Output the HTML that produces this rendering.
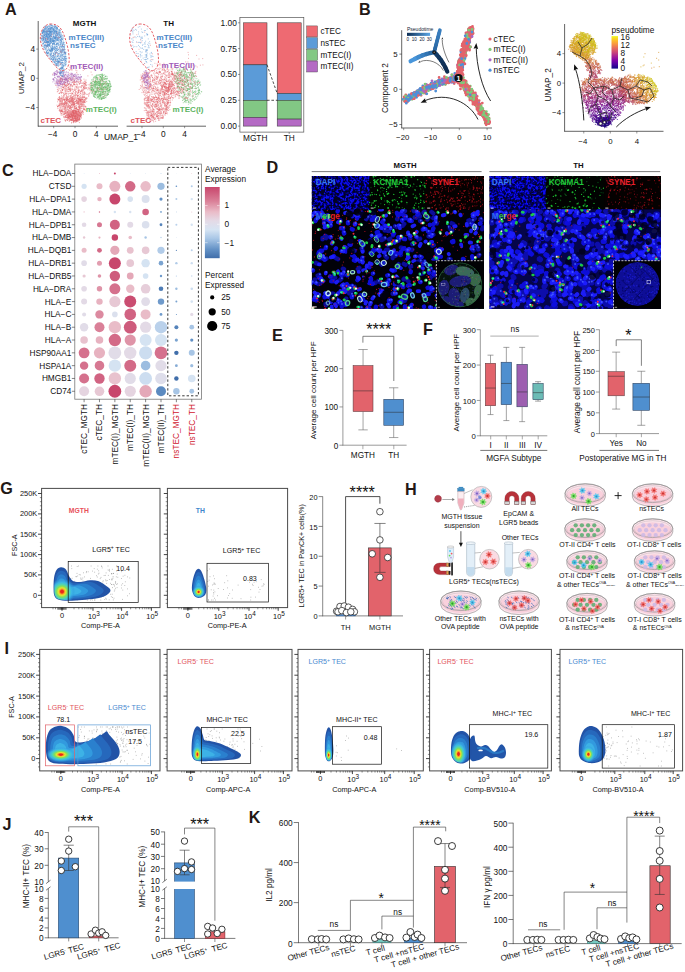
<!DOCTYPE html>
<html><head><meta charset="utf-8"><title>Figure</title>
<style>html,body{margin:0;padding:0;background:#fff}svg{display:block}text{font-family:'Liberation Sans', Arial, sans-serif}</style></head>
<body><svg width="685" height="972" viewBox="0 0 685 972">
<rect width="685" height="972" fill="#fff"/>
<text x="5.00" y="14.60" font-size="16.2" fill="#231815" text-anchor="start" font-weight="bold" >A</text>
<line x1="38.20" y1="21.00" x2="38.20" y2="126.50" stroke="#222" stroke-width="0.7" />
<line x1="37.90" y1="126.20" x2="118.00" y2="126.20" stroke="#222" stroke-width="0.7" />
<line x1="126.60" y1="126.20" x2="206.00" y2="126.20" stroke="#222" stroke-width="0.7" />
<line x1="53.68" y1="126.20" x2="53.68" y2="128.20" stroke="#333" stroke-width="0.5" />
<text x="52.68" y="137.10" font-size="8.3" fill="#111" text-anchor="middle" font-weight="normal" >−4</text>
<line x1="75.00" y1="126.20" x2="75.00" y2="128.20" stroke="#333" stroke-width="0.5" />
<text x="75.00" y="137.10" font-size="8.3" fill="#111" text-anchor="middle" font-weight="normal" >0</text>
<line x1="96.32" y1="126.20" x2="96.32" y2="128.20" stroke="#333" stroke-width="0.5" />
<text x="96.32" y="137.10" font-size="8.3" fill="#111" text-anchor="middle" font-weight="normal" >4</text>
<line x1="141.98" y1="126.20" x2="141.98" y2="128.20" stroke="#333" stroke-width="0.5" />
<text x="140.98" y="137.10" font-size="8.3" fill="#111" text-anchor="middle" font-weight="normal" >−4</text>
<line x1="163.30" y1="126.20" x2="163.30" y2="128.20" stroke="#333" stroke-width="0.5" />
<text x="163.30" y="137.10" font-size="8.3" fill="#111" text-anchor="middle" font-weight="normal" >0</text>
<line x1="184.62" y1="126.20" x2="184.62" y2="128.20" stroke="#333" stroke-width="0.5" />
<text x="184.62" y="137.10" font-size="8.3" fill="#111" text-anchor="middle" font-weight="normal" >4</text>
<line x1="36.20" y1="107.50" x2="38.20" y2="107.50" stroke="#333" stroke-width="0.5" />
<text x="35.00" y="110.20" font-size="8.3" fill="#111" text-anchor="end" font-weight="normal" >−4</text>
<line x1="36.20" y1="78.30" x2="38.20" y2="78.30" stroke="#333" stroke-width="0.5" />
<text x="35.00" y="81.00" font-size="8.3" fill="#111" text-anchor="end" font-weight="normal" >0</text>
<line x1="36.20" y1="49.10" x2="38.20" y2="49.10" stroke="#333" stroke-width="0.5" />
<text x="35.00" y="51.80" font-size="8.3" fill="#111" text-anchor="end" font-weight="normal" >4</text>
<text x="23.60" y="78.00" font-size="8" fill="#111" text-anchor="middle" font-weight="normal" transform="rotate(-90 23.60 78.00)" >UMAP_2</text>
<text x="121.00" y="140.30" font-size="8.5" fill="#111" text-anchor="middle" font-weight="normal" >UMAP_1</text>
<text x="84.60" y="25.80" font-size="8.0" fill="#111" text-anchor="middle" font-weight="bold" >MGTH</text>
<text x="168.70" y="25.80" font-size="8.0" fill="#111" text-anchor="middle" font-weight="bold" >TH</text>
<path transform="translate(52 66) scale(.1)" d="M138 238h0M319 217h0M303 252h0M160 309h0M159 233h0M96 230h0M130 194h0M324 191h0M219 187h0M226 142h0M256 311h0M267 368h0M53 258h0M205 123h0M275 340h0M246 181h0M316 242h0M220 300h0M102 334h0M276 321h0M122 337h0M108 136h0M359 237h0M262 297h0M331 176h0M143 277h0M105 242h0M361 220h0M266 375h0M274 177h0M313 180h0M338 166h0M186 197h0M288 151h0M120 221h0M75 307h0M195 318h0M267 247h0M328 269h0M318 193h0M236 165h0M156 140h0M150 320h0M286 138h0M163 215h0M272 241h0M233 323h0M299 198h0M206 205h0M80 152h0M146 188h0M150 259h0M321 316h0M236 356h0M288 255h0M84 244h0M111 138h0M231 315h0M161 330h0M218 155h0M377 239h0M159 334h0M96 299h0M112 218h0M130 340h0M254 279h0M224 184h0M301 229h0M280 211h0M165 233h0M59 254h0M377 188h0M307 240h0M37 194h0M343 283h0M328 269h0M168 300h0M61 233h0M182 229h0M82 185h0M243 232h0M324 259h0M351 320h0M250 168h0M323 176h0M236 292h0M235 248h0M53 169h0M261 245h0M98 264h0M115 298h0M154 152h0M68 161h0M108 263h0M289 365h0M99 183h0M70 275h0M139 163h0M147 133h0M301 284h0M205 310h0M110 203h0M115 215h0M207 345h0M154 107h0M316 210h0M104 214h0M170 337h0M182 127h0M371 277h0M78 141h0M213 136h0M258 277h0M313 354h0M277 305h0M124 132h0M276 362h0M166 311h0M84 127h0M147 239h0M239 258h0M185 243h0M392 249h0M186 274h0M253 189h0M288 274h0M125 160h0M186 118h0M87 139h0M144 279h0M333 190h0M141 341h0M293 143h0M307 317h0M115 278h0M118 182h0M221 242h0M214 255h0M117 319h0M221 186h0M106 243h0M199 270h0M225 105h0M347 326h0M366 302h0M114 214h0M205 278h0M186 294h0M127 208h0M233 237h0M270 331h0M108 237h0M177 274h0M130 132h0M196 282h0M191 185h0M320 230h0M160 189h0M274 182h0M287 160h0M175 239h0M189 205h0M79 151h0M269 239h0M185 310h0M162 254h0M146 204h0M227 159h0M131 240h0M205 325h0M258 266h0M338 161h0M74 228h0M80 265h0M247 150h0M283 271h0M204 359h0M344 168h0M110 306h0M162 212h0M224 334h0M294 215h0M152 303h0M286 292h0M323 177h0M252 326h0M189 234h0M343 226h0M129 100h0M153 315h0M167 257h0M165 351h0M133 260h0M304 354h0M311 281h0M94 317h0M90 191h0M145 321h0M189 132h0M172 202h0M295 199h0M299 251h0M191 231h0M209 339h0M89 222h0M227 231h0M261 230h0M201 273h0M164 281h0M291 143h0M285 301h0M263 256h0M299 247h0M140 147h0M117 335h0M144 294h0M177 159h0M97 123h0M86 141h0M97 327h0M222 159h0M231 264h0M206 162h0M198 342h0M176 230h0M383 174h0M282 251h0M318 214h0M233 202h0M291 338h0M362 188h0M226 171h0M332 211h0M296 172h0M169 210h0M119 104h0M325 367h0M122 170h0M178 133h0M281 208h0M245 373h0M379 267h0M92 264h0M340 223h0M328 150h0M105 189h0M281 343h0M135 251h0M226 243h0M244 344h0M130 249h0M101 245h0M316 382h0M215 174h0M261 214h0M89 259h0M319 364h0M385 218h0M128 139h0M203 320h0M125 340h0M304 173h0M275 336h0M340 336h0M136 195h0M383 189h0M149 310h0M104 238h0M183 252h0M255 301h0M185 350h0M201 307h0M192 193h0M262 353h0M329 176h0M132 319h0M284 341h0M100 348h0M192 183h0M144 302h0M145 196h0M316 218h0M315 209h0M161 218h0M96 107h0M218 300h0M324 222h0M302 307h0M85 130h0M303 301h0M121 338h0M325 206h0M159 155h0M198 148h0M235 276h0M254 134h0M275 324h0M93 276h0M330 155h0M281 348h0M137 276h0M328 176h0M324 272h0M317 232h0M196 357h0M97 156h0M177 322h0M158 190h0M323 226h0M168 184h0M193 313h0M320 132h0M54 234h0M260 354h0M217 148h0M221 129h0M327 314h0M183 191h0M77 310h0M163 123h0M99 327h0M255 153h0M268 158h0M285 272h0M316 308h0M295 353h0M308 365h0M177 119h0M109 189h0M61 133h0M219 187h0M139 314h0M180 301h0M122 290h0M135 165h0M218 112h0M130 161h0M182 130h0M210 305h0M334 191h0M124 186h0M151 241h0M259 296h0M129 283h0M223 294h0M83 125h0M369 223h0M309 272h0M256 297h0M158 337h0M193 146h0M128 198h0M391 247h0M76 174h0M172 347h0M163 227h0M222 183h0M142 327h0M269 261h0M167 138h0M262 268h0M278 174h0M247 209h0M340 140h0M199 339h0M209 278h0M79 168h0M189 245h0M326 303h0M335 183h0M120 292h0M242 257h0M129 185h0M300 204h0M209 365h0M124 181h0M241 124h0M244 154h0M260 223h0M72 200h0M344 191h0M160 277h0M139 270h0M304 195h0M212 261h0M164 185h0M91 258h0M290 257h0M202 222h0M283 172h0M290 252h0M266 355h0M131 227h0M150 131h0M240 285h0M189 360h0M48 197h0M316 170h0M175 326h0M168 182h0M346 214h0M119 232h0M300 241h0M232 186h0M376 226h0M354 284h0M370 213h0M182 218h0M333 212h0M320 310h0M231 157h0M121 303h0M100 267h0M322 286h0M251 188h0M43 164h0M245 218h0M134 196h0M199 337h0M213 166h0M233 303h0M291 332h0M138 164h0M311 387h0M120 270h0M207 198h0M312 162h0M177 232h0M130 283h0M76 161h0M283 330h0M267 265h0M312 366h0M188 332h0M160 178h0M181 254h0M123 176h0M106 235h0M207 332h0M269 243h0M332 277h0M113 329h0M220 357h0M285 152h0M319 261h0M230 219h0M215 382h0M103 150h0M180 238h0M179 226h0M279 347h0M67 218h0M207 236h0M86 130h0M281 381h0M63 245h0M240 262h0M367 291h0M112 211h0M243 290h0M194 297h0M78 350h0M179 159h0M75 275h0M242 313h0M220 287h0M136 130h0M329 163h0M154 171h0M150 253h0M239 355h0M231 273h0M239 293h0M307 264h0M278 356h0M263 297h0M101 130h0M344 193h0M210 330h0M286 371h0M211 326h0M203 139h0M244 206h0M334 227h0M132 222h0M60 151h0M143 203h0M201 197h0M144 227h0M187 309h0M104 134h0M155 195h0M308 300h0M370 279h0M249 211h0M142 133h0M174 351h0M295 242h0M208 238h0M104 143h0M173 177h0M69 314h0M264 258h0M169 237h0M152 171h0M203 274h0M255 299h0M118 183h0M261 208h0M266 166h0M286 349h0M223 164h0M100 111h0M272 287h0M319 286h0M203 166h0M271 153h0M140 213h0M167 148h0M138 132h0M161 417h0M150 394h0M110 457h0M234 455h0M210 511h0M318 343h0M164 437h0M87 401h0M183 334h0M177 353h0M175 394h0M71 338h0M202 321h0M151 336h0M247 486h0M89 425h0M261 347h0M290 469h0M59 426h0M249 436h0M141 369h0M236 373h0M271 400h0M217 555h0M219 528h0M79 445h0M223 359h0M244 475h0M182 510h0M98 332h0M234 469h0M260 529h0M184 444h0M227 408h0M282 508h0M111 488h0M126 390h0M223 444h0M215 381h0M283 349h0M69 394h0M211 528h0M145 344h0M131 370h0M105 354h0M246 344h0M240 425h0M238 419h0M89 325h0M99 388h0M193 534h0M169 446h0M263 448h0M109 453h0M306 454h0M73 380h0M260 411h0M95 452h0M291 487h0M132 382h0M75 393h0M211 541h0M142 514h0M333 405h0M133 468h0M292 349h0M225 544h0M246 541h0M198 478h0M283 420h0M175 496h0M80 442h0M104 448h0M196 397h0M258 455h0M194 534h0M77 350h0M347 356h0M197 417h0M134 445h0M311 426h0M230 563h0M185 410h0M182 509h0M224 553h0M154 329h0M248 551h0M303 392h0M268 412h0M243 449h0M111 435h0M175 363h0M282 382h0M176 424h0M298 403h0M157 413h0M204 340h0M80 397h0M281 352h0M272 493h0M321 436h0M247 368h0M262 328h0M281 472h0M136 357h0M190 492h0M215 392h0M210 352h0M224 419h0M285 336h0M101 376h0M181 397h0M224 431h0M148 483h0M214 364h0M163 477h0M224 428h0M200 463h0M302 318h0M73 321h0M336 324h0M167 483h0M323 400h0M112 376h0M110 386h0M183 374h0M151 453h0M122 373h0M312 465h0M238 560h0M280 498h0M162 397h0M195 430h0M100 490h0M233 441h0M187 415h0M281 501h0M91 477h0M156 540h0M297 464h0M298 360h0M171 512h0M200 535h0M161 477h0M252 551h0M233 470h0M153 381h0M256 436h0M79 328h0M272 400h0M121 477h0M131 402h0M153 515h0M252 537h0M212 408h0M318 360h0M338 328h0M94 449h0M146 497h0M227 384h0M179 325h0M305 330h0M213 452h0M254 493h0M152 350h0M224 445h0M242 557h0M218 366h0M156 545h0M138 397h0M251 550h0M298 316h0M216 480h0M86 377h0M281 506h0M330 334h0M263 369h0M249 480h0M257 524h0M256 439h0M167 356h0M143 475h0M243 455h0M295 463h0M166 338h0M88 436h0M134 358h0M296 422h0M255 516h0M219 377h0M207 371h0M143 470h0M107 427h0M139 516h0M118 513h0M178 427h0M205 517h0M211 532h0M248 373h0M139 360h0M261 349h0M309 458h0M171 454h0M211 470h0M197 384h0M235 550h0M89 378h0M215 391h0M68 397h0M263 491h0M58 404h0M315 482h0M250 550h0M146 342h0M231 485h0M214 560h0M262 326h0M237 354h0M214 433h0M166 388h0M91 473h0M327 336h0M273 414h0M142 502h0M312 354h0M262 366h0M213 472h0M165 382h0M141 388h0M50 392h0M124 485h0M240 483h0M138 470h0M263 457h0M264 437h0M129 509h0M196 542h0M213 466h0M71 392h0M244 413h0M132 378h0M134 367h0M204 317h0M241 422h0M137 375h0M173 447h0M316 424h0M216 472h0M316 347h0M293 380h0M162 492h0M146 385h0M215 372h0M122 344h0M274 566h0M67 397h0M308 458h0M94 379h0M125 334h0M84 349h0M204 511h0M198 489h0M67 332h0M313 371h0M299 373h0M292 427h0M89 322h0M280 399h0M66 336h0M147 348h0M163 473h0M332 401h0M215 495h0M276 430h0M276 427h0M275 470h0M193 541h0M155 408h0M197 328h0M215 340h0M312 396h0M300 372h0M262 474h0M230 541h0M143 372h0M250 429h0M106 457h0M310 315h0M178 352h0M254 512h0M136 498h0M89 445h0M246 444h0M255 514h0M167 488h0M249 544h0M226 381h0M160 486h0M212 359h0M290 464h0M218 383h0M190 381h0M139 415h0M224 408h0M161 409h0M140 329h0M323 388h0M268 511h0M244 332h0M215 567h0M190 394h0M237 462h0M142 516h0M296 327h0M81 453h0M56 358h0M283 355h0M280 466h0M321 317h0M201 390h0M262 384h0M230 423h0M79 339h0M194 382h0M218 326h0M242 511h0M65 335h0M244 426h0M151 500h0M273 390h0M154 359h0M302 474h0M238 339h0M304 342h0M205 534h0M151 439h0M338 408h0M184 402h0M175 422h0M229 477h0M120 425h0M157 497h0M173 411h0M286 482h0M82 453h0M106 383h0M236 526h0M149 465h0M100 434h0M133 452h0M149 430h0M174 472h0M251 458h0M263 535h0M188 322h0M266 436h0M275 518h0M85 416h0M246 424h0M193 438h0M289 333h0M224 527h0M263 348h0M119 406h0M148 369h0M206 384h0M83 451h0M329 356h0M96 443h0M329 433h0M107 470h0M144 340h0M235 426h0M317 406h0M100 415h0M170 370h0M170 489h0M281 451h0M195 351h0M254 372h0M292 386h0M183 425h0M270 429h0M154 463h0M223 525h0M175 481h0M221 361h0M256 538h0M179 544h0M224 379h0M262 379h0M208 416h0M244 545h0M217 312h0M158 454h0M277 466h0M96 474h0M300 456h0M304 445h0M81 386h0M238 529h0M265 337h0M183 533h0M175 526h0M258 311h0M296 404h0M103 456h0M175 338h0M327 437h0M203 472h0M262 373h0M180 432h0M288 336h0M224 339h0M224 382h0M327 351h0M131 373h0M120 474h0M195 339h0M151 321h0M274 428h0M287 315h0M127 469h0M116 486h0M201 524h0M334 343h0M267 330h0M211 390h0M192 496h0M187 484h0M117 382h0M339 322h0M302 382h0M200 380h0M250 542h0M238 500h0M75 329h0M66 337h0M84 334h0M155 462h0M326 362h0M316 433h0M241 394h0M57 404h0M233 465h0M131 425h0M140 335h0M227 450h0M177 504h0M232 546h0M134 401h0M178 365h0M205 403h0M268 531h0M271 494h0M121 384h0M317 332h0M86 464h0M124 451h0M197 416h0M289 389h0M274 401h0M307 361h0M117 411h0M112 399h0M169 506h0M248 508h0M202 391h0M227 371h0M133 474h0M192 343h0M137 456h0M290 370h0M125 430h0M142 534h0M208 382h0M163 450h0M129 462h0M275 372h0M144 348h0M141 515h0M161 340h0M107 448h0M136 430h0M177 418h0M299 334h0M302 335h0M90 366h0M95 456h0M250 363h0M259 439h0M118 376h0M229 328h0M294 521h0M198 323h0M244 415h0M70 406h0M184 347h0M326 431h0M279 453h0M168 448h0M182 412h0M193 438h0M183 410h0M253 342h0M170 487h0M213 521h0M136 551h0M136 438h0M118 505h0M267 366h0M264 324h0M187 513h0M130 475h0M187 320h0M82 354h0M128 332h0M67 335h0M254 368h0M270 405h0M225 472h0M258 356h0M221 332h0M176 504h0M269 409h0M134 498h0M233 427h0M146 489h0M252 329h0M195 570h0M290 446h0M95 443h0M341 316h0M168 407h0M279 344h0M264 387h0M190 344h0M211 348h0M196 353h0M261 328h0M134 547h0M74 379h0M164 408h0M286 346h0M167 520h0M182 540h0M203 443h0M231 406h0M273 494h0M267 457h0M189 404h0M209 449h0M221 320h0M245 347h0M198 564h0M203 361h0M105 319h0M136 543h0M173 550h0M333 366h0M162 502h0M130 487h0M231 508h0M131 474h0M91 383h0M256 533h0M114 392h0M77 318h0M144 443h0M61 342h0M258 519h0M143 403h0M338 411h0M114 462h0M203 359h0M288 480h0M149 411h0M271 316h0M262 454h0M270 503h0M152 468h0M191 497h0M319 412h0M220 474h0M215 346h0M128 333h0M146 366h0M278 498h0M140 459h0M114 317h0M185 482h0M220 461h0M181 500h0M322 354h0M268 442h0M107 402h0M189 473h0M152 455h0M272 492h0M125 386h0M235 531h0M324 340h0M286 408h0M125 453h0M303 385h0M108 406h0M151 536h0M236 495h0M189 460h0M274 336h0M289 498h0M150 329h0M261 479h0M247 399h0M79 365h0M161 399h0M171 398h0M334 443h0M302 338h0M271 515h0M247 427h0M189 540h0M167 354h0M228 398h0M285 409h0M235 503h0M127 539h0M157 476h0M74 420h0M278 383h0M201 464h0M235 444h0M182 404h0M205 356h0M72 444h0M130 412h0M148 376h0M157 525h0M301 454h0M230 455h0M251 514h0M181 509h0M280 337h0M120 399h0M162 518h0M99 374h0M196 529h0M176 508h0M138 426h0M184 354h0M147 393h0M220 361h0M275 523h0M251 380h0M298 398h0M159 360h0M192 363h0M154 430h0M125 381h0M92 355h0M91 455h0M325 430h0M173 551h0M209 464h0M150 541h0M242 493h0M149 491h0M228 502h0M179 476h0M56 330h0M104 345h0M183 500h0M283 437h0M251 525h0M155 343h0M112 338h0M124 518h0M234 506h0M271 464h0M133 414h0M151 374h0M247 358h0M254 469h0M303 407h0M203 501h0M152 330h0M222 399h0M269 333h0M93 392h0M194 495h0M314 438h0M299 482h0M98 368h0M295 490h0M286 321h0M225 412h0M226 385h0M120 369h0M93 402h0M264 462h0M162 432h0M273 414h0M127 410h0M203 546h0M276 530h0M184 427h0M178 358h0M295 349h0M148 372h0M217 476h0M128 355h0M132 415h0M158 517h0M75 436h0M185 531h0M136 505h0M280 451h0M179 358h0M224 388h0M303 335h0M325 353h0M308 335h0M99 340h0M131 509h0M91 351h0M252 437h0M79 381h0M262 455h0M255 510h0M56 406h0M292 389h0M192 485h0M174 532h0M201 334h0M270 500h0M220 501h0M271 442h0M55 408h0M156 486h0M91 490h0M204 376h0M101 361h0M286 421h0M217 492h0M106 368h0M274 416h0M126 365h0M227 372h0M103 380h0M231 401h0M96 444h0M128 348h0M198 414h0M223 506h0M198 511h0M88 347h0M236 530h0M125 434h0M255 368h0M161 464h0M215 468h0M233 519h0M242 532h0M230 472h0M203 504h0M221 516h0M204 510h0M215 450h0M207 452h0M190 452h0M228 497h0M204 459h0M260 475h0M211 473h0M282 511h0M177 505h0M230 477h0M248 461h0M242 546h0M291 515h0M217 467h0M208 458h0M278 525h0M270 463h0M200 517h0M202 490h0M235 510h0M200 464h0M204 451h0M198 507h0M216 499h0M201 486h0M209 471h0M178 512h0M231 508h0M208 451h0M211 482h0M156 509h0M232 509h0M269 537h0M162 489h0M227 504h0M253 505h0M203 545h0M163 528h0M242 458h0M164 520h0M229 547h0M230 540h0M223 549h0M237 454h0M253 489h0M193 483h0M160 499h0M230 526h0M238 479h0M182 481h0M275 532h0M192 482h0M202 512h0M157 513h0M205 524h0M235 519h0M211 459h0M259 497h0M247 504h0M183 468h0M166 515h0M179 462h0M212 472h0M243 501h0M262 454h0M245 548h0M244 464h0M234 494h0M249 482h0M201 451h0M211 464h0M232 500h0M270 507h0M243 477h0M194 475h0M258 491h0M244 491h0M248 512h0M192 480h0M187 512h0M215 553h0M248 538h0M269 523h0M269 529h0M190 505h0M231 538h0M239 528h0M226 465h0M267 508h0M257 489h0M216 543h0M286 505h0M243 528h0M210 494h0M230 479h0M162 512h0M213 445h0M266 485h0M207 493h0M203 452h0M174 495h0M281 500h0M238 457h0M182 509h0M267 534h0M232 441h0M283 532h0M207 492h0M220 493h0M202 496h0M253 502h0M287 476h0M240 530h0M179 481h0M265 452h0M197 536h0M190 509h0M182 462h0M209 468h0M208 513h0M217 451h0M187 538h0M207 532h0M193 470h0M245 546h0M219 448h0M259 511h0M292 503h0M260 548h0M196 457h0M194 495h0M213 508h0M254 523h0M278 483h0M228 513h0M166 511h0M237 540h0M169 511h0M191 532h0M205 525h0M164 513h0M244 514h0M231 520h0M276 535h0M244 548h0M160 494h0M211 547h0M235 499h0M249 540h0M208 494h0M257 487h0M214 484h0M237 546h0M285 498h0M243 522h0M197 494h0M255 480h0M171 494h0M281 487h0M231 476h0M211 488h0M197 484h0M245 475h0M215 558h0M213 545h0M235 528h0M231 446h0M261 539h0M277 483h0M247 457h0M229 546h0M210 505h0M228 462h0M245 527h0M225 513h0M178 526h0M267 452h0M216 550h0M219 454h0M231 447h0M226 483h0M266 510h0M210 501h0M214 521h0M221 525h0M229 493h0M196 485h0M226 504h0M219 473h0M215 451h0M287 477h0M292 494h0M177 500h0M277 469h0M243 466h0M239 459h0M272 542h0M198 499h0M207 494h0M241 463h0M192 546h0M215 537h0M228 512h0M215 481h0M180 488h0M233 480h0M235 504h0M262 490h0M202 488h0M266 548h0M264 488h0M265 494h0M214 474h0M240 506h0M243 452h0M238 461h0M166 532h0M183 455h0M225 527h0M168 466h0M283 486h0M171 464h0M214 480h0M273 541h0M219 484h0M201 512h0M222 490h0M160 508h0M252 466h0M249 492h0M168 508h0M241 476h0M199 509h0M232 497h0M232 544h0M273 526h0M253 480h0M221 501h0M189 506h0M190 471h0M284 502h0M219 448h0M274 475h0M246 491h0M233 463h0M254 530h0M247 546h0M265 471h0M251 468h0M257 532h0M217 502h0M210 534h0M192 543h0M468 120h0M494 207h0M509 312h0M523 178h0M502 155h0M535 163h0M432 122h0M512 263h0M420 259h0M415 233h0M396 213h0M556 224h0M534 235h0M538 174h0M554 219h0M525 303h0M507 139h0M483 196h0M455 225h0M500 216h0M420 279h0M408 156h0M511 231h0M487 186h0M418 142h0M479 136h0M564 194h0M429 251h0M428 161h0M496 130h0M538 289h0M520 177h0M444 154h0M449 162h0M460 260h0M534 261h0M467 233h0M411 184h0M490 186h0M442 151h0M487 287h0M507 270h0M481 222h0M444 190h0M494 233h0M449 226h0M494 177h0M495 247h0M409 253h0M460 248h0M511 119h0M462 221h0M472 238h0M518 283h0M484 178h0M403 211h0M471 222h0M487 105h0M517 186h0M543 181h0M519 229h0M509 143h0M408 195h0M460 217h0M459 121h0M486 144h0M489 149h0M399 198h0M399 244h0M499 232h0M238 41h0M326 35h0M359 99h0M177 45h0M180 13h0M373 17h0M188 34h0M312 44h0M87 26h0M170 35h0M199 5h0M417 3h0M251 81h0M247 65h0M60 60h0M401 88h0M198 88h0M6 82h0M177 79h0M391 61h0M296 14h0M332 1h0M249 48h0M199 33h0M199 42h0" stroke="#e2636b" stroke-width="6.4" stroke-linecap="square" fill="none" opacity="0.85"/>
<path transform="translate(52 70) scale(.1)" d="M165 60h0M202 78h0M103 65h0M246 61h0M270 83h0M140 113h0M91 131h0M14 89h0M94 128h0M86 28h0M201 98h0M108 135h0M197 34h0M86 76h0M160 46h0M179 74h0M201 69h0M219 67h0M137 44h0M79 29h0M226 44h0M97 88h0M111 29h0M52 172h0M21 32h0M52 41h0M60 59h0M57 143h0M88 167h0M189 46h0M101 120h0M243 112h0M83 47h0M122 22h0M124 57h0M110 38h0M97 167h0M47 133h0M208 51h0M106 148h0M63 159h0M92 110h0M141 51h0M122 73h0M126 90h0M174 55h0M18 93h0M151 54h0M214 60h0M164 30h0M97 22h0M92 123h0M265 47h0M51 3h0M143 83h0M149 107h0M87 132h0M130 132h0M88 5h0M239 62h0M128 95h0M115 44h0M103 13h0M129 51h0M114 128h0M50 112h0M63 67h0M60 79h0M228 47h0M45 18h0M152 92h0M147 95h0M98 53h0M190 32h0M214 82h0M127 67h0M292 68h0M97 85h0M135 80h0M211 62h0M208 113h0M60 138h0M161 117h0M103 104h0M55 66h0M78 37h0M94 58h0M76 98h0M194 95h0M251 74h0M26 28h0M88 28h0M33 15h0M43 85h0M219 55h0M42 108h0M290 75h0M86 113h0M276 75h0M114 119h0M125 117h0M58 71h0M165 47h0M164 73h0M43 120h0M197 84h0M283 73h0M159 85h0M102 85h0M145 93h0M134 75h0M62 142h0M284 47h0M79 38h0M31 33h0M290 66h0M56 121h0M119 74h0M51 12h0M64 156h0M93 16h0M117 121h0M63 117h0M192 58h0M58 24h0M119 92h0M68 68h0M282 82h0M22 48h0M286 88h0M217 55h0M117 82h0M268 70h0M23 50h0M29 132h0M18 102h0M100 94h0M159 62h0M242 62h0M16 91h0M175 77h0M139 143h0M34 140h0M249 77h0M141 99h0M127 129h0M161 107h0M48 31h0M35 41h0M270 72h0M128 92h0M134 44h0M47 46h0M200 77h0M256 81h0M182 66h0M26 52h0M52 66h0M234 41h0M149 27h0M148 61h0M232 94h0M183 89h0M157 72h0M9 52h0M61 120h0M263 93h0M213 48h0M163 85h0M74 153h0M229 66h0M28 56h0M9 94h0M94 112h0M8 119h0M136 92h0M188 42h0M156 117h0M236 74h0M18 29h0M47 6h0M79 36h0M125 97h0M59 154h0M295 66h0M56 132h0M80 119h0M24 35h0M24 38h0M261 66h0M74 68h0M200 34h0M29 34h0M269 71h0M128 48h0M63 134h0M58 18h0M118 33h0M92 91h0M53 102h0M186 89h0M94 143h0M252 48h0M55 30h0M144 78h0M52 133h0M10 89h0M63 23h0M85 136h0M102 115h0M203 93h0M39 45h0M91 20h0M120 22h0M42 117h0M143 14h0M138 27h0M46 48h0M44 43h0M57 99h0M78 155h0M140 87h0M237 53h0M241 85h0M72 62h0M119 57h0M206 38h0M31 79h0M29 75h0M200 46h0M17 98h0M88 144h0M77 26h0M165 87h0M189 103h0M111 63h0M33 34h0M25 47h0M48 141h0M104 69h0M85 111h0M190 50h0M64 108h0M152 68h0M218 59h0M27 73h0M137 105h0M73 134h0M119 116h0M72 62h0M22 110h0M108 135h0M45 98h0M162 22h0M79 76h0M110 97h0M82 140h0M74 33h0M274 91h0M243 85h0M136 126h0M197 66h0M128 97h0M131 163h0M123 100h0M190 104h0M223 108h0M193 128h0M221 89h0M148 99h0M76 108h0M154 125h0M79 117h0M85 133h0M140 83h0M250 98h0M184 145h0M249 120h0M284 129h0M225 106h0M265 99h0M253 83h0M79 91h0M157 113h0M107 145h0M161 136h0M283 97h0M65 109h0M176 134h0M159 104h0" stroke="#a868bd" stroke-width="6.4" stroke-linecap="square" fill="none" opacity="0.85"/>
<path transform="translate(90 74) scale(.1)" d="M93 102h0M29 88h0M62 104h0M104 24h0M160 75h0M157 27h0M182 68h0M125 2h0M92 218h0M28 190h0M109 27h0M173 197h0M203 156h0M137 74h0M33 193h0M106 5h0M66 10h0M127 95h0M156 125h0M102 203h0M48 138h0M10 91h0M111 114h0M198 78h0M103 156h0M9 93h0M206 102h0M152 189h0M93 86h0M78 94h0M86 76h0M128 14h0M175 95h0M115 245h0M54 40h0M211 122h0M142 37h0M72 116h0M180 115h0M190 163h0M114 58h0M116 255h0M148 138h0M39 36h0M162 77h0M162 222h0M57 190h0M116 38h0M22 140h0M45 83h0M78 56h0M80 141h0M188 103h0M53 20h0M18 189h0M123 121h0M166 158h0M136 40h0M132 138h0M193 131h0M124 202h0M137 135h0M143 153h0M108 138h0M76 164h0M160 46h0M162 75h0M100 74h0M67 156h0M51 82h0M125 23h0M51 234h0M117 43h0M55 175h0M150 176h0M13 127h0M180 100h0M79 10h0M67 52h0M131 166h0M81 138h0M106 215h0M72 149h0M68 35h0M189 176h0M93 18h0M127 56h0M34 112h0M105 179h0M98 213h0M129 17h0M31 93h0M172 189h0M158 19h0M58 138h0M30 160h0M195 73h0M160 142h0M105 106h0M136 178h0M140 81h0M71 169h0M52 184h0M51 188h0M102 199h0M79 72h0M126 43h0M167 50h0M98 115h0M174 47h0M126 97h0M82 10h0M49 81h0M41 171h0M49 233h0M206 122h0M169 151h0M129 86h0M177 168h0M104 145h0M122 144h0M102 179h0M46 110h0M110 230h0M126 150h0M14 156h0M49 89h0M141 103h0M150 232h0M74 33h0M170 215h0M124 3h0M196 164h0M54 107h0M146 9h0M88 232h0M178 202h0M53 101h0M101 221h0M29 146h0M150 97h0M96 208h0M133 77h0M61 102h0M188 113h0M97 124h0M21 96h0M159 181h0M107 90h0M171 99h0M166 128h0M9 120h0M184 165h0M150 129h0M200 173h0M201 98h0M107 216h0M104 154h0M96 28h0M109 203h0M56 53h0M101 96h0M92 97h0M102 168h0M168 177h0M66 34h0M110 195h0M132 123h0M96 86h0M62 92h0M48 199h0M52 133h0M169 199h0M10 153h0M142 175h0M128 200h0M171 119h0M167 151h0M175 176h0M111 241h0M124 38h0M63 76h0M180 98h0M69 15h0M130 169h0M156 175h0M106 23h0M41 103h0M115 116h0M127 69h0M47 127h0M49 77h0M109 51h0M134 225h0M180 167h0M191 138h0M119 171h0M135 244h0M142 211h0M59 116h0M134 11h0M26 118h0M86 249h0M142 56h0M83 226h0M62 184h0M127 185h0M97 230h0M153 135h0M99 42h0M177 147h0M40 161h0M70 108h0M33 205h0M151 49h0M56 176h0M84 232h0M147 92h0M29 160h0M162 100h0M79 59h0M58 92h0M75 206h0M21 141h0M155 138h0M172 125h0M182 109h0M82 186h0M80 172h0M19 58h0M111 30h0M26 179h0M73 109h0M151 199h0M146 128h0M119 214h0M36 124h0M79 87h0M77 160h0M49 27h0M202 107h0M49 101h0M76 137h0M54 124h0M146 201h0M51 177h0M54 204h0M133 154h0M102 223h0M69 38h0M31 151h0M110 60h0M117 250h0M133 135h0M136 229h0M64 181h0M184 202h0M86 96h0M8 151h0M85 143h0M63 182h0M128 104h0M97 6h0M110 64h0M111 36h0M99 250h0M83 209h0M113 135h0M103 238h0M108 143h0M92 64h0M88 174h0M66 99h0M71 89h0M197 148h0M119 51h0M55 120h0M129 181h0M63 38h0M45 203h0M174 154h0M192 156h0M14 93h0M47 87h0M101 76h0M137 241h0M15 86h0M39 131h0M88 175h0M108 77h0M72 78h0M180 117h0M69 246h0M90 11h0M71 90h0M126 153h0M119 203h0M185 124h0M62 22h0M82 164h0M129 159h0M108 215h0M90 75h0M73 230h0M15 156h0M210 122h0M181 101h0M180 118h0M110 175h0M124 174h0M81 228h0M80 178h0M38 169h0M146 122h0M60 81h0M160 237h0M49 86h0M143 91h0M144 244h0M132 243h0M20 151h0M33 58h0M89 107h0M85 91h0M112 122h0M73 130h0M120 240h0M104 219h0M124 202h0M53 103h0M117 95h0M45 101h0M154 139h0M201 142h0M191 163h0M24 171h0M20 61h0M18 193h0M153 48h0M140 51h0M102 192h0M82 74h0M58 194h0M55 185h0M120 15h0M197 156h0M113 190h0M75 134h0M129 97h0M91 80h0M125 26h0M126 112h0M120 13h0M21 142h0M110 253h0M150 171h0M53 199h0M103 204h0M132 103h0M37 110h0M188 96h0M119 184h0M18 137h0M156 25h0M18 115h0M156 109h0M147 241h0M55 77h0M184 115h0M184 199h0M67 91h0M106 189h0M209 126h0M186 139h0M200 130h0M37 74h0M125 157h0M96 130h0M159 102h0M53 65h0M80 223h0M74 231h0M68 178h0M43 225h0M108 35h0M49 118h0M137 98h0M117 233h0M125 31h0M97 204h0M44 119h0M93 110h0M71 129h0M12 115h0M64 164h0M98 95h0M63 138h0M117 179h0M199 117h0M160 46h0M125 138h0M79 235h0M39 38h0M11 81h0M115 153h0M71 201h0M131 229h0M147 143h0M191 65h0M75 155h0M173 161h0M19 155h0M28 135h0M111 42h0M27 112h0M62 24h0M150 192h0M94 115h0M8 149h0M123 64h0M152 118h0M31 75h0M58 201h0M136 201h0M191 163h0M167 157h0M88 201h0M88 83h0M69 47h0M139 190h0M138 161h0M74 45h0M135 140h0M161 60h0M55 74h0M17 162h0M103 62h0M126 247h0M57 66h0M167 111h0M172 203h0M38 153h0M98 134h0M197 76h0M170 122h0M77 106h0M106 216h0M73 71h0M188 179h0M98 170h0M34 212h0M160 85h0M51 150h0M95 54h0M147 76h0M46 223h0M24 183h0M122 244h0M127 230h0M52 76h0M165 97h0M2 121h0M167 161h0M51 207h0M15 109h0M199 88h0M187 98h0M63 172h0M118 205h0M198 96h0M72 55h0M197 182h0M99 135h0M10 135h0M34 164h0M199 153h0M128 185h0M61 211h0M184 184h0M11 170h0M38 224h0M169 136h0M126 61h0M95 248h0M170 24h0M170 214h0M43 216h0M172 41h0M90 214h0M57 209h0M46 200h0M193 155h0M180 145h0M119 105h0M200 127h0M97 210h0M119 121h0M33 161h0M118 50h0M89 226h0M86 118h0M64 176h0M184 204h0M47 181h0M99 94h0M97 242h0M32 48h0M115 3h0M57 232h0M106 81h0M199 136h0M150 26h0M165 138h0M109 128h0M61 139h0M35 219h0M126 111h0M41 30h0M78 102h0M114 147h0M94 176h0M106 90h0M133 175h0M92 77h0M70 148h0M134 202h0M172 84h0M115 148h0M147 216h0M133 101h0M111 8h0M115 103h0M173 209h0M156 213h0M116 249h0M94 99h0M86 116h0M19 110h0M94 219h0M89 193h0M113 151h0M125 121h0M78 203h0M49 147h0M141 129h0M90 114h0M135 137h0M144 50h0M52 111h0M153 234h0M153 159h0M98 111h0M75 84h0M160 139h0M71 216h0M57 171h0M95 152h0M96 154h0M178 132h0M57 32h0" stroke="#62b866" stroke-width="6.4" stroke-linecap="square" fill="none" opacity="0.85"/>
<path transform="translate(41 24) scale(.1)" d="M185 229h0M182 413h0M214 339h0M121 172h0M184 343h0M68 182h0M199 261h0M96 43h0M39 106h0M139 49h0M95 117h0M105 34h0M208 157h0M15 202h0M164 371h0M238 208h0M240 362h0M246 295h0M153 19h0M113 337h0M199 351h0M217 258h0M233 321h0M197 329h0M125 351h0M135 336h0M239 258h0M112 258h0M47 259h0M118 135h0M28 82h0M174 192h0M84 167h0M215 261h0M154 75h0M65 80h0M148 395h0M149 259h0M155 393h0M120 94h0M30 204h0M122 60h0M50 248h0M101 144h0M55 284h0M88 25h0M114 332h0M131 233h0M63 120h0M14 166h0M65 226h0M173 384h0M256 351h0M198 158h0M181 120h0M257 343h0M127 25h0M102 355h0M76 107h0M202 213h0M216 342h0M152 281h0M155 279h0M127 127h0M188 231h0M74 320h0M152 120h0M213 277h0M103 279h0M155 148h0M186 82h0M137 378h0M71 282h0M193 203h0M220 440h0M156 202h0M63 219h0M139 232h0M134 197h0M112 251h0M93 252h0M121 63h0M62 208h0M85 128h0M41 183h0M129 328h0M238 387h0M202 122h0M246 348h0M110 105h0M112 259h0M64 291h0M63 290h0M226 328h0M116 199h0M192 134h0M200 449h0M202 123h0M235 394h0M16 80h0M63 217h0M64 102h0M96 228h0M58 73h0M209 407h0M172 190h0M92 181h0M103 323h0M211 346h0M37 184h0M166 99h0M128 59h0M70 211h0M57 228h0M165 46h0M139 182h0M174 348h0M177 312h0M192 161h0M74 56h0M163 352h0M160 160h0M148 413h0M34 178h0M22 71h0M168 106h0M195 132h0M222 132h0M108 320h0M229 257h0M73 22h0M160 36h0M189 328h0M174 206h0M83 202h0M199 149h0M51 282h0M148 340h0M121 151h0M172 148h0M187 115h0M82 200h0M202 319h0M126 293h0M23 161h0M204 367h0M169 379h0M172 311h0M160 330h0M41 131h0M125 61h0M226 259h0M129 57h0M45 87h0M76 174h0M163 325h0M68 135h0M38 235h0M95 54h0M139 297h0M188 64h0M51 128h0M194 403h0M67 57h0M142 161h0M143 357h0M192 243h0M164 265h0M88 215h0M159 95h0M118 78h0M50 141h0M221 389h0M226 306h0M179 376h0M43 39h0M126 51h0M162 42h0M127 352h0M145 300h0M167 52h0M157 224h0M188 270h0M223 261h0M73 159h0M131 169h0M54 106h0M219 343h0M178 375h0M207 140h0M191 62h0M7 113h0M134 233h0M119 192h0M240 255h0M78 137h0M250 283h0M102 102h0M151 287h0M73 215h0M192 203h0M163 134h0M159 41h0M210 261h0M170 406h0M188 212h0M241 324h0M68 130h0M191 114h0M119 69h0M84 250h0M189 221h0M66 296h0M163 230h0M65 28h0M105 181h0M248 324h0M107 130h0M53 112h0M236 334h0M172 163h0M170 416h0M71 310h0M107 216h0M32 50h0M134 37h0M16 94h0M38 73h0M98 164h0M63 74h0M102 125h0M112 352h0M125 317h0M223 169h0M194 110h0M46 121h0M148 341h0M102 252h0M39 212h0M129 337h0M125 170h0M230 228h0M163 393h0M134 33h0M188 309h0M30 54h0M201 254h0M212 383h0M137 143h0M73 185h0M131 252h0M116 319h0M25 147h0M75 208h0M89 267h0M145 136h0M155 133h0M195 448h0M215 215h0M179 373h0M56 276h0M152 108h0M202 287h0M91 268h0M189 134h0M77 98h0M142 377h0M144 235h0M21 140h0M177 140h0M175 378h0M240 365h0M58 109h0M237 375h0M81 222h0M169 80h0M117 218h0M191 273h0M20 118h0M237 286h0M124 356h0M248 402h0M102 327h0M193 441h0M91 318h0M216 414h0M97 152h0M194 402h0M83 184h0M233 186h0M107 46h0M170 194h0M148 352h0M159 411h0M91 313h0M155 59h0M140 208h0M43 52h0M152 158h0M125 297h0M185 105h0M120 99h0M215 436h0M114 33h0M116 370h0M169 143h0M26 33h0M192 98h0M134 78h0M107 167h0M19 72h0M172 299h0M205 229h0M101 67h0M44 143h0M109 36h0M128 243h0M216 402h0M149 32h0M25 190h0M186 134h0M208 229h0M232 274h0M159 375h0M40 153h0M195 280h0M216 320h0M173 255h0M31 229h0M242 324h0M228 421h0M158 406h0M88 80h0M189 388h0M60 108h0M93 75h0M88 67h0M171 366h0M47 73h0M198 399h0M205 167h0M14 87h0M166 411h0M230 226h0M42 154h0M96 148h0M36 48h0M19 80h0M146 133h0M166 313h0M205 189h0M219 242h0M107 296h0M216 255h0M154 411h0M158 242h0M33 131h0M103 350h0M88 332h0M135 11h0M123 372h0M194 365h0M160 374h0M124 131h0M99 11h0M111 270h0M90 190h0M64 95h0M160 249h0M149 321h0M69 213h0M120 349h0M98 79h0M80 270h0M100 15h0M67 129h0M164 115h0M158 46h0M49 249h0M232 403h0M43 21h0M40 240h0M172 89h0M136 254h0M131 76h0M162 256h0M213 227h0M91 264h0M81 90h0M78 18h0M191 386h0M53 212h0M63 175h0M82 40h0M166 323h0M108 183h0M139 144h0M149 205h0M72 152h0M173 377h0M96 73h0M171 117h0M173 378h0M250 348h0M169 363h0M85 121h0M218 436h0M103 252h0M168 419h0M50 42h0M137 126h0M236 285h0M132 96h0M192 204h0M75 175h0M165 160h0M87 224h0M76 131h0M52 115h0M201 335h0M16 81h0M96 270h0M73 224h0M106 75h0M6 140h0M161 394h0M69 184h0M155 77h0M113 263h0M15 95h0M62 224h0M180 257h0M66 142h0M187 133h0M132 190h0M194 379h0M40 101h0M53 127h0M136 28h0M77 150h0M119 232h0M36 115h0M171 134h0M60 259h0M183 343h0M67 175h0M141 271h0M100 154h0M52 66h0M148 33h0M204 362h0M134 141h0M146 26h0M60 301h0M98 158h0M171 342h0M199 355h0M165 385h0M199 274h0M231 286h0M122 249h0M117 233h0M162 165h0M57 275h0M202 311h0M170 391h0M222 185h0M108 98h0M105 344h0M198 118h0M141 100h0M57 302h0M181 368h0M121 315h0M234 219h0M91 37h0M47 173h0M236 292h0M53 75h0M57 187h0M168 154h0M245 352h0M80 69h0M215 363h0M138 369h0M18 169h0M93 339h0M98 236h0M91 288h0M143 23h0M96 352h0M229 415h0M114 28h0M98 319h0M145 241h0M155 247h0M207 231h0M60 293h0M233 354h0M229 227h0M225 356h0M247 387h0M211 405h0M206 144h0M185 345h0M85 113h0M196 159h0M48 110h0M209 289h0M210 192h0M248 394h0M162 286h0M57 231h0M106 348h0M63 218h0M208 438h0M169 70h0M220 365h0M114 51h0M66 294h0M120 163h0M178 128h0M97 270h0M190 259h0M104 15h0M95 105h0M177 396h0M13 130h0M140 219h0M66 32h0M45 148h0M76 256h0M74 72h0M44 76h0M249 345h0M108 261h0M129 47h0M73 241h0M195 192h0M151 341h0M239 328h0M89 78h0M73 292h0M34 121h0M50 129h0M221 205h0M105 301h0M164 354h0M95 90h0M126 42h0M159 131h0M60 266h0M204 174h0M203 328h0M27 134h0M197 225h0M40 31h0M178 160h0M8 143h0M98 316h0M220 187h0M1 163h0M36 214h0M67 315h0M133 385h0M82 214h0M160 79h0M184 54h0M25 70h0M4 150h0M236 210h0M26 155h0M94 149h0M234 258h0M77 133h0M213 305h0M77 48h0M156 401h0M36 135h0M114 241h0M204 297h0M223 233h0M177 94h0M48 105h0M80 190h0M91 52h0M134 349h0M248 301h0M53 80h0M32 98h0M115 361h0M163 195h0M89 113h0M46 169h0M46 42h0M227 192h0M161 47h0M52 182h0M166 222h0M137 284h0M98 174h0M41 216h0M241 284h0M89 93h0M228 268h0M68 265h0M144 246h0M148 229h0M209 137h0M235 343h0M94 297h0M44 166h0M130 321h0M185 94h0M138 62h0M129 323h0M157 172h0M98 36h0M206 118h0M129 250h0M27 196h0M227 423h0M76 182h0M156 199h0M153 80h0M132 171h0M132 245h0M173 272h0M175 147h0M204 144h0M62 163h0M39 229h0M180 88h0M15 145h0M240 332h0M47 98h0M140 44h0M57 73h0M181 349h0M217 277h0M65 207h0M122 161h0M143 408h0M181 112h0M78 72h0M95 271h0M146 323h0M116 210h0M173 319h0M158 290h0M158 190h0M200 447h0M117 159h0M170 201h0M162 136h0M112 244h0M186 238h0M113 260h0M191 358h0M30 242h0M18 196h0M89 305h0M145 285h0M153 203h0M67 196h0M63 218h0M210 438h0M189 375h0M182 179h0M225 199h0M124 333h0M200 228h0M87 125h0M122 315h0M135 86h0M153 84h0M234 234h0M227 415h0M160 199h0M63 150h0M193 258h0M19 83h0M247 367h0M49 149h0M194 306h0M161 120h0M211 283h0M131 16h0M181 84h0M82 87h0M76 283h0M120 238h0M218 435h0M134 163h0M212 301h0M93 137h0M71 101h0M6 144h0M105 159h0M200 174h0M159 100h0M46 208h0M191 85h0M200 385h0M246 348h0M155 72h0M68 209h0M128 177h0M162 360h0M122 355h0M115 331h0M161 151h0M4 152h0M141 297h0M139 80h0M119 166h0M147 144h0M153 418h0M193 324h0M134 166h0M54 120h0M209 200h0M144 281h0M172 168h0M242 331h0M185 446h0M27 84h0M31 146h0M11 179h0M197 166h0M58 215h0M127 189h0M235 248h0M125 197h0M78 297h0M246 405h0M191 106h0M168 324h0M106 112h0M67 204h0M123 289h0M212 205h0M134 340h0M56 100h0M179 161h0M98 249h0M249 407h0M96 87h0M96 3h0M134 201h0M135 389h0M43 22h0M215 116h0M140 382h0M156 165h0M71 253h0M204 388h0M97 172h0M50 60h0M48 241h0M106 265h0M81 68h0M70 108h0M215 383h0M193 71h0M192 286h0M108 90h0M57 113h0M76 210h0M116 225h0M150 367h0M38 221h0M239 303h0M135 204h0M41 75h0M213 313h0M203 390h0M157 209h0M163 265h0M164 101h0M229 345h0M27 188h0M90 142h0M72 29h0M135 98h0M210 424h0M164 291h0M148 314h0M52 54h0M206 105h0M49 24h0M19 60h0M53 25h0M102 146h0M124 369h0M227 226h0M251 329h0M138 65h0M29 72h0M150 127h0M162 188h0M227 323h0M188 241h0M175 214h0M143 401h0M90 11h0M107 250h0M241 299h0M175 254h0M23 152h0M142 28h0M242 288h0M204 363h0M207 171h0M216 450h0M167 240h0M92 268h0M167 160h0M115 44h0M159 243h0M117 54h0M216 226h0M34 254h0M155 225h0M100 232h0M60 114h0M101 62h0M148 97h0M211 383h0M6 88h0M147 130h0M34 214h0M92 55h0M105 49h0M26 103h0M112 196h0M195 128h0M149 246h0M75 105h0M159 28h0M235 240h0M66 153h0M86 262h0M232 350h0M115 16h0M220 427h0M69 288h0M15 84h0M80 138h0M193 160h0M117 262h0M149 148h0M98 340h0M113 226h0M97 193h0M101 126h0M24 60h0M231 271h0M249 384h0M89 298h0M211 243h0M64 266h0M73 287h0M188 64h0M36 90h0M117 357h0M222 402h0M46 143h0M126 193h0M219 387h0M101 98h0M120 315h0M245 418h0M217 155h0M120 178h0M232 349h0M184 380h0M216 206h0M59 222h0M105 19h0M106 41h0M124 178h0M244 294h0M96 303h0M127 169h0M21 101h0M153 99h0M135 273h0M31 232h0M220 225h0M76 70h0M201 191h0M112 280h0M228 203h0M210 142h0M148 360h0M181 293h0M85 214h0M176 400h0M26 166h0M173 81h0M53 123h0M212 155h0M158 55h0M207 350h0M19 91h0M24 152h0M169 104h0M130 381h0M238 283h0M30 135h0M98 118h0M232 281h0M75 237h0M197 125h0M194 125h0M103 288h0M122 246h0M178 100h0M250 365h0M150 264h0M113 249h0M196 315h0M69 23h0M48 35h0M208 312h0M35 115h0M47 250h0M166 157h0M79 179h0M189 187h0M124 302h0M126 55h0M194 89h0M84 153h0M140 261h0M138 146h0M179 61h0M130 307h0M161 35h0M208 173h0M80 107h0M137 328h0M118 198h0M115 79h0M173 210h0M49 212h0M255 374h0M227 361h0M121 166h0M76 104h0M202 280h0M180 172h0M57 94h0M86 32h0M157 201h0M50 215h0M107 248h0M99 81h0M76 146h0M95 305h0M162 78h0M109 231h0M19 67h0M102 9h0M70 185h0M124 85h0M174 127h0M71 49h0M179 56h0M19 156h0M129 91h0M84 108h0M245 366h0M147 117h0M207 154h0M87 151h0M145 390h0M84 97h0M110 166h0M143 21h0M179 294h0M122 119h0M220 415h0M113 174h0M239 411h0M49 225h0M100 270h0M112 247h0M224 147h0M153 281h0M32 176h0M70 182h0M163 148h0M145 302h0M87 132h0M151 138h0M47 212h0M88 50h0M120 263h0M67 36h0M218 251h0M179 70h0M198 212h0M19 63h0M153 258h0M62 53h0M22 221h0M180 376h0M226 181h0M157 43h0M220 123h0M77 108h0M81 207h0M154 220h0M51 186h0M85 20h0M47 161h0M112 270h0M86 63h0M185 78h0M156 376h0M46 104h0M158 399h0M36 142h0M204 273h0M126 345h0M54 40h0M142 359h0M113 17h0M217 387h0M39 44h0M134 307h0M246 287h0M105 300h0M208 269h0M87 267h0M105 242h0M175 343h0M214 149h0M249 376h0M93 166h0M153 34h0M70 189h0M111 246h0M103 274h0M58 181h0M81 52h0M108 257h0M41 183h0M136 223h0M205 393h0M38 49h0M140 186h0M177 385h0M95 200h0M185 358h0M130 359h0M212 309h0M172 298h0M61 37h0M128 103h0M92 69h0M56 177h0M204 90h0M120 71h0M50 50h0M107 121h0M139 58h0M13 160h0M125 123h0M145 78h0M127 91h0M91 219h0M223 251h0M54 284h0M188 294h0M20 221h0M219 425h0M161 111h0M193 170h0M117 255h0M132 30h0M135 195h0M125 66h0M209 281h0M147 118h0M175 421h0M161 61h0M202 417h0M131 230h0M219 266h0M233 287h0M185 149h0M54 231h0M163 262h0M102 91h0M39 208h0M134 252h0M165 144h0M217 321h0M98 157h0M27 60h0M82 210h0M146 265h0M62 89h0M231 360h0M156 90h0M193 187h0M171 372h0M246 310h0M58 175h0M188 347h0M145 352h0M125 127h0M228 300h0M191 153h0M61 179h0M5 121h0M146 46h0M52 122h0M94 28h0M143 299h0M162 38h0M239 279h0M217 198h0M22 196h0M229 290h0M60 119h0M127 100h0M213 362h0M159 356h0M202 183h0M161 200h0M181 329h0M209 262h0M56 165h0M118 29h0M177 106h0M155 412h0M87 260h0M171 93h0M53 290h0M214 214h0M39 79h0M198 264h0M139 378h0M86 47h0M217 216h0M8 116h0M98 192h0M105 106h0M141 146h0M99 177h0M92 175h0M98 90h0M119 200h0M114 73h0M121 125h0M153 81h0M49 157h0M66 139h0M97 182h0M142 74h0M121 200h0M34 167h0M95 47h0M65 151h0M138 151h0M119 201h0M24 133h0M88 169h0M61 99h0M121 169h0M75 50h0M40 56h0M100 113h0M86 80h0M107 52h0M126 177h0M116 174h0M111 84h0M34 111h0M135 134h0M89 60h0M91 75h0M63 152h0M115 151h0M84 76h0M86 128h0M96 113h0M90 161h0M139 121h0M160 114h0M84 78h0M91 106h0M110 39h0M56 42h0M63 133h0M20 138h0M144 173h0M129 119h0M53 83h0M56 86h0M29 68h0M102 73h0M31 156h0M68 150h0M35 117h0M112 169h0M103 91h0M145 105h0M89 146h0M49 125h0M81 172h0M100 125h0M100 59h0M152 155h0M140 140h0M95 87h0M51 154h0M78 115h0M146 160h0M80 74h0M127 57h0M86 197h0M147 140h0M92 173h0M22 125h0M68 128h0M80 207h0M73 106h0M30 70h0M19 122h0M133 77h0M87 101h0M93 151h0M60 168h0M71 95h0M32 76h0M97 147h0M78 74h0M105 184h0M139 76h0M59 68h0M70 147h0M78 88h0M104 34h0M24 153h0M130 138h0M148 81h0M148 90h0M67 70h0M18 98h0M34 67h0M80 203h0M103 149h0M83 122h0M52 87h0M33 105h0M88 95h0M143 147h0M144 171h0M106 72h0M102 85h0M28 142h0M150 66h0M96 115h0M68 184h0M36 89h0M24 125h0M44 158h0M90 128h0M97 78h0M80 73h0M91 190h0M52 97h0M68 99h0M56 136h0M79 125h0M122 153h0M39 90h0M111 72h0M66 175h0M122 49h0M120 140h0M119 145h0M93 167h0M116 175h0M100 35h0M149 81h0M89 201h0M73 111h0M26 114h0M94 75h0M137 134h0M27 73h0M80 165h0M83 207h0M58 90h0M144 133h0M89 45h0M93 46h0M16 117h0M55 182h0M69 129h0M34 174h0M38 89h0M67 182h0M146 114h0M68 49h0M138 67h0M32 115h0M99 139h0M75 46h0M117 202h0M148 131h0M69 118h0M24 82h0M49 166h0M131 77h0M124 48h0M65 72h0M140 137h0M128 168h0M156 95h0M122 110h0M64 69h0M33 62h0M45 138h0M49 187h0M29 73h0M108 38h0M74 45h0M68 71h0M63 199h0M102 78h0M49 63h0M63 85h0M146 68h0M140 60h0M84 90h0M119 143h0M137 173h0M119 154h0M61 125h0M120 140h0M132 81h0M53 187h0M39 185h0M198 513h0M197 511h0M209 443h0M222 509h0M223 486h0M207 487h0M221 473h0M219 526h0M202 512h0M188 485h0M212 471h0M217 513h0M214 440h0M232 468h0M228 470h0M210 485h0M201 494h0M190 497h0M216 522h0M222 520h0M204 447h0M191 484h0M204 489h0M216 449h0M196 441h0M213 442h0M204 433h0M198 476h0M186 472h0M193 477h0M205 458h0M213 475h0M196 494h0M228 449h0M204 437h0M229 453h0M214 517h0M230 456h0M219 496h0M194 490h0" stroke="#4f8fcf" stroke-width="6.4" stroke-linecap="square" fill="none" opacity="0.8"/>
<path transform="translate(42 31) scale(.1)" d="M172 68h0M49 151h0M159 235h0M189 325h0M49 80h0M59 94h0M146 48h0M153 20h0M172 314h0M198 189h0M42 75h0M9 69h0M136 222h0M135 293h0M170 171h0M182 336h0M184 204h0M147 219h0M103 32h0M146 346h0M92 56h0M118 243h0M3 56h0M38 121h0M206 146h0M51 6h0M219 185h0M193 213h0M164 66h0M228 214h0" stroke="#e2636b" stroke-width="6.4" stroke-linecap="square" fill="none" opacity="0.8"/>
<path d="M51.6 24C44.5 23.4 39.6 31 40.4 40C41.3 48 45.5 54 49.5 59C53.5 64 57.5 69.6 61.6 70.6C66 71.4 69.2 66.5 69.2 60.5C69.2 51 66.5 42 64 35C61.5 28 58 24.4 51.6 24Z" fill="none" stroke="#e0454d" stroke-width="0.85" stroke-dasharray="2.3 1.5"/>
<text x="68.60" y="40.10" font-size="8.1" fill="#4a86c8" text-anchor="start" font-weight="bold" >mTEC(III)</text>
<text x="70.00" y="48.40" font-size="8.1" fill="#4a86c8" text-anchor="start" font-weight="bold" >nsTEC</text>
<text x="70.00" y="69.40" font-size="8.1" fill="#a05ab8" text-anchor="start" font-weight="bold" >mTEC(II)</text>
<text x="85.70" y="111.50" font-size="8.1" fill="#5cb45f" text-anchor="start" font-weight="bold" >mTEC(I)</text>
<text x="40.50" y="123.30" font-size="8.1" fill="#e0525a" text-anchor="start" font-weight="bold" >cTEC</text>
<path transform="translate(139 52) scale(.1)" d="M216 403h0M356 266h0M164 322h0M230 295h0M142 362h0M322 250h0M444 374h0M95 357h0M348 433h0M407 298h0M262 224h0M303 203h0M31 369h0M381 316h0M273 284h0M52 221h0M226 445h0M433 281h0M454 298h0M269 462h0M305 347h0M327 197h0M145 327h0M188 379h0M179 452h0M254 275h0M145 365h0M262 310h0M64 422h0M336 325h0M94 256h0M153 276h0M110 352h0M279 172h0M443 335h0M319 296h0M115 338h0M151 455h0M341 229h0M295 377h0M50 403h0M49 264h0M69 396h0M304 346h0M69 408h0M407 302h0M278 460h0M128 233h0M427 203h0M439 248h0M242 305h0M379 414h0M367 302h0M373 426h0M198 447h0M83 397h0M422 342h0M257 378h0M67 223h0M200 403h0M465 298h0M213 319h0M113 374h0M160 397h0M83 334h0M412 226h0M365 399h0M273 238h0M211 307h0M94 449h0M332 399h0M314 462h0M352 281h0M371 243h0M309 230h0M77 214h0M183 382h0M318 246h0M194 308h0M290 200h0M389 213h0M36 382h0M14 363h0M61 266h0M287 357h0M333 300h0M59 216h0M56 433h0M334 223h0M402 199h0M336 267h0M26 254h0M326 317h0M377 388h0M248 216h0M41 283h0M107 359h0M129 380h0M135 255h0M349 330h0M50 261h0M213 198h0M91 475h0M136 456h0M312 310h0M399 413h0M49 391h0M175 321h0M95 453h0M356 409h0M325 384h0M106 431h0M187 260h0M174 386h0M355 247h0M199 222h0M417 215h0M174 402h0M400 219h0M99 402h0M48 368h0M151 306h0M345 397h0M151 459h0M276 295h0M356 296h0M425 375h0M183 411h0M338 321h0M384 321h0M363 432h0M325 445h0M218 305h0M396 347h0M295 448h0M151 365h0M153 456h0M77 275h0M51 424h0M201 203h0M135 254h0M122 187h0M360 451h0M91 350h0M455 250h0M123 327h0M116 319h0M175 455h0M391 352h0M206 194h0M343 380h0M311 463h0M361 274h0M383 396h0M260 281h0M299 442h0M354 359h0M199 292h0M236 356h0M457 268h0M151 302h0M226 360h0M65 353h0M221 288h0M260 266h0M136 387h0M450 379h0M133 368h0M162 452h0M142 265h0M53 354h0M338 225h0M89 235h0M263 193h0M214 199h0M335 338h0M207 206h0M407 273h0M187 215h0M94 275h0M195 242h0M160 345h0M96 214h0M240 376h0M291 448h0M164 451h0M78 211h0M187 255h0M319 415h0M338 456h0M76 337h0M308 216h0M362 275h0M320 282h0M173 267h0M109 407h0M204 198h0M33 334h0M96 369h0M419 293h0M418 240h0M56 279h0M46 296h0M209 206h0M387 266h0M165 352h0M97 231h0M370 235h0M310 452h0M211 388h0M236 278h0M286 171h0M143 449h0M235 242h0M245 209h0M33 236h0M382 244h0M238 463h0M352 262h0M249 402h0M91 243h0M194 408h0M188 422h0M232 461h0M253 449h0M438 366h0M371 218h0M143 384h0M85 318h0M149 369h0M153 330h0M307 272h0M161 265h0M214 311h0M103 356h0M399 461h0M223 244h0M164 315h0M189 203h0M251 470h0M165 359h0M303 206h0M98 399h0M354 256h0M344 461h0M72 362h0M378 358h0M27 249h0M36 218h0M343 233h0M275 293h0M22 272h0M301 336h0M325 227h0M157 239h0M333 382h0M394 288h0M332 271h0M225 378h0M313 460h0M90 302h0M20 231h0M259 438h0M326 303h0M398 311h0M340 332h0M452 378h0M75 240h0M212 271h0M256 249h0M340 221h0M317 413h0M99 267h0M261 339h0M182 417h0M258 385h0M283 166h0M293 255h0M165 434h0M237 179h0M171 251h0M410 280h0M450 326h0M43 353h0M85 450h0M41 309h0M384 283h0M374 423h0M207 290h0M390 283h0M51 366h0M149 398h0M83 232h0M385 269h0M327 404h0M135 338h0M221 243h0M184 170h0M328 161h0M398 240h0M257 221h0M231 414h0M176 187h0M191 396h0M226 217h0M300 376h0M373 208h0M152 420h0M336 214h0M409 361h0M150 186h0M234 426h0M342 403h0M233 309h0M295 216h0M359 315h0M55 382h0M412 310h0M447 232h0M373 393h0M208 473h0M29 267h0M435 382h0M373 259h0M169 446h0M290 311h0M334 214h0M91 248h0M322 171h0M111 280h0M44 396h0M118 237h0M292 231h0M274 232h0M272 275h0M115 294h0M381 393h0M102 328h0M256 458h0M254 177h0M216 381h0M323 397h0M101 381h0M238 405h0M108 203h0M30 309h0M218 253h0M230 349h0M86 349h0M400 393h0M252 455h0M412 287h0M146 211h0M375 248h0M69 408h0M336 272h0M205 277h0M374 316h0M207 286h0M132 422h0M386 406h0M235 172h0M87 251h0M70 360h0M375 296h0M255 410h0M178 364h0M74 286h0M278 377h0M67 380h0M336 293h0M160 279h0M169 300h0M233 340h0M302 239h0M364 236h0M54 303h0M199 428h0M259 431h0M272 203h0M289 379h0M241 168h0M282 193h0M156 256h0M30 296h0M294 189h0M167 410h0M41 253h0M149 460h0M178 296h0M349 390h0M251 465h0M210 419h0M212 412h0M398 434h0M99 258h0M22 249h0M171 304h0M36 349h0M357 386h0M289 293h0M146 284h0M201 401h0M337 458h0M110 328h0M259 379h0M393 405h0M379 311h0M433 382h0M401 250h0M278 393h0M424 318h0M403 222h0M75 191h0M20 351h0M199 420h0M300 439h0M305 299h0M253 346h0M260 344h0M344 284h0M90 215h0M315 481h0M428 200h0M104 334h0M333 227h0M371 257h0M403 416h0M468 295h0M147 346h0M338 167h0M380 367h0M247 399h0M234 249h0M178 362h0M109 432h0M328 456h0M264 314h0M209 415h0M158 287h0M216 335h0M310 316h0M185 385h0M284 390h0M113 252h0M347 359h0M38 296h0M183 270h0M404 265h0M160 317h0M103 447h0M259 207h0M55 310h0M404 355h0M388 225h0M143 355h0M432 283h0M123 477h0M208 462h0M220 321h0M103 301h0M30 406h0M417 285h0M353 338h0M323 351h0M140 478h0M197 303h0M360 238h0M258 410h0M35 267h0M317 413h0M285 196h0M361 229h0M341 253h0M123 228h0M131 193h0M419 348h0M140 275h0M132 295h0M124 355h0M208 160h0M435 230h0M255 345h0M33 327h0M408 398h0M326 226h0M355 231h0M410 372h0M119 311h0M414 231h0M384 330h0M170 416h0M415 403h0M81 226h0M183 243h0M330 196h0M348 241h0M291 425h0M256 428h0M206 439h0M174 274h0M406 225h0M172 202h0M301 255h0M350 290h0M126 333h0M86 431h0M175 206h0M372 209h0M350 415h0M196 458h0M155 279h0M222 285h0M169 214h0M96 400h0M188 382h0M442 376h0M322 331h0M138 302h0M48 407h0M197 379h0M431 393h0M313 364h0M58 323h0M252 422h0M264 256h0M171 454h0M108 346h0M433 298h0M326 344h0M218 227h0M72 283h0M214 207h0M182 211h0M422 381h0M213 415h0M217 284h0M247 431h0M390 394h0M325 413h0M250 449h0M323 305h0M438 400h0M101 261h0M194 438h0M128 445h0M382 394h0M144 364h0M416 223h0M135 287h0M221 302h0M135 281h0M325 198h0M155 197h0M256 425h0M150 382h0M181 457h0M384 429h0M48 281h0M226 271h0M101 406h0M167 377h0M251 274h0M2 375h0M101 268h0M216 432h0M112 320h0M445 287h0M253 180h0M202 197h0M402 461h0M426 303h0M347 270h0M186 352h0M288 397h0M330 436h0M328 412h0M98 390h0M293 401h0M41 223h0M225 380h0M98 446h0M460 298h0M124 342h0M304 381h0M430 281h0M88 467h0M363 376h0M288 233h0M394 418h0M219 370h0M90 408h0M247 288h0M332 308h0M70 261h0M355 202h0M202 319h0M153 392h0M115 262h0M120 485h0M186 470h0M431 335h0M128 236h0M226 347h0M127 397h0M393 333h0M368 403h0M164 370h0M110 294h0M281 352h0M83 360h0M233 277h0M348 250h0M313 419h0M57 352h0M259 183h0M314 296h0M85 404h0M299 227h0M400 444h0M424 357h0M239 431h0M359 406h0M79 415h0M241 214h0M327 215h0M114 319h0M388 347h0M236 379h0M343 360h0M382 259h0M346 222h0M68 446h0M366 444h0M220 393h0M120 421h0M300 250h0M211 436h0M249 273h0M212 371h0M61 236h0M320 324h0M229 402h0M322 318h0M276 267h0M105 210h0M271 390h0M399 326h0M213 259h0M16 335h0M405 354h0M56 205h0M361 363h0M87 450h0M81 320h0M181 212h0M210 403h0M336 178h0M326 382h0M245 377h0M379 321h0M414 212h0M308 328h0M68 246h0M196 457h0M364 270h0M361 242h0M380 422h0M13 280h0M435 291h0M368 292h0M415 205h0M407 367h0M133 369h0M126 365h0M127 247h0M230 343h0M138 287h0M453 264h0M404 243h0M392 312h0M303 282h0M208 316h0M266 187h0M110 380h0M196 460h0M238 222h0M272 421h0M296 392h0M238 485h0M324 386h0M101 366h0M251 411h0M247 438h0M106 346h0M279 248h0M307 343h0M326 198h0M142 447h0M321 191h0M153 221h0M184 375h0M73 435h0M212 415h0M300 333h0M187 259h0M445 234h0M338 228h0M267 423h0M333 216h0M446 330h0M80 364h0M187 254h0M179 272h0M181 328h0M23 254h0M55 299h0M169 239h0M331 333h0M63 459h0M351 336h0M221 253h0M211 284h0M343 418h0M154 181h0M27 346h0M188 291h0M81 258h0M300 351h0M380 201h0M268 371h0M156 420h0M325 396h0M252 162h0M105 458h0M362 423h0M230 182h0M446 371h0M257 199h0M89 309h0M336 415h0M63 207h0M333 204h0M225 266h0M301 252h0M298 254h0M175 252h0M309 223h0M457 262h0M302 439h0M193 431h0M73 461h0M212 389h0M266 316h0M404 230h0M40 252h0M192 359h0M400 262h0M329 221h0M389 433h0M114 348h0M323 427h0M174 247h0M426 410h0M130 402h0M110 344h0M397 399h0M338 308h0M219 167h0M29 264h0M459 354h0M74 382h0M325 341h0M139 382h0M71 220h0M268 238h0M258 303h0M317 349h0M425 363h0M425 228h0M292 280h0M333 218h0M197 382h0M115 278h0M87 482h0M237 240h0M256 306h0M173 379h0M258 326h0M334 368h0M250 182h0M326 323h0M279 441h0M177 316h0M112 194h0M195 222h0M108 303h0M192 321h0M423 279h0M310 238h0M202 613h0M277 533h0M216 484h0M87 609h0M230 636h0M191 591h0M126 633h0M208 617h0M100 661h0M194 660h0M115 482h0M172 526h0M103 546h0M182 643h0M110 505h0M235 562h0M254 511h0M316 506h0M150 497h0M224 654h0M247 509h0M112 648h0M263 543h0M74 458h0M287 583h0M79 616h0M146 632h0M283 479h0M172 494h0M297 465h0M106 498h0M123 615h0M212 666h0M300 484h0M290 550h0M223 603h0M76 523h0M275 542h0M183 471h0M217 612h0M128 539h0M134 625h0M206 469h0M296 491h0M96 480h0M158 480h0M91 588h0M223 593h0M272 576h0M228 654h0M134 517h0M262 591h0M140 664h0M147 464h0M94 491h0M60 558h0M283 558h0M93 614h0M170 477h0M211 624h0M127 474h0M253 569h0M208 517h0M206 577h0M223 613h0M192 538h0M227 665h0M245 473h0M295 505h0M294 565h0M243 557h0M296 585h0M195 552h0M80 540h0M166 693h0M261 518h0M290 544h0M315 500h0M166 618h0M271 535h0M224 572h0M303 531h0M244 499h0M270 615h0M309 576h0M247 606h0M245 593h0M181 573h0M81 657h0M125 648h0M191 482h0M228 471h0M240 645h0M179 517h0M191 615h0M110 525h0M333 480h0M196 678h0M168 496h0M82 504h0M83 515h0M185 463h0M74 484h0M167 542h0M185 495h0M118 536h0M196 683h0M247 472h0M96 651h0M218 482h0M172 630h0M284 516h0M124 637h0M121 578h0M267 461h0M137 477h0M296 489h0M288 522h0M228 539h0M232 520h0M229 577h0M281 603h0M156 469h0M230 577h0M281 513h0M167 559h0M98 463h0M135 646h0M144 657h0M237 506h0M203 582h0M104 478h0M131 548h0M117 675h0M237 662h0M67 585h0M282 458h0M164 663h0M221 570h0M148 535h0M121 663h0M186 567h0M132 633h0M196 593h0M281 528h0M303 552h0M109 607h0M175 546h0M77 508h0M277 558h0M273 479h0M239 633h0M247 477h0M132 637h0M197 483h0M113 517h0M159 663h0M138 645h0M256 511h0M234 581h0M176 608h0M192 644h0M96 536h0M205 577h0M166 525h0M103 652h0M104 602h0M241 500h0M213 499h0M166 522h0M188 512h0M187 600h0M286 576h0M144 646h0M184 541h0M182 641h0M54 559h0M97 486h0M196 575h0M201 609h0M116 571h0M233 500h0M273 613h0M167 550h0M96 600h0M147 492h0M143 627h0M92 642h0M127 682h0M309 465h0M211 641h0M259 528h0M181 643h0M238 662h0M93 467h0M266 475h0M209 565h0M77 490h0M156 622h0M118 468h0M79 627h0M288 516h0M185 573h0M130 679h0M265 613h0M126 594h0M216 546h0M137 653h0M110 586h0M222 530h0M203 577h0M315 531h0M215 501h0M270 476h0M91 503h0M196 524h0M278 553h0M281 549h0M228 612h0M219 533h0M132 546h0M137 683h0M225 464h0M283 618h0M144 573h0M154 631h0M254 534h0M101 551h0M160 613h0M87 458h0M92 597h0M285 507h0M275 597h0M261 577h0M284 526h0M110 594h0M100 626h0M180 496h0M138 519h0M193 502h0M157 579h0M169 672h0M196 609h0M158 652h0M91 462h0M195 579h0M187 659h0M84 474h0M312 510h0M88 489h0M155 549h0M242 660h0M202 470h0M157 478h0M178 475h0M96 527h0M59 526h0M205 498h0M97 641h0M243 648h0M180 542h0M132 476h0M138 567h0M207 660h0M158 629h0M148 664h0M191 559h0M187 509h0M202 496h0M261 617h0M291 506h0M201 563h0M138 596h0M286 492h0M258 547h0M208 578h0M89 543h0M186 596h0M90 524h0M267 531h0M255 529h0M182 602h0M177 649h0M253 500h0M206 681h0M230 467h0M148 501h0M179 563h0M297 482h0M112 689h0M173 542h0M124 449h0M127 486h0M126 631h0M135 524h0M60 512h0M283 502h0M96 507h0M314 456h0M68 483h0M146 609h0M91 544h0M246 593h0M72 605h0M134 476h0M131 590h0M68 528h0M135 493h0M132 589h0M265 503h0M151 597h0M180 529h0M85 604h0M272 516h0M144 498h0M114 594h0M53 514h0M99 469h0M80 610h0M136 598h0M135 554h0M140 644h0M77 537h0M223 547h0M64 466h0M232 630h0M178 484h0M98 537h0M85 534h0M98 551h0M275 564h0M184 507h0M267 571h0M199 585h0M90 553h0M131 540h0M80 637h0M174 475h0M56 464h0M53 586h0M99 505h0M202 556h0M87 504h0M79 508h0M260 474h0M248 471h0M143 653h0M81 548h0M280 470h0M111 553h0M54 501h0M152 544h0M182 499h0M187 665h0M122 493h0M194 463h0M125 654h0M142 521h0M94 664h0M54 483h0M130 496h0M185 626h0M240 485h0M125 635h0M118 642h0M163 531h0M87 670h0M243 572h0M157 672h0M208 543h0M159 506h0M155 530h0M176 599h0M251 516h0M133 528h0M192 637h0M83 593h0M280 570h0M177 644h0M197 665h0M102 608h0M100 486h0M122 618h0M97 626h0M296 461h0M275 535h0M262 570h0M277 574h0M164 613h0M218 615h0M276 583h0M159 550h0M286 474h0M230 473h0M62 506h0M295 513h0M111 636h0M135 599h0M93 608h0M186 501h0M149 580h0M140 591h0M178 635h0M233 504h0M255 591h0M157 674h0M154 507h0M269 583h0M250 498h0M123 607h0M272 571h0M71 570h0M184 647h0M218 473h0M162 522h0M97 535h0M291 504h0M194 576h0M151 601h0M51 472h0M194 658h0M149 656h0M174 647h0M146 493h0M143 617h0M124 484h0M233 488h0M294 460h0M263 609h0M109 552h0M246 604h0M214 515h0M172 520h0M216 657h0M184 642h0M303 537h0M213 598h0M140 578h0M122 470h0M87 484h0M174 458h0M116 632h0M140 657h0M307 504h0M123 630h0M77 538h0M210 603h0M118 693h0M240 656h0M270 556h0M228 465h0M234 568h0M217 520h0M264 630h0M144 688h0M106 560h0M219 533h0M74 587h0M93 564h0M169 501h0M207 639h0M141 614h0M270 541h0M234 657h0M151 676h0M175 537h0M278 499h0M238 492h0M252 629h0M249 601h0M264 528h0M68 568h0M194 534h0M262 478h0M291 556h0M88 630h0M108 569h0M117 606h0M146 575h0M146 593h0M225 557h0M147 699h0M73 528h0M118 501h0M188 475h0M268 614h0M245 566h0M211 589h0M178 567h0M167 541h0M244 614h0M55 477h0M140 565h0M75 583h0M210 583h0M179 526h0M278 490h0M217 631h0M264 600h0M215 575h0M263 564h0M273 542h0M173 626h0M125 537h0M115 470h0M188 616h0M138 580h0M199 458h0M201 486h0M195 635h0M66 517h0M115 694h0M288 506h0M92 634h0M139 467h0M281 478h0M88 528h0M119 631h0M109 691h0M208 565h0M324 418h0M314 349h0M253 314h0M313 323h0M277 390h0M244 393h0M272 357h0M340 326h0M232 375h0M340 322h0M307 371h0M277 312h0M255 351h0M292 421h0M350 390h0M246 336h0M319 346h0M246 342h0M228 364h0M263 362h0M268 406h0M292 377h0M324 408h0M300 350h0M301 324h0M252 405h0M275 322h0M270 355h0M269 327h0M284 386h0M295 356h0M272 354h0M263 346h0M295 345h0M337 344h0M291 328h0M276 416h0M251 396h0M298 364h0M297 377h0M288 358h0M279 371h0M332 362h0M272 325h0M305 307h0M295 348h0M290 362h0M260 416h0M328 384h0M296 356h0M298 332h0M269 391h0M295 388h0M265 311h0M255 345h0M272 391h0M249 321h0M266 319h0M228 337h0M299 317h0M253 414h0M268 285h0M228 328h0M340 365h0M299 362h0M263 357h0M265 343h0M359 368h0M266 383h0M275 345h0M290 317h0M355 360h0M234 354h0M234 396h0M266 364h0M241 345h0M306 375h0M259 414h0M275 415h0M282 383h0M287 357h0M273 295h0M251 308h0M291 294h0M311 394h0M293 368h0M245 325h0M288 294h0M231 341h0M297 367h0M287 380h0M276 360h0M318 337h0M243 392h0M345 403h0M250 298h0M316 418h0M317 291h0M254 307h0M337 314h0M295 361h0M285 404h0M252 339h0M230 339h0M317 378h0M301 391h0M253 358h0M249 422h0M359 359h0M244 328h0M309 301h0M277 367h0M258 421h0M312 351h0M305 313h0M321 398h0M297 355h0M271 381h0M258 318h0M298 287h0M283 360h0M275 419h0M325 291h0M317 363h0M300 360h0M234 394h0M327 347h0M262 401h0M315 369h0M310 425h0M294 390h0M276 329h0M344 325h0M289 395h0M345 373h0M296 363h0M255 356h0M305 323h0M304 331h0M274 361h0M260 306h0M295 359h0M240 336h0M293 425h0M322 297h0M306 379h0M300 386h0M303 323h0M288 423h0M241 321h0M229 361h0M235 359h0M291 405h0M269 390h0M300 341h0M233 364h0M327 379h0M296 354h0M316 333h0M277 390h0M483 388h0M452 172h0M441 301h0M497 320h0M517 168h0M381 359h0M514 274h0M507 480h0M433 321h0M468 464h0M425 450h0M569 368h0M479 466h0M497 321h0M480 366h0M487 458h0M504 430h0M389 401h0M585 310h0M603 303h0M562 427h0M512 213h0M510 439h0M456 319h0M541 218h0M511 294h0M545 172h0M537 452h0M413 260h0M566 217h0M440 317h0M475 391h0M512 322h0M452 310h0M486 281h0M551 335h0M456 252h0M378 341h0M385 262h0M557 305h0M546 277h0M479 423h0M528 190h0M587 310h0M449 404h0M398 305h0M533 207h0M517 364h0M416 256h0M489 320h0M534 361h0M487 335h0M479 284h0M423 197h0M494 333h0M501 285h0M487 287h0M508 234h0M460 370h0M522 304h0M491 249h0M478 273h0M424 401h0M478 273h0M479 384h0M557 246h0M444 361h0M551 342h0M403 242h0M422 271h0M467 304h0M456 237h0M433 313h0M419 231h0M451 334h0M521 206h0M447 280h0M463 181h0M429 324h0M415 382h0M475 301h0M407 393h0M500 154h0M440 398h0M509 397h0M476 223h0M563 322h0M464 166h0M486 465h0M391 235h0M506 350h0M422 287h0M515 345h0M559 296h0M462 452h0M471 455h0M396 307h0M559 212h0M432 324h0M503 410h0M458 194h0M471 459h0M454 461h0M575 245h0M409 366h0M510 370h0M562 203h0M470 458h0M464 344h0M494 429h0M526 361h0M510 273h0M514 286h0M558 416h0M518 313h0M505 230h0M475 361h0M458 342h0M535 253h0M386 284h0M548 296h0M501 348h0M426 223h0M490 322h0M543 225h0M509 257h0M482 384h0M512 351h0M603 306h0M561 314h0M477 348h0M541 437h0M487 185h0M442 416h0M438 264h0M527 219h0M403 433h0M516 386h0M561 237h0M447 470h0M471 388h0M519 240h0M531 356h0M415 301h0M438 334h0M521 319h0M450 176h0M426 202h0M535 207h0M485 291h0M456 263h0M386 357h0M568 194h0M541 241h0M521 401h0M431 237h0M501 251h0M509 230h0M419 262h0M472 261h0M639 129h0M576 34h0M582 150h0M467 99h0M600 70h0M489 100h0M495 64h0M637 66h0M491 4h0M614 132h0M568 139h0M542 137h0M505 152h0M495 28h0M260 142h0M217 129h0M249 113h0M205 128h0M209 114h0M187 132h0M459 178h0M181 119h0M299 178h0M397 143h0M196 168h0M134 147h0M248 139h0M202 177h0" stroke="#e2636b" stroke-width="6.4" stroke-linecap="square" fill="none" opacity="0.8"/>
<path transform="translate(142 70) scale(.1)" d="M32 65h0M45 45h0M55 57h0M68 74h0M19 18h0M50 125h0M23 109h0M33 78h0M66 30h0M55 45h0M41 25h0M5 65h0M36 119h0M50 63h0M51 65h0M39 120h0M25 77h0M30 77h0M31 12h0M17 82h0M56 93h0M57 31h0M20 80h0M38 9h0M34 75h0M40 131h0M30 89h0M24 53h0M5 57h0M18 73h0M29 83h0M32 56h0M11 94h0M49 74h0M54 107h0M22 101h0M41 78h0M31 115h0M64 46h0M41 116h0M53 95h0M35 70h0M41 97h0M61 57h0M41 52h0M27 93h0M45 124h0M64 116h0M37 73h0M59 22h0M55 56h0M37 7h0M74 66h0M25 124h0M14 105h0M50 64h0M47 32h0M29 49h0M50 28h0M31 126h0M14 87h0M19 52h0M61 105h0M46 125h0M51 106h0M52 112h0M50 107h0M30 69h0M47 63h0M76 70h0M33 47h0M43 26h0M18 60h0M45 34h0M21 43h0M44 153h0M37 175h0M86 145h0M36 154h0M58 128h0M71 131h0M46 173h0M64 164h0M54 135h0M85 157h0M52 126h0M65 157h0M75 142h0M67 136h0M33 152h0M55 191h0M55 144h0M64 190h0M49 181h0M62 140h0" stroke="#a868bd" stroke-width="6.4" stroke-linecap="square" fill="none" opacity="0.85"/>
<path transform="translate(174 67) scale(.1)" d="M41 193h0M240 237h0M134 233h0M159 271h0M119 349h0M109 175h0M137 217h0M33 75h0M116 131h0M142 224h0M191 293h0M144 300h0M127 132h0M256 237h0M166 169h0M238 138h0M216 215h0M215 294h0M144 56h0M239 272h0M33 62h0M202 333h0M210 305h0M145 352h0M177 105h0M36 34h0M119 91h0M110 258h0M138 223h0M160 319h0M119 208h0M235 149h0M109 273h0M108 217h0M250 255h0M35 168h0M140 57h0M168 349h0M184 249h0M114 74h0M248 142h0M113 100h0M90 138h0M111 176h0M75 205h0M188 66h0M151 226h0M73 207h0M108 314h0M42 164h0M54 25h0M199 252h0M220 272h0M159 354h0M164 26h0M229 159h0M252 257h0M108 273h0M50 110h0M104 322h0M119 158h0M49 228h0M116 237h0M234 184h0M233 264h0M215 254h0M74 68h0M244 251h0M199 316h0M51 134h0M101 77h0M71 81h0M30 125h0M227 300h0M244 234h0M73 33h0M166 206h0M138 222h0M65 228h0M138 104h0M159 263h0M233 181h0M149 245h0M51 134h0M218 85h0M138 233h0M91 92h0M252 229h0M248 171h0M105 145h0M209 91h0M135 183h0M162 55h0M65 135h0M22 20h0M250 221h0M161 60h0M181 292h0M20 90h0M82 93h0M56 34h0M179 118h0M213 197h0M166 321h0M98 36h0M104 67h0M66 27h0M111 337h0M135 82h0M73 108h0M143 135h0M158 243h0M198 257h0M142 59h0M154 75h0M141 156h0M233 179h0M159 212h0M190 57h0M143 196h0M193 70h0M65 112h0M261 185h0M133 143h0M87 210h0M102 277h0M233 175h0M59 230h0M245 199h0M222 273h0M211 324h0M114 42h0M190 279h0M87 123h0M109 79h0M243 277h0M186 234h0M27 151h0M35 122h0M99 248h0M99 291h0M160 62h0M118 226h0M247 267h0M199 142h0M105 347h0M65 137h0M237 291h0M203 65h0M143 270h0M203 215h0M171 363h0M183 345h0M209 246h0M137 143h0M108 282h0M98 298h0M70 52h0M142 97h0M177 136h0M176 45h0M145 189h0M150 219h0M225 213h0M102 13h0M107 270h0M35 198h0M68 78h0M121 303h0M141 104h0M95 84h0M164 41h0M201 98h0M209 161h0M119 334h0M190 180h0M93 22h0M58 15h0M148 215h0M74 203h0M178 208h0M129 164h0M6 86h0M208 326h0M139 125h0M139 334h0M245 210h0M94 251h0M46 84h0M59 194h0M195 89h0M29 93h0M70 176h0M67 260h0M178 63h0M85 176h0M110 31h0M76 266h0M184 184h0M134 284h0M39 140h0M160 224h0M228 117h0M85 145h0M139 261h0M78 140h0M155 222h0M236 207h0M129 113h0M171 326h0M120 356h0M185 132h0M194 319h0M140 260h0M217 199h0M221 213h0M185 264h0M88 302h0M177 170h0M186 323h0M184 201h0M59 168h0M110 49h0M34 54h0M85 335h0M50 208h0M7 64h0M161 366h0M111 98h0M174 82h0M174 335h0M191 114h0M58 55h0M142 189h0M106 281h0M36 191h0M174 125h0M108 318h0M124 184h0M96 17h0M137 308h0M253 233h0M180 149h0M95 220h0M56 285h0M93 357h0M174 75h0M223 274h0M226 313h0M25 137h0M212 134h0M92 253h0M124 75h0M45 53h0M38 151h0M37 196h0M112 47h0M89 297h0M59 36h0M130 333h0M30 12h0M204 244h0M170 173h0M93 329h0M147 177h0M23 112h0M178 216h0M31 128h0M174 93h0M42 196h0M97 2h0M41 109h0M147 263h0M266 177h0M52 172h0M29 65h0M147 275h0M123 91h0M135 28h0M173 109h0M92 80h0M47 41h0M147 161h0M119 197h0M87 33h0M144 372h0M220 247h0M256 239h0M198 162h0M70 119h0M115 322h0M196 256h0M175 120h0M178 89h0M130 58h0M41 68h0M101 172h0M176 78h0M106 347h0M73 53h0M127 99h0M71 298h0M123 61h0M172 30h0M211 112h0M103 196h0M187 291h0M14 156h0M37 163h0M128 110h0M138 215h0M134 96h0M52 33h0M60 145h0M146 345h0M151 349h0M75 42h0M177 112h0M218 146h0M189 318h0M277 248h0M162 276h0M179 55h0M252 226h0M86 62h0M184 78h0M216 238h0M106 170h0M150 118h0M245 145h0M99 22h0M88 97h0M116 49h0M212 157h0M91 289h0M114 144h0M168 164h0M159 104h0M229 153h0M125 90h0M165 336h0M104 157h0M137 330h0M89 148h0M232 141h0M130 86h0M41 233h0M119 107h0M89 125h0M80 204h0M210 179h0M98 256h0M187 165h0M56 171h0M179 176h0M150 285h0M179 88h0M21 99h0M92 19h0M37 33h0M121 296h0M44 123h0M110 322h0M91 47h0M95 227h0M90 317h0M113 124h0M192 195h0M199 90h0M98 152h0M73 93h0M127 337h0M182 197h0M180 217h0M143 173h0M109 56h0M66 238h0M60 290h0M93 207h0M128 153h0M14 114h0M186 210h0M86 306h0M186 250h0M247 130h0M89 44h0M188 99h0M48 216h0M102 133h0M49 165h0M162 55h0M86 181h0M185 174h0M139 326h0M115 339h0M100 67h0M249 256h0M212 173h0M234 265h0M184 203h0M119 336h0M39 64h0M101 80h0M245 172h0M245 241h0M160 159h0M40 113h0M263 151h0M120 194h0M169 115h0M134 139h0M197 93h0M130 235h0M142 353h0M257 165h0M11 145h0M194 82h0M117 80h0M274 247h0M262 268h0" stroke="#62b866" stroke-width="6.4" stroke-linecap="square" fill="none" opacity="0.8"/>
<path transform="translate(130 24) scale(.1)" d="M157 227h0M49 226h0M65 179h0M177 434h0M177 107h0M32 164h0M54 10h0M122 130h0M127 85h0M172 110h0M174 101h0M105 310h0M50 127h0M111 140h0M191 429h0M196 177h0M162 332h0M144 66h0M94 184h0M82 296h0M137 254h0M172 50h0M110 131h0M62 276h0M40 64h0M184 190h0M95 227h0M85 214h0M68 227h0M14 62h0M29 185h0M98 26h0M17 67h0M165 306h0M106 239h0M107 153h0M131 341h0M145 395h0M203 367h0M216 320h0M103 308h0M35 230h0M106 190h0M124 241h0M114 358h0M182 237h0M198 197h0M150 190h0M122 281h0M86 323h0M76 125h0M165 98h0M65 61h0M212 375h0M85 100h0M121 143h0M231 326h0M28 149h0M172 298h0M147 119h0M86 79h0M210 334h0M27 72h0M154 65h0M188 219h0M192 237h0M119 318h0M222 322h0M186 219h0M120 244h0M122 142h0M156 172h0M29 82h0M106 184h0M28 52h0M130 204h0M83 324h0M106 330h0M229 356h0M122 166h0M215 291h0M114 51h0M213 284h0M6 111h0M200 299h0M119 78h0M83 32h0M86 184h0M28 213h0M110 288h0M96 122h0M17 243h0M93 128h0M180 437h0M177 206h0M173 258h0M68 295h0M206 319h0M143 355h0M206 405h0M102 275h0M61 137h0M150 204h0M23 45h0M147 189h0M30 99h0M222 411h0M15 149h0M125 214h0M21 178h0M55 54h0M147 227h0M183 149h0M173 107h0M166 312h0M157 270h0M161 263h0M165 271h0M161 312h0M170 283h0M177 344h0M161 355h0M177 349h0M171 320h0M168 262h0M164 376h0M172 264h0M150 334h0M165 331h0M156 279h0M155 358h0M160 353h0M160 376h0M168 386h0M161 255h0M162 322h0M153 308h0" stroke="#4f8fcf" stroke-width="6.4" stroke-linecap="square" fill="none" opacity="0.7"/>
<path transform="translate(133 32) scale(.1)" d="M181 276h0M41 104h0M87 101h0M175 133h0M117 314h0M117 2h0M38 27h0M1 54h0M195 218h0M76 80h0M219 313h0M190 277h0M60 173h0M10 53h0" stroke="#e2636b" stroke-width="6.4" stroke-linecap="square" fill="none" opacity="0.7"/>
<path d="M140.9 24.0 C133.8 23.4 128.9 31.0 129.7 40.0 C130.6 48.0 134.8 54.0 138.8 59.0 C142.8 64.0 146.8 69.6 150.9 70.6 C155.3 71.4 158.5 66.5 158.5 60.5 C158.5 51.0 155.8 42.0 153.3 35.0 C150.8 28.0 147.3 24.4 140.9 24.0 Z" fill="none" stroke="#e0454d" stroke-width="0.85" stroke-dasharray="2.3 1.5"/>
<text x="156.60" y="40.10" font-size="8.1" fill="#4a86c8" text-anchor="start" font-weight="bold" >mTEC(III)</text>
<text x="158.00" y="48.40" font-size="8.1" fill="#4a86c8" text-anchor="start" font-weight="bold" >nsTEC</text>
<text x="161.60" y="67.60" font-size="8.1" fill="#a05ab8" text-anchor="start" font-weight="bold" >mTEC(II)</text>
<text x="172.50" y="112.30" font-size="8.1" fill="#5cb45f" text-anchor="start" font-weight="bold" >mTEC(I)</text>
<text x="130.50" y="123.30" font-size="8.1" fill="#e0525a" text-anchor="start" font-weight="bold" >cTEC</text>
<rect x="239.90" y="17.60" width="63.90" height="114.50" fill="#fff" stroke="#555" stroke-width="0.7" />
<rect x="243.40" y="22.80" width="23.60" height="42.04" fill="#ee6a72" stroke="#333" stroke-width="0.5" />
<rect x="243.40" y="64.84" width="23.60" height="35.43" fill="#5b9bd8" stroke="#333" stroke-width="0.5" />
<rect x="243.40" y="100.27" width="23.60" height="17.04" fill="#82c884" stroke="#333" stroke-width="0.5" />
<rect x="243.40" y="117.32" width="23.60" height="8.78" fill="#b46ac4" stroke="#333" stroke-width="0.5" />
<rect x="277.20" y="22.80" width="24.00" height="70.66" fill="#ee6a72" stroke="#333" stroke-width="0.5" />
<rect x="277.20" y="93.46" width="24.00" height="6.82" fill="#5b9bd8" stroke="#333" stroke-width="0.5" />
<rect x="277.20" y="100.27" width="24.00" height="18.80" fill="#82c884" stroke="#333" stroke-width="0.5" />
<rect x="277.20" y="119.08" width="24.00" height="7.02" fill="#b46ac4" stroke="#333" stroke-width="0.5" />
<line x1="267.00" y1="64.84" x2="277.20" y2="93.46" stroke="#222" stroke-width="0.8" stroke-dasharray="2.6 1.8"/>
<line x1="267.00" y1="100.27" x2="277.20" y2="100.27" stroke="#222" stroke-width="0.8" stroke-dasharray="2.6 1.8"/>
<line x1="238.00" y1="126.10" x2="239.90" y2="126.10" stroke="#333" stroke-width="0.5" />
<text x="236.80" y="129.00" font-size="8.4" fill="#111" text-anchor="end" font-weight="normal" >0.00</text>
<line x1="238.00" y1="100.27" x2="239.90" y2="100.27" stroke="#333" stroke-width="0.5" />
<text x="236.80" y="103.17" font-size="8.4" fill="#111" text-anchor="end" font-weight="normal" >0.25</text>
<line x1="238.00" y1="74.45" x2="239.90" y2="74.45" stroke="#333" stroke-width="0.5" />
<text x="236.80" y="77.35" font-size="8.4" fill="#111" text-anchor="end" font-weight="normal" >0.50</text>
<line x1="238.00" y1="48.62" x2="239.90" y2="48.62" stroke="#333" stroke-width="0.5" />
<text x="236.80" y="51.52" font-size="8.4" fill="#111" text-anchor="end" font-weight="normal" >0.75</text>
<line x1="238.00" y1="22.80" x2="239.90" y2="22.80" stroke="#333" stroke-width="0.5" />
<text x="236.80" y="25.70" font-size="8.4" fill="#111" text-anchor="end" font-weight="normal" >1.00</text>
<line x1="255.20" y1="132.10" x2="255.20" y2="134.00" stroke="#333" stroke-width="0.5" />
<line x1="289.20" y1="132.10" x2="289.20" y2="134.00" stroke="#333" stroke-width="0.5" />
<text x="255.20" y="141.40" font-size="8.3" fill="#111" text-anchor="middle" font-weight="normal" >MGTH</text>
<text x="289.20" y="141.40" font-size="8.3" fill="#111" text-anchor="middle" font-weight="normal" >TH</text>
<rect x="306.60" y="25.90" width="11.00" height="11.00" fill="#ee6a72" stroke="#444" stroke-width="0.4" />
<text x="320.40" y="34.20" font-size="8.2" fill="#111" text-anchor="start" font-weight="normal" >cTEC</text>
<rect x="306.60" y="37.60" width="11.00" height="11.00" fill="#5b9bd8" stroke="#444" stroke-width="0.4" />
<text x="320.40" y="45.90" font-size="8.2" fill="#111" text-anchor="start" font-weight="normal" >nsTEC</text>
<rect x="306.60" y="49.30" width="11.00" height="11.00" fill="#82c884" stroke="#444" stroke-width="0.4" />
<text x="320.40" y="57.60" font-size="8.2" fill="#111" text-anchor="start" font-weight="normal" >mTEC(I)</text>
<rect x="306.60" y="61.00" width="11.00" height="11.00" fill="#b46ac4" stroke="#444" stroke-width="0.4" />
<text x="320.40" y="69.30" font-size="8.2" fill="#111" text-anchor="start" font-weight="normal" >mTEC(II)</text>
<text x="359.00" y="15.00" font-size="16.2" fill="#231815" text-anchor="start" font-weight="bold" >B</text>
<line x1="401.70" y1="30.20" x2="401.70" y2="128.20" stroke="#222" stroke-width="0.7" />
<line x1="401.40" y1="128.00" x2="492.00" y2="128.00" stroke="#222" stroke-width="0.7" />
<line x1="399.40" y1="54.10" x2="401.70" y2="54.10" stroke="#222" stroke-width="0.6" />
<text x="397.60" y="56.90" font-size="7.8" fill="#111" text-anchor="end" font-weight="normal" >5</text>
<line x1="399.40" y1="89.30" x2="401.70" y2="89.30" stroke="#222" stroke-width="0.6" />
<text x="397.60" y="92.10" font-size="7.8" fill="#111" text-anchor="end" font-weight="normal" >0</text>
<line x1="399.40" y1="124.50" x2="401.70" y2="124.50" stroke="#222" stroke-width="0.6" />
<text x="397.60" y="127.30" font-size="7.8" fill="#111" text-anchor="end" font-weight="normal" >−5</text>
<line x1="403.70" y1="128.00" x2="403.70" y2="130.20" stroke="#333" stroke-width="0.5" />
<text x="402.70" y="140.30" font-size="7.8" fill="#111" text-anchor="middle" font-weight="normal" >−20</text>
<line x1="431.50" y1="128.00" x2="431.50" y2="130.20" stroke="#333" stroke-width="0.5" />
<text x="430.50" y="140.30" font-size="7.8" fill="#111" text-anchor="middle" font-weight="normal" >−10</text>
<line x1="459.30" y1="128.00" x2="459.30" y2="130.20" stroke="#333" stroke-width="0.5" />
<text x="459.30" y="140.30" font-size="7.8" fill="#111" text-anchor="middle" font-weight="normal" >0</text>
<line x1="487.10" y1="128.00" x2="487.10" y2="130.20" stroke="#333" stroke-width="0.5" />
<text x="487.10" y="140.30" font-size="7.8" fill="#111" text-anchor="middle" font-weight="normal" >10</text>
<text x="388.00" y="88.00" font-size="8.3" fill="#111" text-anchor="middle" font-weight="normal" transform="rotate(-90 388.00 88.00)" >Component 2</text>
<path d="M458.5 78Q462.5 52 471.5 29" fill="none" stroke="#e2636b" stroke-width="5.8" stroke-linecap="round" opacity="0.92"/>
<path d="M458.5 78Q434 82 405.5 99.8" fill="none" stroke="#e2636b" stroke-width="6.0" stroke-linecap="round" opacity="0.92"/>
<path d="M458.5 78Q471 92 488 122" fill="none" stroke="#e2636b" stroke-width="5.8" stroke-linecap="round" opacity="0.92"/>
<path transform="translate(404 29) scale(.1)" d="M573 344h0M665 179h0M541 485h0M654 200h0M603 134h0M568 304h0M595 239h0M663 88h0M569 421h0M627 144h0M597 188h0M603 206h0M567 297h0M546 458h0M630 67h0M658 131h0M562 383h0M537 479h0M593 251h0M587 204h0M623 208h0M557 376h0M666 24h0M518 480h0M517 472h0M585 273h0M571 389h0M656 34h0M609 199h0M636 156h0M550 451h0M539 476h0M611 238h0M614 277h0M591 458h0M537 387h0M577 463h0M557 373h0M542 430h0M580 169h0M548 434h0M609 159h0M561 435h0M637 124h0M586 380h0M617 202h0M596 237h0M664 17h0M538 450h0M509 489h0M662 49h0M566 387h0M554 483h0M592 247h0M591 221h0M587 274h0M637 188h0M584 320h0M539 362h0M684 26h0M594 262h0M685 25h0M603 161h0M565 432h0M540 385h0M594 242h0M587 255h0M599 336h0M618 158h0M543 431h0M655 76h0M571 276h0M541 453h0M567 398h0M545 337h0M593 293h0M551 354h0M562 475h0M633 46h0M568 422h0M611 120h0M592 335h0M567 366h0M633 62h0M566 296h0M674 55h0M618 156h0M656 124h0M617 251h0M558 418h0M644 67h0M572 367h0M626 136h0M565 386h0M647 86h0M627 77h0M575 205h0M616 191h0M552 426h0M581 262h0M606 254h0M536 421h0M629 169h0M655 39h0M619 39h0M640 105h0M625 216h0M626 95h0M556 389h0M577 334h0M535 360h0M581 311h0M662 2h0M600 174h0M594 235h0M534 463h0M522 457h0M650 52h0M570 337h0M611 278h0M648 166h0M631 65h0M310 566h0M317 545h0M18 658h0M186 596h0M91 652h0M154 626h0M415 553h0M43 671h0M472 486h0M483 523h0M20 672h0M167 612h0M108 677h0M209 611h0M294 595h0M171 663h0M99 694h0M548 493h0M402 511h0M199 591h0M277 552h0M370 533h0M194 605h0M382 521h0M496 509h0M499 510h0M553 490h0M436 530h0M476 492h0M462 497h0M377 545h0M527 491h0M477 496h0M234 582h0M328 525h0M539 516h0M438 534h0M311 547h0M282 570h0M523 514h0M82 668h0M158 611h0M325 548h0M231 609h0M502 546h0M490 511h0M316 554h0M1 679h0M338 553h0M108 643h0M361 529h0M345 528h0M527 502h0M551 460h0M155 649h0M304 551h0M468 511h0M316 582h0M739 809h0M629 564h0M713 730h0M775 802h0M575 511h0M688 696h0M677 665h0M768 779h0M721 749h0M528 465h0M611 520h0M656 641h0M611 547h0M688 660h0M536 511h0M564 509h0M727 744h0M615 550h0M846 918h0M608 609h0M639 616h0M585 564h0M593 563h0M832 886h0M595 530h0M621 575h0M822 860h0M675 697h0M567 530h0M641 616h0M662 604h0M587 555h0M701 709h0M710 740h0M564 494h0M737 749h0M590 538h0M723 712h0M850 891h0M689 724h0M662 638h0M606 532h0M657 625h0M564 516h0M539 476h0M613 590h0M637 611h0M672 656h0M539 512h0M607 520h0M646 639h0M697 699h0M667 643h0M562 534h0M822 897h0M719 676h0M668 651h0M792 843h0M836 941h0M526 473h0M636 595h0M752 716h0M737 751h0M556 513h0M819 880h0M727 778h0M582 485h0M710 742h0M748 728h0M698 720h0M592 538h0M619 547h0M541 525h0M695 735h0M689 752h0M605 551h0M790 870h0M543 502h0M839 910h0M726 767h0M658 610h0M768 819h0M712 747h0M764 767h0M658 682h0M547 498h0M646 624h0M655 628h0M561 565h0M716 712h0M599 579h0M739 811h0M712 759h0M812 925h0M715 725h0M613 582h0M538 517h0M705 676h0M587 512h0M690 673h0M782 829h0M679 664h0M846 916h0M638 590h0M672 651h0M814 922h0M752 816h0M809 867h0M567 517h0M823 874h0M653 640h0" stroke="#e2636b" stroke-width="28.0" stroke-linecap="round" fill="none"/>
<path transform="translate(406 28) scale(.1)" d="M640 8h0M588 189h0M657 71h0M540 330h0M641 54h0M626 8h0M575 497h0M525 330h0M625 84h0M291 551h0M399 498h0M420 524h0M446 515h0M197 588h0M457 505h0M392 563h0M60 713h0M159 630h0M7 692h0M396 525h0M65 665h0M285 556h0M108 662h0M245 573h0M521 537h0M2 700h0M201 586h0M165 623h0M102 664h0M308 536h0M419 505h0M320 568h0M499 489h0M365 566h0M635 620h0M530 496h0M795 838h0M608 565h0M732 802h0M765 826h0M714 739h0M636 683h0M684 735h0M599 557h0M706 774h0M667 726h0M704 773h0M620 638h0M751 777h0M600 629h0M723 747h0M711 739h0M524 499h0M604 589h0M622 580h0M795 936h0M769 833h0M587 605h0M647 632h0M804 837h0M584 557h0M623 608h0M568 527h0M825 948h0" stroke="#7fc97a" stroke-width="28.0" stroke-linecap="round" fill="none"/>
<path transform="translate(417 60) scale(.1)" d="M436 3h0M426 12h0M461 46h0M282 204h0M369 199h0M284 202h0M268 198h0M221 228h0M357 190h0M374 206h0M429 174h0M213 244h0M13 348h0M345 191h0M298 204h0M383 196h0M350 218h0M2 335h0M361 191h0M81 277h0M268 194h0M295 198h0M273 192h0M503 316h0" stroke="#a868c4" stroke-width="28.0" stroke-linecap="round" fill="none"/>
<path transform="translate(403 30) scale(.1)" d="M586 262h0M567 381h0M568 289h0M594 379h0M629 202h0M628 206h0M637 107h0M518 435h0M664 125h0M655 19h0M677 1h0M526 495h0M468 517h0M391 489h0M225 596h0M368 512h0M106 659h0M82 666h0M318 547h0M172 599h0M546 490h0M89 649h0M291 538h0M96 634h0M36 704h0M183 616h0M167 632h0M276 595h0M466 480h0M43 702h0M372 504h0M20 701h0M136 673h0M193 601h0M86 651h0M398 542h0M53 681h0M281 556h0M73 686h0M178 635h0M158 645h0M218 607h0M472 478h0M167 629h0M106 634h0M138 622h0M329 555h0M366 548h0M173 603h0M467 521h0M2 693h0M731 679h0" stroke="#4f8fd8" stroke-width="28.0" stroke-linecap="round" fill="none"/>
<path transform="translate(407 27) scale(.1)" d="M598 107h0M602 143h0M561 351h0M512 399h0M611 163h0M528 404h0M612 81h0M552 287h0M522 459h0M549 282h0M629 42h0M608 112h0M586 239h0M569 165h0M638 3h0M552 309h0M572 171h0M622 131h0M573 251h0M622 49h0M579 254h0M564 160h0M586 142h0M641 82h0M564 330h0M523 481h0M547 387h0M620 67h0M588 138h0M627 93h0M643 40h0M554 360h0M612 124h0M575 229h0M633 86h0M570 231h0M477 509h0M568 287h0M627 41h0M540 319h0M559 262h0M600 153h0M563 217h0M619 136h0M567 255h0M636 40h0M572 155h0M507 442h0M639 74h0M601 91h0M566 371h0M488 482h0M600 154h0M641 73h0M562 313h0M538 407h0M515 347h0M612 171h0M523 521h0M554 407h0M590 229h0M625 10h0M564 292h0M552 345h0M514 475h0M541 356h0M555 176h0M594 207h0M553 414h0M541 407h0M549 267h0M548 414h0M548 390h0M609 166h0M526 521h0M616 169h0M544 335h0M625 232h0M523 368h0M558 292h0M570 305h0M584 161h0M531 423h0M575 157h0M614 146h0M635 38h0M516 363h0M584 245h0M633 38h0M594 85h0M522 329h0M518 494h0M592 87h0M617 115h0M540 469h0M617 115h0M595 184h0M536 386h0M531 387h0M528 352h0M543 339h0M609 148h0M599 181h0M541 381h0M525 419h0M619 34h0M535 280h0M574 180h0M513 464h0M541 408h0M589 212h0M588 246h0M541 374h0M612 143h0M576 221h0M548 313h0M526 452h0M565 272h0M584 269h0M513 455h0M503 459h0M522 395h0M181 630h0M467 495h0M49 710h0M526 510h0M341 528h0M496 521h0M55 688h0M59 718h0M411 519h0M201 591h0M146 622h0M374 497h0M353 567h0M118 663h0M525 485h0M91 665h0M240 567h0M455 523h0M439 525h0M5 748h0M317 571h0M499 521h0M189 638h0M449 478h0M165 646h0M260 579h0M229 588h0M465 492h0M148 629h0M169 612h0M172 608h0M200 628h0M412 516h0M436 540h0M448 504h0M499 532h0M134 643h0M308 573h0M391 541h0M74 715h0M295 564h0M284 566h0M38 696h0M431 533h0M191 622h0M466 506h0M31 693h0M142 646h0M409 534h0M314 537h0M295 569h0M294 570h0M314 554h0M247 586h0M431 535h0M149 634h0M418 527h0M249 619h0M617 614h0M604 589h0M571 534h0M579 641h0M682 778h0M593 614h0M688 701h0M564 561h0M655 637h0M588 610h0M721 795h0M563 599h0M567 547h0M537 560h0M613 652h0M684 761h0M581 603h0M579 559h0M530 513h0M586 660h0M616 646h0M740 846h0M535 574h0M756 836h0M721 770h0M592 654h0M622 661h0M742 878h0M514 536h0M609 656h0M491 508h0M632 645h0M688 728h0M700 747h0M652 655h0M653 715h0M808 882h0M641 680h0M731 796h0M758 879h0M661 739h0M773 848h0M559 557h0M620 676h0M613 665h0M711 768h0M685 709h0M799 871h0M668 711h0M626 625h0M719 804h0M794 917h0M631 639h0M722 816h0M790 870h0M553 544h0M724 805h0M635 687h0M765 862h0M753 828h0M699 819h0M642 680h0M668 704h0M657 727h0M591 680h0M684 659h0M740 859h0M609 608h0M683 727h0M740 844h0M731 827h0M826 949h0M631 691h0M693 722h0M580 582h0M574 628h0M507 523h0M542 485h0M702 693h0M683 732h0M574 581h0M751 825h0M546 536h0M575 585h0M612 610h0M541 513h0M503 520h0M629 714h0M659 650h0M713 786h0M748 877h0M515 544h0M563 541h0M523 513h0M604 631h0M535 619h0M704 736h0M494 528h0M551 511h0M770 876h0M518 542h0M671 682h0M770 843h0M591 542h0M624 659h0M553 536h0M751 827h0M757 871h0M682 766h0M521 543h0M821 966h0" stroke="#e2636b" stroke-width="28.0" stroke-linecap="round" fill="none"/>
<path transform="translate(404 32) scale(.1)" d="M565 367h0M650 5h0M540 435h0M588 203h0M617 204h0M605 264h0M563 441h0M611 243h0M604 181h0M5 682h0M538 448h0M164 625h0M94 640h0M285 538h0M184 569h0M51 677h0M469 491h0M352 522h0M16 639h0M473 494h0M364 505h0M479 429h0M441 509h0M236 543h0M480 475h0M216 552h0M131 616h0M177 566h0M429 460h0M214 567h0M267 539h0M91 647h0M281 533h0M494 445h0M711 671h0M589 552h0M658 587h0M635 612h0M625 575h0M704 672h0M658 576h0M643 570h0M702 683h0M705 661h0M580 524h0M830 884h0M781 833h0M813 911h0M622 504h0M838 875h0M815 888h0M555 491h0M796 826h0M686 606h0M663 541h0M777 758h0M583 495h0M748 739h0M788 765h0M756 741h0M600 549h0M583 480h0M706 680h0M841 898h0" stroke="#7fc97a" stroke-width="28.0" stroke-linecap="round" fill="none"/>
<path transform="translate(416 64) scale(.1)" d="M434 4h0M418 12h0M353 183h0M317 183h0M296 185h0M320 150h0M380 124h0M246 201h0M256 178h0M151 231h0M170 209h0M104 205h0M72 224h0M445 123h0M170 211h0M289 181h0M312 173h0M68 240h0M267 183h0M5 284h0M163 231h0M216 189h0M630 392h0M599 310h0" stroke="#a868c4" stroke-width="28.0" stroke-linecap="round" fill="none"/>
<path transform="translate(405 32) scale(.1)" d="M622 106h0M561 317h0M532 405h0M600 266h0M578 350h0M635 109h0M619 18h0M559 198h0M550 318h0M637 1h0M552 451h0M263 511h0M271 521h0M13 667h0M240 550h0M460 479h0M304 513h0M178 539h0M314 555h0M519 459h0M372 487h0M392 514h0M236 566h0M8 682h0M292 549h0M235 541h0M337 482h0M125 586h0M371 516h0M99 608h0M27 648h0M327 541h0M355 490h0M276 557h0M151 610h0M306 546h0M96 615h0M121 620h0M200 559h0M420 471h0M158 580h0M269 551h0M485 505h0M44 634h0M78 622h0M71 643h0M401 479h0M81 634h0M152 564h0M54 666h0M91 607h0M753 824h0" stroke="#4f8fd8" stroke-width="28.0" stroke-linecap="round" fill="none"/>
<path transform="translate(405 26) scale(.1)" d="M548 457h0M545 446h0M627 180h0M556 290h0M586 157h0M579 349h0M635 128h0M607 178h0M663 98h0M601 245h0M560 301h0M601 261h0M575 481h0M587 264h0M626 228h0M566 433h0M546 444h0M547 444h0M591 200h0M591 241h0M682 73h0M579 237h0M573 342h0M530 491h0M535 483h0M546 448h0M540 389h0M546 392h0M571 292h0M618 118h0M603 201h0M589 242h0M619 132h0M662 31h0M628 163h0M565 361h0M618 174h0M632 117h0M578 442h0M591 173h0M558 243h0M608 96h0M677 79h0M653 38h0M533 372h0M565 460h0M666 82h0M569 400h0M635 58h0M612 140h0M619 154h0M613 150h0M567 375h0M560 373h0M575 474h0M616 134h0M656 66h0M619 152h0M625 65h0M552 429h0M675 3h0M558 404h0M599 379h0M530 476h0M614 230h0M596 255h0M659 85h0M551 419h0M558 383h0M565 356h0M553 383h0M636 102h0M579 315h0M532 447h0M612 115h0M539 430h0M666 107h0M584 288h0M671 42h0M613 295h0M578 265h0M570 279h0M533 429h0M581 342h0M573 179h0M610 297h0M594 292h0M609 195h0M629 174h0M617 72h0M562 309h0M572 305h0M596 200h0M572 326h0M522 458h0M513 484h0M568 447h0M550 338h0M631 170h0M586 169h0M633 100h0M622 201h0M611 135h0M541 447h0M565 418h0M599 130h0M634 35h0M541 524h0M649 69h0M601 246h0M665 105h0M572 335h0M596 145h0M556 454h0M544 386h0M638 157h0M594 188h0M532 378h0M566 360h0M654 80h0M528 405h0M317 581h0M329 572h0M122 691h0M194 609h0M208 618h0M341 515h0M261 602h0M129 695h0M344 576h0M431 529h0M424 525h0M229 596h0M302 566h0M449 537h0M101 672h0M472 547h0M26 740h0M259 587h0M506 541h0M190 663h0M500 555h0M454 548h0M209 663h0M338 572h0M462 526h0M439 568h0M538 527h0M64 677h0M3 752h0M424 551h0M405 566h0M358 563h0M108 678h0M397 525h0M206 674h0M459 554h0M7 761h0M263 601h0M224 606h0M266 594h0M478 553h0M220 618h0M490 561h0M439 564h0M440 541h0M291 591h0M400 554h0M347 584h0M534 505h0M409 563h0M260 621h0M386 558h0M440 538h0M180 613h0M139 690h0M148 639h0M417 546h0M423 565h0M541 489h0M800 892h0M586 568h0M599 549h0M599 569h0M626 644h0M613 638h0M558 551h0M560 600h0M822 889h0M599 568h0M773 771h0M659 718h0M729 795h0M713 752h0M748 782h0M687 768h0M685 692h0M550 583h0M780 856h0M752 814h0M643 638h0M516 556h0M574 549h0M602 555h0M675 675h0M569 601h0M566 555h0M757 859h0M769 858h0M686 739h0M708 725h0M802 913h0M768 879h0M605 660h0M640 640h0M558 529h0M653 639h0M807 879h0M672 697h0M797 939h0M794 859h0M780 900h0M600 608h0M531 520h0M694 687h0M549 527h0M666 726h0M611 600h0M595 576h0M812 988h0M801 880h0M805 912h0M812 917h0M805 972h0M638 653h0M618 600h0M686 721h0M814 952h0M718 730h0M629 629h0M648 741h0M803 891h0M517 512h0M547 510h0M659 691h0M661 670h0M607 671h0M570 510h0M595 637h0M618 605h0M607 619h0M648 692h0M574 576h0M754 812h0M736 875h0M835 923h0M637 682h0M808 883h0M702 743h0M654 655h0M680 766h0M652 683h0M686 672h0M670 738h0M623 588h0M585 554h0M746 845h0M641 693h0M646 607h0M560 557h0M536 519h0M583 560h0M658 662h0M719 769h0M537 534h0M719 772h0M588 631h0M592 584h0M555 538h0M688 749h0M729 784h0M622 683h0M588 544h0M530 570h0M666 738h0M610 614h0M698 724h0M754 887h0M729 845h0M634 691h0" stroke="#e2636b" stroke-width="28.0" stroke-linecap="round" fill="none"/>
<path transform="translate(408 29) scale(.1)" d="M589 57h0M515 359h0M640 5h0M623 180h0M607 11h0M540 358h0M591 78h0M603 91h0M561 314h0M296 542h0M125 620h0M165 586h0M171 551h0M138 627h0M40 679h0M328 538h0M4 708h0M429 503h0M495 504h0M245 555h0M187 597h0M1 692h0M64 652h0M287 567h0M131 639h0M384 487h0M123 629h0M153 640h0M336 522h0M174 597h0M30 683h0M96 623h0M205 617h0M771 867h0M749 858h0M812 899h0M729 782h0M597 632h0M638 602h0M557 536h0M656 706h0M806 856h0M796 884h0M621 642h0M633 628h0M585 598h0M648 665h0M741 800h0M527 527h0M660 675h0M723 810h0M550 538h0M628 694h0M761 829h0M509 500h0M758 845h0M526 488h0M657 699h0M604 672h0M533 537h0M664 662h0M782 881h0M562 603h0" stroke="#7fc97a" stroke-width="28.0" stroke-linecap="round" fill="none"/>
<path transform="translate(418 36) scale(.1)" d="M514 42h0M541 5h0M87 534h0M108 497h0M41 543h0M200 456h0M140 448h0M264 456h0M361 434h0M381 430h0M274 439h0M151 478h0M243 463h0M8 566h0M240 433h0M115 513h0M3 567h0M61 557h0M371 447h0M385 416h0M219 495h0M321 440h0M478 534h0" stroke="#a868c4" stroke-width="28.0" stroke-linecap="round" fill="none"/>
<path transform="translate(406 32) scale(.1)" d="M556 267h0M551 445h0M519 439h0M592 38h0M660 1h0M528 466h0M566 324h0M627 73h0M608 115h0M550 331h0M477 479h0M442 493h0M440 484h0M16 672h0M57 656h0M97 629h0M335 504h0M212 554h0M448 463h0M107 603h0M78 624h0M298 535h0M26 688h0M238 556h0M37 675h0M257 542h0M98 618h0M208 618h0M289 500h0M111 613h0M226 547h0M3 712h0M121 608h0M136 574h0M483 456h0M114 600h0M203 554h0M275 540h0M145 623h0M149 578h0M103 615h0M362 487h0M45 654h0M272 538h0M333 516h0M249 548h0M30 630h0M297 536h0M99 634h0M297 590h0M641 628h0M545 481h0" stroke="#4f8fd8" stroke-width="28.0" stroke-linecap="round" fill="none"/>
<circle cx="458.50" cy="78.00" r="4.10" fill="#111" stroke="none" stroke-width="0.6" />
<text x="458.50" y="80.60" font-size="7.2" fill="#fff" text-anchor="middle" font-weight="bold" >1</text>
<path d="M490.6 101 C482 88 476.5 66 476.2 47" fill="none" stroke="#111" stroke-width="0.9" />
<path d="M476.30 43.00L478.18 49.15L475.95 47.99L473.59 48.82Z" fill="#111" stroke="none" stroke-width="0" />
<path d="M478 119.5 C470 103 448 91 424.5 100.8" fill="none" stroke="#111" stroke-width="0.9" />
<path d="M420.60 102.80L425.15 98.26L425.17 100.77L427.02 102.46Z" fill="#111" stroke="none" stroke-width="0" />
<circle cx="490.00" cy="39.00" r="1.60" fill="#e2636b" stroke="none" stroke-width="0.6" />
<text x="493.60" y="42.00" font-size="8.5" fill="#111" text-anchor="start" font-weight="normal" >cTEC</text>
<circle cx="490.00" cy="49.40" r="1.60" fill="#7fc97a" stroke="none" stroke-width="0.6" />
<text x="493.60" y="52.40" font-size="8.5" fill="#111" text-anchor="start" font-weight="normal" >mTEC(I)</text>
<circle cx="490.00" cy="59.80" r="1.60" fill="#a868c4" stroke="none" stroke-width="0.6" />
<text x="493.60" y="62.80" font-size="8.5" fill="#111" text-anchor="start" font-weight="normal" >mTEC(II)</text>
<circle cx="490.00" cy="70.20" r="1.60" fill="#4f8fd8" stroke="none" stroke-width="0.6" />
<text x="493.60" y="73.20" font-size="8.5" fill="#111" text-anchor="start" font-weight="normal" >nsTEC</text>
<text x="407.00" y="30.70" font-size="5" fill="#123" text-anchor="start" font-weight="normal" >Pseudotime</text>
<defs><linearGradient id="gPs" x1="0" x2="1" y1="0" y2="0"><stop offset="0" stop-color="#0e2f55"/><stop offset="1" stop-color="#5aa6e6"/></linearGradient></defs>
<rect x="407.00" y="32.80" width="23.10" height="3.10" fill="url(#gPs)" stroke="none" stroke-width="0.6" />
<text x="406.60" y="41.00" font-size="4.6" fill="#123" text-anchor="start" font-weight="normal" >0</text>
<text x="411.70" y="41.00" font-size="4.6" fill="#123" text-anchor="start" font-weight="normal" >10</text>
<text x="419.40" y="41.00" font-size="4.6" fill="#123" text-anchor="start" font-weight="normal" >20</text>
<text x="426.80" y="41.00" font-size="4.6" fill="#123" text-anchor="start" font-weight="normal" >30</text>
<path d="M434.2 52.2L435.1 48.5" fill="none" stroke="#2864a0" stroke-width="3.7" stroke-linecap="round"/>
<path d="M435.1 48.5L436.1 44.8" fill="none" stroke="#2b69a6" stroke-width="3.7" stroke-linecap="round"/>
<path d="M436.1 44.8L437.0 41.1" fill="none" stroke="#2e6eac" stroke-width="3.7" stroke-linecap="round"/>
<path d="M437.0 41.1L438.0 37.4" fill="none" stroke="#3273b1" stroke-width="3.7" stroke-linecap="round"/>
<path d="M438.0 37.4L438.9 33.8" fill="none" stroke="#3578b7" stroke-width="3.7" stroke-linecap="round"/>
<path d="M438.9 33.8L439.9 30.2" fill="none" stroke="#387dbd" stroke-width="3.7" stroke-linecap="round"/>
<path d="M434.2 52.2L430.4 53.0" fill="none" stroke="#225d96" stroke-width="4.2" stroke-linecap="round"/>
<path d="M430.4 53.0L426.6 54.0" fill="none" stroke="#2a69a4" stroke-width="4.2" stroke-linecap="round"/>
<path d="M426.6 54.0L422.7 55.3" fill="none" stroke="#3174b2" stroke-width="4.2" stroke-linecap="round"/>
<path d="M422.7 55.3L418.7 57.0" fill="none" stroke="#397fbf" stroke-width="4.2" stroke-linecap="round"/>
<path d="M418.7 57.0L414.7 59.0" fill="none" stroke="#408bcd" stroke-width="4.2" stroke-linecap="round"/>
<path d="M414.7 59.0L410.6 61.2" fill="none" stroke="#4896db" stroke-width="4.2" stroke-linecap="round"/>
<path d="M434.2 52.2L436.6 54.6" fill="none" stroke="#16406d" stroke-width="4.2" stroke-linecap="round"/>
<path d="M436.6 54.6L438.9 57.4" fill="none" stroke="#143c68" stroke-width="4.2" stroke-linecap="round"/>
<path d="M438.9 57.4L441.2 60.4" fill="none" stroke="#133862" stroke-width="4.2" stroke-linecap="round"/>
<path d="M441.2 60.4L443.3 63.8" fill="none" stroke="#11355d" stroke-width="4.2" stroke-linecap="round"/>
<path d="M443.3 63.8L445.4 67.6" fill="none" stroke="#103158" stroke-width="4.2" stroke-linecap="round"/>
<path d="M445.4 67.6L447.3 71.6" fill="none" stroke="#0e2d52" stroke-width="4.2" stroke-linecap="round"/>
<circle cx="434.20" cy="52.20" r="1.70" fill="#111" stroke="none" stroke-width="0.6" />
<circle cx="434.20" cy="52.20" r="0.70" fill="#888" stroke="none" stroke-width="0.6" />
<path d="M449 62.4 C445.4 56 442 46 442.3 39.6" fill="none" stroke="#111" stroke-width="0.55" />
<path d="M442.40 37.20L443.31 39.83L442.34 38.80L441.31 39.76Z" fill="#111" stroke="none" stroke-width="0" />
<path d="M443.4 70.6 C439 62 428 58.4 420.4 61.6" fill="none" stroke="#111" stroke-width="0.55" />
<path d="M418.20 62.60L420.13 60.59L419.65 61.92L420.98 62.41Z" fill="#111" stroke="none" stroke-width="0" />
<line x1="564.60" y1="24.00" x2="564.60" y2="131.50" stroke="#222" stroke-width="0.7" />
<line x1="564.30" y1="131.30" x2="663.50" y2="131.30" stroke="#222" stroke-width="0.7" />
<line x1="562.40" y1="53.62" x2="564.60" y2="53.62" stroke="#333" stroke-width="0.5" />
<text x="561.00" y="56.42" font-size="7.8" fill="#111" text-anchor="end" font-weight="normal" >4</text>
<line x1="562.40" y1="83.10" x2="564.60" y2="83.10" stroke="#333" stroke-width="0.5" />
<text x="561.00" y="85.90" font-size="7.8" fill="#111" text-anchor="end" font-weight="normal" >0</text>
<line x1="562.40" y1="112.58" x2="564.60" y2="112.58" stroke="#333" stroke-width="0.5" />
<text x="561.00" y="115.38" font-size="7.8" fill="#111" text-anchor="end" font-weight="normal" >−4</text>
<line x1="583.78" y1="131.30" x2="583.78" y2="133.50" stroke="#333" stroke-width="0.5" />
<text x="582.78" y="143.60" font-size="7.8" fill="#111" text-anchor="middle" font-weight="normal" >−4</text>
<line x1="610.30" y1="131.30" x2="610.30" y2="133.50" stroke="#333" stroke-width="0.5" />
<text x="610.30" y="143.60" font-size="7.8" fill="#111" text-anchor="middle" font-weight="normal" >0</text>
<line x1="636.82" y1="131.30" x2="636.82" y2="133.50" stroke="#333" stroke-width="0.5" />
<text x="636.82" y="143.60" font-size="7.8" fill="#111" text-anchor="middle" font-weight="normal" >4</text>
<text x="551.40" y="84.80" font-size="8.3" fill="#111" text-anchor="middle" font-weight="normal" transform="rotate(-90 551.40 84.80)" >UMAP_2</text>
<path transform="translate(595 112) scale(.1)" d="M41 87h0M90 65h0M130 61h0M137 129h0M98 136h0M110 13h0M113 100h0M141 49h0M48 101h0M98 134h0M108 43h0M52 134h0M110 69h0M102 88h0M81 143h0M7 105h0M141 105h0M37 0h0M52 64h0M159 94h0M49 90h0M95 157h0M160 104h0M8 88h0M47 117h0M103 135h0M166 127h0M69 73h0M133 119h0M60 134h0M131 131h0M106 113h0M62 96h0M132 43h0M173 89h0M31 60h0M88 124h0M105 98h0M18 65h0M63 47h0M96 73h0M119 78h0M94 120h0M100 123h0M33 121h0M97 146h0M173 57h0M99 127h0M69 56h0M105 57h0M94 144h0M67 127h0M105 144h0M134 94h0M93 120h0M15 44h0M36 90h0M80 55h0M103 96h0M25 113h0M114 100h0M52 137h0M89 79h0M94 146h0M50 133h0M71 100h0M73 114h0M90 111h0M149 55h0M93 99h0M56 125h0M118 151h0M136 78h0M47 104h0M90 94h0M19 108h0M31 91h0M55 47h0M111 109h0M43 113h0M112 134h0M87 85h0M65 143h0M40 97h0M115 99h0M18 103h0M132 107h0M97 56h0M84 64h0M118 136h0M58 91h0M152 92h0M103 65h0M153 112h0M66 90h0M105 120h0M102 133h0M41 122h0M58 112h0M140 77h0M16 105h0M114 55h0M96 127h0M125 118h0M117 99h0M48 107h0M44 105h0M130 71h0M46 70h0M43 108h0M28 120h0M35 59h0M72 92h0M134 109h0M112 50h0M52 98h0M90 83h0M60 141h0M132 104h0M90 57h0M35 105h0M61 58h0M71 109h0M94 63h0M72 119h0M122 87h0M87 108h0M94 81h0M85 98h0M54 134h0M115 113h0M69 87h0M146 124h0M83 100h0M115 100h0M69 82h0M87 138h0M54 126h0M121 74h0M133 61h0M103 86h0M76 103h0M76 116h0M96 82h0M108 58h0M151 72h0M50 132h0M69 124h0M76 98h0M120 133h0M80 140h0M44 109h0M149 107h0M28 79h0M125 136h0M65 115h0M116 111h0M94 102h0M43 71h0M122 87h0M126 116h0M44 78h0M63 116h0M32 83h0M45 91h0M152 113h0M109 67h0M51 116h0M30 126h0M112 92h0M86 96h0M146 97h0M78 77h0M61 107h0M110 99h0M153 109h0M107 133h0M141 63h0M68 82h0M89 75h0M52 78h0M75 101h0M93 102h0M32 97h0M123 112h0M52 66h0M95 66h0M109 85h0M110 131h0M42 63h0M135 59h0M54 62h0M136 70h0M50 62h0M69 83h0M81 53h0M93 91h0M116 58h0M38 89h0M16 103h0M101 107h0M56 88h0M56 51h0M122 69h0M86 114h0M80 143h0M98 108h0M75 89h0M90 118h0M113 115h0M105 83h0M26 84h0M85 116h0M136 128h0M105 75h0M72 68h0M108 101h0M110 71h0M68 93h0M63 121h0M67 121h0M140 63h0M84 104h0M121 52h0M82 92h0M149 87h0M95 67h0M98 71h0M100 99h0M95 106h0M86 55h0M79 109h0M124 54h0M96 105h0M129 90h0M101 83h0M55 113h0M104 109h0M83 82h0M24 114h0M88 56h0M82 73h0M111 59h0M52 92h0M126 130h0M141 94h0M93 115h0M134 114h0M118 60h0M94 70h0M134 78h0M113 57h0M111 69h0M80 134h0M111 107h0M48 88h0M101 91h0M77 99h0M89 108h0M146 83h0M97 86h0M111 113h0M69 134h0M113 51h0M154 96h0M112 72h0M117 103h0M97 116h0M15 84h0M126 86h0M79 135h0M74 84h0M66 117h0M150 100h0M99 143h0M138 107h0M102 53h0M136 67h0M102 95h0M115 140h0M85 113h0M59 104h0M85 97h0M57 61h0M69 134h0M141 114h0M133 117h0M102 120h0M20 87h0M68 142h0M55 120h0M81 94h0M134 114h0M108 126h0M74 121h0M77 105h0M28 106h0M47 80h0M85 62h0M147 67h0M100 135h0M72 101h0M55 107h0M149 109h0M129 132h0M59 115h0M110 132h0M81 137h0M124 75h0M99 136h0M60 104h0M134 63h0M89 75h0M42 96h0M144 85h0M99 130h0M58 66h0M142 100h0M33 131h0M16 83h0M71 115h0" stroke="#19057a" stroke-width="8.0" stroke-linecap="square" fill="none" opacity="0.95"/>
<path transform="translate(591 109) scale(.1)" d="M51 83h0M85 104h0M91 77h0M246 86h0M68 65h0M89 147h0M145 67h0M92 81h0M58 91h0M185 81h0M151 102h0M18 84h0M178 15h0M192 35h0M147 68h0M228 87h0M245 10h0M202 143h0M137 105h0M187 68h0M167 68h0M88 54h0M73 133h0M169 105h0M116 96h0M229 87h0M108 30h0M5 53h0M159 98h0M183 90h0M72 88h0M54 102h0M188 96h0M32 94h0M99 94h0M203 92h0M175 87h0M54 124h0M193 124h0M173 95h0M192 54h0M201 87h0M40 59h0M23 108h0M49 55h0M54 112h0M89 142h0M154 128h0M214 102h0M59 131h0M175 119h0M234 80h0M190 153h0M119 58h0M208 108h0M174 158h0M86 128h0M173 84h0M62 159h0M81 89h0M89 59h0M121 49h0M146 105h0M48 126h0M72 106h0M130 91h0M106 72h0M34 42h0M146 174h0M86 95h0M175 74h0M146 181h0M37 73h0M125 126h0M203 46h0M170 85h0M109 34h0M61 118h0M98 101h0M61 95h0M73 128h0M46 80h0M42 111h0M126 87h0M96 111h0M52 79h0M72 95h0M102 135h0M83 88h0M95 79h0M36 104h0M78 56h0M108 88h0M84 107h0M114 165h0M71 144h0M235 64h0M182 44h0M51 81h0M214 50h0M95 34h0M263 105h0M183 69h0M153 25h0M232 71h0M206 73h0M126 114h0M215 47h0M224 62h0M44 154h0M133 116h0M171 118h0M104 50h0M249 58h0M248 87h0M163 109h0M188 91h0M132 8h0M203 15h0M132 42h0M63 23h0M170 109h0M148 89h0M146 96h0M179 100h0M142 69h0M203 106h0M170 94h0M158 104h0M29 133h0M52 104h0M22 92h0M89 57h0M231 102h0M45 76h0M12 95h0M108 79h0M171 122h0M139 16h0M76 116h0M135 99h0M151 121h0M174 157h0M97 162h0M81 165h0M156 117h0M181 136h0M177 129h0M92 134h0M142 121h0M93 130h0M110 127h0M120 140h0M180 150h0M75 98h0M153 152h0M150 97h0M161 105h0M77 153h0M114 131h0M98 119h0M71 153h0M113 121h0M111 90h0M115 105h0M188 145h0M182 137h0" stroke="#370286" stroke-width="8.0" stroke-linecap="square" fill="none" opacity="0.95"/>
<path transform="translate(590 104) scale(.1)" d="M33 115h0M197 113h0M194 43h0M118 26h0M102 82h0M99 123h0M146 85h0M79 151h0M44 150h0M98 43h0M115 173h0M259 130h0M212 124h0M75 48h0M98 187h0M24 153h0M29 161h0M53 27h0M236 96h0M26 175h0M158 100h0M12 125h0M124 164h0M229 73h0M7 120h0M81 111h0M154 142h0M53 169h0M118 123h0M195 123h0M244 114h0M187 93h0M101 77h0M141 120h0M215 100h0M234 150h0M65 117h0M188 41h0M44 114h0M277 105h0M289 115h0M102 115h0M275 86h0M258 140h0M70 130h0M91 167h0M91 169h0M55 79h0M238 81h0M186 36h0M175 81h0M104 148h0M62 136h0M175 45h0M83 157h0M256 73h0M190 100h0M108 73h0M45 44h0M15 119h0M120 30h0M148 144h0M86 160h0M73 135h0M163 116h0M196 108h0M244 62h0M158 58h0M161 83h0M100 76h0M85 195h0M184 111h0M187 109h0M22 89h0M224 110h0M56 115h0M72 83h0M89 109h0M32 109h0M203 130h0M166 32h0M124 49h0M75 93h0M116 108h0M134 91h0M223 171h0M154 136h0M162 82h0M159 87h0M41 106h0M20 65h0M213 137h0M134 30h0M159 45h0M177 12h0M220 81h0M67 120h0M54 73h0M256 105h0M6 102h0M290 102h0M194 142h0M256 139h0M126 217h0M28 107h0M277 70h0M187 132h0M147 46h0M51 119h0M29 119h0M79 113h0M104 112h0M233 152h0M73 93h0M202 115h0M54 152h0M84 51h0M101 151h0M93 179h0M154 18h0M264 115h0M24 148h0M172 29h0M219 54h0M132 135h0M218 134h0M185 11h0M203 93h0M196 62h0M276 105h0M200 6h0M40 63h0M186 68h0M193 133h0M205 189h0M284 110h0M62 122h0M145 32h0M171 112h0M110 64h0M238 109h0M186 134h0M101 105h0M87 84h0M40 123h0M253 132h0M51 151h0M12 115h0M95 130h0M37 135h0M202 104h0M131 52h0M67 175h0M89 72h0M191 132h0M232 159h0M224 61h0M198 153h0M10 136h0M221 101h0M200 171h0" stroke="#51028c" stroke-width="8.0" stroke-linecap="square" fill="none" opacity="0.95"/>
<path transform="translate(586 99) scale(.1)" d="M266 133h0M13 84h0M291 155h0M259 214h0M197 76h0M303 138h0M97 112h0M108 182h0M36 139h0M328 81h0M56 122h0M154 138h0M104 97h0M144 83h0M60 60h0M122 77h0M83 63h0M239 50h0M223 56h0M210 103h0M253 151h0M279 95h0M101 83h0M37 123h0M209 65h0M139 103h0M40 64h0M76 122h0M68 145h0M351 103h0M176 97h0M339 133h0M159 116h0M189 185h0M283 103h0M135 75h0M105 59h0M323 53h0M147 94h0M131 90h0M315 104h0M147 135h0M293 101h0M140 106h0M102 160h0M307 87h0M199 91h0M220 80h0M238 75h0M62 82h0M97 79h0M224 118h0M55 60h0M220 139h0M320 139h0M36 121h0M364 30h0M128 89h0M35 114h0M248 95h0M311 118h0M278 49h0M20 77h0M351 61h0M237 140h0M246 48h0M301 69h0M137 96h0M120 115h0M90 182h0M52 99h0M353 88h0M362 2h0M144 96h0M319 173h0M373 76h0M171 65h0M345 55h0M80 168h0M118 20h0M113 73h0M258 140h0M125 100h0M103 14h0M162 63h0M333 93h0M164 99h0M99 201h0M369 114h0M52 115h0M265 44h0M182 78h0M201 63h0M302 130h0M136 104h0M250 129h0M276 63h0M279 61h0M310 63h0M81 138h0M122 78h0M91 19h0M88 57h0M210 60h0M66 143h0M274 8h0M49 107h0M202 34h0M88 35h0M157 125h0M243 3h0M244 121h0M62 67h0M290 129h0M100 63h0M322 147h0M118 87h0M346 102h0M115 1h0M163 149h0M217 45h0M214 141h0M229 115h0M93 30h0M342 143h0M93 148h0M119 42h0M56 66h0M350 138h0M202 82h0M113 108h0M246 99h0M31 158h0M137 102h0M105 126h0M81 101h0M100 130h0M247 85h0M2 95h0M307 106h0M31 127h0M267 92h0M104 94h0M77 131h0M236 115h0M296 95h0M331 109h0M300 66h0M112 109h0M117 111h0M167 99h0M204 113h0M116 53h0M78 101h0M103 94h0M89 43h0M239 92h0M353 83h0M75 90h0M126 98h0M181 86h0M215 72h0M326 109h0M289 116h0M282 126h0M254 112h0M192 88h0M291 69h0M270 161h0M83 66h0M41 180h0M302 166h0M188 146h0M148 110h0M82 198h0M186 48h0M62 216h0M285 203h0M274 90h0M63 18h0M140 116h0M292 98h0M99 27h0M153 62h0M285 77h0M81 119h0M19 83h0M190 46h0M71 131h0M243 237h0M76 161h0M357 42h0M340 165h0M230 71h0M65 171h0M119 56h0M308 114h0M274 136h0M262 33h0M206 64h0M126 122h0M331 157h0M51 112h0M24 128h0M218 108h0M272 99h0M48 128h0" stroke="#6a028f" stroke-width="8.0" stroke-linecap="square" fill="none" opacity="0.95"/>
<path transform="translate(584 92) scale(.1)" d="M45 168h0M365 145h0M145 65h0M302 176h0M388 153h0M361 210h0M82 182h0M81 147h0M114 122h0M294 97h0M255 120h0M203 25h0M133 87h0M175 130h0M39 147h0M147 180h0M238 125h0M268 192h0M32 131h0M85 88h0M66 144h0M346 189h0M97 105h0M284 124h0M147 146h0M298 66h0M372 166h0M294 51h0M346 116h0M279 135h0M136 137h0M57 200h0M75 43h0M227 136h0M289 108h0M44 176h0M384 139h0M78 136h0M309 113h0M173 126h0M222 56h0M90 114h0M318 147h0M24 136h0M316 116h0M393 151h0M395 78h0M395 87h0M153 91h0M337 140h0M204 134h0M141 33h0M295 176h0M296 123h0M198 108h0M392 42h0M297 85h0M324 77h0M317 99h0M95 142h0M233 125h0M234 122h0M330 118h0M172 97h0M281 155h0M88 138h0M43 194h0M375 103h0M26 136h0M161 112h0M237 106h0M341 116h0M360 108h0M262 117h0M178 84h0M326 173h0M302 75h0M23 105h0M115 107h0M59 150h0M41 175h0M117 135h0M123 105h0M16 159h0M105 112h0M380 145h0M286 124h0M86 102h0M113 196h0M303 12h0M48 110h0M233 56h0M72 133h0M192 213h0M149 144h0M329 133h0M267 137h0M27 131h0M286 81h0M285 112h0M66 86h0M259 82h0M111 100h0M163 107h0M299 99h0M266 196h0M280 144h0M290 111h0M25 87h0M364 199h0M338 171h0M342 133h0M71 96h0M183 126h0M235 47h0M281 145h0M181 128h0M107 168h0M33 161h0M402 96h0M366 139h0M383 45h0M253 106h0M115 169h0M39 155h0M213 96h0M299 75h0M239 95h0M201 87h0M339 135h0M107 184h0M30 160h0M317 193h0M264 106h0M58 54h0M243 116h0M103 97h0M358 91h0M7 86h0M379 162h0M131 127h0M83 53h0M300 99h0M417 88h0M77 88h0M138 86h0M97 171h0M393 115h0M120 100h0M255 118h0M113 129h0M292 132h0M110 169h0M358 143h0M162 123h0M392 163h0M70 108h0M318 100h0M386 91h0M302 154h0M347 109h0M284 88h0M46 101h0M164 111h0M136 171h0M147 172h0M262 49h0M322 116h0M286 86h0M109 165h0M82 171h0M191 104h0M416 35h0M198 96h0M23 109h0M235 73h0M48 122h0M344 145h0M294 103h0M109 74h0M172 43h0M21 124h0M21 192h0M63 56h0M133 27h0M48 68h0M341 123h0M260 89h0M194 98h0M144 126h0M46 135h0M84 181h0M328 141h0M343 62h0M204 134h0M154 106h0M47 212h0M205 74h0M227 109h0M70 151h0M181 97h0M82 150h0M352 124h0M269 77h0M166 120h0M271 93h0M37 125h0M232 104h0M351 197h0M95 147h0M124 149h0M110 127h0M131 7h0M159 80h0M78 70h0M83 118h0M246 156h0M13 88h0M260 71h0M38 139h0M130 165h0M167 176h0M102 62h0M89 155h0M48 111h0M164 153h0M135 118h0M25 111h0M73 57h0M192 84h0M98 131h0M29 120h0M173 76h0M70 143h0M186 123h0M73 113h0M224 126h0" stroke="#7f1187" stroke-width="8.0" stroke-linecap="square" fill="none" opacity="0.95"/>
<path transform="translate(581 75) scale(.1)" d="M60 243h0M411 247h0M366 304h0M298 240h0M94 233h0M106 218h0M424 347h0M392 322h0M200 162h0M114 270h0M190 242h0M130 240h0M394 248h0M297 216h0M82 245h0M427 227h0M200 209h0M298 237h0M410 249h0M217 137h0M278 241h0M85 263h0M46 275h0M30 264h0M281 186h0M318 170h0M160 236h0M26 232h0M337 260h0M70 218h0M70 255h0M380 286h0M444 307h0M18 282h0M405 213h0M70 238h0M377 324h0M370 186h0M44 221h0M230 215h0M273 230h0M318 278h0M191 164h0M304 211h0M123 243h0M340 214h0M146 208h0M145 210h0M85 216h0M64 266h0M47 212h0M147 207h0M125 295h0M433 268h0M232 204h0M370 259h0M70 214h0M256 240h0M354 245h0M102 228h0M153 199h0M274 273h0M377 241h0M184 216h0M390 294h0M368 281h0M230 226h0M349 208h0M423 232h0M321 293h0M146 257h0M96 283h0M229 250h0M154 243h0M317 198h0M173 227h0M366 259h0M287 283h0M116 237h0M240 269h0M171 200h0M276 218h0M211 218h0M373 255h0M177 215h0M198 217h0M211 248h0M64 266h0M252 187h0M413 254h0M300 248h0M284 163h0M259 229h0M74 246h0M322 273h0M168 268h0M196 265h0M137 261h0M184 263h0M302 237h0M232 244h0M54 288h0M279 220h0M322 297h0M223 243h0M165 262h0M286 177h0M81 223h0M225 157h0M218 266h0M291 175h0M217 240h0M315 236h0M150 239h0M305 209h0M397 289h0M312 254h0M351 233h0M311 196h0M305 247h0M89 286h0M403 206h0M96 232h0M340 256h0M31 251h0M381 168h0M228 231h0M50 294h0M109 233h0M279 208h0M71 273h0M148 241h0M257 250h0M378 260h0M99 173h0M22 267h0M64 196h0M308 269h0M40 218h0M250 188h0M113 240h0M347 290h0M110 279h0M182 137h0M371 214h0M254 239h0M257 218h0M189 228h0M435 250h0M101 266h0M289 184h0M292 235h0M260 224h0M359 227h0M357 270h0M419 285h0M377 275h0M353 228h0M280 241h0M159 254h0M115 290h0M351 229h0M357 246h0M145 198h0M135 225h0M95 176h0M319 182h0M425 276h0M120 191h0M114 306h0M237 179h0M324 226h0M115 218h0M122 264h0M400 293h0M228 156h0M227 192h0M21 216h0M81 267h0M398 289h0M263 211h0M209 270h0M315 265h0M18 230h0M60 269h0M129 192h0M158 264h0M46 172h0M169 244h0M180 293h0M370 287h0M292 262h0M55 266h0M162 252h0M208 262h0M222 220h0M74 221h0M68 259h0M426 226h0M397 260h0M456 262h0M233 243h0M136 287h0M361 266h0M448 221h0M398 283h0M103 278h0M355 251h0M316 230h0M426 301h0M422 255h0M82 262h0M375 295h0M302 265h0M355 275h0M351 222h0M241 254h0M300 185h0M182 257h0M332 289h0M72 282h0M92 317h0M123 204h0M340 235h0M309 183h0M337 255h0M353 199h0M151 224h0M88 234h0M215 190h0M350 254h0M348 334h0M359 267h0M385 338h0M72 355h0M432 277h0M22 256h0M146 302h0M331 232h0M65 300h0M175 215h0M416 219h0M166 256h0M436 252h0M377 231h0M258 238h0M258 225h0M10 281h0M235 196h0M197 282h0M215 252h0M88 249h0M438 267h0M240 242h0M145 267h0M252 217h0M368 331h0M135 216h0M263 261h0M121 264h0M334 214h0M316 266h0M200 224h0M291 277h0M25 328h0M89 266h0M368 239h0M245 250h0M41 279h0M345 231h0M48 272h0M440 270h0M286 232h0M240 202h0M374 197h0M438 273h0M213 209h0M288 306h0M334 299h0M29 247h0M236 230h0M377 277h0M372 261h0M120 224h0M142 328h0M323 258h0M76 240h0M245 150h0M418 282h0M38 274h0M208 276h0M260 206h0M303 219h0M71 179h0M402 234h0M390 196h0M416 216h0M481 258h0M470 263h0M98 22h0M94 21h0M151 4h0M151 55h0M93 45h0" stroke="#931f7d" stroke-width="8.0" stroke-linecap="square" fill="none" opacity="0.95"/>
<path transform="translate(581 70) scale(.1)" d="M226 312h0M278 243h0M270 233h0M49 226h0M342 218h0M105 246h0M98 227h0M258 252h0M184 242h0M247 261h0M242 267h0M296 200h0M116 254h0M183 313h0M371 194h0M249 175h0M226 283h0M373 268h0M347 222h0M266 261h0M30 274h0M197 246h0M201 178h0M146 221h0M357 257h0M82 211h0M248 259h0M348 239h0M169 290h0M157 204h0M382 230h0M409 298h0M403 242h0M352 233h0M344 222h0M94 283h0M165 258h0M314 236h0M114 285h0M145 241h0M139 222h0M388 221h0M242 259h0M54 196h0M401 266h0M429 215h0M302 226h0M385 208h0M152 257h0M102 194h0M326 206h0M239 203h0M340 205h0M121 185h0M126 219h0M65 264h0M437 259h0M37 253h0M199 211h0M132 192h0M153 275h0M45 284h0M164 185h0M388 261h0M22 221h0M242 164h0M375 262h0M147 229h0M173 172h0M335 253h0M319 293h0M98 275h0M257 273h0M199 228h0M381 258h0M129 189h0M278 214h0M433 349h0M155 233h0M133 199h0M260 216h0M72 235h0M321 227h0M305 214h0M259 151h0M143 280h0M187 264h0M73 260h0M402 198h0M71 176h0M112 183h0M302 136h0M405 290h0M231 207h0M179 232h0M357 268h0M93 210h0M385 273h0M257 101h0M172 264h0M438 255h0M327 240h0M205 180h0M403 234h0M374 297h0M184 224h0M64 226h0M29 295h0M312 194h0M88 208h0M198 222h0M81 308h0M150 267h0M30 276h0M446 257h0M391 266h0M188 245h0M275 175h0M156 190h0M191 245h0M368 312h0M343 270h0M262 223h0M243 268h0M222 247h0M169 199h0M21 222h0M295 210h0M99 235h0M35 246h0M373 218h0M439 297h0M445 246h0M311 224h0M98 262h0M43 250h0M137 168h0M141 203h0M311 199h0M123 182h0M338 258h0M137 154h0M221 210h0M333 289h0M269 245h0M299 200h0M394 281h0M299 215h0M82 300h0M336 212h0M259 230h0M375 245h0M135 198h0M121 269h0M197 185h0M236 146h0M222 218h0M170 207h0M148 222h0M83 185h0M163 254h0M261 234h0M113 171h0M112 236h0M202 208h0M287 256h0M368 240h0M349 193h0M251 226h0M42 207h0M374 251h0M424 333h0M177 250h0M57 224h0M329 227h0M53 249h0M427 241h0M263 235h0M136 271h0M206 179h0M382 299h0M84 217h0M280 176h0M218 171h0M360 209h0M413 237h0M440 272h0M32 258h0M291 242h0M75 208h0M21 236h0M384 319h0M391 256h0M193 214h0M187 178h0M62 254h0M22 263h0M189 226h0M210 232h0M107 236h0M218 185h0M8 216h0M408 214h0M171 202h0M323 244h0M17 245h0M392 254h0M426 187h0M91 277h0M153 137h0M96 205h0M395 228h0M29 255h0M242 179h0M278 229h0M103 283h0M80 290h0M204 169h0M426 213h0M338 229h0M194 244h0M350 149h0M349 202h0M79 212h0M437 247h0M310 264h0M128 141h0M365 282h0M134 278h0M387 187h0M250 190h0M47 297h0M338 277h0M309 233h0M42 205h0M188 212h0M379 267h0M381 256h0M126 308h0M55 246h0M415 272h0M61 248h0M60 201h0M53 184h0M277 191h0M356 260h0M70 245h0M449 293h0M33 262h0M423 292h0M52 243h0M382 236h0M280 227h0M4 276h0M115 275h0M72 242h0M304 196h0M143 277h0M274 186h0M281 185h0M34 294h0M177 185h0M389 216h0M220 115h0M389 264h0M421 317h0M299 254h0M392 245h0M68 260h0M83 241h0M224 257h0M300 205h0M80 231h0M303 270h0M390 199h0M200 212h0M384 318h0M196 304h0M305 309h0M193 311h0M413 302h0M59 250h0M177 209h0M428 212h0M476 267h0M420 254h0M366 164h0M479 310h0M485 288h0M458 306h0M411 215h0M424 283h0M413 220h0M431 296h0M423 245h0M428 280h0M414 269h0M412 202h0M399 171h0M426 255h0M419 201h0M446 294h0M448 170h0M514 270h0M395 125h0M402 255h0M487 283h0M480 321h0M475 324h0M440 224h0M431 300h0M412 269h0M474 288h0M381 136h0M447 279h0M521 330h0M467 317h0M443 270h0M443 292h0M593 327h0M485 329h0M417 219h0M432 276h0M454 279h0M385 162h0M508 316h0M394 263h0M401 231h0M470 320h0M437 267h0M495 313h0M375 148h0M388 259h0M451 227h0M400 213h0M400 208h0M558 304h0M99 72h0M142 33h0M196 29h0M181 30h0M139 63h0M120 89h0M144 75h0M141 43h0M128 24h0M141 100h0M156 68h0M161 69h0M138 81h0M131 36h0M161 32h0M87 42h0M105 37h0M103 72h0M87 21h0M161 90h0M88 63h0M133 96h0M178 24h0M108 29h0M128 67h0M125 98h0M116 61h0M148 52h0M144 42h0M134 95h0M101 1h0M88 58h0M116 57h0M134 78h0" stroke="#a5326e" stroke-width="8.0" stroke-linecap="square" fill="none" opacity="0.95"/>
<path transform="translate(581 64) scale(.1)" d="M455 315h0M445 231h0M417 327h0M147 191h0M412 303h0M56 302h0M371 255h0M402 266h0M398 268h0M96 302h0M157 313h0M313 288h0M55 285h0M433 312h0M441 258h0M68 160h0M221 266h0M417 283h0M447 287h0M66 302h0M164 197h0M340 206h0M351 337h0M139 291h0M34 209h0M277 286h0M341 283h0M408 202h0M206 188h0M283 263h0M400 301h0M357 230h0M36 230h0M368 218h0M332 234h0M448 305h0M232 210h0M154 223h0M7 305h0M58 283h0M39 315h0M294 275h0M170 242h0M367 257h0M10 257h0M89 225h0M387 185h0M129 243h0M247 255h0M286 260h0M272 245h0M79 218h0M359 239h0M217 205h0M104 245h0M330 298h0M296 191h0M357 198h0M218 253h0M81 223h0M354 254h0M72 248h0M214 224h0M74 200h0M67 347h0M143 176h0M98 233h0M215 287h0M177 167h0M253 276h0M407 305h0M276 184h0M318 203h0M395 221h0M325 188h0M414 265h0M19 261h0M213 260h0M117 267h0M107 248h0M364 287h0M242 201h0M314 286h0M80 276h0M200 271h0M405 345h0M327 272h0M229 224h0M302 279h0M71 338h0M90 194h0M222 208h0M312 179h0M243 229h0M226 180h0M260 218h0M156 291h0M117 246h0M68 330h0M164 170h0M122 208h0M174 263h0M94 210h0M132 250h0M408 294h0M128 193h0M213 230h0M286 288h0M328 276h0M318 194h0M311 296h0M310 189h0M248 247h0M193 216h0M216 280h0M172 192h0M350 216h0M262 278h0M460 240h0M292 270h0M70 221h0M426 202h0M428 236h0M106 258h0M364 212h0M79 220h0M75 256h0M124 204h0M35 314h0M248 239h0M402 287h0M293 264h0M152 198h0M67 275h0M31 322h0M409 293h0M353 218h0M373 247h0M49 250h0M326 291h0M463 340h0M445 295h0M17 249h0M147 256h0M256 219h0M100 205h0M215 209h0M419 283h0M201 256h0M19 261h0M202 224h0M100 167h0M153 260h0M370 239h0M175 268h0M195 155h0M151 201h0M158 242h0M417 276h0M49 227h0M383 261h0M332 212h0M251 226h0M185 194h0M107 238h0M446 264h0M273 231h0M222 209h0M424 245h0M105 259h0M302 290h0M359 212h0M38 324h0M316 283h0M386 302h0M396 320h0M322 269h0M135 245h0M47 248h0M451 319h0M218 211h0M12 290h0M240 245h0M306 188h0M75 310h0M236 253h0M406 268h0M346 262h0M51 237h0M137 234h0M43 210h0M225 239h0M12 318h0M316 179h0M242 220h0M390 286h0M402 266h0M261 219h0M423 281h0M38 343h0M33 269h0M219 250h0M53 255h0M126 295h0M135 316h0M162 248h0M193 209h0M255 241h0M406 275h0M80 279h0M154 190h0M348 223h0M222 204h0M117 229h0M450 263h0M151 312h0M431 270h0M431 267h0M20 203h0M199 234h0M227 249h0M379 255h0M113 263h0M394 279h0M386 254h0M56 287h0M235 239h0M309 251h0M12 251h0M425 333h0M437 278h0M277 278h0M225 284h0M435 302h0M54 262h0M75 214h0M255 249h0M241 200h0M166 219h0M65 265h0M112 234h0M57 259h0M325 179h0M270 269h0M268 270h0M449 286h0M337 243h0M369 169h0M199 295h0M306 215h0M402 231h0M258 248h0M201 216h0M55 307h0M366 249h0M277 225h0M78 289h0M142 291h0M74 311h0M32 280h0M130 264h0M167 219h0M23 313h0M270 294h0M148 221h0M277 235h0M286 301h0M133 272h0M403 303h0M143 278h0M417 216h0M284 181h0M99 286h0M59 206h0M469 271h0M395 271h0M528 383h0M498 329h0M413 244h0M368 211h0M467 286h0M477 349h0M474 366h0M399 230h0M400 185h0M520 362h0M552 333h0M436 330h0M398 205h0M460 351h0M458 279h0M512 342h0M407 292h0M431 268h0M426 310h0M427 321h0M497 360h0M512 328h0M490 223h0M584 373h0M439 295h0M471 381h0M382 173h0M398 187h0M412 242h0M496 324h0M503 384h0M467 340h0M467 299h0M446 312h0M432 267h0M425 205h0M401 203h0M446 375h0M415 314h0M450 227h0M497 289h0M517 388h0M525 331h0M445 303h0M387 181h0M517 359h0M482 342h0M386 183h0M482 327h0M470 284h0M428 203h0M464 260h0M479 356h0M408 140h0M521 344h0M387 293h0M483 377h0M394 248h0M428 310h0M449 345h0M437 311h0M518 379h0M429 284h0M370 178h0M415 342h0M418 268h0M424 246h0M405 300h0M386 217h0M475 366h0M531 368h0M518 326h0M419 236h0M430 328h0M522 371h0M434 349h0M392 171h0M464 372h0M383 182h0M532 286h0M404 252h0M483 295h0M488 332h0M521 366h0M401 191h0M388 142h0M497 295h0M534 361h0M480 257h0M454 244h0M437 246h0M483 301h0M488 216h0M489 304h0M503 318h0M427 305h0M389 266h0M481 316h0M416 284h0M376 216h0M389 222h0M387 264h0M412 249h0M509 370h0M422 227h0M516 276h0M417 291h0M520 329h0M421 177h0M411 224h0M488 268h0M467 257h0M632 399h0M404 194h0M474 239h0M420 240h0M427 335h0M425 255h0M485 292h0M503 266h0M387 288h0M447 364h0M519 400h0M456 368h0M514 336h0M524 330h0M390 241h0M491 312h0M396 230h0M518 403h0M442 337h0M453 326h0M410 330h0M373 190h0M517 359h0M437 305h0M427 192h0M453 258h0M497 330h0M457 277h0M490 242h0M450 258h0M514 369h0M417 245h0M150 27h0M118 79h0M95 72h0M109 61h0M185 73h0M84 69h0M91 142h0M152 131h0M82 40h0M158 132h0M164 40h0M96 147h0M148 132h0M57 57h0M58 20h0M103 98h0M121 87h0M99 35h0M137 77h0M125 85h0M105 110h0M93 46h0M125 108h0M164 133h0M116 120h0M90 81h0M124 87h0M176 91h0M171 50h0M173 79h0M139 121h0M143 83h0M127 103h0M49 18h0M159 23h0M149 67h0M97 75h0M152 139h0M140 67h0M62 18h0M208 65h0M63 62h0M109 121h0M185 91h0M149 114h0M126 68h0M91 118h0M75 59h0M132 44h0M192 98h0M99 122h0M145 119h0M191 61h0M161 74h0M83 119h0M175 65h0M89 86h0M123 7h0M82 111h0M124 87h0M143 107h0M116 120h0M111 83h0M151 124h0M122 136h0M88 38h0M109 71h0M133 127h0M173 71h0M142 99h0M92 86h0M103 105h0M157 110h0" stroke="#b44461" stroke-width="8.0" stroke-linecap="square" fill="none" opacity="0.95"/>
<path transform="translate(580 61) scale(.1)" d="M182 179h0M156 185h0M427 240h0M308 215h0M332 227h0M342 194h0M378 299h0M147 242h0M437 347h0M250 256h0M42 218h0M45 178h0M325 193h0M251 173h0M121 207h0M121 235h0M182 259h0M242 217h0M70 208h0M26 235h0M304 217h0M443 270h0M439 200h0M389 229h0M316 193h0M312 179h0M365 235h0M272 255h0M61 220h0M217 182h0M241 227h0M426 261h0M327 198h0M182 320h0M465 318h0M54 229h0M412 296h0M315 231h0M98 256h0M145 172h0M403 239h0M249 264h0M86 250h0M352 238h0M135 203h0M82 335h0M69 253h0M43 289h0M292 264h0M117 221h0M338 278h0M118 223h0M268 272h0M104 243h0M287 298h0M167 283h0M96 226h0M464 308h0M20 267h0M424 242h0M407 216h0M217 193h0M62 284h0M229 283h0M235 256h0M230 241h0M421 294h0M281 212h0M391 212h0M193 230h0M258 229h0M413 247h0M94 251h0M158 232h0M287 229h0M133 248h0M231 225h0M244 229h0M368 211h0M68 253h0M185 247h0M328 209h0M400 262h0M19 311h0M106 222h0M37 226h0M156 182h0M273 222h0M248 247h0M36 303h0M315 224h0M228 194h0M135 237h0M166 206h0M293 245h0M42 273h0M457 232h0M222 200h0M101 221h0M154 256h0M209 225h0M154 202h0M79 232h0M49 208h0M215 271h0M400 199h0M371 266h0M410 211h0M317 189h0M424 236h0M39 234h0M359 187h0M402 296h0M405 209h0M424 228h0M16 268h0M455 250h0M52 237h0M96 262h0M205 196h0M179 267h0M21 235h0M399 290h0M286 234h0M75 264h0M22 278h0M293 235h0M250 257h0M82 185h0M132 264h0M195 185h0M245 221h0M153 213h0M83 243h0M300 187h0M111 208h0M460 280h0M138 180h0M347 280h0M327 232h0M83 248h0M288 197h0M350 269h0M196 270h0M322 243h0M349 178h0M420 215h0M178 243h0M247 192h0M218 209h0M137 209h0M136 204h0M160 236h0M55 221h0M146 205h0M208 256h0M304 202h0M158 212h0M358 193h0M63 312h0M115 196h0M437 263h0M212 248h0M446 245h0M56 224h0M44 216h0M380 289h0M188 206h0M240 214h0M302 256h0M359 184h0M134 188h0M221 247h0M246 190h0M169 234h0M211 265h0M156 217h0M28 201h0M261 178h0M180 211h0M412 256h0M37 287h0M27 270h0M236 214h0M113 222h0M309 193h0M185 245h0M368 216h0M168 186h0M153 265h0M415 255h0M131 223h0M160 212h0M47 204h0M198 223h0M338 231h0M308 188h0M368 197h0M174 264h0M336 238h0M358 200h0M246 277h0M53 280h0M278 208h0M169 202h0M173 212h0M436 285h0M42 230h0M264 220h0M114 214h0M322 283h0M176 339h0M106 314h0M301 201h0M148 236h0M163 185h0M8 316h0M145 202h0M333 216h0M267 274h0M347 236h0M208 235h0M344 237h0M249 199h0M423 251h0M408 220h0M324 202h0M94 312h0M262 202h0M286 204h0M107 183h0M392 307h0M436 190h0M241 184h0M24 256h0M394 268h0M397 229h0M81 219h0M77 219h0M332 239h0M101 208h0M136 244h0M319 285h0M324 183h0M439 214h0M69 260h0M437 225h0M409 245h0M283 250h0M182 191h0M49 247h0M105 258h0M211 195h0M36 295h0M430 207h0M31 238h0M60 277h0M307 191h0M11 296h0M296 195h0M217 220h0M203 212h0M111 262h0M430 266h0M593 427h0M621 347h0M426 291h0M502 322h0M406 208h0M544 382h0M623 343h0M450 275h0M551 409h0M460 212h0M530 411h0M475 242h0M556 373h0M556 251h0M447 255h0M440 246h0M461 352h0M497 378h0M439 205h0M428 195h0M454 171h0M523 397h0M529 325h0M606 373h0M430 176h0M580 388h0M435 174h0M544 323h0M429 230h0M481 189h0M437 230h0M565 414h0M490 376h0M619 397h0M475 295h0M511 341h0M570 335h0M469 186h0M478 305h0M383 192h0M471 202h0M565 412h0M556 354h0M573 387h0M414 234h0M622 416h0M560 419h0M572 356h0M408 199h0M592 412h0M540 221h0M504 368h0M539 397h0M409 188h0M543 337h0M477 212h0M428 248h0M577 427h0M423 192h0M441 285h0M526 352h0M462 251h0M395 239h0M526 288h0M522 367h0M454 315h0M556 357h0M553 319h0M549 352h0M442 297h0M468 257h0M457 262h0M444 302h0M478 324h0M491 324h0M539 330h0M400 236h0M463 369h0M458 333h0M493 280h0M482 255h0M404 245h0M605 364h0M585 322h0M500 264h0M484 340h0M572 415h0M461 182h0M557 330h0M446 166h0M419 257h0M480 261h0M457 194h0M540 414h0M422 267h0M552 371h0M598 409h0M468 378h0M477 249h0M566 319h0M414 181h0M450 280h0M529 247h0M534 366h0M507 320h0M487 326h0M466 264h0M615 423h0M399 234h0M505 309h0M464 340h0M549 387h0M471 305h0M560 353h0M474 375h0M436 255h0M553 432h0M458 278h0M390 198h0M430 226h0M455 259h0M521 325h0M542 277h0M529 389h0M477 265h0M409 186h0M536 402h0M463 334h0M541 355h0M531 344h0M493 332h0M521 196h0M602 396h0M534 273h0M459 210h0M500 332h0M531 353h0M446 290h0M462 254h0M581 414h0M518 371h0M588 416h0M431 243h0M442 213h0M521 335h0M550 359h0M568 356h0M479 212h0M598 364h0M523 346h0M411 272h0M591 420h0M581 356h0M406 231h0M438 317h0M483 175h0M496 362h0M519 308h0M542 352h0M484 365h0M574 372h0M516 370h0M486 284h0M446 283h0M560 371h0M578 410h0M569 371h0M446 161h0M416 324h0M412 252h0M540 320h0M492 267h0M561 269h0M538 260h0M432 248h0M423 194h0M602 392h0M499 333h0M466 306h0M530 279h0M500 262h0M481 294h0M497 345h0M627 418h0M560 433h0M518 408h0M466 313h0M551 384h0M519 290h0M552 398h0M488 303h0M564 343h0M480 285h0M558 333h0M545 408h0M563 391h0M573 305h0M461 390h0M557 336h0M521 209h0M510 277h0M494 235h0M417 266h0M133 81h0M79 54h0M103 53h0M122 44h0M122 134h0M136 56h0M90 74h0M114 80h0M166 36h0M162 31h0M182 112h0M209 86h0M175 65h0M131 59h0M157 8h0M106 69h0M150 99h0M55 17h0M132 55h0M150 85h0M117 50h0M111 102h0M126 33h0M118 80h0M169 60h0M73 97h0M112 81h0M108 48h0M62 56h0M97 72h0M97 149h0M84 48h0M102 73h0M64 18h0M85 62h0M179 85h0M142 124h0M195 94h0M104 109h0M189 65h0M129 107h0M146 71h0M189 118h0M128 56h0M114 145h0M181 44h0M132 124h0M194 30h0M155 58h0M116 37h0M165 23h0M192 62h0M155 3h0M143 48h0M108 91h0M86 38h0M209 86h0M190 109h0M79 78h0M127 140h0M157 33h0M84 92h0M101 78h0M98 73h0M99 113h0M134 85h0M127 113h0M162 18h0M127 122h0M86 50h0M176 77h0M112 67h0M75 30h0M93 62h0M196 109h0M95 109h0M206 66h0M194 104h0M150 72h0M108 62h0" stroke="#c05653" stroke-width="8.0" stroke-linecap="square" fill="none" opacity="0.95"/>
<path transform="translate(579 57) scale(.1)" d="M378 288h0M224 271h0M311 229h0M67 261h0M234 205h0M285 270h0M121 309h0M393 273h0M210 235h0M368 226h0M85 226h0M315 223h0M195 230h0M392 256h0M36 335h0M23 239h0M326 252h0M46 268h0M126 252h0M297 215h0M201 224h0M185 226h0M272 294h0M200 253h0M412 283h0M440 287h0M339 270h0M50 254h0M66 264h0M321 212h0M76 225h0M175 244h0M247 245h0M37 264h0M204 240h0M94 222h0M395 238h0M262 237h0M157 224h0M96 213h0M120 287h0M361 239h0M420 268h0M424 234h0M197 260h0M221 236h0M332 225h0M396 237h0M326 251h0M56 256h0M53 246h0M165 228h0M60 348h0M254 231h0M299 264h0M134 241h0M100 286h0M290 211h0M217 218h0M81 239h0M41 274h0M135 246h0M313 244h0M76 223h0M337 206h0M420 238h0M369 225h0M399 230h0M211 226h0M345 244h0M106 267h0M273 226h0M80 248h0M308 236h0M56 308h0M87 229h0M330 207h0M469 345h0M61 315h0M368 266h0M211 220h0M74 219h0M8 304h0M44 289h0M335 248h0M177 249h0M60 232h0M95 205h0M431 224h0M259 246h0M327 253h0M243 238h0M240 230h0M141 245h0M138 244h0M122 242h0M340 253h0M397 240h0M95 256h0M395 269h0M234 263h0M254 248h0M321 215h0M254 211h0M131 243h0M479 312h0M111 263h0M48 258h0M33 281h0M355 265h0M197 249h0M432 230h0M38 258h0M35 258h0M439 261h0M133 240h0M237 301h0M131 211h0M109 245h0M427 278h0M47 247h0M193 241h0M409 265h0M262 250h0M299 249h0M277 256h0M349 250h0M297 262h0M390 244h0M607 312h0M585 359h0M490 295h0M590 308h0M672 430h0M486 280h0M626 346h0M527 241h0M502 287h0M675 453h0M540 204h0M642 426h0M524 311h0M551 421h0M446 252h0M495 221h0M516 305h0M417 228h0M572 448h0M639 442h0M583 327h0M517 312h0M520 272h0M530 298h0M493 279h0M552 314h0M634 365h0M535 244h0M436 350h0M584 465h0M404 220h0M566 316h0M607 393h0M495 247h0M611 387h0M470 251h0M580 384h0M707 400h0M470 255h0M594 351h0M619 372h0M529 328h0M481 293h0M481 306h0M479 307h0M517 247h0M625 392h0M514 198h0M531 256h0M657 459h0M565 368h0M511 235h0M477 253h0M635 446h0M628 404h0M665 449h0M557 391h0M577 377h0M642 413h0M487 278h0M519 329h0M548 315h0M557 239h0M613 432h0M509 233h0M577 420h0M596 318h0M574 276h0M485 260h0M467 275h0M622 339h0M402 239h0M688 435h0M603 396h0M528 353h0M460 253h0M643 464h0M663 409h0M633 373h0M577 361h0M690 437h0M632 373h0M484 192h0M511 335h0M625 441h0M614 454h0M638 392h0M476 242h0M612 287h0M504 241h0M504 316h0M452 285h0M466 215h0M678 432h0M679 432h0M676 452h0M649 462h0M614 313h0M463 291h0M454 219h0M537 317h0M581 366h0M537 245h0M651 423h0M476 284h0M508 261h0M585 367h0M587 453h0M682 416h0M505 298h0M598 418h0M575 301h0M584 396h0M450 234h0M652 421h0M529 378h0M606 379h0M500 307h0M512 250h0M472 237h0M482 318h0M642 396h0M513 272h0M464 253h0M625 353h0M519 317h0M466 193h0M620 373h0M516 366h0M614 392h0M563 395h0M596 381h0M660 432h0M549 395h0M556 403h0M635 377h0M581 404h0M658 438h0M462 208h0M520 326h0M608 460h0M512 189h0M534 294h0M473 251h0M540 357h0M441 230h0M475 263h0M577 428h0M514 246h0M554 315h0M492 237h0M580 337h0M597 307h0M564 433h0M579 392h0M493 180h0M455 293h0M618 420h0M621 340h0M521 356h0M451 267h0M407 207h0M660 394h0M660 430h0M692 447h0M583 355h0M531 259h0M468 243h0M539 398h0M670 425h0M502 226h0M456 201h0M649 461h0M582 400h0M518 315h0M477 244h0M487 226h0M470 267h0M434 329h0M492 297h0M458 215h0M554 346h0M471 221h0M458 252h0M558 209h0M515 331h0M562 384h0M518 290h0M566 283h0M451 225h0M536 333h0M498 185h0M446 297h0M620 392h0M532 323h0M550 364h0M437 279h0M559 461h0M486 193h0M485 282h0M459 277h0M619 454h0M626 438h0M542 331h0M494 347h0M500 309h0M512 366h0M679 438h0M459 221h0M550 373h0M563 429h0M516 230h0M596 358h0M492 249h0M613 382h0M584 321h0M500 246h0M543 308h0M674 391h0M484 222h0M580 434h0M500 220h0M594 441h0M527 306h0M666 447h0M602 412h0M120 41h0M211 91h0M194 104h0M119 106h0M93 69h0M112 38h0M116 54h0M210 90h0M93 86h0M85 68h0M105 71h0M159 103h0M131 25h0M137 112h0M190 77h0M63 22h0M194 105h0M69 91h0M178 50h0M76 67h0M99 65h0M86 113h0M130 63h0M189 62h0M211 98h0M118 94h0M155 87h0M192 65h0M91 53h0M108 69h0M80 106h0M90 29h0M119 71h0M106 63h0M150 21h0M114 32h0M184 83h0M101 75h0M82 14h0M54 37h0M124 18h0M66 93h0M138 109h0M106 31h0M85 83h0M110 56h0M117 84h0M153 115h0M100 24h0M160 90h0M88 19h0M102 37h0M183 89h0M110 43h0M82 60h0M117 10h0M107 30h0M143 60h0M79 61h0M164 60h0M155 104h0M81 73h0M163 99h0M74 58h0M143 65h0M200 114h0M85 67h0M110 42h0M108 111h0M130 63h0M149 105h0M167 68h0M90 64h0M195 67h0M138 89h0M140 110h0M103 57h0M170 32h0M71 52h0M170 101h0M79 102h0M187 166h0M105 102h0M113 87h0M140 90h0M185 70h0M107 99h0M189 75h0M121 20h0M208 117h0" stroke="#ca6945" stroke-width="8.0" stroke-linecap="square" fill="none" opacity="0.95"/>
<path transform="translate(568 39) scale(.1)" d="M260 415h0M460 400h0M424 430h0M442 379h0M207 397h0M397 428h0M178 401h0M462 427h0M431 395h0M297 419h0M180 415h0M243 409h0M174 421h0M160 427h0M286 409h0M169 435h0M364 408h0M393 406h0M478 443h0M187 401h0M313 402h0M505 402h0M647 502h0M696 501h0M657 375h0M859 575h0M712 393h0M729 495h0M698 530h0M737 516h0M558 396h0M723 439h0M718 379h0M749 514h0M697 421h0M821 615h0M719 555h0M792 521h0M733 545h0M609 472h0M731 561h0M697 467h0M706 630h0M731 498h0M582 393h0M740 533h0M724 627h0M807 608h0M670 394h0M779 621h0M865 544h0M780 626h0M669 405h0M672 396h0M820 566h0M748 472h0M734 511h0M600 467h0M767 568h0M796 487h0M688 429h0M727 540h0M704 624h0M719 536h0M699 459h0M708 386h0M822 591h0M745 597h0M751 537h0M742 426h0M676 449h0M650 384h0M622 384h0M685 449h0M785 555h0M716 601h0M743 565h0M712 392h0M753 494h0M715 488h0M628 610h0M592 460h0M836 565h0M792 480h0M769 573h0M703 519h0M781 509h0M748 551h0M697 432h0M655 406h0M781 566h0M678 416h0M685 399h0M710 563h0M787 491h0M802 585h0M612 389h0M736 465h0M736 637h0M752 430h0M800 625h0M624 408h0M779 623h0M661 452h0M638 378h0M727 562h0M639 440h0M757 566h0M731 443h0M694 517h0M789 531h0M654 511h0M737 495h0M760 633h0M618 425h0M762 500h0M619 379h0M715 485h0M695 504h0M718 547h0M704 448h0M712 592h0M644 511h0M789 538h0M813 497h0M746 532h0M701 474h0M761 585h0M830 505h0M690 443h0M723 530h0M646 419h0M785 547h0M788 561h0M732 490h0M841 549h0M740 569h0M839 574h0M731 527h0M784 544h0M669 482h0M667 542h0M749 501h0M698 515h0M721 550h0M645 411h0M756 584h0M723 551h0M706 414h0M746 578h0M634 387h0M629 466h0M686 452h0M759 579h0M728 597h0M697 493h0M792 600h0M723 507h0M754 483h0M877 505h0M697 543h0M631 480h0M782 606h0M640 420h0M670 388h0M715 514h0M758 493h0M726 508h0M778 580h0M689 527h0M698 458h0M756 564h0M579 409h0M696 502h0M670 394h0M718 566h0M626 463h0M787 622h0M664 414h0M779 595h0M755 513h0M561 419h0M678 418h0M652 389h0M794 623h0M737 557h0M653 454h0M723 529h0M658 463h0M630 369h0M667 452h0M540 403h0M828 528h0M722 535h0M703 579h0M693 457h0M671 486h0M773 500h0M615 425h0M637 429h0M798 524h0M732 497h0M624 380h0M688 601h0M727 592h0M720 491h0M697 422h0M766 631h0M833 602h0M683 451h0M779 583h0M776 556h0M582 402h0M580 394h0M727 445h0M687 505h0M737 480h0M779 573h0M617 494h0M724 517h0M691 406h0M735 518h0M785 581h0M796 616h0M712 557h0M760 583h0M665 538h0M636 454h0M811 560h0M651 425h0M686 442h0M793 566h0M750 523h0M711 497h0M721 510h0M742 581h0M664 463h0M779 597h0M714 499h0M589 383h0M810 550h0M717 590h0M87 136h0M146 183h0M93 162h0M148 134h0M129 10h0M84 111h0M179 119h0M196 200h0M48 115h0M65 150h0M184 165h0M94 144h0M138 181h0M125 162h0M171 164h0M151 164h0M20 82h0M147 197h0M153 186h0M94 94h0M80 134h0M164 200h0M26 108h0M141 182h0M94 97h0M199 186h0M54 134h0M176 163h0M153 146h0M139 202h0M150 78h0M184 187h0M61 106h0M109 135h0M110 168h0M95 128h0M74 155h0M74 142h0M72 139h0M153 119h0M7 103h0M161 103h0M162 141h0M176 185h0M193 116h0M35 83h0M146 211h0M53 44h0M56 109h0M146 133h0M181 48h0M182 176h0M121 174h0M166 137h0M74 104h0M49 118h0M133 138h0M221 269h0M180 209h0M187 210h0M258 228h0M237 207h0M187 200h0M272 225h0M202 206h0M307 283h0M176 197h0M252 211h0M279 216h0M201 189h0M238 198h0M173 205h0M246 237h0M274 236h0M301 251h0M258 254h0M218 239h0M306 248h0M226 178h0M165 232h0M244 239h0M279 217h0M184 225h0M182 232h0M236 229h0M212 219h0M264 210h0M174 211h0M176 214h0M178 203h0M201 180h0M223 209h0M214 195h0M218 228h0M248 186h0M196 193h0M198 231h0M214 231h0M210 210h0M837 291h0" stroke="#d47e37" stroke-width="8.0" stroke-linecap="square" fill="none" opacity="0.95"/>
<path transform="translate(569 33) scale(.1)" d="M766 595h0M854 580h0M780 629h0M855 653h0M854 644h0M758 573h0M851 583h0M797 582h0M788 575h0M761 511h0M706 474h0M672 492h0M705 589h0M726 560h0M740 565h0M709 499h0M823 618h0M656 484h0M655 485h0M715 587h0M685 445h0M783 589h0M841 618h0M793 599h0M676 496h0M774 644h0M833 685h0M769 529h0M742 561h0M843 643h0M771 566h0M720 444h0M863 608h0M745 672h0M682 547h0M776 546h0M829 625h0M800 565h0M821 596h0M737 447h0M752 625h0M725 584h0M721 588h0M775 698h0M828 532h0M668 512h0M656 445h0M776 564h0M654 441h0M752 560h0M755 573h0M738 566h0M811 651h0M862 614h0M759 497h0M831 583h0M701 444h0M717 507h0M679 517h0M791 592h0M674 446h0M870 590h0M794 516h0M786 628h0M724 464h0M856 629h0M716 498h0M766 669h0M693 500h0M663 496h0M816 644h0M610 413h0M781 607h0M766 649h0M744 450h0M732 560h0M771 600h0M736 522h0M828 568h0M862 631h0M814 534h0M845 640h0M660 483h0M802 504h0M860 642h0M749 505h0M722 503h0M734 470h0M781 447h0M826 645h0M803 625h0M709 601h0M743 622h0M821 626h0M612 463h0M749 562h0M754 573h0M641 529h0M709 468h0M735 441h0M695 436h0M832 576h0M808 615h0M727 552h0M753 600h0M771 616h0M631 438h0M853 670h0M773 467h0M774 620h0M873 645h0M642 438h0M802 630h0M711 602h0M780 629h0M702 428h0M819 630h0M774 670h0M699 446h0M727 573h0M783 701h0M696 413h0M700 594h0M739 577h0M802 538h0M769 560h0M743 566h0M723 598h0M723 489h0M799 569h0M824 568h0M804 687h0M849 603h0M818 591h0M808 659h0M697 448h0M807 626h0M785 589h0M777 451h0M721 448h0M763 546h0M796 573h0M723 434h0M838 571h0M851 651h0M777 529h0M718 544h0M818 645h0M861 641h0M774 579h0M811 530h0M814 637h0M778 607h0M735 517h0M816 568h0M783 619h0M837 608h0M818 546h0M757 601h0M750 549h0M693 429h0M787 565h0M637 482h0M772 488h0M688 528h0M722 540h0M658 420h0M700 459h0M786 488h0M798 540h0M865 616h0M705 485h0M765 600h0M781 668h0M710 515h0M651 491h0M609 438h0M735 483h0M786 474h0M743 482h0M697 456h0M726 555h0M813 617h0M753 434h0M658 421h0M814 590h0M831 612h0M783 685h0M818 589h0M783 562h0M820 619h0M842 607h0M692 483h0M731 497h0M734 629h0M842 643h0M724 487h0M769 554h0M761 661h0M732 497h0M713 430h0M761 558h0M659 467h0M775 671h0M745 534h0M801 615h0M209 217h0M109 92h0M174 201h0M55 112h0M104 12h0M57 141h0M103 115h0M56 42h0M150 214h0M224 145h0M179 194h0M171 213h0M26 184h0M82 130h0M85 130h0M135 130h0M214 126h0M227 156h0M82 87h0M17 182h0M57 115h0M173 128h0M85 182h0M152 139h0M159 234h0M164 243h0M11 150h0M252 81h0M135 174h0M187 225h0M99 88h0M135 205h0M96 82h0M17 181h0M69 175h0M209 155h0M195 86h0M102 195h0M102 202h0M91 180h0M48 104h0M57 202h0M92 212h0M94 156h0M160 145h0M126 215h0M89 104h0M118 150h0M92 127h0M244 100h0M138 173h0M65 198h0M40 96h0M97 149h0M65 117h0M57 157h0M103 85h0M85 201h0M120 201h0M152 59h0M160 227h0M117 99h0M180 201h0M80 144h0M209 157h0M81 216h0M196 121h0M213 95h0M223 195h0M39 189h0M152 109h0M200 25h0M150 163h0M124 150h0M138 170h0M251 185h0M40 188h0M155 255h0M172 182h0M195 226h0M64 100h0M41 148h0M93 108h0M84 138h0M213 80h0M117 232h0M54 190h0M245 172h0M89 141h0M152 201h0M136 210h0M98 118h0M150 88h0M98 188h0M195 193h0M196 183h0M217 179h0M203 165h0M72 119h0M38 147h0M109 185h0M104 164h0M196 173h0M179 221h0M140 256h0M26 168h0M90 221h0M54 89h0M98 226h0M169 10h0M73 184h0M28 149h0M90 180h0M132 206h0M115 189h0M172 216h0M240 105h0M93 177h0M97 96h0M159 149h0M215 56h0M96 112h0M199 202h0M147 218h0M98 146h0M59 56h0M272 152h0M68 214h0M181 182h0M180 216h0M19 122h0M68 198h0M72 86h0M96 210h0M65 149h0M190 191h0M141 246h0M97 123h0M102 208h0M248 171h0M77 216h0M190 181h0M138 196h0M99 164h0M186 218h0M27 122h0M130 49h0M147 237h0M195 248h0M118 230h0M38 143h0M59 140h0M203 221h0M47 79h0M172 121h0M115 223h0M68 136h0M137 261h0M239 201h0M75 135h0M38 55h0M66 167h0M89 80h0M176 235h0M173 249h0M40 181h0M182 144h0M184 245h0M170 57h0M124 90h0M53 149h0M136 214h0M78 48h0M12 125h0M188 182h0M174 213h0M96 191h0M103 201h0M105 244h0M51 132h0M123 103h0M161 157h0M114 159h0M229 204h0M115 221h0M239 206h0M113 152h0M144 252h0M267 157h0M92 221h0M54 37h0M148 49h0M202 178h0M75 121h0M16 117h0M146 242h0M71 84h0M129 154h0M77 168h0M166 249h0M155 160h0M144 125h0M98 247h0M51 156h0M21 115h0M174 253h0M199 203h0M147 271h0M238 136h0M214 214h0M183 143h0M9 131h0M54 176h0M47 206h0M185 114h0M151 213h0M203 213h0M199 87h0M177 229h0M194 67h0M129 170h0M75 34h0M219 177h0M232 153h0M201 153h0M158 118h0M116 200h0M245 194h0M207 167h0M117 169h0M173 99h0M76 141h0M66 205h0M101 142h0M77 57h0M45 56h0M138 27h0M195 179h0M164 67h0M188 242h0M192 190h0M30 170h0M74 225h0M46 86h0M111 207h0M221 115h0M101 154h0M92 193h0M161 248h0M96 129h0M208 76h0M40 147h0M245 93h0M242 191h0M112 253h0M196 243h0M38 143h0M115 135h0M234 176h0M49 152h0M51 154h0M125 127h0M82 76h0M113 99h0M129 151h0M39 77h0M36 132h0M139 248h0M162 237h0M156 229h0M136 168h0M122 248h0M118 110h0M100 67h0M231 169h0M214 160h0M51 61h0M240 212h0M55 143h0M197 226h0M145 222h0M76 153h0M96 187h0M23 153h0M37 111h0M87 187h0M49 78h0M49 51h0M257 165h0M80 147h0M141 226h0M121 182h0M48 144h0M110 170h0M184 190h0M74 235h0M129 162h0M164 198h0M174 121h0M52 193h0M129 115h0M181 141h0M81 190h0M129 220h0M211 92h0M114 190h0M161 31h0M160 144h0M132 170h0M47 122h0M45 182h0M102 195h0M187 231h0M63 191h0M165 173h0M41 94h0M187 184h0M183 138h0M143 224h0M138 199h0M232 129h0M189 161h0M86 83h0M51 191h0M42 93h0M57 208h0M29 86h0M81 120h0M164 264h0M138 138h0M187 185h0M125 225h0M111 172h0M101 74h0M62 119h0M86 49h0M253 191h0M134 211h0M77 236h0M137 51h0M150 217h0M140 255h0M221 157h0M161 126h0M205 55h0M46 162h0M180 206h0M65 194h0M142 223h0M52 136h0M103 182h0M194 174h0M108 164h0M114 54h0M78 103h0M179 134h0M54 177h0M38 142h0M63 152h0M228 162h0M98 228h0M95 233h0M46 141h0M79 142h0M78 90h0M185 204h0M137 227h0M137 191h0M36 125h0M233 82h0M117 201h0M158 217h0M232 185h0M178 161h0M166 34h0M140 74h0M140 114h0M175 196h0M161 256h0M113 127h0M81 90h0M95 88h0M159 253h0M75 195h0M58 105h0M101 182h0M164 202h0M110 163h0M12 140h0M35 166h0M80 154h0M66 154h0M10 119h0M112 146h0M57 134h0M109 14h0M106 48h0M130 227h0M18 93h0M108 213h0M86 105h0M53 179h0M122 192h0M232 113h0M136 179h0M146 177h0M146 200h0M154 172h0M118 256h0M36 123h0M58 181h0M48 147h0M3 135h0M14 148h0M217 106h0M183 223h0M22 128h0M59 185h0M204 82h0M66 123h0M167 235h0M79 112h0M164 248h0M181 7h0M162 239h0M72 199h0M203 242h0M133 148h0M149 193h0M92 42h0M225 129h0M182 222h0M37 189h0M90 161h0M64 108h0M77 167h0M211 142h0M198 235h0M118 124h0M147 131h0M144 220h0M134 212h0M92 113h0M168 236h0M184 208h0M134 11h0M185 162h0M199 240h0M169 246h0M163 257h0M196 288h0M224 274h0M218 254h0M897 194h0M876 253h0M760 207h0M903 337h0M751 320h0M850 342h0M897 270h0" stroke="#d7942b" stroke-width="8.0" stroke-linecap="square" fill="none" opacity="0.95"/>
<path transform="translate(569 32) scale(.1)" d="M751 442h0M774 508h0M875 597h0M777 502h0M826 600h0M840 505h0M774 492h0M798 607h0M733 481h0M860 588h0M840 652h0M760 459h0M830 576h0M872 629h0M735 531h0M737 452h0M879 602h0M749 536h0M820 495h0M720 493h0M711 473h0M756 505h0M832 516h0M777 556h0M844 571h0M765 492h0M797 549h0M831 517h0M865 561h0M783 565h0M824 492h0M839 655h0M811 467h0M707 461h0M704 565h0M696 500h0M784 474h0M844 676h0M862 629h0M797 528h0M787 502h0M861 534h0M751 482h0M819 650h0M858 583h0M773 569h0M710 428h0M864 653h0M863 562h0M785 463h0M768 476h0M735 448h0M794 492h0M834 627h0M731 497h0M869 599h0M852 530h0M863 622h0M755 457h0M720 504h0M761 559h0M793 518h0M843 561h0M669 467h0M779 509h0M715 541h0M855 590h0M794 665h0M812 530h0M731 481h0M753 544h0M823 556h0M799 525h0M884 593h0M778 566h0M851 556h0M812 539h0M807 614h0M798 547h0M820 563h0M780 569h0M715 473h0M682 487h0M773 564h0M840 629h0M748 467h0M858 586h0M751 487h0M832 514h0M783 528h0M814 528h0M733 468h0M769 456h0M699 426h0M692 475h0M744 456h0M824 517h0M786 537h0M734 460h0M786 452h0M794 572h0M798 511h0M729 497h0M750 443h0M800 550h0M673 459h0M813 583h0M697 520h0M841 676h0M887 590h0M751 439h0M783 593h0M807 476h0M780 576h0M812 499h0M760 593h0M817 644h0M800 518h0M831 538h0M729 500h0M769 660h0M873 545h0M781 527h0M749 456h0M855 593h0M799 472h0M804 521h0M836 493h0M742 475h0M783 602h0M777 537h0M721 548h0M793 484h0M737 462h0M787 559h0M766 475h0M867 588h0M673 489h0M670 470h0M721 475h0M784 485h0M783 500h0M685 454h0M821 499h0M843 613h0M691 430h0M791 461h0M837 570h0M684 438h0M814 623h0M729 593h0M829 641h0M836 595h0M808 550h0M743 478h0M158 162h0M257 129h0M110 206h0M263 145h0M112 111h0M139 100h0M154 130h0M133 99h0M133 103h0M94 95h0M129 27h0M38 108h0M140 182h0M62 48h0M136 148h0M130 150h0M136 64h0M211 92h0M83 87h0M267 133h0M224 69h0M179 86h0M77 193h0M216 137h0M195 67h0M83 176h0M175 60h0M58 64h0M107 83h0M242 140h0M111 82h0M179 98h0M35 124h0M145 112h0M107 89h0M48 156h0M243 136h0M222 75h0M59 141h0M163 51h0M109 77h0M118 195h0M85 110h0M225 63h0M59 111h0M241 160h0M106 133h0M206 56h0M138 34h0M170 100h0M156 151h0M179 191h0M192 72h0M163 244h0M146 86h0M92 162h0M151 168h0M142 102h0M119 81h0M49 127h0M98 62h0M123 185h0M97 129h0M129 22h0M117 95h0M77 16h0M115 221h0M40 113h0M242 163h0M9 153h0M145 209h0M161 175h0M129 67h0M131 91h0M169 177h0M201 175h0M138 88h0M144 222h0M138 125h0M255 174h0M43 88h0M82 92h0M243 122h0M262 107h0M252 98h0M284 161h0M182 117h0M210 228h0M152 145h0M250 188h0M165 111h0M20 155h0M12 137h0M84 164h0M103 101h0M92 154h0M103 93h0M227 114h0M71 42h0M51 98h0M176 153h0M145 86h0M64 119h0M235 140h0M44 91h0M130 92h0M234 121h0M126 195h0M31 174h0M198 125h0M145 131h0M197 251h0M132 68h0M230 142h0M247 118h0M205 46h0M32 171h0M86 205h0M104 65h0M157 206h0M209 104h0M132 130h0M190 112h0M132 175h0M217 159h0M160 173h0M199 76h0M183 190h0M79 175h0M90 108h0M36 136h0M242 162h0M197 80h0M88 114h0M256 134h0M173 49h0M246 182h0M225 142h0M49 139h0M228 69h0M128 111h0M115 263h0M65 86h0M125 191h0M102 101h0M259 151h0M247 67h0M108 136h0M190 223h0M93 54h0M147 109h0M141 162h0M167 57h0M245 80h0M189 185h0M179 50h0M252 132h0M101 28h0M160 172h0M185 115h0M122 49h0M144 243h0M162 166h0M75 101h0M215 191h0M225 92h0M141 144h0M125 163h0M107 122h0M260 159h0M129 34h0M177 29h0M180 110h0M127 10h0M243 135h0M131 74h0M263 132h0M201 193h0M204 165h0M256 184h0M101 54h0M265 127h0M101 47h0M117 110h0M192 117h0M146 35h0M111 61h0M164 192h0M85 45h0M188 117h0M235 169h0M255 93h0M87 168h0M174 34h0M74 173h0M68 106h0M111 105h0M113 84h0M110 162h0M125 166h0M142 95h0M223 88h0M91 33h0M149 87h0M266 134h0M111 140h0M197 41h0M111 83h0M254 161h0M177 135h0M74 119h0M152 29h0M72 180h0M188 101h0M159 164h0M133 181h0M103 98h0M115 43h0M102 60h0M183 177h0M69 48h0M187 102h0M113 3h0M162 220h0M195 93h0M141 47h0M172 49h0M94 56h0M125 124h0M170 106h0M218 156h0M90 131h0M211 64h0M175 100h0M75 152h0M175 242h0M107 28h0M251 123h0M158 147h0M153 71h0M246 124h0M158 113h0M249 197h0M258 129h0M155 195h0M207 167h0M111 152h0M222 103h0M242 208h0M198 78h0M112 39h0M143 132h0M112 75h0M27 105h0M126 216h0M87 126h0M73 47h0M255 98h0M198 209h0M92 184h0M70 230h0M113 149h0M202 200h0M133 55h0M147 249h0M76 184h0M58 114h0M128 199h0M170 121h0M190 64h0M119 186h0M116 67h0M136 14h0M120 72h0M121 229h0M117 20h0M145 45h0M174 170h0M27 132h0M131 85h0M149 47h0M196 78h0M91 159h0M166 206h0M124 76h0M249 167h0M197 203h0M158 111h0M141 106h0M233 131h0M110 71h0M174 81h0M173 152h0M191 144h0M195 110h0M158 208h0M113 172h0M163 29h0M77 200h0M112 207h0M240 121h0M111 91h0M194 188h0M112 108h0M105 64h0M119 128h0M151 144h0M81 32h0M144 66h0M43 153h0M206 160h0M68 179h0M202 91h0M203 174h0M262 143h0M60 220h0M169 109h0M210 107h0M224 85h0M155 77h0M202 196h0M150 24h0M208 55h0M110 42h0M128 125h0M156 219h0M74 149h0M20 83h0M44 101h0M129 80h0M172 44h0M116 14h0M118 55h0M226 126h0M56 85h0M136 144h0M67 145h0M127 171h0M230 164h0M47 159h0M255 148h0M221 126h0M84 191h0M123 33h0M268 140h0M53 72h0M254 170h0M182 154h0M236 76h0M111 99h0M163 139h0M166 52h0M173 114h0M210 112h0M99 131h0M179 103h0M226 113h0M195 97h0M77 55h0M149 72h0M185 89h0M41 108h0M79 52h0M138 182h0M112 82h0M152 81h0M72 73h0M84 110h0M166 201h0M56 127h0M120 105h0M129 144h0M149 146h0M172 98h0M237 121h0M164 69h0M160 44h0M88 41h0M80 137h0M52 81h0M75 131h0M196 161h0M92 20h0M106 45h0M222 70h0M35 124h0M104 101h0M76 176h0M236 138h0M107 150h0M151 106h0M178 110h0M169 198h0M162 87h0M119 153h0M70 40h0M187 60h0M163 168h0M151 87h0M151 237h0M152 163h0M152 163h0M104 195h0M51 219h0M192 185h0M121 125h0M114 77h0M20 147h0M170 21h0M143 25h0M220 108h0M156 38h0M212 201h0M262 154h0M130 71h0M208 111h0M182 136h0M240 80h0M167 75h0M169 119h0M149 74h0M122 134h0M237 111h0M188 200h0M257 142h0M182 151h0M105 117h0M55 166h0M242 69h0M249 120h0M250 111h0M54 68h0M27 87h0M102 74h0M206 154h0M142 197h0M135 6h0M195 172h0M231 183h0M51 109h0M64 113h0M74 97h0M148 45h0M248 99h0M129 61h0M212 145h0M107 109h0M174 114h0M250 87h0M194 109h0M60 199h0M186 178h0M153 62h0M170 96h0M105 121h0M109 185h0M92 98h0M86 46h0M163 75h0M129 162h0M81 140h0M219 45h0M102 142h0M33 121h0M242 114h0M136 99h0M238 209h0M133 17h0M145 260h0M180 200h0M58 78h0M189 15h0M189 193h0M223 92h0M132 65h0M204 183h0M71 119h0M122 191h0M176 61h0M122 69h0M75 131h0M182 265h0M163 230h0M174 57h0M154 133h0M203 104h0M146 52h0M159 28h0M107 67h0M118 102h0M113 107h0M164 153h0M241 200h0M127 136h0M166 38h0M148 42h0M265 131h0M98 210h0M67 102h0M29 164h0M267 204h0M55 178h0M258 203h0M210 210h0M139 49h0M146 55h0M76 184h0M119 204h0M141 180h0M190 247h0M44 73h0M230 123h0M134 239h0M87 20h0M184 191h0M19 137h0M118 99h0M124 138h0M99 177h0M118 81h0M198 240h0M212 117h0M211 171h0M79 115h0M63 199h0M79 210h0M235 156h0M227 135h0M82 17h0M232 184h0M155 41h0M213 155h0M82 40h0M164 103h0M44 91h0M72 108h0M232 225h0M191 144h0M226 92h0M135 139h0M194 211h0M130 51h0M26 134h0M236 177h0M173 110h0M191 181h0M210 164h0M57 142h0M77 138h0M173 132h0M199 159h0M201 34h0M156 176h0M189 235h0M63 189h0M91 58h0M117 81h0M94 181h0M172 124h0M68 107h0M120 29h0M25 119h0M46 102h0M100 129h0M262 138h0M205 152h0M81 79h0M137 57h0M169 105h0M129 100h0M188 145h0M174 171h0M229 138h0M191 225h0M74 54h0M102 91h0M748 250h0M741 338h0M823 311h0M719 349h0" stroke="#d7ac21" stroke-width="8.0" stroke-linecap="square" fill="none" opacity="0.95"/>
<path transform="translate(573 32) scale(.1)" d="M774 493h0M751 451h0M797 492h0M816 540h0M810 600h0M822 593h0M765 492h0M675 461h0M804 594h0M742 464h0M832 536h0M790 481h0M824 546h0M695 553h0M782 481h0M813 561h0M745 528h0M684 434h0M698 492h0M794 558h0M772 488h0M756 509h0M739 487h0M822 524h0M830 565h0M791 587h0M805 504h0M792 541h0M816 528h0M803 531h0M763 534h0M823 535h0M812 599h0M749 562h0M785 467h0M784 468h0M776 514h0M793 482h0M768 498h0M739 481h0M813 640h0M808 537h0M825 628h0M846 564h0M661 479h0M832 597h0M805 550h0M791 523h0M786 493h0M824 586h0M697 483h0M829 598h0M756 566h0M792 552h0M830 541h0M763 472h0M797 498h0M699 515h0M805 513h0M772 463h0M804 634h0M798 505h0M819 523h0M789 604h0M721 483h0M766 528h0M854 589h0M817 509h0M838 588h0M831 620h0M834 558h0M778 476h0M842 585h0M801 539h0M811 517h0M830 543h0M700 430h0M820 612h0M844 577h0M793 485h0M810 588h0M814 516h0M786 495h0M767 459h0M737 469h0M811 532h0M191 64h0M102 9h0M98 36h0M210 92h0M104 68h0M214 161h0M88 55h0M215 110h0M105 72h0M99 168h0M156 161h0M41 103h0M143 21h0M195 131h0M154 54h0M241 139h0M176 101h0M120 74h0M119 77h0M56 172h0M109 44h0M156 160h0M131 50h0M177 39h0M122 200h0M44 36h0M121 68h0M173 76h0M33 34h0M42 35h0M53 105h0M151 25h0M119 196h0M82 71h0M175 90h0M155 141h0M164 33h0M218 129h0M153 134h0M57 39h0M79 60h0M141 197h0M108 50h0M96 94h0M82 16h0M65 48h0M105 50h0M159 207h0M113 10h0M189 98h0M65 83h0M206 73h0M98 27h0M110 58h0M193 106h0M221 131h0M181 79h0M118 29h0M93 64h0M163 134h0M182 89h0M119 37h0M203 116h0M159 64h0M208 92h0M111 141h0M138 76h0M84 38h0M129 143h0M224 139h0M148 123h0M224 146h0M179 126h0M89 73h0M85 60h0M189 149h0M121 53h0M112 35h0M87 20h0M196 93h0M67 97h0M9 60h0M117 83h0M88 41h0M163 88h0M231 161h0M110 141h0M157 83h0M126 21h0M57 97h0M171 194h0M193 103h0M138 101h0M42 31h0M128 80h0M192 64h0M212 179h0M195 80h0M93 18h0M145 69h0M225 151h0M102 57h0M157 51h0M184 135h0M145 54h0M127 54h0M149 210h0M203 78h0M211 132h0M157 48h0M204 93h0M229 113h0M26 24h0M171 112h0M199 137h0M105 12h0M160 94h0M140 59h0M117 17h0M177 165h0M63 90h0M152 184h0M65 54h0M59 190h0M185 107h0M165 47h0M86 51h0M158 74h0M177 94h0M114 89h0M197 99h0M131 33h0M81 51h0M214 152h0M88 93h0M112 24h0M49 87h0M223 122h0M141 41h0M185 189h0M103 31h0M184 166h0M111 189h0M94 92h0M158 177h0M75 21h0M149 32h0M168 51h0M166 234h0M177 99h0M71 48h0M172 29h0M182 86h0M183 131h0M214 111h0M19 66h0M193 70h0M110 32h0M117 125h0M162 175h0M140 42h0M127 195h0M159 143h0M64 104h0M78 1h0M86 5h0M28 72h0M139 96h0M210 105h0M106 6h0" stroke="#d0c71e" stroke-width="8.0" stroke-linecap="square" fill="none" opacity="0.95"/>
<path d="M603 122L600 114L596 104L598 96L594 88L588 82L592 74L590 66L586 60L580 56L582 48L578 42M582 48L588 44L592 38M580 56L572 52M594 88L604 86L612 90L620 86L628 90L636 86L644 90L650 88L654 96L648 102M612 90L614 98L610 106L616 112M620 86L622 78M636 86L640 80L648 82L652 86M598 96L606 100L612 108M628 90L630 98L640 100L648 102M603 122L610 120L612 112M596 104L590 108L588 114M600 114L606 112L608 118M604 86L602 92L606 96M594 88L590 94L586 92M614 98L620 100L624 96M644 90L642 96L636 98" fill="none" stroke="#2a2a2a" stroke-width="0.8" stroke-linejoin="round"/>
<circle cx="600.60" cy="123.60" r="1.50" fill="#fff" stroke="#111" stroke-width="0.6" />
<circle cx="604.40" cy="122.20" r="1.30" fill="#fff" stroke="#111" stroke-width="0.6" />
<path d="M583.8 120.4 C583 103 580 82 575.2 68" fill="none" stroke="#111" stroke-width="0.9" />
<path d="M574.20 64.30L578.24 69.30L575.75 69.06L573.87 70.72Z" fill="#111" stroke="none" stroke-width="0" />
<path d="M616.3 127 C624 119 636 112 647.5 108.2" fill="none" stroke="#111" stroke-width="0.9" />
<path d="M651.00 107.00L646.00 111.04L646.24 108.55L644.58 106.67Z" fill="#111" stroke="none" stroke-width="0" />
<defs><linearGradient id="gPl" x1="0" x2="0" y1="0" y2="1"><stop offset="0.00" stop-color="#f0f921"/><stop offset="0.12" stop-color="#fdc328"/><stop offset="0.25" stop-color="#f89441"/><stop offset="0.37" stop-color="#e56b5d"/><stop offset="0.50" stop-color="#cb4679"/><stop offset="0.62" stop-color="#a82296"/><stop offset="0.75" stop-color="#7d03a8"/><stop offset="0.87" stop-color="#4b03a1"/><stop offset="1.00" stop-color="#0d0887"/></linearGradient></defs>
<rect x="611.50" y="36.10" width="6.50" height="32.50" fill="url(#gPl)" stroke="none" stroke-width="0.6" />
<text x="611.50" y="33.00" font-size="8.3" fill="#111" text-anchor="start" font-weight="normal" >pseudotime</text>
<text x="620.60" y="40.20" font-size="8.3" fill="#111" text-anchor="start" font-weight="normal" >16</text>
<text x="620.60" y="48.00" font-size="8.3" fill="#111" text-anchor="start" font-weight="normal" >12</text>
<text x="620.60" y="55.80" font-size="8.3" fill="#111" text-anchor="start" font-weight="normal" >8</text>
<text x="620.60" y="63.60" font-size="8.3" fill="#111" text-anchor="start" font-weight="normal" >4</text>
<text x="620.60" y="71.40" font-size="8.3" fill="#111" text-anchor="start" font-weight="normal" >0</text>
<text x="1.90" y="175.70" font-size="16.2" fill="#231815" text-anchor="start" font-weight="bold" >C</text>
<rect x="74.80" y="164.10" width="126.60" height="235.10" fill="#fff" stroke="#777" stroke-width="0.8" />
<line x1="71.80" y1="173.50" x2="74.80" y2="173.50" stroke="#333" stroke-width="0.6" />
<text x="71.40" y="176.40" font-size="8.3" fill="#111" text-anchor="end" font-weight="normal" >HLA−DOA</text>
<circle cx="84.10" cy="173.50" r="0.40" fill="#d5e3f2" stroke="none" stroke-width="0.6" />
<circle cx="99.48" cy="173.50" r="0.40" fill="#df94a8" stroke="none" stroke-width="0.6" />
<circle cx="114.86" cy="173.50" r="1.00" fill="#c8466c" stroke="none" stroke-width="0.6" />
<circle cx="130.24" cy="173.50" r="0.40" fill="#d8e2f0" stroke="none" stroke-width="0.6" />
<circle cx="145.62" cy="173.50" r="0.40" fill="#d8e2f0" stroke="none" stroke-width="0.6" />
<circle cx="161.00" cy="173.50" r="0.50" fill="#c3d7ed" stroke="none" stroke-width="0.6" />
<circle cx="176.38" cy="173.50" r="0.30" fill="#d8e2f0" stroke="none" stroke-width="0.6" />
<circle cx="191.76" cy="173.50" r="0.40" fill="#e9bcc8" stroke="none" stroke-width="0.6" />
<line x1="71.80" y1="186.31" x2="74.80" y2="186.31" stroke="#333" stroke-width="0.6" />
<text x="71.40" y="189.21" font-size="8.3" fill="#111" text-anchor="end" font-weight="normal" >CTSD</text>
<circle cx="84.10" cy="186.31" r="2.60" fill="#d5e3f2" stroke="none" stroke-width="0.6" />
<circle cx="99.48" cy="186.31" r="3.00" fill="#e9bcc8" stroke="none" stroke-width="0.6" />
<circle cx="114.86" cy="186.31" r="5.50" fill="#e7b2c0" stroke="none" stroke-width="0.6" />
<circle cx="130.24" cy="186.31" r="5.20" fill="#d36a87" stroke="none" stroke-width="0.6" />
<circle cx="145.62" cy="186.31" r="5.20" fill="#e9bcc8" stroke="none" stroke-width="0.6" />
<circle cx="161.00" cy="186.31" r="3.60" fill="#9cbde0" stroke="none" stroke-width="0.6" />
<circle cx="176.38" cy="186.31" r="0.80" fill="#6391c5" stroke="none" stroke-width="0.6" />
<circle cx="191.76" cy="186.31" r="1.00" fill="#b1cbe8" stroke="none" stroke-width="0.6" />
<line x1="71.80" y1="199.12" x2="74.80" y2="199.12" stroke="#333" stroke-width="0.6" />
<text x="71.40" y="202.02" font-size="8.3" fill="#111" text-anchor="end" font-weight="normal" >HLA−DPA1</text>
<circle cx="84.10" cy="199.12" r="2.80" fill="#e5d4e0" stroke="none" stroke-width="0.6" />
<circle cx="99.48" cy="199.12" r="2.20" fill="#e7b2c0" stroke="none" stroke-width="0.6" />
<circle cx="114.86" cy="199.12" r="5.50" fill="#c8466c" stroke="none" stroke-width="0.6" />
<circle cx="130.24" cy="199.12" r="2.80" fill="#d8e2f0" stroke="none" stroke-width="0.6" />
<circle cx="145.62" cy="199.12" r="4.00" fill="#dbe0ed" stroke="none" stroke-width="0.6" />
<circle cx="161.00" cy="199.12" r="1.60" fill="#6391c5" stroke="none" stroke-width="0.6" />
<circle cx="176.38" cy="199.12" r="1.00" fill="#b1cbe8" stroke="none" stroke-width="0.6" />
<circle cx="191.76" cy="199.12" r="1.20" fill="#d5e3f2" stroke="none" stroke-width="0.6" />
<line x1="71.80" y1="211.93" x2="74.80" y2="211.93" stroke="#333" stroke-width="0.6" />
<text x="71.40" y="214.83" font-size="8.3" fill="#111" text-anchor="end" font-weight="normal" >HLA−DMA</text>
<circle cx="84.10" cy="211.93" r="0.60" fill="#e9bcc8" stroke="none" stroke-width="0.6" />
<circle cx="99.48" cy="211.93" r="0.70" fill="#d36a87" stroke="none" stroke-width="0.6" />
<circle cx="114.86" cy="211.93" r="1.20" fill="#d5e3f2" stroke="none" stroke-width="0.6" />
<circle cx="130.24" cy="211.93" r="1.20" fill="#d8e2f0" stroke="none" stroke-width="0.6" />
<circle cx="145.62" cy="211.93" r="3.30" fill="#d16382" stroke="none" stroke-width="0.6" />
<circle cx="161.00" cy="211.93" r="0.90" fill="#7aa3d0" stroke="none" stroke-width="0.6" />
<circle cx="176.38" cy="211.93" r="0.40" fill="#85abd5" stroke="none" stroke-width="0.6" />
<circle cx="191.76" cy="211.93" r="0.50" fill="#e8c2ce" stroke="none" stroke-width="0.6" />
<line x1="71.80" y1="224.74" x2="74.80" y2="224.74" stroke="#333" stroke-width="0.6" />
<text x="71.40" y="227.64" font-size="8.3" fill="#111" text-anchor="end" font-weight="normal" >HLA−DPB1</text>
<circle cx="84.10" cy="224.74" r="2.30" fill="#e3dae6" stroke="none" stroke-width="0.6" />
<circle cx="99.48" cy="224.74" r="2.50" fill="#d77892" stroke="none" stroke-width="0.6" />
<circle cx="114.86" cy="224.74" r="5.00" fill="#d16382" stroke="none" stroke-width="0.6" />
<circle cx="130.24" cy="224.74" r="3.00" fill="#e3dae6" stroke="none" stroke-width="0.6" />
<circle cx="145.62" cy="224.74" r="3.80" fill="#dbe0ed" stroke="none" stroke-width="0.6" />
<circle cx="161.00" cy="224.74" r="1.40" fill="#5583ba" stroke="none" stroke-width="0.6" />
<circle cx="176.38" cy="224.74" r="1.00" fill="#bad1eb" stroke="none" stroke-width="0.6" />
<circle cx="191.76" cy="224.74" r="1.20" fill="#d5e3f2" stroke="none" stroke-width="0.6" />
<line x1="71.80" y1="237.55" x2="74.80" y2="237.55" stroke="#333" stroke-width="0.6" />
<text x="71.40" y="240.45" font-size="8.3" fill="#111" text-anchor="end" font-weight="normal" >HLA−DMB</text>
<circle cx="84.10" cy="237.55" r="1.20" fill="#e7c8d4" stroke="none" stroke-width="0.6" />
<circle cx="99.48" cy="237.55" r="1.10" fill="#e7b2c0" stroke="none" stroke-width="0.6" />
<circle cx="114.86" cy="237.55" r="3.20" fill="#c8466c" stroke="none" stroke-width="0.6" />
<circle cx="130.24" cy="237.55" r="1.80" fill="#e9bcc8" stroke="none" stroke-width="0.6" />
<circle cx="145.62" cy="237.55" r="1.20" fill="#a7c5e5" stroke="none" stroke-width="0.6" />
<circle cx="161.00" cy="237.55" r="0.70" fill="#b1cbe8" stroke="none" stroke-width="0.6" />
<circle cx="176.38" cy="237.55" r="0.40" fill="#ccddf0" stroke="none" stroke-width="0.6" />
<circle cx="191.76" cy="237.55" r="0.40" fill="#dbe0ed" stroke="none" stroke-width="0.6" />
<line x1="71.80" y1="250.36" x2="74.80" y2="250.36" stroke="#333" stroke-width="0.6" />
<text x="71.40" y="253.26" font-size="8.3" fill="#111" text-anchor="end" font-weight="normal" >HLA−DQB1</text>
<circle cx="84.10" cy="250.36" r="2.50" fill="#e9bcc8" stroke="none" stroke-width="0.6" />
<circle cx="99.48" cy="250.36" r="2.40" fill="#d36a87" stroke="none" stroke-width="0.6" />
<circle cx="114.86" cy="250.36" r="4.60" fill="#e4a8b8" stroke="none" stroke-width="0.6" />
<circle cx="130.24" cy="250.36" r="3.40" fill="#e8c2ce" stroke="none" stroke-width="0.6" />
<circle cx="145.62" cy="250.36" r="3.80" fill="#e7c8d4" stroke="none" stroke-width="0.6" />
<circle cx="161.00" cy="250.36" r="3.60" fill="#b1cbe8" stroke="none" stroke-width="0.6" />
<circle cx="176.38" cy="250.36" r="0.60" fill="#4e7cb5" stroke="none" stroke-width="0.6" />
<circle cx="191.76" cy="250.36" r="1.00" fill="#bad1eb" stroke="none" stroke-width="0.6" />
<line x1="71.80" y1="263.17" x2="74.80" y2="263.17" stroke="#333" stroke-width="0.6" />
<text x="71.40" y="266.07" font-size="8.3" fill="#111" text-anchor="end" font-weight="normal" >HLA−DRB1</text>
<circle cx="84.10" cy="263.17" r="2.80" fill="#e1dce8" stroke="none" stroke-width="0.6" />
<circle cx="99.48" cy="263.17" r="2.50" fill="#e29eb0" stroke="none" stroke-width="0.6" />
<circle cx="114.86" cy="263.17" r="6.00" fill="#c8466c" stroke="none" stroke-width="0.6" />
<circle cx="130.24" cy="263.17" r="3.80" fill="#e7c8d4" stroke="none" stroke-width="0.6" />
<circle cx="145.62" cy="263.17" r="4.20" fill="#d5e3f2" stroke="none" stroke-width="0.6" />
<circle cx="161.00" cy="263.17" r="2.30" fill="#7aa3d0" stroke="none" stroke-width="0.6" />
<circle cx="176.38" cy="263.17" r="1.20" fill="#b1cbe8" stroke="none" stroke-width="0.6" />
<circle cx="191.76" cy="263.17" r="1.20" fill="#ccddf0" stroke="none" stroke-width="0.6" />
<line x1="71.80" y1="275.98" x2="74.80" y2="275.98" stroke="#333" stroke-width="0.6" />
<text x="71.40" y="278.88" font-size="8.3" fill="#111" text-anchor="end" font-weight="normal" >HLA−DRB5</text>
<circle cx="84.10" cy="275.98" r="1.60" fill="#e7c8d4" stroke="none" stroke-width="0.6" />
<circle cx="99.48" cy="275.98" r="1.80" fill="#df94a8" stroke="none" stroke-width="0.6" />
<circle cx="114.86" cy="275.98" r="5.20" fill="#ce5b7c" stroke="none" stroke-width="0.6" />
<circle cx="130.24" cy="275.98" r="3.40" fill="#e4a8b8" stroke="none" stroke-width="0.6" />
<circle cx="145.62" cy="275.98" r="2.80" fill="#d5e3f2" stroke="none" stroke-width="0.6" />
<circle cx="161.00" cy="275.98" r="1.20" fill="#6f9acb" stroke="none" stroke-width="0.6" />
<circle cx="176.38" cy="275.98" r="0.60" fill="#b1cbe8" stroke="none" stroke-width="0.6" />
<circle cx="191.76" cy="275.98" r="0.70" fill="#c3d7ed" stroke="none" stroke-width="0.6" />
<line x1="71.80" y1="288.79" x2="74.80" y2="288.79" stroke="#333" stroke-width="0.6" />
<text x="71.40" y="291.69" font-size="8.3" fill="#111" text-anchor="end" font-weight="normal" >HLA−DRA</text>
<circle cx="84.10" cy="288.79" r="2.80" fill="#e3dae6" stroke="none" stroke-width="0.6" />
<circle cx="99.48" cy="288.79" r="2.70" fill="#df94a8" stroke="none" stroke-width="0.6" />
<circle cx="114.86" cy="288.79" r="5.50" fill="#d5718d" stroke="none" stroke-width="0.6" />
<circle cx="130.24" cy="288.79" r="4.20" fill="#e9bcc8" stroke="none" stroke-width="0.6" />
<circle cx="145.62" cy="288.79" r="4.80" fill="#e6ceda" stroke="none" stroke-width="0.6" />
<circle cx="161.00" cy="288.79" r="2.30" fill="#4e7cb5" stroke="none" stroke-width="0.6" />
<circle cx="176.38" cy="288.79" r="1.20" fill="#9cbde0" stroke="none" stroke-width="0.6" />
<circle cx="191.76" cy="288.79" r="1.30" fill="#ccddf0" stroke="none" stroke-width="0.6" />
<line x1="71.80" y1="301.60" x2="74.80" y2="301.60" stroke="#333" stroke-width="0.6" />
<text x="71.40" y="304.50" font-size="8.3" fill="#111" text-anchor="end" font-weight="normal" >HLA−E</text>
<circle cx="84.10" cy="301.60" r="3.00" fill="#e3dae6" stroke="none" stroke-width="0.6" />
<circle cx="99.48" cy="301.60" r="3.20" fill="#e7b2c0" stroke="none" stroke-width="0.6" />
<circle cx="114.86" cy="301.60" r="5.60" fill="#e7c8d4" stroke="none" stroke-width="0.6" />
<circle cx="130.24" cy="301.60" r="6.00" fill="#ca4d71" stroke="none" stroke-width="0.6" />
<circle cx="145.62" cy="301.60" r="4.40" fill="#e1dce8" stroke="none" stroke-width="0.6" />
<circle cx="161.00" cy="301.60" r="3.20" fill="#6f9acb" stroke="none" stroke-width="0.6" />
<circle cx="176.38" cy="301.60" r="1.00" fill="#7aa3d0" stroke="none" stroke-width="0.6" />
<circle cx="191.76" cy="301.60" r="1.30" fill="#d5e3f2" stroke="none" stroke-width="0.6" />
<line x1="71.80" y1="314.41" x2="74.80" y2="314.41" stroke="#333" stroke-width="0.6" />
<text x="71.40" y="317.31" font-size="8.3" fill="#111" text-anchor="end" font-weight="normal" >HLA−C</text>
<circle cx="84.10" cy="314.41" r="2.00" fill="#e1dce8" stroke="none" stroke-width="0.6" />
<circle cx="99.48" cy="314.41" r="4.20" fill="#dc8aa0" stroke="none" stroke-width="0.6" />
<circle cx="114.86" cy="314.41" r="2.80" fill="#dbe0ed" stroke="none" stroke-width="0.6" />
<circle cx="130.24" cy="314.41" r="5.80" fill="#d16382" stroke="none" stroke-width="0.6" />
<circle cx="145.62" cy="314.41" r="5.00" fill="#e9bcc8" stroke="none" stroke-width="0.6" />
<circle cx="161.00" cy="314.41" r="1.40" fill="#6f9acb" stroke="none" stroke-width="0.6" />
<circle cx="176.38" cy="314.41" r="0.50" fill="#5c8ac0" stroke="none" stroke-width="0.6" />
<circle cx="191.76" cy="314.41" r="1.60" fill="#e3dae6" stroke="none" stroke-width="0.6" />
<line x1="71.80" y1="327.22" x2="74.80" y2="327.22" stroke="#333" stroke-width="0.6" />
<text x="71.40" y="330.12" font-size="8.3" fill="#111" text-anchor="end" font-weight="normal" >HLA−B</text>
<circle cx="84.10" cy="327.22" r="4.20" fill="#e1dce8" stroke="none" stroke-width="0.6" />
<circle cx="99.48" cy="327.22" r="5.00" fill="#da8098" stroke="none" stroke-width="0.6" />
<circle cx="114.86" cy="327.22" r="6.20" fill="#e9bcc8" stroke="none" stroke-width="0.6" />
<circle cx="130.24" cy="327.22" r="6.40" fill="#ce5b7c" stroke="none" stroke-width="0.6" />
<circle cx="145.62" cy="327.22" r="5.60" fill="#e3dae6" stroke="none" stroke-width="0.6" />
<circle cx="161.00" cy="327.22" r="6.20" fill="#bad1eb" stroke="none" stroke-width="0.6" />
<circle cx="176.38" cy="327.22" r="2.00" fill="#5583ba" stroke="none" stroke-width="0.6" />
<circle cx="191.76" cy="327.22" r="2.40" fill="#a7c5e5" stroke="none" stroke-width="0.6" />
<line x1="71.80" y1="340.03" x2="74.80" y2="340.03" stroke="#333" stroke-width="0.6" />
<text x="71.40" y="342.93" font-size="8.3" fill="#111" text-anchor="end" font-weight="normal" >HLA−A</text>
<circle cx="84.10" cy="340.03" r="3.80" fill="#e8c2ce" stroke="none" stroke-width="0.6" />
<circle cx="99.48" cy="340.03" r="3.80" fill="#e7b2c0" stroke="none" stroke-width="0.6" />
<circle cx="114.86" cy="340.03" r="6.20" fill="#d36a87" stroke="none" stroke-width="0.6" />
<circle cx="130.24" cy="340.03" r="5.60" fill="#df94a8" stroke="none" stroke-width="0.6" />
<circle cx="145.62" cy="340.03" r="6.00" fill="#d5e3f2" stroke="none" stroke-width="0.6" />
<circle cx="161.00" cy="340.03" r="6.00" fill="#d5e3f2" stroke="none" stroke-width="0.6" />
<circle cx="176.38" cy="340.03" r="1.60" fill="#7aa3d0" stroke="none" stroke-width="0.6" />
<circle cx="191.76" cy="340.03" r="1.60" fill="#6391c5" stroke="none" stroke-width="0.6" />
<line x1="71.80" y1="352.84" x2="74.80" y2="352.84" stroke="#333" stroke-width="0.6" />
<text x="71.40" y="355.74" font-size="8.3" fill="#111" text-anchor="end" font-weight="normal" >HSP90AA1</text>
<circle cx="84.10" cy="352.84" r="5.40" fill="#d5718d" stroke="none" stroke-width="0.6" />
<circle cx="99.48" cy="352.84" r="5.60" fill="#e7b2c0" stroke="none" stroke-width="0.6" />
<circle cx="114.86" cy="352.84" r="6.40" fill="#e1dce8" stroke="none" stroke-width="0.6" />
<circle cx="130.24" cy="352.84" r="6.20" fill="#e3dae6" stroke="none" stroke-width="0.6" />
<circle cx="145.62" cy="352.84" r="6.60" fill="#ccddf0" stroke="none" stroke-width="0.6" />
<circle cx="161.00" cy="352.84" r="6.40" fill="#d5718d" stroke="none" stroke-width="0.6" />
<circle cx="176.38" cy="352.84" r="2.20" fill="#406eaa" stroke="none" stroke-width="0.6" />
<circle cx="191.76" cy="352.84" r="3.00" fill="#a7c5e5" stroke="none" stroke-width="0.6" />
<line x1="71.80" y1="365.65" x2="74.80" y2="365.65" stroke="#333" stroke-width="0.6" />
<text x="71.40" y="368.55" font-size="8.3" fill="#111" text-anchor="end" font-weight="normal" >HSPA1A</text>
<circle cx="84.10" cy="365.65" r="4.20" fill="#d5718d" stroke="none" stroke-width="0.6" />
<circle cx="99.48" cy="365.65" r="4.80" fill="#d77892" stroke="none" stroke-width="0.6" />
<circle cx="114.86" cy="365.65" r="6.20" fill="#d5e3f2" stroke="none" stroke-width="0.6" />
<circle cx="130.24" cy="365.65" r="6.00" fill="#d36a87" stroke="none" stroke-width="0.6" />
<circle cx="145.62" cy="365.65" r="4.80" fill="#9cbde0" stroke="none" stroke-width="0.6" />
<circle cx="161.00" cy="365.65" r="5.60" fill="#e1dce8" stroke="none" stroke-width="0.6" />
<circle cx="176.38" cy="365.65" r="1.40" fill="#85abd5" stroke="none" stroke-width="0.6" />
<circle cx="191.76" cy="365.65" r="1.60" fill="#9cbde0" stroke="none" stroke-width="0.6" />
<line x1="71.80" y1="378.46" x2="74.80" y2="378.46" stroke="#333" stroke-width="0.6" />
<text x="71.40" y="381.36" font-size="8.3" fill="#111" text-anchor="end" font-weight="normal" >HMGB1</text>
<circle cx="84.10" cy="378.46" r="5.00" fill="#d5718d" stroke="none" stroke-width="0.6" />
<circle cx="99.48" cy="378.46" r="5.20" fill="#d16382" stroke="none" stroke-width="0.6" />
<circle cx="114.86" cy="378.46" r="6.20" fill="#e8c2ce" stroke="none" stroke-width="0.6" />
<circle cx="130.24" cy="378.46" r="5.60" fill="#e1dce8" stroke="none" stroke-width="0.6" />
<circle cx="145.62" cy="378.46" r="6.40" fill="#ccddf0" stroke="none" stroke-width="0.6" />
<circle cx="161.00" cy="378.46" r="5.80" fill="#dedeeb" stroke="none" stroke-width="0.6" />
<circle cx="176.38" cy="378.46" r="2.20" fill="#406eaa" stroke="none" stroke-width="0.6" />
<circle cx="191.76" cy="378.46" r="3.80" fill="#d5e3f2" stroke="none" stroke-width="0.6" />
<line x1="71.80" y1="391.27" x2="74.80" y2="391.27" stroke="#333" stroke-width="0.6" />
<text x="71.40" y="394.17" font-size="8.3" fill="#111" text-anchor="end" font-weight="normal" >CD74</text>
<circle cx="84.10" cy="391.27" r="5.00" fill="#e5d4e0" stroke="none" stroke-width="0.6" />
<circle cx="99.48" cy="391.27" r="4.80" fill="#e7c8d4" stroke="none" stroke-width="0.6" />
<circle cx="114.86" cy="391.27" r="6.40" fill="#c8466c" stroke="none" stroke-width="0.6" />
<circle cx="130.24" cy="391.27" r="5.60" fill="#e5d4e0" stroke="none" stroke-width="0.6" />
<circle cx="145.62" cy="391.27" r="6.20" fill="#e4a8b8" stroke="none" stroke-width="0.6" />
<circle cx="161.00" cy="391.27" r="5.00" fill="#5c8ac0" stroke="none" stroke-width="0.6" />
<circle cx="176.38" cy="391.27" r="3.20" fill="#a7c5e5" stroke="none" stroke-width="0.6" />
<circle cx="191.76" cy="391.27" r="2.40" fill="#a7c5e5" stroke="none" stroke-width="0.6" />
<line x1="84.10" y1="399.20" x2="84.10" y2="402.20" stroke="#333" stroke-width="0.6" />
<text x="87.00" y="404.00" font-size="8.3" fill="#111" text-anchor="end" font-weight="normal" transform="rotate(-90 87.00 404.00)" >cTEC_MGTH</text>
<line x1="99.48" y1="399.20" x2="99.48" y2="402.20" stroke="#333" stroke-width="0.6" />
<text x="102.38" y="404.00" font-size="8.3" fill="#111" text-anchor="end" font-weight="normal" transform="rotate(-90 102.38 404.00)" >cTEC_TH</text>
<line x1="114.86" y1="399.20" x2="114.86" y2="402.20" stroke="#333" stroke-width="0.6" />
<text x="117.76" y="404.00" font-size="8.3" fill="#111" text-anchor="end" font-weight="normal" transform="rotate(-90 117.76 404.00)" >mTEC(I)_MGTH</text>
<line x1="130.24" y1="399.20" x2="130.24" y2="402.20" stroke="#333" stroke-width="0.6" />
<text x="133.14" y="404.00" font-size="8.3" fill="#111" text-anchor="end" font-weight="normal" transform="rotate(-90 133.14 404.00)" >mTEC(I)_TH</text>
<line x1="145.62" y1="399.20" x2="145.62" y2="402.20" stroke="#333" stroke-width="0.6" />
<text x="148.52" y="404.00" font-size="8.3" fill="#111" text-anchor="end" font-weight="normal" transform="rotate(-90 148.52 404.00)" >mTEC(II)_MGTH</text>
<line x1="161.00" y1="399.20" x2="161.00" y2="402.20" stroke="#333" stroke-width="0.6" />
<text x="163.90" y="404.00" font-size="8.3" fill="#111" text-anchor="end" font-weight="normal" transform="rotate(-90 163.90 404.00)" >mTEC(II)_TH</text>
<line x1="176.38" y1="399.20" x2="176.38" y2="402.20" stroke="#333" stroke-width="0.6" />
<text x="179.28" y="404.00" font-size="8.3" fill="#d0202e" text-anchor="end" font-weight="normal" transform="rotate(-90 179.28 404.00)" >nsTEC_MGTH</text>
<line x1="191.76" y1="399.20" x2="191.76" y2="402.20" stroke="#333" stroke-width="0.6" />
<text x="194.66" y="404.00" font-size="8.3" fill="#d0202e" text-anchor="end" font-weight="normal" transform="rotate(-90 194.66 404.00)" >nsTEC_TH</text>
<rect x="167.80" y="167.40" width="30.60" height="228.40" fill="none" stroke="#222" stroke-width="0.9" stroke-dasharray="2.4 2"/>
<text x="205.00" y="172.00" font-size="8.3" fill="#111" text-anchor="start" font-weight="normal" >Average</text>
<text x="205.00" y="182.40" font-size="8.3" fill="#111" text-anchor="start" font-weight="normal" >Expression</text>
<defs><linearGradient id="gC" x1="0" x2="0" y1="0" y2="1"><stop offset="0.000" stop-color="#c8466c"/><stop offset="0.200" stop-color="#da8098"/><stop offset="0.350" stop-color="#eabcc8"/><stop offset="0.475" stop-color="#e4dae6"/><stop offset="0.600" stop-color="#d6e4f3"/><stop offset="0.725" stop-color="#a8c6e6"/><stop offset="0.875" stop-color="#6492c6"/><stop offset="1.000" stop-color="#406eaa"/></linearGradient></defs>
<rect x="204.90" y="187.00" width="14.80" height="71.20" fill="url(#gC)" stroke="none" stroke-width="0.6" />
<line x1="204.90" y1="205.60" x2="207.60" y2="205.60" stroke="#fff" stroke-width="0.5" />
<line x1="217.00" y1="205.60" x2="219.70" y2="205.60" stroke="#fff" stroke-width="0.5" />
<text x="224.60" y="208.40" font-size="8.3" fill="#111" text-anchor="start" font-weight="normal" >1</text>
<line x1="204.90" y1="224.30" x2="207.60" y2="224.30" stroke="#fff" stroke-width="0.5" />
<line x1="217.00" y1="224.30" x2="219.70" y2="224.30" stroke="#fff" stroke-width="0.5" />
<text x="224.60" y="227.10" font-size="8.3" fill="#111" text-anchor="start" font-weight="normal" >0</text>
<line x1="204.90" y1="242.70" x2="207.60" y2="242.70" stroke="#fff" stroke-width="0.5" />
<line x1="217.00" y1="242.70" x2="219.70" y2="242.70" stroke="#fff" stroke-width="0.5" />
<text x="224.60" y="245.50" font-size="8.3" fill="#111" text-anchor="start" font-weight="normal" >−1</text>
<text x="205.00" y="277.50" font-size="8.3" fill="#111" text-anchor="start" font-weight="normal" >Percent</text>
<text x="205.00" y="287.60" font-size="8.3" fill="#111" text-anchor="start" font-weight="normal" >Expressed</text>
<circle cx="212.20" cy="297.40" r="2.10" fill="#000" stroke="none" stroke-width="0.6" />
<text x="221.20" y="300.20" font-size="8.3" fill="#111" text-anchor="start" font-weight="normal" >25</text>
<circle cx="212.20" cy="311.80" r="3.60" fill="#000" stroke="none" stroke-width="0.6" />
<text x="221.20" y="314.60" font-size="8.3" fill="#111" text-anchor="start" font-weight="normal" >50</text>
<circle cx="212.20" cy="326.00" r="5.10" fill="#000" stroke="none" stroke-width="0.6" />
<text x="221.20" y="328.80" font-size="8.3" fill="#111" text-anchor="start" font-weight="normal" >75</text>
<text x="266.60" y="172.60" font-size="16.2" fill="#231815" text-anchor="start" font-weight="bold" >D</text>
<defs><filter id="bl1" x="-5%" y="-5%" width="110%" height="110%"><feGaussianBlur stdDeviation="0.65"/></filter><filter id="bl0" x="-5%" y="-5%" width="110%" height="110%"><feGaussianBlur stdDeviation="0.35"/></filter></defs>
<text x="405.10" y="168.00" font-size="7.8" fill="#111" text-anchor="middle" font-weight="bold" >MGTH</text>
<line x1="311.70" y1="171.60" x2="481.60" y2="171.60" stroke="#222" stroke-width="0.6" />
<clipPath id="cla"><rect x="311.7" y="176" width="172.3" height="132.89999999999998"/></clipPath>
<clipPath id="cma"><rect x="311.7" y="209.3" width="172.3" height="99.59999999999997"/></clipPath>
<g clip-path="url(#cla)">
<rect x="311.70" y="176.00" width="172.30" height="132.90" fill="#010108" stroke="none" stroke-width="0.6" />
<rect x="311.70" y="176.00" width="57.80" height="33.30" fill="#020226" stroke="none" stroke-width="0.6" />
<g filter="url(#bl0)">
<path transform="translate(311 176) scale(.1)" d="M552 222h0M303 49h0M571 156h0M54 154h0M358 38h0M225 72h0M470 241h0M108 213h0M511 161h0M321 227h0M528 130h0M283 159h0M256 140h0M463 252h0M576 22h0M221 271h0M567 4h0M544 108h0M110 324h0M359 75h0M414 120h0M552 56h0M392 280h0M84 59h0M295 131h0M292 115h0M296 71h0M561 185h0M209 120h0M136 314h0M309 153h0M378 239h0M550 9h0M343 279h0M162 197h0M544 100h0M291 184h0M398 4h0M282 51h0M132 236h0M407 155h0M452 299h0M117 237h0M273 313h0M216 284h0M106 40h0M135 282h0M563 232h0M518 61h0M228 47h0M434 102h0M31 269h0M536 129h0M317 180h0M481 167h0M166 210h0M224 145h0M208 23h0M569 320h0M255 191h0M296 12h0M560 65h0M529 314h0M235 319h0M185 170h0M473 121h0M69 146h0M234 112h0M514 166h0M537 207h0M142 47h0M53 323h0M462 71h0M366 29h0M144 208h0M299 120h0M48 251h0M412 61h0M311 184h0M414 44h0M58 277h0M380 80h0M221 320h0M296 76h0M201 196h0M374 144h0M335 321h0M364 121h0M44 197h0M137 298h0M49 33h0M229 168h0M285 292h0M72 91h0M393 45h0M289 199h0M296 275h0M352 298h0M547 166h0M347 68h0M61 4h0M92 133h0M408 47h0M193 200h0M444 234h0M302 231h0M226 72h0M434 330h0M113 263h0M172 218h0M176 271h0M247 319h0M531 120h0M477 266h0M482 144h0M372 137h0M12 331h0M172 52h0M297 171h0M526 271h0M217 219h0M325 136h0M497 264h0M204 84h0M439 177h0M351 173h0M311 57h0M371 65h0M287 290h0M72 41h0M525 328h0M568 117h0M489 326h0M211 244h0M373 169h0M453 296h0M43 41h0M463 192h0M56 247h0M550 247h0M147 107h0M564 24h0M141 322h0M316 309h0M488 110h0M578 283h0M415 54h0M489 98h0M233 330h0M441 41h0M229 201h0M544 249h0M454 275h0M226 314h0M460 28h0M45 245h0M542 225h0M408 173h0M196 93h0M381 287h0M460 125h0M370 226h0M519 114h0M247 152h0M192 328h0M221 74h0M170 284h0M284 27h0M445 322h0M512 215h0M373 118h0M461 269h0M568 253h0M388 323h0M56 238h0M369 262h0M18 132h0M399 277h0M584 262h0M289 169h0M546 88h0M18 328h0M565 162h0M104 273h0M492 26h0M179 109h0M234 71h0M84 252h0M29 135h0M442 273h0M438 121h0M78 113h0M367 114h0M156 87h0M525 197h0M85 177h0M347 306h0M521 122h0M318 49h0M395 295h0M475 321h0M416 188h0M484 28h0M136 173h0M533 69h0M298 121h0M536 145h0M411 22h0M431 175h0M557 175h0M68 90h0M510 38h0M176 203h0M482 226h0M136 329h0M278 208h0M87 71h0M472 70h0M176 5h0M281 32h0M467 275h0M222 12h0M519 156h0M302 69h0M552 216h0M453 264h0M581 188h0M419 235h0M188 14h0M313 34h0M551 20h0M541 88h0M152 7h0M155 251h0M153 285h0M369 256h0M119 89h0M415 140h0M192 219h0M491 59h0M149 108h0M543 233h0M199 166h0M27 130h0M101 76h0M479 265h0M105 106h0M152 141h0M582 187h0M248 65h0M379 301h0M322 106h0M278 253h0M526 217h0M28 55h0M227 3h0M268 155h0M403 251h0M428 44h0M9 267h0M64 65h0M145 125h0M200 41h0M451 53h0M436 205h0M543 247h0M239 18h0M249 278h0M89 183h0M524 187h0M526 171h0M559 42h0M431 317h0M517 291h0M335 38h0M492 100h0M195 62h0M445 144h0M446 146h0M364 315h0M492 223h0M398 314h0M151 283h0M37 55h0M195 253h0M120 200h0M530 48h0M315 187h0M429 237h0M542 50h0M464 297h0M508 317h0M331 332h0M446 5h0M560 122h0M261 57h0M412 45h0M558 200h0M147 151h0M49 215h0M285 258h0M522 140h0M309 278h0M126 288h0M576 332h0M279 1h0M260 112h0M49 314h0M256 289h0M573 74h0M258 283h0M456 309h0M544 268h0M8 40h0M407 245h0M89 0h0M301 192h0M500 193h0M214 258h0M423 100h0M172 159h0M352 130h0M430 32h0M319 125h0M195 232h0M435 228h0M87 58h0M198 8h0M462 292h0M297 219h0M61 32h0M399 196h0M536 78h0M106 233h0M538 285h0M10 119h0M559 269h0M359 14h0M156 77h0M102 126h0M260 155h0M257 147h0M300 299h0M306 86h0M57 60h0M151 288h0M91 196h0M481 212h0M94 142h0M392 193h0M58 281h0M384 73h0M258 158h0M298 95h0M439 191h0M186 114h0M409 115h0M535 117h0M433 115h0M353 202h0M406 38h0M523 114h0M22 5h0M582 134h0M277 47h0M524 195h0M40 64h0M171 330h0M329 240h0M336 76h0M550 324h0M190 280h0M145 41h0M374 222h0M101 290h0M535 1h0M142 41h0M9 63h0M369 208h0M138 196h0M536 33h0M68 41h0M297 31h0M354 142h0M294 94h0M42 147h0M307 311h0M82 170h0M32 122h0M531 135h0M157 209h0M48 309h0M14 153h0M507 270h0M502 247h0M437 224h0M465 202h0M168 206h0M344 166h0M432 43h0M151 216h0M430 37h0M468 255h0M309 84h0M379 236h0M22 198h0M225 127h0M193 235h0M215 332h0M542 187h0M551 186h0M41 189h0M345 9h0M121 80h0M384 264h0M570 40h0M90 90h0M230 321h0M204 333h0M417 149h0M477 46h0M33 263h0M127 325h0M222 166h0M562 264h0M447 85h0M369 269h0M566 3h0M236 317h0M470 154h0M151 193h0M158 221h0M536 151h0M480 127h0M368 86h0M99 193h0M189 309h0M542 280h0M270 66h0M32 225h0M142 285h0M348 62h0M505 160h0M270 162h0M150 205h0M466 38h0M187 170h0M162 165h0M341 267h0M305 219h0M506 274h0M269 139h0M380 202h0M272 51h0M398 247h0M528 320h0M63 250h0M524 245h0M528 167h0M216 308h0M9 235h0M272 310h0M397 30h0M123 223h0M113 103h0M217 48h0M526 114h0M354 217h0M411 28h0M347 19h0M397 248h0M259 152h0M295 161h0M69 30h0M583 6h0M105 123h0M480 257h0M374 96h0M442 187h0M313 117h0M326 67h0M205 196h0M52 74h0M371 170h0M362 84h0M198 80h0M539 20h0M543 83h0M219 227h0M274 193h0M131 222h0M424 248h0M119 325h0M190 158h0M560 161h0M96 257h0M524 3h0M331 145h0M122 110h0M475 226h0M345 1h0M456 115h0M225 312h0M187 55h0M71 259h0M81 255h0M306 63h0M236 27h0M41 243h0M116 25h0M288 15h0M35 285h0M12 91h0M391 163h0M59 66h0M247 99h0M547 323h0M59 154h0M234 171h0M121 100h0M464 3h0M306 238h0M56 328h0M446 65h0M540 213h0M463 187h0M135 214h0M579 186h0M398 228h0M225 184h0M59 212h0M313 102h0M53 282h0M82 317h0M384 183h0M440 86h0M364 34h0M267 250h0M491 293h0M503 14h0M28 143h0M433 80h0M474 147h0M357 73h0M255 39h0M455 227h0M23 30h0M528 45h0M317 169h0M345 228h0M391 274h0M278 213h0M179 186h0M150 297h0M103 332h0M15 295h0M501 290h0M569 129h0M405 139h0M183 111h0M239 91h0M476 95h0M283 15h0M233 174h0M458 197h0M165 261h0M70 189h0M236 61h0M517 159h0M582 169h0M135 69h0M458 272h0M68 63h0M388 107h0M77 311h0M132 249h0M459 282h0M72 125h0M305 247h0M205 94h0M580 146h0M449 173h0M171 268h0M575 40h0M374 323h0M98 27h0M172 267h0M476 80h0M561 43h0M28 303h0M338 143h0M122 283h0M416 124h0M10 66h0M435 87h0M318 185h0M375 314h0M286 134h0M397 157h0M489 12h0M50 165h0M204 128h0M122 127h0M272 203h0M356 268h0M242 75h0M461 114h0M14 178h0M101 285h0M86 187h0M59 33h0M356 321h0M403 83h0M215 221h0M415 280h0M216 10h0M346 241h0M30 282h0M206 222h0M40 198h0M443 66h0M391 327h0M502 1h0M515 316h0M324 271h0M90 301h0M181 16h0M376 302h0M404 270h0M414 258h0M65 98h0M79 76h0M426 27h0M55 271h0M302 276h0M260 36h0M481 42h0M58 107h0M435 68h0M200 151h0M400 233h0M101 268h0M365 50h0M441 133h0M407 19h0M451 122h0M361 38h0M306 24h0M394 103h0M77 51h0" stroke="#0a0aff" stroke-width="17.0" stroke-linecap="round" fill="none" opacity="0.92"/>
<path transform="translate(311 176) scale(.1)" d="M66 149h0M76 174h0M375 265h0M66 138h0M117 35h0M475 218h0M220 10h0M139 36h0M566 167h0M571 162h0M286 24h0M195 32h0M444 257h0M511 219h0M253 117h0M488 283h0M515 56h0M11 264h0M565 35h0M52 296h0M206 186h0M529 120h0M547 67h0M128 32h0M237 123h0M444 240h0M551 209h0M471 156h0M254 68h0M565 299h0M233 82h0M256 84h0M562 239h0M171 193h0M19 123h0M176 103h0M436 314h0M342 163h0M19 29h0M133 103h0M509 318h0M475 34h0M262 187h0M166 2h0M366 260h0M26 128h0M269 252h0M413 281h0M453 200h0M165 20h0M8 94h0M247 140h0M322 256h0M320 87h0M100 59h0M174 66h0M288 165h0M109 253h0M238 316h0M15 189h0M298 276h0M229 312h0M526 200h0M506 309h0M9 169h0M177 174h0M71 173h0M194 53h0M185 28h0M22 238h0M139 11h0M172 170h0M521 329h0M388 126h0M302 237h0M91 129h0M505 113h0M16 226h0M547 267h0M518 68h0M76 227h0M27 103h0M328 7h0M372 147h0M286 229h0M430 144h0M479 221h0M39 231h0M350 151h0M82 215h0M552 122h0M478 325h0M369 241h0M226 4h0M408 290h0M11 280h0M381 290h0M78 158h0M239 24h0M239 241h0M446 136h0M160 143h0M204 61h0M183 331h0M313 153h0M50 66h0M381 171h0M124 289h0M358 226h0M466 291h0M485 302h0M97 305h0M423 283h0M312 259h0M28 190h0M84 213h0M73 177h0M162 119h0M193 262h0M287 27h0M320 294h0M194 15h0M521 136h0M421 155h0M544 256h0M370 221h0M290 94h0M331 296h0M48 302h0M292 153h0M109 210h0M574 316h0M513 191h0M153 288h0M341 12h0M417 36h0M424 298h0M352 145h0M295 164h0M535 147h0M219 98h0M18 156h0M471 323h0M485 329h0M23 42h0M230 181h0M349 170h0M132 48h0M481 85h0M92 96h0M326 56h0M522 263h0M488 289h0M80 213h0M154 328h0M48 325h0M208 76h0M571 208h0M20 88h0M204 187h0M236 157h0M273 189h0M175 319h0M378 283h0M87 107h0M430 14h0M273 220h0M384 132h0M426 209h0M220 139h0M197 49h0M464 59h0M247 97h0M302 261h0M361 107h0M131 331h0M491 261h0M54 301h0M557 157h0M383 157h0M130 12h0M461 206h0M480 296h0M265 31h0M380 171h0M31 277h0M285 271h0M567 235h0M19 131h0M233 85h0M444 86h0M165 36h0M23 225h0M250 128h0M540 248h0M482 297h0M560 4h0M44 99h0M143 198h0M545 171h0M562 216h0M276 307h0M11 69h0M339 169h0M518 29h0M220 155h0M538 147h0M13 5h0M448 99h0M52 275h0M528 173h0M281 149h0M438 154h0M27 257h0M398 31h0M67 180h0" stroke="#02021c" stroke-width="18.0" stroke-linecap="round" fill="none" opacity="0.8"/>
</g>
<rect x="369.50" y="176.00" width="56.50" height="33.30" fill="#010301" stroke="none" stroke-width="0.6" />
<g filter="url(#bl0)">
<path transform="translate(369 176) scale(.1)" d="M45 45h0M453 4h0M229 113h0M150 124h0M214 14h0M379 264h0M497 309h0M442 181h0M561 116h0M163 49h0M113 23h0M324 161h0M68 5h0M107 192h0M369 5h0M498 276h0M416 101h0M29 166h0M548 251h0M456 292h0M350 20h0M358 48h0M207 266h0M171 45h0M412 92h0M85 138h0M481 220h0M308 163h0M359 167h0M380 46h0M516 263h0M12 196h0M301 317h0M57 183h0M71 247h0M553 70h0M17 187h0M56 102h0M487 37h0M354 329h0M56 317h0M539 90h0M303 215h0M554 265h0M51 68h0M382 91h0M67 293h0M87 146h0M145 178h0M196 257h0M193 172h0M157 202h0M117 119h0M95 307h0M234 288h0M175 156h0M43 268h0M63 310h0M278 310h0M144 30h0M74 186h0M469 212h0M131 116h0M462 142h0M177 157h0M33 187h0M252 235h0M156 286h0M24 292h0M30 270h0M124 235h0M448 80h0M197 174h0M380 10h0M180 2h0M143 87h0M507 180h0M547 177h0M153 193h0M451 326h0M183 266h0M175 133h0M400 114h0M353 179h0M342 160h0M460 137h0M7 266h0M517 242h0M286 107h0M524 64h0M475 228h0M285 257h0M248 184h0M469 272h0M454 218h0" stroke="#22e03a" stroke-width="12.0" stroke-linecap="round" fill="none" opacity="0.95"/>
<path transform="translate(373 176) scale(.1)" d="M285 255h0M143 251h0M229 105h0M334 201h0M477 203h0M255 278h0M5 8h0M154 116h0M384 10h0M337 55h0M145 180h0M292 190h0M471 100h0M135 39h0M407 318h0M224 85h0M151 319h0M495 322h0M196 245h0M170 97h0M517 100h0M175 42h0M83 220h0M15 250h0" stroke="#1cc432" stroke-width="20.0" stroke-linecap="round" fill="none" opacity="0.9"/>
<path transform="translate(370 176) scale(.1)" d="M369 278h0M328 116h0M252 243h0M311 195h0M129 146h0M316 225h0M95 89h0M428 108h0M147 249h0M536 152h0M219 94h0M456 195h0M377 28h0M212 76h0M506 129h0M435 320h0M511 244h0M258 239h0M108 277h0M46 184h0M323 317h0M68 69h0M544 319h0M33 30h0M468 104h0M463 329h0M282 55h0M539 7h0M3 187h0M346 77h0M365 32h0M320 32h0M362 102h0M201 108h0M259 319h0M508 54h0M536 269h0M10 115h0M137 46h0M245 13h0M191 285h0M4 63h0M329 76h0M105 158h0M491 329h0" stroke="#0c5a1c" stroke-width="13.0" stroke-linecap="round" fill="none" opacity="0.8"/>
</g>
<rect x="426.00" y="176.00" width="58.00" height="33.30" fill="#050101" stroke="none" stroke-width="0.6" />
<g filter="url(#bl0)">
<path transform="translate(426 176) scale(.1)" d="M245 233h0M118 161h0M358 217h0M328 54h0M376 178h0M142 322h0M334 60h0M475 135h0M271 286h0M119 156h0M485 31h0M319 88h0M319 273h0M157 151h0M511 131h0M425 71h0M496 8h0M573 24h0M183 244h0M149 117h0M191 46h0M96 331h0M239 99h0M279 59h0M391 145h0M45 26h0M455 46h0M208 237h0M309 304h0M464 302h0M325 175h0M110 50h0M349 317h0M129 167h0M46 161h0M547 231h0M219 212h0M321 245h0M198 86h0M354 217h0M192 114h0M478 112h0M132 289h0M517 20h0M196 27h0M82 243h0M77 18h0M356 276h0M312 249h0M456 68h0M107 117h0M534 206h0M439 237h0M566 121h0M250 274h0M144 258h0M428 37h0M525 247h0M174 303h0M138 208h0M85 297h0M416 256h0M171 51h0M334 301h0M258 37h0M54 72h0M222 320h0M215 264h0M225 120h0M544 260h0M513 146h0M384 88h0M533 121h0M538 124h0M548 299h0M440 210h0M324 239h0M106 332h0M105 85h0M364 289h0M8 48h0M49 169h0M148 179h0M339 54h0M557 71h0M272 221h0M123 173h0M188 96h0M75 97h0M130 216h0M435 245h0M55 194h0M90 252h0M347 92h0M71 182h0M368 77h0M563 171h0M557 137h0M15 212h0M413 92h0M386 40h0M259 17h0M160 205h0M262 253h0M160 104h0M3 45h0M431 175h0M467 220h0M544 306h0M40 271h0M341 151h0M471 110h0M224 156h0M547 59h0M134 82h0M152 18h0M445 34h0M54 121h0M105 324h0M322 179h0M317 25h0M392 321h0M107 154h0M283 128h0M391 281h0M249 151h0M166 126h0M308 25h0M469 302h0M95 289h0M489 261h0M268 139h0M380 304h0M352 171h0M520 177h0M431 319h0M266 232h0M59 50h0M509 255h0M516 56h0M319 70h0M361 197h0M156 230h0M428 333h0M225 141h0M363 172h0M564 109h0M564 283h0M57 268h0M208 319h0" stroke="#c81822" stroke-width="10.0" stroke-linecap="round" fill="none" opacity="0.9"/>
<path transform="translate(426 176) scale(.1)" d="M382 149h0M185 197h0M58 117h0M477 121h0M1 75h0M4 189h0M257 223h0M478 183h0M89 159h0M509 119h0M389 208h0M475 231h0M62 315h0M343 332h0M260 297h0M338 243h0M198 331h0M176 39h0M77 209h0M400 35h0M47 117h0M32 17h0M94 182h0M238 68h0M238 247h0M258 8h0M150 250h0M312 218h0M462 250h0M74 253h0M376 322h0M344 298h0M280 251h0M2 254h0" stroke="#b01018" stroke-width="17.0" stroke-linecap="round" fill="none" opacity="0.85"/>
<path transform="translate(426 176) scale(.1)" d="M93 71h0M348 225h0M376 283h0M305 99h0M142 314h0M499 300h0M490 25h0M496 145h0M464 205h0M244 220h0M156 317h0M350 76h0M469 135h0M163 142h0M555 163h0M487 297h0M409 69h0M358 173h0M19 322h0M57 65h0M431 163h0M387 321h0M227 201h0M429 196h0M226 138h0M216 208h0M44 12h0M511 294h0M16 10h0M453 262h0M484 201h0M137 191h0M474 98h0M570 243h0M350 109h0M217 255h0M226 331h0M439 130h0M39 260h0M135 47h0M3 220h0M415 86h0M548 174h0M470 20h0M554 62h0M32 203h0M439 310h0M530 248h0M357 44h0M199 138h0M469 264h0M335 20h0M293 257h0M549 7h0M506 267h0M247 149h0M394 244h0M323 311h0M415 111h0M423 150h0M527 125h0M465 27h0M546 161h0M89 150h0M377 148h0M147 235h0M560 298h0M166 282h0M253 287h0M291 280h0" stroke="#4a080c" stroke-width="15.0" stroke-linecap="round" fill="none" opacity="0.8"/>
</g>
</g>
<g clip-path="url(#cma)">
<g filter="url(#bl1)">
<path transform="translate(314 209) scale(.1)" d="M793 842l-6 5M1221 667l2 5M1105 858l-10 1M1377 142l16 8M931 413l9 13M74 491l-15 0M1060 297l-15 8M1193 257l-18 13M692 542l-19 13M1428 954l11 7M703 205l3 8M725 736l-2 12M344 785l-14 14M916 901l-8 18M1368 211l13 4M1350 499l16 3M1563 874l-14 14M933 425l3 3M454 589l-15 12M899 16l10 4M561 314l5 7M1205 649l-7 6M936 717l10 8M1554 111l-10 6M864 449l4 10M10 901l13 14M1469 810l10 4M1194 89l-2 3M960 289l2 5M310 788l-11 4M534 83l-11 17M810 172l16 6M133 279l-11 11M53 658l-16 7M48 443l-5 6M63 443l-10 10M1203 667l3 3M691 304l-16 6M374 852l3 22M1002 338l-19 12M1057 73l3 0M330 393l-4 17M666 262l-7 13M1061 119l7 1M853 302l-6 12M789 257l2 6M1290 601l3 19M262 113l5 10M477 394l8 21M919 858l0 3M407 780l-16 8M295 661l-18 5M869 386l10 2M996 12l3 10M642 722l20 10M1483 628l-21 0M1463 820l-2 10M1628 368l-12 2M706 292l-4 2M975 572l-11 6M322 897l-3 4M1506 929l0 6M1007 84l21 2M470 988l4 8M1238 441l-9 13M1684 782l23 3M384 417l23 2M847 553l-7 10M901 697l-6 7M112 268l1 5M1188 799l-14 19M787 483l0 8M362 831l-12 12M1305 906l-1 3M1168 597l-12 9M714 471l14 16M410 145l-1 9M100 108l2 14M898 550l18 8M739 406l-17 2M289 597l10 4M1666 99l8 13M1613 718l-6 1M1393 748l-15 11M202 893l21 3M1488 997l12 19M547 734l13 6M1662 793l4 15M116 951l2 11M1338 182l14 2M100 63l12 13M282 769l15 7M1589 411l5 4M1485 758l17 7M837 89l-5 13M1090 641l-19 7M18 540l13 5M981 406l-2 4M219 492l21 10M1061 521l-4 0M732 218l17 2M466 861l14 16M204 680l7 7M1584 116l7 0M663 182l3 8M815 468l-14 4M1558 148l-3 4M671 966l10 11M1412 950l5 21M762 297l-12 7M85 291l0 11M74 471l5 2M611 736l4 3M1033 528l-9 5M1464 964l-10 18M1652 459l-5 6M1217 140l11 4M1257 800l13 18M1483 715l-3 12M195 665l-6 19M633 395l-2 8M571 65l1 8M238 942l1 6M273 698l-16 14M105 875l0 8M59 748l-19 1M379 9l-2 8M1145 87l-10 17M1103 524l-6 1M1268 721l-3 17M1608 95l-5 6M7 705l5 1M856 763l-5 4M1665 925l-21 2M902 149l-13 18M399 803l-17 9M1146 272l6 3M1225 420l-3 1M1104 26l-8 10M1640 387l3 18M184 846l11 1M125 495l-21 7M1175 29l17 15M1257 857l-1 11M1689 183l-8 19M1198 361l-14 5M1407 879l9 6M1267 841l18 4M790 427l-13 18M1176 672l6 16" stroke="#0707a0" stroke-width="46.0" stroke-linecap="round" fill="none" opacity="0.95"/>
<path transform="translate(311 210) scale(.1)" d="M365 34l7 6M1635 39l1 6M700 804l1 10M167 53l-3 1M1617 148l0 6M584 569l0 4M336 933l10 17M1595 803l-4 18M10 600l10 4M856 312l-3 1M412 452l17 10M772 652l-9 2M412 866l-3 6M618 421l-22 9M670 220l-13 4M950 71l-4 12M53 893l-23 3M150 370l-3 11M1172 776l-6 2M1254 399l2 9M366 651l-3 1M414 59l-1 4M799 903l-7 12M1091 466l15 6M510 892l13 7M1273 828l-5 22M565 976l18 12M1643 158l-11 2M1640 916l-18 9M1521 869l10 4M1130 966l1 3M1229 135l-4 5M1227 620l-1 22M1656 181l-1 5M95 406l18 1M618 98l-12 1M838 604l-17 3M1442 984l-13 1M1444 879l7 17M1456 573l1 14M493 55l-17 8M939 965l2 21M1168 841l10 0M1219 486l18 0M1411 316l4 6M33 34l-19 11M1652 915l3 16M558 987l-1 5M195 150l3 4M726 103l-14 18M1121 194l-4 1M1224 182l-6 18M124 477l-4 5M514 476l-2 19M778 700l3 8M1289 391l3 9M860 434l-4 8M410 758l2 3M934 384l-12 5M830 235l-8 6M1074 34l-10 11M874 274l3 3M409 191l8 4M369 121l1 12M322 181l-23 2M1644 965l4 4M917 762l5 7M593 714l-8 16M930 290l10 2M505 25l-11 18M190 665l5 1M304 944l2 6M467 69l-8 17M991 97l-10 7M359 741l12 16M650 968l-2 4M988 752l-18 5M618 738l-4 1M1127 185l7 1M526 350l-3 4M385 345l12 3M1696 135l-8 2M1607 879l8 13M168 97l8 6M810 423l8 0M133 484l4 13M112 52l-19 1M1260 977l-13 9M900 919l-15 2M1423 309l1 9M296 920l-2 4M1519 489l6 2M71 28l-19 7M51 95l-6 16M1178 618l3 9M308 960l-1 6M1461 706l5 0M340 399l8 16M672 157l0 3M630 65l17 14M78 422l11 0M859 29l7 18M10 723l-12 9M61 840l5 3M859 970l-21 6M429 503l12 5M634 394l-14 15M1170 215l15 7M735 156l18 9M1127 538l-5 6M82 679l19 14M1666 974l-17 6M621 635l-3 1M1527 795l14 14M496 510l-6 2M1280 464l19 3M1655 29l10 13M249 383l-3 4M925 53l22 7M838 739l0 6M1535 855l2 3M297 643l7 7M898 35l-14 12M328 223l4 12M910 101l2 5M651 264l9 10M167 157l-1 8M1612 462l3 20M138 864l2 8M437 474l3 1M1096 720l-5 1M204 912l-3 7M632 385l4 16M597 681l4 17M469 695l-5 6M81 848l-2 7M268 6l-2 9M196 270l2 4M779 905l0 7M899 419l-6 12M1188 148l1 3M998 613l-2 9M525 856l-3 1M879 710l-12 4M1518 561l19 10M1435 954l-4 12M229 460l-7 5M991 969l9 6M990 107l17 3M225 712l-23 0" stroke="#0d0de0" stroke-width="44.0" stroke-linecap="round" fill="none" opacity="0.95"/>
<path transform="translate(312 209) scale(.1)" d="M330 378l-6 1M1100 592l10 3M478 319l1 4M1639 237l-6 7M828 322l-4 17M595 264l3 4M138 636l-1 7M1479 906l22 7M542 929l-7 17M878 186l1 6M1426 29l6 4M91 692l10 21M131 840l2 3M317 633l-5 8M510 528l-3 8M1556 992l-4 2M585 938l5 1M1620 44l-5 22M1645 582l-7 2M966 257l19 12M293 421l22 4M1605 53l14 13M26 836l7 7M1577 335l14 2M678 263l-21 8M1591 214l-2 10M261 842l-3 7M1367 449l2 3M112 53l-6 2M1500 690l-2 8M784 188l3 6M191 904l-3 7M977 107l7 12M1547 148l2 17M1195 783l-3 20M115 719l-8 7M582 938l-2 19M672 851l7 9M252 726l-9 10M757 750l2 7M960 468l-2 20M284 820l20 8M460 62l-21 5M318 795l2 5M970 397l-16 13M519 681l2 7M175 118l17 11M338 821l-7 9M434 149l-6 4M459 684l15 14M733 166l20 3M1028 473l12 1M1714 935l12 12M1491 355l2 19M1073 821l-17 0M1684 953l-15 2M1256 493l-3 4M999 956l-3 1M1596 391l-3 5M131 182l-6 3M609 41l10 6M1554 259l-20 1M714 434l14 3M759 955l12 20M118 142l5 12M1137 198l-20 3M57 90l2 4M1245 865l10 13M3 67l-16 15M1315 535l5 10M534 609l-23 5M1237 97l0 16M683 412l-9 15M693 189l5 3M1585 870l6 0M1688 647l1 18M230 953l10 19M29 878l-2 6M196 975l2 12M892 274l-2 9M1376 532l3 14M1677 795l-5 3M983 815l-11 2M111 471l-6 5M1340 611l-6 6M792 609l14 6M255 912l14 2M169 868l-8 12M1436 172l-14 4M1301 403l-3 3M875 583l14 8M875 164l-8 1M1137 324l-3 3M39 738l0 3M1023 164l-18 9M1200 257l-5 16M1348 242l3 6M972 813l-9 15M1608 68l-2 5M387 318l7 1M97 29l-5 6M839 845l-10 3M260 133l3 2M1046 26l4 2M777 351l-19 7M1641 873l-18 11M1276 643l5 7M1605 377l1 3M820 411l-1 9M1504 533l10 11M1178 981l15 5M1291 818l-9 13M506 423l1 5M1240 82l-2 7M907 12l-9 10M1048 227l-4 9M260 622l3 8M548 565l-2 12M314 752l-15 12M650 404l8 4M480 800l-14 6M617 879l-13 17M1189 328l13 1M340 38l-9 3M210 478l-22 6M1335 552l23 2M30 35l8 2M470 628l-4 0M676 468l-7 5M741 64l-4 3M894 913l1 22M456 505l-6 2M1021 518l-9 5M702 6l-23 0M843 673l11 10M576 542l20 8M1484 56l3 8M707 819l-10 16M1325 59l-17 5M960 233l-1 7M1087 347l-10 22M288 292l9 7M70 553l7 1M205 331l-7 15M824 801l8 4M1041 278l7 1M1659 27l-5 23M1505 606l6 0M967 484l-16 16M1330 668l-12 3" stroke="#1c20ff" stroke-width="38.0" stroke-linecap="round" fill="none" opacity="0.95"/>
<path transform="translate(312 209) scale(.1)" d="M1282 638h0M795 908h0M324 790h0M1364 177h0M261 907h0M1092 725h0M554 992h0M972 252h0M1457 711h0M987 102h0M845 840h0M74 438h0M1376 494h0M1648 920h0M36 30h0M816 422h0M370 780h0M1283 795h0M1489 815h0M732 287h0M6 728h0M164 102h0M163 58h0M957 408h0M300 949h0M668 717h0M729 200h0M841 463h0M1123 190h0M1171 82h0M323 628h0M647 269h0M79 653h0M1683 790h0M1321 530h0M656 399h0M1678 454h0M560 78h0M1610 111h0M836 167h0M492 515h0M436 140h0M819 837h0M1615 406h0M790 183h0M1087 516h0M1047 273h0M47 100h0M1194 592h0M1184 976h0M668 162h0M849 668h0M510 481h0M129 489h0M1710 777h0M1614 63h0M1432 24h0M708 1h0M503 389h0M264 937h0M1584 143h0M601 259h0M1485 901h0M1688 788h0M410 412h0M324 228h0M1087 114h0M1123 543h0M365 126h0M1517 874h0M292 925h0M191 155h0M1166 220h0M1206 252h0M1243 92h0M228 888h0M1052 21h0M1129 519h0M881 159h0M1346 606h0M913 767h0M774 705h0M775 910h0M1433 874h0M1246 77h0M1692 94h0M318 186h0M126 103h0M346 33h0M521 861h0M299 416h0M1223 625h0M1562 987h0M1654 363h0M211 326h0M117 466h0M1214 794h0M1269 833h0M1440 884h0M124 137h0M6 605h0M1690 948h0M77 853h0M751 731h0M623 874h0M137 835h0M1172 267h0M466 57h0M1294 716h0M293 648h0M946 76h0M879 297h0M332 938h0M308 764h0M146 375h0M35 873h0M597 60h0M1293 836h0M906 106h0M768 657h0M400 847h0M1243 135h0M120 482h0M200 917h0M1666 382h0M45 733h0M1691 920h0M913 7h0M588 933h0M617 640h0M987 974h0M408 871h0M722 108h0M765 950h0M740 466h0M1087 471h0M678 846h0M898 269h0M783 346h0M144 631h0M299 693h0M1034 468h0M1640 970h0M197 899h0M9 62h0M192 275h0M163 162h0M697 961h0M406 763h0M496 983h0" stroke="#4a64ff" stroke-width="20.0" stroke-linecap="round" fill="none" opacity="0.8"/>
<path transform="translate(333 211) scale(.1)" d="M1111 165h0M1165 524h0M163 32h0M1223 949h0M178 404h0M1492 270h0M247 9h0M1025 701h0M852 606h0M1461 785h0M964 449h0M529 828h0M309 40h0M304 138h0M423 338h0M506 854h0M400 8h0M371 321h0M166 281h0M174 290h0M337 627h0M2 874h0M646 701h0M314 698h0M1243 380h0M838 542h0" stroke="#010108" stroke-width="75.0" stroke-linecap="round" fill="none" opacity="0.85"/>
</g>
<g filter="url(#bl0)">
<path transform="translate(312 209) scale(.1)" d="M592 224h0M990 308h0M218 337h0M1130 118h0M382 114h0M923 512h0M1149 665h0M317 366h0M448 408h0M330 936h0M376 120h0M1712 647h0M1114 259h0M222 430h0M1414 193h0M1244 390h0M102 913h0M698 804h0M490 9h0M408 347h0M288 446h0M811 410h0M1110 862h0M1032 719h0M946 515h0M456 314h0M1031 501h0M511 702h0M1396 189h0M381 176h0M398 444h0M323 175h0M918 613h0M870 471h0M848 969h0M1528 271h0M16 802h0M347 89h0M1713 628h0M544 629h0M807 12h0M422 138h0M725 59h0M441 210h0M1254 336h0M949 452h0M1115 869h0M770 784h0M1445 642h0M819 727h0M1455 413h0M1719 36h0M1053 694h0M1299 318h0M1039 88h0M452 572h0M1686 546h0M318 394h0M571 145h0M767 175h0M1614 877h0M1610 284h0M1098 855h0M1465 20h0M544 980h0M1272 127h0M1321 921h0M557 892h0M657 22h0M752 256h0M910 943h0M983 21h0M24 479h0M1010 686h0M63 692h0M1220 479h0M32 63h0M182 665h0M77 762h0M1676 56h0M461 794h0M164 675h0M600 582h0M212 719h0M1073 23h0M1518 330h0M1471 210h0M1301 388h0M1288 654h0M303 560h0M1403 264h0M306 62h0M1615 770h0M669 795h0M1439 672h0M623 618h0M484 874h0M1111 610h0M533 25h0M671 397h0M59 924h0M1015 959h0M897 792h0M211 256h0M1091 539h0M528 478h0M1278 940h0M16 312h0M344 102h0M1584 371h0M1101 880h0M378 489h0M472 865h0M1006 272h0M1238 569h0M1050 436h0M554 979h0M1405 41h0M85 374h0M263 212h0M127 254h0M968 773h0M1416 891h0M439 124h0M188 346h0M665 516h0M976 417h0M272 767h0M529 225h0M73 933h0M771 886h0M628 382h0M137 449h0M1530 786h0M1390 49h0M1038 259h0M1338 597h0M870 579h0M805 79h0M795 749h0M1565 742h0M787 242h0M1667 112h0M66 453h0M1040 11h0M1083 574h0M238 998h0M1 159h0M591 568h0M1586 381h0M228 958h0M233 300h0M1673 743h0M36 227h0M414 168h0M1232 660h0M866 87h0M1219 825h0M1473 876h0M1411 378h0M112 295h0M925 73h0M1340 271h0M85 36h0M263 269h0M569 876h0M1664 254h0M997 553h0M1325 267h0M1114 132h0M1553 261h0M153 16h0M32 244h0M196 416h0M1660 774h0M604 184h0M570 637h0M1609 915h0M272 500h0M1466 963h0M641 311h0M1313 272h0M208 278h0M1319 679h0M1718 599h0M321 787h0M287 268h0M1263 854h0M1272 614h0M507 318h0M263 91h0M1616 684h0M1363 925h0M1511 49h0M125 973h0M1539 474h0M646 804h0M109 144h0M1160 938h0M1323 820h0M287 188h0M326 179h0M492 346h0M260 295h0M1616 604h0M104 709h0M664 844h0M571 682h0M1620 25h0M99 751h0M637 840h0M1331 790h0M1147 163h0M941 263h0M947 957h0M1062 995h0M851 427h0M457 342h0M1518 174h0M608 151h0M852 337h0M667 966h0M74 607h0M1234 700h0M522 676h0M979 609h0M510 721h0M1433 205h0M1233 912h0M548 647h0M4 409h0M232 900h0M481 788h0M594 993h0M1348 849h0M314 530h0M851 954h0M1431 627h0M825 829h0M185 293h0M795 813h0M1677 904h0M451 789h0M434 103h0M1668 458h0M586 754h0M1469 149h0M367 814h0M809 33h0M588 23h0M1160 884h0M1264 841h0M1351 755h0M1042 987h0M1489 384h0M364 690h0M1414 529h0M1018 408h0M105 922h0M98 710h0" stroke="#d81424" stroke-width="11.0" stroke-linecap="round" fill="none" opacity="0.9"/>
<path transform="translate(312 211) scale(.1)" d="M1176 325l-9 4M4 970l8 2M861 777l-2 6M808 652l2 4M894 256l4 3M1555 639l-12 0M77 443l6 7M1638 465l-4 6M1551 648l7 5M1350 7l4 12M1393 214l-7 6M1708 960l-5 10M1115 119l-3 1M772 8l-6 9M368 778l-11 3M173 977l-2 16M1620 768l-6 14M1280 763l13 3M66 182l8 2M674 348l2 7M1174 712l-1 11M2 115l7 3M1074 552l2 7M360 623l1 14M843 300l2 4M490 132l6 5M764 330l-3 3M13 974l1 14M965 964l-1 4M103 694l6 1M1302 743l5 2M424 768l4 7M1279 212l2 1M788 320l9 10M283 110l2 1M233 840l4 6M63 854l-2 1M623 137l10 6M1069 665l1 15M1019 225l7 10M1140 690l-7 4M210 874l2 5M1687 259l-3 13M294 813l9 1M1646 975l-6 10M1624 158l2 3M1662 299l-7 8M429 263l3 1M1166 586l1 6M1238 463l-2 5M544 603l2 1M471 960l-14 0M856 973l-1 2M1025 726l-2 8M573 3l9 3M433 823l10 0M1132 22l7 0M171 51l3 9M1310 773l-3 0M1014 315l-4 1M224 628l2 10M1250 938l-7 6M710 46l5 7M694 679l-12 1M213 313l-4 5M115 58l15 6M871 700l-6 11M1126 614l-6 5M1698 846l-1 9M910 723l4 9M1259 11l-1 2M157 145l6 10M1354 111l-1 15M972 510l-6 4M872 856l7 3M224 611l-14 1M766 137l-3 0M880 913l10 4M1170 538l16 2M1259 782l1 2M1401 946l1 4M814 195l3 13M1078 629l0 4M1680 749l-12 3M1572 829l-5 12M259 620l0 3M1541 255l-9 7M291 267l9 7M1 513l6 1M1469 776l0 4M465 165l1 11M652 523l0 3M314 369l9 1M545 317l3 1M601 343l-3 16M946 664l5 8M1486 294l2 4M1247 471l-3 4M952 429l12 4M320 888l4 2" stroke="#1fd848" stroke-width="27.0" stroke-linecap="round" fill="none" opacity="0.92"/>
<path transform="translate(307 210) scale(.1)" d="M1259 346h0M66 975h0M888 784h0M876 673h0M940 275h0M1587 638h0M123 446h0M1690 471h0M1601 647h0M1407 10h0M1423 234h0M1736 958h0M1143 134h0M823 5h0M395 760h0M182 987h0M1644 782h0M1331 779h0M137 196h0M717 361h0M1225 694h0M5 122h0M1109 574h0M409 643h0M861 302h0M521 145h0M790 349h0M47 981h0M1006 977h0M165 716h0M1362 759h0M474 773h0M1345 199h0M850 320h0M328 139h0M296 853h0M100 884h0M663 145h0M1109 701h0M1089 220h0M1215 670h0M257 893h0M1726 266h0M368 832h0M1675 1019h0M1690 171h0M1727 320h0M465 238h0M1227 599h0M1274 463h0M596 611h0M513 987h0M910 999h0M1067 718h0M608 14h0M484 856h0M1190 49h0M225 101h0M1342 765h0M1086 332h0M267 619h0M1307 974h0M737 70h0M744 714h0M251 323h0M161 90h0" stroke="#ff2838" stroke-width="19.0" stroke-linecap="round" fill="none" opacity="0.95"/>
<path transform="translate(311 212) scale(.1)" d="M1173 317h0M17 956h0M865 765h0M815 650h0M898 239h0M1567 635h0M86 442h0M1641 454h0M1557 633h0M1371 6h0M1402 198h0M1724 954h0M1117 110h0M786 13h0M393 758h0M179 969h0M1641 758h0M1282 741h0M72 179h0M680 343h0M1193 712h0M8 106h0M1086 541h0M372 594h0M858 288h0M505 128h0M779 324h0M18 970h0M979 959h0M108 685h0M1320 740h0M450 767h0M1295 215h0M793 318h0M296 91h0M255 829h0M71 841h0M632 126h0M1065 654h0M1032 212h0M1153 683h0M225 859h0" stroke="#f0fff4" stroke-width="23.0" stroke-linecap="round" fill="none" opacity="0.95"/>
<path transform="translate(323 211) scale(.1)" d="M1585 270h0M181 814h0M1540 975h0M1528 162h0M1547 309h0M314 254h0M1059 585h0M1124 460h0M443 601h0M356 959h0M736 996h0M901 738h0M467 1h0M323 816h0M1026 22h0M57 61h0M1209 774h0M908 337h0M118 627h0M1137 939h0M607 41h0M592 677h0M103 311h0M2 56h0M749 694h0M1017 615h0M1591 858h0M783 725h0M1157 17h0M47 142h0M1247 113h0M861 527h0M765 857h0M107 613h0M660 137h0M781 927h0M1060 538h0M1156 777h0M1300 942h0M704 187h0M972 630h0M1578 752h0" stroke="#38e0e8" stroke-width="17.0" stroke-linecap="round" fill="none" opacity="0.9"/>
<g filter="url(#bl1)" opacity="0.9">
<ellipse cx="364.5" cy="294.3" rx="2.2" ry="2.1" fill="#2040ff" fill-opacity="0.5" stroke="#a8f8d8" stroke-width="1.1" transform="rotate(31 364.5 294.3)"/>
<ellipse cx="347.6" cy="303.1" rx="2.5" ry="2.1" fill="#2040ff" fill-opacity="0.5" stroke="#5fe89a" stroke-width="1.2" transform="rotate(104 347.6 303.1)"/>
<ellipse cx="328.2" cy="293.4" rx="2.3" ry="2.1" fill="#2040ff" fill-opacity="0.5" stroke="#d8fff0" stroke-width="1.3" transform="rotate(131 328.2 293.4)"/>
<ellipse cx="377.0" cy="225.9" rx="2.6" ry="2.0" fill="#2040ff" fill-opacity="0.5" stroke="#7adcf8" stroke-width="0.9" transform="rotate(149 377.0 225.9)"/>
<ellipse cx="397.4" cy="266.3" rx="2.1" ry="2.1" fill="#2040ff" fill-opacity="0.5" stroke="#58e080" stroke-width="1.3" transform="rotate(141 397.4 266.3)"/>
<ellipse cx="352.6" cy="272.2" rx="2.1" ry="1.7" fill="#2040ff" fill-opacity="0.5" stroke="#a8f8d8" stroke-width="1.2" transform="rotate(1 352.6 272.2)"/>
<ellipse cx="425.3" cy="299.0" rx="2.6" ry="2.1" fill="#2040ff" fill-opacity="0.5" stroke="#5fe89a" stroke-width="1.2" transform="rotate(76 425.3 299.0)"/>
<ellipse cx="383.8" cy="262.9" rx="2.5" ry="2.5" fill="#2040ff" fill-opacity="0.5" stroke="#d8fff0" stroke-width="1.1" transform="rotate(143 383.8 262.9)"/>
<ellipse cx="384.1" cy="284.5" rx="2.8" ry="2.2" fill="#2040ff" fill-opacity="0.5" stroke="#7adcf8" stroke-width="1.2" transform="rotate(0 384.1 284.5)"/>
<ellipse cx="426.2" cy="216.1" rx="2.8" ry="2.0" fill="#2040ff" fill-opacity="0.5" stroke="#58e080" stroke-width="1.1" transform="rotate(39 426.2 216.1)"/>
<ellipse cx="377.2" cy="262.0" rx="2.3" ry="2.3" fill="#2040ff" fill-opacity="0.5" stroke="#a8f8d8" stroke-width="0.8" transform="rotate(131 377.2 262.0)"/>
<ellipse cx="362.1" cy="243.5" rx="2.9" ry="2.3" fill="#2040ff" fill-opacity="0.5" stroke="#5fe89a" stroke-width="1.1" transform="rotate(53 362.1 243.5)"/>
<ellipse cx="474.5" cy="227.1" rx="3.0" ry="1.8" fill="#2040ff" fill-opacity="0.5" stroke="#d8fff0" stroke-width="0.9" transform="rotate(95 474.5 227.1)"/>
<ellipse cx="390.8" cy="252.8" rx="2.5" ry="1.9" fill="#2040ff" fill-opacity="0.5" stroke="#7adcf8" stroke-width="1.1" transform="rotate(113 390.8 252.8)"/>
<ellipse cx="371.7" cy="254.1" rx="2.5" ry="2.0" fill="#2040ff" fill-opacity="0.5" stroke="#58e080" stroke-width="0.9" transform="rotate(50 371.7 254.1)"/>
<ellipse cx="438.8" cy="251.7" rx="2.6" ry="2.3" fill="#2040ff" fill-opacity="0.5" stroke="#d8fff0" stroke-width="1.2" transform="rotate(56 438.8 251.7)"/>
<ellipse cx="424.1" cy="295.7" rx="2.0" ry="1.8" fill="#2040ff" fill-opacity="0.5" stroke="#7adcf8" stroke-width="1.1" transform="rotate(67 424.1 295.7)"/>
<ellipse cx="328.0" cy="303.0" rx="2.0" ry="1.8" fill="#2040ff" fill-opacity="0.5" stroke="#a8f8d8" stroke-width="0.8" transform="rotate(76 328.0 303.0)"/>
<ellipse cx="426.9" cy="264.9" rx="3.1" ry="1.6" fill="#2040ff" fill-opacity="0.5" stroke="#7adcf8" stroke-width="0.8" transform="rotate(65 426.9 264.9)"/>
<ellipse cx="404.5" cy="296.7" rx="3.2" ry="2.3" fill="#2040ff" fill-opacity="0.5" stroke="#58e080" stroke-width="1.3" transform="rotate(20 404.5 296.7)"/>
<ellipse cx="377.4" cy="219.5" rx="3.2" ry="1.9" fill="#2040ff" fill-opacity="0.5" stroke="#a8f8d8" stroke-width="0.9" transform="rotate(113 377.4 219.5)"/>
<ellipse cx="376.4" cy="239.6" rx="3.1" ry="1.8" fill="#2040ff" fill-opacity="0.5" stroke="#5fe89a" stroke-width="0.9" transform="rotate(57 376.4 239.6)"/>
<ellipse cx="359.9" cy="299.2" rx="2.9" ry="2.1" fill="#2040ff" fill-opacity="0.5" stroke="#d8fff0" stroke-width="1.1" transform="rotate(64 359.9 299.2)"/>
<ellipse cx="412.5" cy="295.4" rx="2.7" ry="1.7" fill="#2040ff" fill-opacity="0.5" stroke="#7adcf8" stroke-width="1.3" transform="rotate(73 412.5 295.4)"/>
<ellipse cx="319.6" cy="256.2" rx="2.6" ry="2.1" fill="#2040ff" fill-opacity="0.5" stroke="#58e080" stroke-width="0.9" transform="rotate(111 319.6 256.2)"/>
</g>
</g>
</g>
<rect x="436.40" y="260.70" width="47.60" height="48.20" fill="#010104" stroke="none" stroke-width="0.6" />
<clipPath id="cia"><circle cx="459.8" cy="284.8" r="22.6"/></clipPath>
<g clip-path="url(#cia)">
<circle cx="459.80" cy="284.80" r="22.60" fill="#06140c" stroke="none" stroke-width="0.6" />
<g filter="url(#bl0)">
<ellipse cx="451.3" cy="269.8" rx="7.5" ry="5" fill="#1c1c74" transform="rotate(-20 451.3 269.8)"/>
<ellipse cx="464.8" cy="271.8" rx="9.5" ry="5.2" fill="#3a6a58" transform="rotate(12 464.8 271.8)"/>
<ellipse cx="475.3" cy="279.8" rx="5.6" ry="6.4" fill="#37684a" transform="rotate(30 475.3 279.8)"/>
<ellipse cx="460.3" cy="281.3" rx="11" ry="5.6" fill="#1c1c74" transform="rotate(-8 460.3 281.3)"/>
<ellipse cx="443.8" cy="287.8" rx="5.6" ry="8" fill="#1c1c74" transform="rotate(10 443.8 287.8)"/>
<ellipse cx="477.8" cy="290.3" rx="3.6" ry="6" fill="#37684a" transform="rotate(15 477.8 290.3)"/>
<ellipse cx="454.3" cy="295.3" rx="5.8" ry="7.6" fill="#1c1c74" transform="rotate(-15 454.3 295.3)"/>
<ellipse cx="464.8" cy="295.3" rx="4.6" ry="7.8" fill="#2c4a66" transform="rotate(12 464.8 295.3)"/>
<ellipse cx="447.3" cy="301.3" rx="8" ry="4.4" fill="#1c1c74" transform="rotate(25 447.3 301.3)"/>
<ellipse cx="470.3" cy="302.3" rx="5" ry="4.4" fill="#37684a" transform="rotate(-30 470.3 302.3)"/>
<ellipse cx="477.3" cy="297.8" rx="2.8" ry="5.6" fill="#37684a" transform="rotate(20 477.3 297.8)"/>
<ellipse cx="458.8" cy="304.3" rx="5" ry="3" fill="#1c1c74" transform="rotate(0 458.8 304.3)"/>
</g>
<path transform="translate(437 262) scale(.1)" d="M85 312h0M414 131h0M81 67h0M355 155h0M177 101h0M212 337h0M305 361h0M374 373h0M16 5h0M76 90h0M32 310h0M272 173h0M165 402h0M283 324h0M200 238h0M199 23h0M246 239h0M339 210h0M217 439h0M356 439h0M182 372h0M91 37h0M347 375h0M273 302h0M309 178h0M388 290h0M7 203h0M201 22h0M396 171h0M90 450h0M240 285h0M180 345h0M403 347h0M296 217h0M161 37h0M165 103h0M321 330h0M57 102h0M62 103h0M210 415h0M227 352h0M423 379h0M69 419h0M60 352h0M273 60h0M368 127h0M365 394h0M284 293h0M126 407h0M411 315h0M75 161h0M329 168h0M66 168h0M438 237h0M188 299h0M205 297h0M184 346h0M29 120h0M434 396h0M231 39h0M366 236h0M12 358h0M380 66h0M252 224h0M214 271h0M17 76h0M295 31h0M169 274h0M263 56h0M50 283h0M268 408h0M9 318h0M433 103h0M156 371h0M444 357h0M340 309h0M350 378h0M35 436h0M41 313h0M164 254h0M288 411h0M407 27h0M240 92h0M113 408h0M360 258h0M353 308h0M11 389h0M418 111h0M201 150h0M94 100h0" stroke="#5a9a64" stroke-width="8.0" stroke-linecap="round" fill="none" opacity="0.7"/>
<path transform="translate(437 262) scale(.1)" d="M77 205h0M180 369h0M254 7h0M271 229h0M158 289h0M412 4h0M85 282h0M172 192h0M346 112h0M3 338h0M440 355h0M300 131h0M435 20h0M191 296h0M28 409h0M446 120h0M306 138h0M231 279h0M188 154h0M304 323h0M359 329h0M360 99h0M161 60h0M436 330h0M199 267h0M152 26h0M170 82h0M264 212h0M406 297h0M8 256h0M149 129h0M276 382h0M375 74h0M94 14h0M267 198h0M146 53h0M296 159h0M312 74h0M360 285h0M240 222h0M373 249h0M60 239h0M447 152h0M208 284h0M134 140h0M155 316h0M153 447h0M17 91h0M218 383h0M186 254h0M25 135h0M390 52h0M341 29h0M262 440h0M65 160h0M108 304h0M328 253h0M77 447h0M435 172h0M421 152h0M180 279h0M354 422h0M102 347h0M136 76h0M176 243h0M322 216h0M276 159h0M310 63h0M385 229h0M442 149h0M96 189h0M425 354h0M435 133h0M290 220h0M55 354h0M266 155h0M7 181h0M201 407h0M337 179h0M96 256h0" stroke="#3a3ab0" stroke-width="9.0" stroke-linecap="round" fill="none" opacity="0.7"/>
<path transform="translate(437 263) scale(.1)" d="M198 335h0M184 421h0M38 14h0M279 137h0M241 387h0M152 230h0M84 44h0M318 56h0M109 60h0M252 164h0M9 134h0M414 183h0M432 178h0M252 209h0M379 76h0M22 296h0M15 283h0M401 135h0M169 112h0M26 198h0M196 364h0M303 6h0M206 115h0M358 221h0M249 377h0M32 397h0M296 44h0M262 82h0M262 248h0M119 401h0M101 238h0M278 185h0M383 155h0M359 368h0M141 103h0M2 153h0M202 367h0M271 313h0M98 71h0M340 144h0M408 296h0M152 21h0M276 183h0M197 279h0M5 259h0" stroke="#a04058" stroke-width="7.0" stroke-linecap="round" fill="none" opacity="0.7"/>
<path transform="translate(439 262) scale(.1)" d="M322 389h0M280 372h0M26 93h0M338 334h0M395 332h0M314 116h0M129 88h0M92 168h0M124 237h0M148 90h0M429 137h0M45 218h0M14 14h0M174 71h0M235 295h0M60 325h0M315 71h0M409 351h0M269 420h0M311 415h0M261 191h0M18 70h0M278 192h0M391 81h0M3 248h0M234 245h0M41 153h0M71 409h0M167 267h0M407 367h0M242 8h0M231 24h0M174 348h0M383 65h0M251 341h0M225 189h0M94 409h0M298 269h0M57 350h0M381 402h0M385 432h0M350 84h0M93 54h0M318 207h0M133 129h0" stroke="#020208" stroke-width="10.0" stroke-linecap="round" fill="none" opacity="0.6"/>
<circle cx="459.8" cy="284.8" r="22.0" fill="none" stroke="#2c6a3c" stroke-width="1" opacity="0.7"/>
</g>
<path d="M436.4 308.9 V260.7 H484" fill="none" stroke="#eee" stroke-width="0.8" stroke-dasharray="2 1.3"/>
<rect x="441.80" y="283.20" width="3.20" height="2.20" fill="none" stroke="#c8c8e0" stroke-width="0.4" />
<line x1="312.90" y1="208.10" x2="315.90" y2="208.10" stroke="#fff" stroke-width="0.8" />
<line x1="370.70" y1="208.10" x2="373.70" y2="208.10" stroke="#fff" stroke-width="0.8" />
<line x1="427.20" y1="208.10" x2="430.20" y2="208.10" stroke="#fff" stroke-width="0.8" />
<line x1="313.20" y1="306.90" x2="316.70" y2="306.90" stroke="#fff" stroke-width="0.9" />
<line x1="437.60" y1="307.30" x2="440.00" y2="307.30" stroke="#fff" stroke-width="0.6" />
<text x="315.70" y="185.00" font-size="8.2" fill="#3a7cf0" text-anchor="start" font-weight="bold" >DAPI</text>
<text x="373.50" y="185.00" font-size="8.2" fill="#22c83c" text-anchor="start" font-weight="bold" >KCNMA1</text>
<text x="432.00" y="185.00" font-size="8.2" fill="#e8202c" text-anchor="start" font-weight="bold" >SYNE1</text>
<text x="315.7" y="219.4" font-size="8.2" font-weight="bold"><tspan fill="#2d6ae8">M</tspan><tspan fill="#30c040">e</tspan><tspan fill="#90d860">r</tspan><tspan fill="#e8202c">ge</tspan></text>
<text x="578.40" y="168.00" font-size="7.8" fill="#111" text-anchor="middle" font-weight="bold" >TH</text>
<line x1="489.40" y1="171.60" x2="660.20" y2="171.60" stroke="#222" stroke-width="0.6" />
<clipPath id="clb"><rect x="489.4" y="176" width="171.60000000000002" height="132.89999999999998"/></clipPath>
<clipPath id="cmb"><rect x="489.4" y="209.3" width="171.60000000000002" height="99.59999999999997"/></clipPath>
<g clip-path="url(#clb)">
<rect x="489.40" y="176.00" width="171.60" height="132.90" fill="#010108" stroke="none" stroke-width="0.6" />
<rect x="489.40" y="176.00" width="56.90" height="33.30" fill="#040444" stroke="none" stroke-width="0.6" />
<g filter="url(#bl0)">
<path transform="translate(489 176) scale(.1)" d="M60 152h0M347 223h0M147 242h0M289 73h0M106 267h0M175 168h0M490 55h0M457 40h0M237 35h0M116 296h0M57 331h0M524 79h0M140 153h0M333 147h0M217 286h0M175 130h0M106 173h0M557 173h0M383 207h0M286 101h0M296 86h0M117 152h0M16 10h0M302 122h0M134 11h0M169 264h0M283 267h0M147 10h0M347 193h0M214 100h0M522 233h0M465 257h0M560 151h0M197 32h0M139 245h0M329 97h0M450 231h0M210 84h0M46 206h0M5 191h0M41 147h0M387 2h0M123 211h0M493 197h0M428 99h0M524 251h0M91 153h0M513 145h0M325 333h0M528 33h0M207 140h0M184 270h0M386 149h0M322 288h0M392 160h0M362 168h0M147 325h0M426 325h0M542 258h0M330 17h0M465 173h0M198 183h0M289 164h0M183 316h0M392 12h0M59 275h0M561 133h0M175 210h0M176 117h0M550 297h0M132 163h0M572 122h0M41 25h0M527 134h0M77 7h0M194 323h0M146 299h0M26 307h0M398 290h0M160 203h0M472 311h0M560 270h0M556 314h0M562 319h0M193 90h0M105 16h0M525 241h0M173 100h0M20 314h0M519 37h0M309 126h0M325 132h0M248 230h0M195 207h0M350 27h0M166 126h0M105 44h0M443 120h0M206 161h0M422 184h0M310 98h0M339 109h0M411 124h0M411 324h0M427 24h0M170 142h0M273 311h0M123 25h0M13 206h0M374 81h0M448 59h0M103 239h0M31 205h0M188 100h0M66 165h0M162 81h0M87 313h0M299 310h0M444 65h0M258 134h0M181 299h0M308 181h0M205 106h0M450 179h0M544 230h0M408 285h0M307 229h0M254 315h0M411 286h0M499 67h0M175 75h0M257 218h0M535 227h0M443 328h0M363 191h0M487 301h0M146 42h0M455 288h0M310 61h0M383 5h0M62 134h0M444 27h0M566 263h0M504 238h0M371 144h0M144 47h0M546 215h0M64 269h0M452 88h0M265 234h0M202 157h0M484 54h0M137 138h0M498 298h0M183 226h0M199 315h0M202 187h0M229 204h0M272 91h0M476 322h0M435 17h0M520 69h0M453 156h0M238 72h0M442 222h0M490 163h0M301 15h0M29 323h0M549 78h0M163 119h0M245 266h0M229 204h0M162 264h0M491 114h0M309 313h0M443 217h0M366 161h0M282 40h0M27 260h0M192 317h0M550 135h0M411 131h0M73 140h0M67 94h0M476 124h0M234 178h0M552 119h0M385 279h0M219 176h0M141 166h0M197 159h0M243 309h0M242 227h0M48 83h0M326 161h0M553 24h0M308 300h0M159 152h0M433 34h0M187 106h0M384 232h0M141 101h0M236 219h0M469 114h0M50 15h0M534 51h0M518 308h0M49 310h0M553 164h0M385 152h0M527 12h0M526 323h0M43 69h0M333 303h0M376 203h0M141 235h0M142 157h0M62 168h0M85 127h0M336 254h0M319 73h0M550 295h0M529 258h0M111 121h0M82 296h0M12 143h0M466 5h0M31 308h0M370 235h0M107 102h0M542 61h0M143 188h0M509 68h0M346 289h0M532 104h0M115 151h0M177 27h0M118 155h0M326 166h0M228 84h0M501 251h0M504 255h0M60 295h0M263 110h0M490 330h0M506 28h0M398 125h0M545 47h0M313 162h0M418 76h0M120 250h0M111 82h0M334 36h0M440 20h0M389 295h0M462 288h0M352 270h0M108 223h0M92 109h0M152 309h0M197 232h0M90 252h0M46 265h0M431 222h0M546 256h0M481 41h0M319 157h0M417 12h0M387 46h0M94 30h0M262 149h0M352 31h0M451 37h0M321 153h0M70 165h0M447 69h0M514 244h0M548 79h0M277 3h0M234 232h0M175 28h0M125 46h0M183 267h0M527 33h0M416 59h0M548 126h0M324 327h0M115 72h0M206 273h0M83 145h0M148 127h0M225 5h0M248 265h0M324 204h0M461 281h0M175 173h0M456 247h0M31 71h0M82 316h0M168 17h0M141 86h0M568 112h0M234 62h0M157 138h0M303 116h0M298 228h0M334 136h0M236 212h0M132 157h0M552 261h0M331 289h0M99 310h0M221 194h0M90 11h0M230 279h0M388 322h0M124 71h0M206 314h0M525 271h0M236 96h0M141 234h0M70 12h0M484 322h0M499 329h0M389 110h0M319 303h0M249 96h0M353 282h0M49 226h0M203 138h0M14 304h0M31 296h0M326 297h0M119 36h0M100 99h0M259 218h0M517 83h0M97 0h0M103 316h0M488 74h0M367 14h0M570 231h0M346 107h0M489 114h0M138 119h0M347 240h0M458 57h0M144 264h0M407 289h0M356 189h0M468 48h0M566 136h0M566 48h0M193 316h0M117 321h0M96 333h0M188 93h0M496 105h0M134 132h0M264 108h0M559 36h0M408 275h0M145 323h0M466 173h0M43 5h0M430 88h0M469 241h0M414 15h0M16 262h0M423 61h0M33 210h0M43 74h0M260 290h0M294 78h0M420 69h0M51 215h0M115 266h0M419 213h0M187 207h0M196 29h0M426 275h0M527 98h0M498 117h0M334 13h0M37 304h0M169 304h0M388 1h0M11 5h0M255 142h0M138 152h0M523 117h0M78 112h0M413 228h0M59 261h0M134 300h0M446 302h0M231 268h0M456 306h0M373 264h0M78 186h0M401 101h0M127 85h0M422 316h0M111 211h0M421 108h0M301 63h0M55 88h0M139 184h0M448 169h0M245 203h0M237 219h0M295 303h0M110 37h0M474 49h0M334 112h0M404 85h0M502 11h0M434 253h0M36 67h0M93 211h0M328 195h0M36 320h0M86 36h0M454 74h0M415 117h0M299 294h0M257 144h0M548 159h0M72 38h0M488 18h0M461 322h0M522 228h0M178 2h0M369 295h0M414 195h0M133 287h0M418 208h0M518 131h0M259 127h0M340 92h0M158 23h0M246 144h0M218 18h0M441 314h0M69 57h0M412 63h0M556 162h0M476 109h0M57 195h0M404 48h0M531 24h0M174 115h0M162 22h0M381 10h0M555 178h0M280 4h0M215 107h0M16 161h0M417 70h0M179 127h0M51 47h0M127 295h0M85 288h0M340 202h0M456 133h0M362 39h0M295 269h0M507 204h0M403 175h0M177 77h0M305 73h0M348 23h0M198 222h0M517 14h0M565 320h0M81 59h0M264 48h0M333 244h0M351 73h0M546 115h0M60 269h0M377 11h0M442 233h0M543 119h0M330 72h0M277 275h0M359 210h0M260 230h0M259 305h0M272 309h0M46 231h0M279 208h0M153 128h0M89 308h0M510 89h0M28 45h0M122 55h0M136 241h0M117 180h0M92 34h0M279 183h0M398 122h0M18 194h0M326 316h0M158 163h0M551 181h0M439 45h0M452 232h0M525 164h0M414 58h0M344 178h0M168 190h0M295 150h0M15 133h0M71 263h0M175 261h0M502 278h0M195 121h0M197 154h0M521 109h0M162 156h0M146 176h0M510 232h0M346 95h0M62 313h0M148 267h0M571 274h0M457 267h0M439 201h0M384 234h0M522 47h0M376 277h0M110 72h0M24 15h0M341 207h0M214 10h0M137 255h0M453 92h0M252 273h0M354 227h0M89 257h0M453 269h0M266 170h0M456 93h0M553 127h0M153 304h0M306 311h0M369 249h0M371 292h0M117 113h0M403 95h0M542 212h0M305 330h0M74 139h0M347 34h0M531 235h0M294 206h0M230 148h0M34 173h0M502 84h0M106 175h0M480 132h0M79 273h0M542 279h0M204 155h0M368 313h0M375 88h0M99 96h0M258 197h0M253 207h0M478 167h0M389 174h0M123 179h0M550 193h0M552 106h0M325 207h0M95 8h0M543 252h0M421 270h0M259 26h0M527 155h0M12 292h0M394 224h0M335 139h0M12 285h0M418 90h0M202 9h0M94 72h0M490 162h0M41 84h0M494 259h0M543 38h0M279 237h0M33 132h0M13 112h0M150 189h0M71 70h0M122 303h0M546 325h0M490 297h0M511 254h0M547 174h0M540 5h0M236 64h0M230 133h0M521 250h0M195 123h0M29 325h0M327 138h0M252 75h0M255 185h0M282 71h0M233 48h0M345 24h0M139 15h0M368 277h0M297 296h0M505 233h0M174 249h0M181 316h0M339 221h0M29 199h0M208 160h0M290 86h0M236 207h0M360 43h0M192 331h0M291 90h0M31 233h0M30 97h0M134 250h0M48 146h0M321 156h0M63 299h0M229 226h0M443 144h0M392 95h0M469 223h0M140 181h0M359 16h0M264 85h0M374 249h0M218 84h0M50 177h0M539 289h0M446 172h0M518 103h0M21 55h0M541 331h0M307 60h0M389 52h0M70 200h0M506 23h0M318 278h0M306 120h0M117 228h0M385 30h0M97 35h0M226 0h0M166 294h0M387 24h0M261 279h0M160 317h0M122 72h0M28 45h0M104 276h0M139 331h0M471 125h0M48 182h0M164 45h0M183 146h0M513 256h0M281 35h0M58 300h0M245 70h0M272 311h0M548 51h0M280 36h0M102 176h0M198 324h0M264 312h0M518 139h0M193 49h0M376 43h0M41 19h0M138 9h0M352 10h0M480 314h0M194 256h0M311 257h0M172 100h0M435 175h0M216 25h0M381 57h0M500 50h0M381 71h0M376 285h0M50 141h0M102 296h0M189 105h0M462 53h0M112 142h0M367 200h0M430 220h0M331 25h0M452 107h0M428 218h0M326 38h0M119 286h0M84 11h0M9 46h0M250 38h0M218 11h0M353 233h0M52 264h0M433 321h0M439 147h0M120 55h0M355 222h0M443 25h0M485 201h0M113 284h0M117 8h0M551 209h0M211 300h0M551 154h0M464 298h0M219 257h0M90 144h0M238 223h0M338 242h0M345 140h0M567 325h0M547 125h0M89 260h0M282 293h0M439 95h0M196 323h0M262 168h0M483 292h0M164 293h0M380 155h0M572 52h0M518 201h0M109 209h0M279 223h0M342 35h0M452 130h0M248 55h0M140 97h0M169 174h0M419 62h0M246 153h0M351 202h0M152 119h0M168 149h0M278 187h0M58 135h0M521 322h0M436 152h0M403 112h0M218 165h0M167 130h0M482 200h0M23 239h0M47 316h0M131 214h0M188 165h0M50 36h0M172 301h0M489 285h0M539 146h0M344 155h0M457 311h0M455 204h0M472 203h0M114 16h0M495 53h0M29 192h0M437 250h0M26 108h0M285 117h0M409 146h0M158 204h0M127 78h0M520 46h0M381 143h0M198 225h0M283 13h0M9 110h0M492 117h0M70 180h0M224 4h0M441 152h0M336 283h0M295 225h0M357 290h0M282 100h0M284 61h0M299 142h0" stroke="#0a0aff" stroke-width="17.0" stroke-linecap="round" fill="none" opacity="0.92"/>
<path transform="translate(489 176) scale(.1)" d="M448 272h0M193 64h0M102 322h0M342 181h0M156 187h0M191 218h0M190 50h0M420 218h0M158 275h0M374 133h0M418 259h0M124 288h0M363 207h0M62 256h0M240 84h0M465 307h0M568 245h0M551 119h0M516 145h0M428 279h0M167 93h0M434 161h0M460 57h0M192 99h0M245 321h0M572 263h0M38 138h0M467 139h0M33 98h0M379 96h0M435 268h0M271 266h0M330 181h0M68 176h0M482 170h0M418 246h0M317 295h0M419 60h0M514 317h0M313 138h0M458 10h0M173 266h0M516 190h0M317 249h0M9 256h0M326 291h0M228 210h0M5 122h0M271 316h0M14 180h0M66 210h0M117 113h0M413 32h0M360 44h0M413 178h0M524 208h0M411 326h0M152 213h0M179 250h0M324 325h0M448 68h0M59 330h0M524 179h0M539 234h0M343 47h0M254 294h0M14 63h0M566 289h0M20 144h0M516 321h0M494 163h0M91 251h0M480 290h0M221 124h0M11 281h0M61 230h0M222 39h0M172 279h0M38 67h0M346 136h0M173 248h0M77 139h0M451 82h0M350 126h0M571 24h0M549 264h0M322 256h0M299 203h0M171 137h0M462 83h0M489 50h0M355 195h0M362 259h0M528 89h0M61 230h0M465 266h0M353 27h0M382 298h0M367 5h0M179 317h0M338 328h0M182 34h0M122 226h0M322 172h0M219 128h0M480 35h0M394 222h0M279 319h0M554 196h0M60 69h0M474 233h0M373 2h0M17 252h0M81 278h0M426 184h0M171 133h0M447 159h0M331 201h0M279 304h0M330 276h0M427 209h0M497 86h0M226 76h0M231 167h0M93 114h0M51 213h0M348 246h0M554 224h0M220 287h0M56 44h0M154 34h0M566 226h0M536 48h0M441 185h0M455 121h0M203 26h0M194 285h0M570 259h0M196 250h0M56 151h0M569 202h0M199 114h0M230 285h0M150 170h0M407 97h0M547 103h0M352 65h0M74 326h0M459 223h0M88 275h0M505 74h0M541 133h0M64 296h0M102 306h0M567 115h0M257 127h0M533 55h0M162 172h0M178 143h0M328 107h0M456 194h0M242 273h0M6 41h0M189 184h0M303 192h0M552 128h0M168 252h0M486 160h0M326 228h0M140 6h0M4 147h0M195 240h0M519 272h0M515 297h0M513 297h0M17 33h0M351 317h0M405 142h0M179 111h0M439 39h0M149 276h0M70 103h0M65 251h0M142 47h0M112 69h0M228 167h0M50 183h0M213 244h0M176 219h0M204 82h0M271 59h0M186 101h0M327 196h0M499 140h0M355 291h0M299 142h0M473 307h0M171 3h0M356 265h0M204 112h0M248 327h0M152 153h0M297 68h0M336 189h0M30 100h0M513 274h0M91 266h0M434 142h0M317 31h0M49 117h0M519 311h0M298 181h0M274 247h0M369 30h0M12 90h0M400 284h0M377 332h0M527 140h0M420 193h0M448 113h0M82 205h0M256 15h0M416 67h0M105 275h0M372 293h0M83 158h0M53 10h0M294 290h0M533 168h0M129 24h0M136 158h0M360 254h0M207 286h0M238 203h0M453 309h0M161 302h0M445 189h0M497 258h0M491 5h0M498 113h0M178 208h0M360 132h0M254 89h0M282 49h0M536 15h0M16 110h0M13 36h0M8 124h0M74 109h0M59 142h0M517 89h0M201 306h0M462 189h0M344 140h0M563 36h0M495 306h0M252 230h0M240 93h0M127 63h0M239 240h0M234 314h0M538 199h0M334 135h0M322 233h0M217 122h0M419 279h0" stroke="#02021c" stroke-width="18.0" stroke-linecap="round" fill="none" opacity="0.8"/>
</g>
<rect x="546.30" y="176.00" width="57.80" height="33.30" fill="#010301" stroke="none" stroke-width="0.6" />
<g filter="url(#bl0)">
<path transform="translate(546 176) scale(.1)" d="M574 122h0M73 204h0M536 323h0M40 58h0M540 193h0M60 305h0M469 100h0M310 278h0M503 111h0M240 256h0M333 81h0M195 71h0M288 182h0M117 1h0M73 47h0M216 143h0M445 181h0M10 18h0M536 119h0M214 310h0M295 146h0M162 15h0M19 100h0M4 226h0M356 183h0M89 10h0M292 214h0M442 218h0M394 141h0M544 38h0M122 92h0M480 274h0M64 139h0M428 95h0M447 184h0M72 33h0M158 138h0M484 152h0M415 297h0M312 24h0M188 309h0M331 113h0M320 277h0M378 204h0M119 50h0M525 319h0M255 98h0M229 305h0M142 66h0M97 275h0M389 281h0M7 112h0M138 56h0M130 141h0M149 200h0M169 52h0M379 127h0M12 272h0M298 227h0M120 305h0" stroke="#22e03a" stroke-width="12.0" stroke-linecap="round" fill="none" opacity="0.95"/>
<path transform="translate(551 183) scale(.1)" d="M215 93h0M374 141h0M326 228h0M173 70h0M215 246h0M122 7h0M241 252h0M5 227h0M355 233h0M285 241h0M47 125h0M343 174h0" stroke="#1cc432" stroke-width="20.0" stroke-linecap="round" fill="none" opacity="0.9"/>
<path transform="translate(548 176) scale(.1)" d="M216 88h0M287 322h0M533 134h0M59 41h0M182 130h0M297 71h0M373 235h0M183 194h0M184 63h0M37 247h0M475 221h0M1 196h0M390 18h0M124 17h0M39 132h0M122 239h0M354 165h0M85 63h0M169 105h0M211 64h0M204 302h0M97 234h0M551 168h0M248 5h0M438 229h0M500 65h0M125 196h0M238 53h0M3 261h0M446 318h0M147 314h0M531 166h0M371 158h0M531 18h0M416 14h0M322 331h0M127 150h0M159 316h0M169 180h0M303 264h0M45 97h0M126 245h0M491 2h0M388 57h0M176 190h0" stroke="#0c5a1c" stroke-width="13.0" stroke-linecap="round" fill="none" opacity="0.8"/>
</g>
<rect x="604.10" y="176.00" width="56.90" height="33.30" fill="#050101" stroke="none" stroke-width="0.6" />
<g filter="url(#bl0)">
<path transform="translate(606 176) scale(.1)" d="M252 95h0M105 328h0M363 322h0M97 332h0M138 234h0M202 326h0M197 259h0M19 64h0M197 81h0M389 266h0M218 181h0M244 228h0M224 63h0M428 287h0M56 4h0M32 172h0M485 47h0M285 182h0M465 175h0M344 104h0M6 111h0M192 118h0M349 211h0M171 91h0M187 210h0M27 190h0M17 50h0M419 238h0M127 279h0M225 132h0M190 22h0M249 100h0M362 206h0M390 134h0M282 292h0M375 167h0M323 270h0M512 218h0M457 202h0M27 19h0M49 132h0M435 235h0M25 281h0M237 71h0M363 302h0M5 48h0M357 170h0M456 222h0M453 132h0M345 81h0M523 17h0M403 172h0M421 43h0M21 100h0M135 264h0M96 261h0M535 226h0M32 210h0M117 145h0M306 320h0" stroke="#c81822" stroke-width="10.0" stroke-linecap="round" fill="none" opacity="0.9"/>
<path transform="translate(608 176) scale(.1)" d="M413 239h0M342 84h0M6 212h0M122 137h0M446 322h0M441 244h0M290 22h0M387 134h0M358 214h0M228 8h0M67 8h0M63 140h0M23 146h0M512 44h0M363 290h0M4 73h0" stroke="#b01018" stroke-width="17.0" stroke-linecap="round" fill="none" opacity="0.85"/>
<path transform="translate(606 176) scale(.1)" d="M545 149h0M211 214h0M105 170h0M143 206h0M385 175h0M39 31h0M233 169h0M240 137h0M155 312h0M95 132h0M146 52h0M117 39h0M460 281h0M497 73h0M282 152h0M349 306h0M344 25h0M187 147h0M386 210h0M67 285h0M104 179h0M55 262h0M261 136h0M238 169h0M400 316h0M544 74h0M302 35h0M180 254h0M281 319h0M16 253h0M168 52h0M468 255h0M66 75h0M531 298h0M116 108h0M438 125h0M345 266h0M21 102h0M448 158h0M437 224h0M377 179h0M299 242h0M367 69h0M205 1h0M353 315h0M437 42h0M495 164h0M308 40h0M220 236h0M326 304h0M312 297h0M251 167h0M104 109h0M24 322h0M278 34h0M2 30h0M302 213h0M427 271h0M114 24h0M488 1h0M32 280h0M228 269h0M301 126h0M524 111h0M133 157h0M518 2h0M305 328h0M35 31h0M294 207h0M313 188h0" stroke="#4a080c" stroke-width="15.0" stroke-linecap="round" fill="none" opacity="0.8"/>
</g>
</g>
<g clip-path="url(#cmb)">
<rect x="489.40" y="209.30" width="171.60" height="99.60" fill="#05054a" stroke="none" stroke-width="0.6" />
<g filter="url(#bl1)">
<path transform="translate(489 209) scale(.1)" d="M1614 741l2 3M456 709l6 5M1014 585l-10 14M502 830l-18 5M912 749l9 6M609 76l-1 8M1623 185l1 14M997 847l-15 6M1511 317l-2 3M1211 238l18 6M1527 545l-1 19M1315 202l11 7M1638 596l4 9M1698 334l-15 4M1463 285l1 5M801 391l-3 6M1507 528l2 4M220 544l16 13M1669 53l16 1M1118 419l-20 11M1268 99l-8 11M1184 556l2 2M1022 866l7 12M1335 602l-1 15M684 613l4 8M1339 629l17 1M400 410l-15 2M1256 409l6 3M1007 961l-2 4M48 903l17 1M692 416l7 7M242 676l6 10M634 546l3 10M134 858l12 5M789 820l-18 15M252 782l-1 9M1023 563l-3 2M1583 342l5 7M1029 350l-20 0M118 769l-14 8M322 557l-13 18M631 834l5 6M1043 467l-12 14M1170 19l4 4M89 137l10 9M202 880l-15 13M374 836l-18 15M416 908l-18 13M474 877l-21 6M837 510l-8 1M1502 436l13 7M878 686l-12 11M1599 828l-1 13M1466 776l-9 2M1037 249l-20 3M225 764l-9 16M437 795l-9 13M35 273l-21 3M714 844l-3 9M1442 341l5 4M1022 731l5 8M1292 367l1 14M217 606l9 1M1680 293l8 6M1556 442l-21 1M103 100l5 1M939 170l2 2M566 51l5 1M913 713l-10 21M1521 985l-1 9M1000 702l-11 6M1276 956l1 14M111 826l-15 11M798 187l4 2M1555 106l-24 3M60 818l-3 3M364 489l-22 7M1219 686l5 4M1320 172l15 2M505 499l7 7M727 193l16 8M1353 16l-15 13M498 80l6 4M1662 400l-6 20M1073 472l-11 4M117 930l8 11M1482 292l-11 12M1158 432l19 2M1604 62l1 12M1633 477l-3 4M477 636l6 15M768 386l7 10M491 332l-9 11M466 253l22 9M205 911l-6 12M1680 381l-9 8M524 170l2 6M407 8l-6 4M562 762l-10 14M1292 957l5 6M343 340l13 9M777 785l18 2M15 549l-20 10M343 106l-8 2M1711 480l-17 7M579 989l19 13M110 162l-3 9M25 130l3 8M774 99l13 4M1085 749l7 1M790 226l-1 3M1224 961l-17 4M742 213l18 1M104 29l-8 21M10 456l1 4M1624 830l-12 8M1369 344l-16 11M1638 257l7 1M710 104l-8 20M484 187l8 16M244 513l18 7M503 586l20 10M539 260l6 7M1555 471l13 5M57 332l-3 16M572 281l9 18M1066 596l-5 17M435 841l-1 5M778 126l-12 9M1207 622l-9 1M215 149l14 17M1349 820l15 8M1373 46l-22 0M14 818l8 17M766 318l5 11M1251 401l-2 10M1676 384l6 2M640 107l2 4M1167 931l1 21M642 730l19 12M852 174l-8 10M656 460l-9 8M1571 764l4 14M503 997l-9 5M214 215l-11 9M542 849l0 17M467 390l12 9M1225 525l-3 24M1171 598l-12 10M337 835l-7 7M193 422l-20 8M196 511l4 13M1676 611l-4 3M81 363l1 4M1376 760l-11 13M260 32l10 2M1048 978l-2 21M1320 570l5 13M1467 117l-13 13M1682 847l2 4M179 235l5 17M1273 19l9 3M640 975l22 3M523 828l16 15M632 276l15 1M138 218l11 13M1693 96l-3 11M375 448l-8 13M682 337l3 4M1271 894l-5 7M746 725l1 9M333 868l-21 3M1580 935l14 16M1266 720l-9 0M1461 836l6 6M14 533l15 8M508 22l3 4M119 943l-16 1M1107 570l-20 3M975 779l-20 10M902 186l5 7M951 727l2 6M583 687l5 0M570 684l-10 11M1060 478l-15 10M56 829l17 1M1699 650l-4 20M595 520l5 10M1542 738l-6 3M488 925l4 0M1483 713l-15 6M541 852l7 3M451 601l-4 17M1163 214l-9 3M1508 432l2 8M377 979l10 1M855 555l6 1M480 329l-5 22M1271 858l-23 2M1504 248l-4 0M612 697l-15 5M1324 107l8 16M963 938l-3 8M1087 354l9 19M586 282l-7 4M915 899l-4 17M1124 385l-2 10M47 947l-7 12M1055 414l1 17M1161 71l3 1M819 974l15 17M1146 91l-15 8M1537 189l-1 7M1338 831l-5 8M544 826l23 1M508 226l-2 22M1166 254l-1 6M1508 666l-4 21M733 725l-4 3M764 944l-11 2M335 879l13 4M66 610l11 20M1375 481l7 7M1182 718l-5 7M637 927l4 8M1313 906l22 6M1258 837l-9 5M1488 48l3 18M1204 799l10 12M1454 862l-2 13M1365 998l-20 4M1244 122l-10 20M1386 132l10 12M995 734l-4 11" stroke="#0909b0" stroke-width="56.0" stroke-linecap="round" fill="none" opacity="0.95"/>
<path transform="translate(489 209) scale(.1)" d="M780 692l12 5M735 242l0 4M496 97l8 1M1718 918l-4 2M1645 353l-3 5M706 281l-1 7M869 919l-9 4M1286 630l-7 15M414 103l13 19M1233 733l-4 1M1231 259l1 13M1687 789l12 6M1555 778l-15 7M487 132l7 10M1192 863l23 1M1141 145l-14 4M1639 757l5 0M1070 112l7 0M1200 704l-13 17M5 914l1 6M161 304l-6 2M451 69l-16 9M453 54l13 5M535 278l1 17M1066 926l0 6M906 273l14 4M743 364l-4 9M166 861l-4 2M239 64l3 5M30 377l10 2M401 245l6 11M344 550l16 8M448 236l16 15M1637 170l-12 10M1062 943l-16 2M823 613l5 17M283 428l13 5M101 32l-12 15M703 750l8 2M1490 653l-6 4M177 210l3 3M1200 794l-15 5M78 456l20 8M797 138l-16 3M1159 140l6 2M706 547l4 1M1439 544l1 20M879 56l-19 7M436 223l-17 4M1156 746l0 17M515 263l-8 13M53 581l-9 3M693 370l-8 22M528 165l-12 18M165 938l3 2M817 600l-24 5M389 796l-5 16M638 835l8 21M1046 55l-22 4M573 643l3 10M192 908l-19 11M1097 810l8 13M4 992l3 2M634 367l7 3M1621 291l-14 18M1042 931l-9 0M1597 213l0 12M572 104l18 7M1639 338l-15 7M1612 565l-5 11M1185 372l16 7M823 322l-18 10M1063 217l-20 3M681 200l6 4M1109 225l4 10M284 618l-3 8M1248 431l-13 0M705 8l9 13M1468 592l-5 5M1485 921l11 9M647 821l3 11M965 6l12 11M1140 325l13 0M1152 772l0 6M898 663l3 22M681 780l0 6M748 405l13 7M323 630l19 13M1357 677l-4 22M925 736l16 5M954 335l-6 6M1365 227l-1 3M1617 302l-13 16M1568 124l3 12M389 394l2 4M948 327l12 4M798 794l13 18M526 623l-17 3M510 905l-14 7M323 106l-6 12M354 385l16 18M1030 945l-1 6M684 433l4 17M246 272l-2 12M720 711l1 5M130 423l12 17M735 56l-10 1M1436 455l-4 3M1479 225l-8 11M1480 295l-15 3M1661 684l0 17M142 711l-4 2M909 194l-12 1M154 468l-2 7M457 570l-4 1M1245 195l12 3M1064 264l4 12M1706 396l1 18M1477 862l-2 4M1361 975l0 5M166 40l-20 13M1644 223l-3 11M663 259l19 12M1667 597l-11 2M334 772l-7 1M739 49l-3 6M1456 655l2 22M1531 432l-12 8M1082 579l8 2M447 6l0 16M615 512l-3 18M894 562l15 3M1227 457l15 11M528 911l3 4M1611 918l-4 2M598 171l4 0M239 37l4 6M605 210l9 6M274 827l7 3M1342 458l-23 7M1288 331l-2 20M931 732l-14 10M1424 467l-17 4M564 365l-11 7M662 897l-16 6M1666 832l-6 15M1046 114l8 16M184 914l-4 4M982 119l-7 18M355 25l-13 15M1322 952l5 19M868 181l17 16M1107 822l-10 2M701 438l-4 5M1370 168l3 11M662 946l-12 12M1237 574l14 10M1146 678l-1 5M85 698l-8 0M511 422l-16 0M900 252l6 17M697 644l7 7M154 476l-5 2M1654 368l-1 4M1022 533l21 11M820 748l-2 13M883 35l-7 1M1007 468l-4 15M1716 384l4 6M1225 358l11 1M230 727l-12 3M1356 816l-3 10M796 23l17 2M84 351l-17 11M693 261l3 1M868 577l3 4M643 849l7 6M1424 787l1 5M224 425l1 12M1319 920l-4 4M943 78l-23 5M1006 55l-2 11M818 993l2 2M691 228l-11 7M464 781l-5 7M1284 516l6 23M1046 852l-2 5M1710 307l-3 9M413 440l12 11M1157 191l8 4M350 755l-2 14M397 936l8 3M982 636l-10 10M1102 15l-13 14M1560 665l1 17M1131 686l-9 14M1503 45l-8 10M300 833l-18 10M1636 549l-1 3M1336 205l6 16M568 456l14 10M1606 590l3 6M951 108l-10 0M220 824l3 2M687 666l3 14M1202 184l1 7M816 855l10 7M10 618l21 11M1180 574l22 7M1571 373l2 9M1650 896l-8 14M1341 613l-14 4M1229 919l-2 10M67 44l6 6M829 359l-4 13M1257 876l21 11M4 853l8 13M219 279l-8 8M1356 711l-9 11M252 106l-1 4M481 635l3 13M1312 689l-13 11M312 917l-7 2M1636 77l3 16M991 321l4 9M894 920l5 16M66 74l1 4M61 796l-17 15M1520 439l-2 19M212 563l1 3M1588 981l-14 2M370 744l-6 1M943 600l0 24" stroke="#0e0ee0" stroke-width="50.0" stroke-linecap="round" fill="none" opacity="0.95"/>
<path transform="translate(491 209) scale(.1)" d="M1421 444l11 18M630 303l-8 9M106 39l8 17M1157 436l-1 19M563 26l-4 9M1693 409l-18 2M1346 877l20 10M1189 929l4 5M919 62l5 2M1214 316l-2 13M598 869l6 3M1351 333l-6 1M1451 413l1 3M1672 437l4 20M1350 755l-1 7M371 167l0 18M1340 173l4 2M1590 306l5 3M614 726l-8 14M289 271l-12 13M862 948l-4 5M1470 496l7 8M532 715l1 14M655 727l-13 6M1300 378l14 12M630 653l5 5M789 895l21 3M819 305l20 5M1643 159l15 13M851 223l0 13M51 246l-1 4M762 628l14 10M1258 459l5 2M1081 911l5 20M828 466l9 17M969 52l-8 11M746 4l-18 10M963 476l-8 4M220 466l5 2M205 416l-7 14M1447 16l-7 21M1443 801l2 17M1017 688l10 10M56 205l6 11M811 8l-12 2M607 23l1 12M751 798l-4 10M423 862l4 3M613 483l-1 9M51 60l12 6M689 816l-2 3M1172 849l-16 2M1049 443l-1 9M219 246l1 4M348 812l6 21M862 853l-10 10M1583 259l-4 8M1056 555l23 4M1047 268l10 4M184 387l-13 1M1361 968l9 0M1372 890l-15 4M1346 714l10 15M306 358l-13 18M1662 62l-6 17M1014 595l9 7M1101 934l-11 7M884 121l-4 20M853 638l3 2M158 487l11 5M684 766l-3 16M1562 269l0 17M1243 520l0 9M153 642l0 19M456 254l-17 10M472 260l-7 18M1451 223l13 12M201 32l4 0M563 563l3 9M1578 465l12 20M223 135l-8 14M1602 761l4 15M1460 503l15 14M1530 468l-3 2M106 258l3 15M1281 70l10 1M1399 927l16 9M1627 502l18 14M1267 640l22 4M89 339l11 5M1499 33l-3 8M1438 285l-8 15M667 513l10 19M1586 491l0 14M1417 971l6 2M941 991l-21 10M526 408l-11 15M1085 584l11 5M1398 38l8 1M746 636l22 9M195 241l-7 21M1385 891l-20 5M488 220l7 6M118 639l-8 6M969 376l-8 21M689 232l14 15M348 549l5 13M636 789l-14 10M234 955l-7 17M806 763l-4 23M1187 417l-3 3M693 912l12 10M111 529l-4 13M150 419l-4 0M73 136l13 6M914 281l11 11M1644 221l-22 0M1430 915l7 18M28 829l-4 7M913 282l9 5M1120 211l-10 21M632 40l2 12M862 950l6 11M441 169l-9 4M790 99l-16 4M1100 59l23 8M124 52l16 9M1178 70l11 3M21 266l7 10M1342 469l20 12M185 268l-5 4M175 584l15 15M1574 598l-3 6M1456 877l1 5M553 239l4 20M395 776l6 2M749 851l-19 11M1623 506l3 3M1077 720l-2 8M712 50l-4 1M1079 543l-17 6M1309 838l-3 23M984 797l-9 9M1002 453l17 15M6 477l-17 14M1006 675l2 6M1206 12l-22 3M1422 449l7 18M261 486l14 5M484 203l3 12M582 503l23 8M197 254l14 16M443 232l-10 11M1264 72l13 9M311 568l9 2M974 264l16 8M1081 980l21 9M791 12l-3 22M231 907l0 19M1538 378l-5 0M1388 4l2 4M45 587l-14 9M333 625l6 4M925 827l-7 17M1183 91l-5 5M808 408l2 19M101 174l-23 4M858 695l-7 2M1123 534l-21 9M1258 84l-3 2M1618 309l-5 18M1302 994l0 19M302 501l-9 5M33 616l20 11M1565 284l12 7M1412 630l-4 16M654 354l-6 1M1040 854l-10 4M1494 531l-17 6M1138 285l3 9M146 157l9 0M298 458l-6 5M279 835l4 21M1310 541l-3 15M854 17l-1 4M1306 288l2 15M1525 792l-21 3M1505 972l-13 5M1474 242l1 4M1538 281l12 5M1096 126l18 6M980 959l-4 4M987 538l-4 3M56 953l8 0M243 628l9 2M1261 995l-16 9M952 682l-13 11M1580 356l15 1M1487 440l22 1M268 949l-2 5M457 375l-14 15M939 739l3 3M751 795l-7 21M854 495l9 12M392 164l7 22M1079 483l-4 5M338 548l-9 8M411 68l8 15M1332 388l10 6M755 570l-13 4M730 827l2 14M1243 382l9 7M1624 469l3 4M1563 352l-3 1M921 838l10 19M612 857l18 8M654 315l-2 5M90 559l8 7M321 902l6 14M506 238l7 0M955 972l-6 6M501 415l-3 2M175 322l15 6M1399 95l10 7M1187 805l-5 2M818 219l-4 2M1384 981l4 12M839 751l3 2M1261 487l5 0M810 634l7 19M1256 110l17 3M1196 229l-7 3M1542 423l10 5" stroke="#1c20ff" stroke-width="42.0" stroke-linecap="round" fill="none" opacity="0.95"/>
<path transform="translate(490 208) scale(.1)" d="M1207 243h0M950 340h0M709 917h0M1325 843h0M1316 575h0M1222 17h0M870 500h0M767 800h0M10 823h0M531 283h0M37 271h0M805 900h0M652 794h0M319 635h0M1272 115h0M816 753h0M1581 289h0M484 930h0M646 658h0M902 278h0M1095 488h0M1322 293h0M191 327h0M511 268h0M1097 916h0M447 74h0M1665 58h0M1274 89h0M797 396h0M1632 82h0M1078 584h0M744 410h0M1018 736h0M568 109h0M729 730h0M731 247h0M44 908h0M1018 871h0M1212 234h0M113 935h0M329 873h0M1414 43h0M1120 390h0M1262 725h0M1272 961h0M67 65h0M627 839h0M968 687h0M447 606h0M1060 269h0M1308 694h0M671 732h0M1162 259h0M80 356h0M1233 579h0M81 703h0M812 860h0M1157 76h0M1401 896h0M1515 38h0M990 269h0M1002 60h0M701 13h0M548 720h0M180 919h0M122 263h0M670 359h0M890 925h0M851 560h0M472 259h0M115 948h0M591 525h0M162 866h0M1481 926h0M1063 273h0M1676 298h0M504 231h0M318 506h0M739 369h0M248 111h0M579 692h0M1662 837h0M1672 389h0M1223 462h0M1352 821h0M1101 589h0M463 395h0M221 769h0M1486 501h0M150 473h0M1042 60h0M1315 925h0M1404 9h0M305 276h0M773 790h0M723 198h0M1554 383h0M1567 769h0M106 167h0M1646 901h0M1400 986h0M188 913h0M629 488h0M1254 842h0M1136 216h0M373 984h0M1361 1003h0M211 154h0M762 9h0M107 831h0M349 630h0M1196 709h0M1173 441h0M778 633h0M1433 976h0M1688 442h0M43 952h0M354 553h0M1200 804h0M1576 940h0M996 707h0M822 768h0M1051 419h0M97 37h0M1478 297h0M939 605h0M26 382h0M162 45h0M569 244h0M1641 358h0M1546 473h0M1259 387h0M1095 548h0M62 615h0M623 28h0M1707 485h0M879 40h0M21 135h0M1620 835h0M1042 119h0M826 639h0M350 390h0M985 381h0M1229 738h0M1240 127h0M867 228h0M1629 482h0M308 922h0M1367 338h0M1476 300h0M366 749h0M875 61h0M1220 966h0M0 997h0M192 516h0M927 737h0M833 515h0M1499 50h0M1316 383h0M259 633h0M1 919h0M449 59h0M634 840h0M217 37h0M1154 290h0M874 700h0M216 549h0M1252 414h0M89 141h0M411 781h0M1081 754h0M1599 264h0M1567 378h0M776 697h0M499 1002h0M1503 533h0M1180 561h0M1475 230h0M991 739h0M1510 536h0M460 786h0M1282 635h0M1476 508h0M1058 948h0M1153 196h0M1590 603h0M1365 349h0M687 233h0M433 800h0M705 237h0M608 702h0M579 31h0M1117 939h0M535 265h0M1148 777h0M628 281h0M1435 549h0M1659 164h0M874 691h0M987 326h0M1284 336h0M1022 680h0M844 471h0M295 840h0M1163 936h0M403 13h0M628 862h0M1018 458h0M579 568h0M1490 247h0M560 370h0M728 55h0M162 162h0M566 689h0M614 874h0M1634 314h0M1010 590h0M1288 962h0M1188 854h0M1632 554h0M1366 760h0M909 718h0M1551 476h0M1486 658h0M1556 670h0M678 342h0M568 286h0M444 241h0M476 334h0M630 731h0M1709 414h0M1640 474h0M1420 792h0" stroke="#4a64ff" stroke-width="20.0" stroke-linecap="round" fill="none" opacity="0.8"/>
<path transform="translate(489 211) scale(.1)" d="M777 8h0M1256 84h0M242 807h0M1108 860h0M1224 23h0M34 272h0M731 805h0M1414 622h0M345 378h0M1231 281h0M1300 200h0M1173 730h0M1493 944h0M499 247h0M128 327h0M681 217h0M1408 114h0M338 557h0M1645 970h0M678 696h0M590 101h0M616 351h0M230 39h0M1572 421h0M1537 4h0M1666 108h0M1321 190h0M1201 0h0M426 928h0M476 427h0M1589 322h0M1017 916h0M153 253h0M1369 360h0M644 475h0M1137 113h0M479 154h0M891 425h0M432 40h0M1373 717h0M1449 513h0M1427 870h0M405 307h0M1112 970h0M1180 741h0M1439 350h0M1461 293h0M1709 218h0M576 586h0M96 953h0M1114 624h0M407 622h0M121 34h0M380 368h0M1086 248h0M118 664h0M1450 22h0M1680 978h0M1526 230h0M1294 916h0M218 0h0M1264 504h0M1700 321h0M961 959h0M130 49h0M1496 254h0M33 734h0M1341 357h0M665 612h0M1004 869h0M1677 870h0M380 233h0M1538 286h0M941 169h0M446 688h0M534 274h0M1059 809h0M1621 870h0M1132 800h0M184 897h0M174 853h0M1127 782h0M36 599h0M821 308h0M230 75h0M1367 853h0M10 864h0M140 713h0M1070 395h0M1527 143h0" stroke="#030330" stroke-width="34.0" stroke-linecap="round" fill="none" opacity="0.85"/>
<path transform="translate(492 210) scale(.1)" d="M1476 284h0M1501 65h0M1619 141h0M1605 228h0M1267 184h0M1568 199h0M1268 152h0M1515 205h0M1242 220h0M1522 165h0M1311 264h0M1583 95h0M1401 48h0M1616 257h0M1283 258h0M1241 51h0M1438 4h0M1422 142h0M1595 210h0M1325 25h0M1265 144h0M1618 237h0M1647 192h0M1282 235h0M1526 152h0M1277 120h0M576 230h0M1155 843h0M11 449h0M1299 834h0M1007 664h0M1567 315h0M763 521h0M884 577h0M9 404h0M604 786h0M1166 637h0M902 416h0M1272 575h0M593 649h0" stroke="#02021c" stroke-width="65.0" stroke-linecap="round" fill="none" opacity="0.8"/>
</g>
<g filter="url(#bl0)">
<path transform="translate(495 209) scale(.1)" d="M1038 245h0M1271 160h0M365 386h0M1440 168h0M95 59h0M9 771h0M57 735h0M1361 443h0M593 112h0M560 581h0M351 122h0M1508 550h0M403 191h0M1383 80h0M210 226h0M1475 819h0M1418 560h0M159 786h0M518 171h0M437 863h0M1082 157h0M1067 545h0M285 500h0M483 211h0M436 11h0M1482 193h0M777 580h0M767 168h0M1365 157h0M1159 9h0M193 893h0M709 319h0M291 652h0M1103 701h0M185 301h0M1519 376h0M248 171h0M1500 534h0M665 478h0M1651 658h0M1453 774h0M97 93h0M1460 272h0M425 945h0M567 362h0M977 523h0M949 281h0M1093 461h0M330 873h0M1573 296h0M1473 777h0M1502 255h0M1593 619h0M236 361h0M104 871h0M1638 408h0M221 747h0M430 322h0M309 529h0M1152 839h0" stroke="#d81424" stroke-width="11.0" stroke-linecap="round" fill="none" opacity="0.9"/>
<path transform="translate(490 209) scale(.1)" d="M678 674l4 5M742 222l16 0M1417 24l15 1M105 235l5 15M683 480l-13 0M1191 686l-8 9M1076 533l-6 13M437 907l7 7M988 3l-5 5M1133 822l-11 1M115 114l8 8M1486 820l11 4M1086 960l2 4M410 962l8 8M1191 469l-11 7M1273 702l-9 7M99 465l7 2M411 587l-12 10M730 753l7 4M1261 997l2 1M31 693l-4 2M629 552l0 13M1136 173l-7 3M1403 174l2 4M1661 496l4 3M129 934l3 3M680 109l6 7M663 63l6 10M1258 915l1 4M763 310l-6 9M1173 127l-6 3M1247 378l10 12M1309 113l13 8M1442 160l5 1M1263 696l4 11M87 534l-9 8M707 752l-9 11M772 12l-11 6M1586 402l-4 12M153 836l9 9M3 747l2 10M370 775l6 10M794 483l-8 11M285 813l-7 6M700 802l15 7M916 6l4 7M976 24l-2 3M720 242l-2 13M1501 193l9 6M902 954l9 4M185 449l-4 15M1148 491l-4 3M265 132l-3 11M427 660l6 0M432 53l-14 6M171 509l8 1M1695 934l4 13M911 560l8 4M411 878l2 9M156 214l9 2M266 66l2 1M322 31l12 2" stroke="#1fd848" stroke-width="27.0" stroke-linecap="round" fill="none" opacity="0.92"/>
<path transform="translate(490 209) scale(.1)" d="M665 717h0M757 205h0M1435 1h0M92 244h0M680 478h0M1207 684h0M1087 531h0M448 910h0M975 19h0M1110 811h0M95 125h0M1489 818h0M1078 927h0M425 962h0M1224 471h0M1276 721h0M112 467h0M403 597h0M697 747h0M1253 991h0M23 721h0M603 541h0M1112 164h0M1382 164h0M1661 484h0M137 950h0M697 88h0M656 55h0M1267 944h0M768 312h0M1192 159h0M1269 402h0M1280 97h0M1440 123h0M1257 701h0M76 541h0M733 760h0M773 24h0M1588 408h0M141 828h0M10 742h0" stroke="#ff2838" stroke-width="19.0" stroke-linecap="round" fill="none" opacity="0.95"/>
<path transform="translate(501 209) scale(.1)" d="M562 667h0M634 220h0M1304 31h0M5 222h0M557 476h0M1083 679h0M974 526h0M331 913h0M888 4h0M1029 825h0M7 102h0M1386 826h0M965 952h0M292 956h0M1084 476h0M1157 690h0" stroke="#f0fff4" stroke-width="18.0" stroke-linecap="round" fill="none" opacity="0.95"/>
<path transform="translate(493 215) scale(.1)" d="M78 405h0M386 525h0M699 705h0M1235 943h0M1 635h0M581 488h0M1102 117h0M1362 114h0M1635 435h0M96 875h0M641 67h0M634 9h0M1234 859h0M740 248h0M1150 57h0M1211 317h0" stroke="#38e0e8" stroke-width="17.0" stroke-linecap="round" fill="none" opacity="0.9"/>
<path transform="translate(490 207) scale(.1)" d="M1317 128h0M1437 179h0M1260 728h0M75 560h0M700 754h0M774 31h0M1573 406h0M164 863h0M6 757h0M377 794h0M802 510h0M273 841h0M701 834h0M904 4h0M979 45h0M731 274h0" stroke="#ff70c0" stroke-width="17.0" stroke-linecap="round" fill="none" opacity="0.9"/>
</g>
</g>
<rect x="613.50" y="260.70" width="47.50" height="48.20" fill="#010104" stroke="none" stroke-width="0.6" />
<clipPath id="cib"><circle cx="637.6" cy="284.0" r="22"/></clipPath>
<g clip-path="url(#cib)">
<circle cx="637.60" cy="284.00" r="22.00" fill="#0e0e96" stroke="none" stroke-width="0.6" />
<g filter="url(#bl0)">
<path transform="translate(615 262) scale(.1)" d="M287 247h0M324 30h0M340 363h0M416 389h0M129 347h0M397 312h0M386 135h0M101 395h0M174 55h0M256 30h0M417 298h0M426 318h0M344 375h0M196 402h0M172 428h0M156 126h0M252 415h0M243 331h0M239 334h0M109 268h0M104 258h0M239 117h0M241 172h0M192 380h0M287 368h0M219 306h0M138 315h0M202 316h0M307 399h0M89 92h0M430 78h0M418 304h0M330 15h0M266 160h0M393 99h0M7 95h0M152 24h0M387 177h0M315 417h0M137 197h0M115 337h0M37 313h0M78 5h0M330 153h0M14 355h0M29 158h0M197 152h0M106 267h0M269 158h0M172 86h0M325 321h0M241 146h0M111 250h0M82 407h0M184 368h0M324 346h0M376 412h0M110 332h0M125 242h0M42 400h0M370 84h0M259 296h0M430 106h0M338 90h0M64 401h0M417 265h0M14 15h0M446 404h0M115 333h0M123 149h0M58 343h0M173 92h0M351 114h0M246 420h0M152 395h0M351 119h0M386 33h0M201 142h0M381 331h0M172 392h0M402 159h0M165 207h0M89 82h0M240 380h0M102 385h0M232 172h0M349 101h0M305 72h0M184 286h0M378 298h0M158 163h0M30 347h0M302 109h0M63 33h0M81 335h0M69 409h0M444 227h0M153 127h0M117 298h0M130 157h0M196 59h0M169 72h0M15 198h0M97 59h0M114 241h0M170 343h0M214 413h0M431 1h0M157 279h0M130 112h0M412 437h0M82 356h0M152 248h0M423 349h0M112 379h0M146 350h0M378 109h0M441 150h0M362 42h0M423 377h0M399 200h0M119 374h0M237 293h0M352 75h0M280 252h0M193 241h0M94 7h0M347 303h0M398 280h0M57 45h0M123 251h0M148 13h0M61 350h0M68 419h0M299 8h0M365 306h0M158 163h0M372 50h0M277 28h0M336 71h0M415 370h0M14 162h0M119 189h0M422 224h0M176 167h0M186 232h0M294 230h0M421 429h0M146 145h0M271 317h0M178 145h0M149 236h0M290 272h0M61 357h0M356 200h0M351 222h0M310 152h0M218 238h0M348 239h0M428 357h0M91 145h0M49 438h0M331 213h0M436 276h0M305 219h0M139 416h0M141 399h0M59 90h0M441 216h0M213 113h0" stroke="#1c1cd0" stroke-width="15.0" stroke-linecap="round" fill="none" opacity="0.8"/>
<path transform="translate(616 262) scale(.1)" d="M78 347h0M81 423h0M41 414h0M77 339h0M2 111h0M232 248h0M399 328h0M280 154h0M226 70h0M185 5h0M194 102h0M230 230h0M226 180h0M257 349h0M52 327h0M103 93h0M53 414h0M68 255h0M52 399h0M204 42h0M326 74h0M290 240h0M3 102h0M6 202h0M35 205h0M404 152h0M325 291h0M167 303h0M252 393h0M35 76h0M225 342h0M250 78h0M106 397h0M403 385h0M340 241h0M258 98h0M416 287h0M434 296h0M431 329h0M368 244h0M210 429h0M287 46h0M96 287h0M41 226h0M357 431h0M188 376h0M224 243h0M126 138h0M409 363h0M367 9h0M67 78h0M48 6h0M8 271h0M112 342h0M234 40h0M133 435h0M150 201h0M423 371h0M212 18h0M327 344h0M88 118h0M266 25h0M145 303h0M331 357h0M235 433h0M300 311h0M3 280h0M18 408h0M115 386h0M358 244h0M22 292h0M136 181h0M207 380h0M274 15h0M146 405h0M239 357h0M336 319h0M3 266h0M345 54h0M108 33h0M118 226h0M208 84h0M363 78h0M372 438h0M316 34h0M26 253h0M208 140h0M372 125h0M245 54h0M348 189h0M326 188h0M67 267h0M426 230h0M226 114h0M96 264h0M159 214h0M350 351h0M121 262h0M228 361h0M155 200h0M6 310h0M262 320h0M320 332h0M276 219h0M333 112h0M196 130h0M180 17h0M23 162h0M195 292h0M231 296h0M71 314h0M306 44h0M319 173h0M394 327h0M201 64h0M104 262h0M417 25h0M421 195h0M280 362h0M3 125h0M31 121h0M265 184h0M67 287h0M74 183h0M150 376h0M165 11h0M163 220h0M179 274h0M289 7h0M28 419h0" stroke="#080860" stroke-width="14.0" stroke-linecap="round" fill="none" opacity="0.7"/>
<path d="M629.6 266L651.6 288M621.6 280L639.6 298M641.6 268L655.6 282M623.6 292L643.6 272M633.6 300L653.6 278" fill="none" stroke="#07074a" stroke-width="0.8" opacity="0.7"/>
</g>
<path transform="translate(641 267) scale(.1)" d="M0 8h0M8 0h0" stroke="#30c050" stroke-width="13.0" stroke-linecap="round" fill="none" opacity="0.9"/>
</g>
<path d="M613.5 308.9 V260.7 H661" fill="none" stroke="#eee" stroke-width="0.8" stroke-dasharray="2 1.3"/>
<rect x="647.00" y="280.40" width="3.60" height="3.40" fill="none" stroke="#e8e8ff" stroke-width="0.55" />
<line x1="490.60" y1="208.10" x2="493.60" y2="208.10" stroke="#fff" stroke-width="0.8" />
<line x1="547.50" y1="208.10" x2="550.50" y2="208.10" stroke="#fff" stroke-width="0.8" />
<line x1="605.30" y1="208.10" x2="608.30" y2="208.10" stroke="#fff" stroke-width="0.8" />
<line x1="490.90" y1="306.90" x2="494.40" y2="306.90" stroke="#fff" stroke-width="0.9" />
<line x1="614.70" y1="307.30" x2="617.10" y2="307.30" stroke="#fff" stroke-width="0.6" />
<text x="491.80" y="185.00" font-size="8.2" fill="#3a7cf0" text-anchor="start" font-weight="bold" >DAPI</text>
<text x="548.70" y="185.00" font-size="8.2" fill="#22c83c" text-anchor="start" font-weight="bold" >KCNMA1</text>
<text x="608.50" y="185.00" font-size="8.2" fill="#e8202c" text-anchor="start" font-weight="bold" >SYNE1</text>
<text x="491.8" y="219.4" font-size="8.2" font-weight="bold"><tspan fill="#2d6ae8">M</tspan><tspan fill="#30c040">e</tspan><tspan fill="#90d860">r</tspan><tspan fill="#e8202c">ge</tspan></text>
<text x="272.00" y="341.00" font-size="16.2" fill="#231815" text-anchor="start" font-weight="bold" >E</text>
<line x1="342.90" y1="330.20" x2="342.90" y2="445.50" stroke="#6e6e6e" stroke-width="0.7" />
<line x1="342.60" y1="445.20" x2="406.60" y2="445.20" stroke="#6e6e6e" stroke-width="0.7" />
<line x1="339.40" y1="445.20" x2="342.90" y2="445.20" stroke="#6e6e6e" stroke-width="0.7" />
<text x="338.20" y="448.70" font-size="8.2" fill="#111" text-anchor="end" font-weight="normal" >0</text>
<line x1="339.40" y1="406.93" x2="342.90" y2="406.93" stroke="#6e6e6e" stroke-width="0.7" />
<text x="338.20" y="410.43" font-size="8.2" fill="#111" text-anchor="end" font-weight="normal" >100</text>
<line x1="339.40" y1="368.66" x2="342.90" y2="368.66" stroke="#6e6e6e" stroke-width="0.7" />
<text x="338.20" y="372.16" font-size="8.2" fill="#111" text-anchor="end" font-weight="normal" >200</text>
<line x1="339.40" y1="330.39" x2="342.90" y2="330.39" stroke="#6e6e6e" stroke-width="0.7" />
<text x="338.20" y="333.89" font-size="8.2" fill="#111" text-anchor="end" font-weight="normal" >300</text>
<text x="315.80" y="390.30" font-size="8.0" fill="#111" text-anchor="middle" font-weight="normal" transform="rotate(-90 315.80 390.30)" >Average cell count per HPF</text>
<line x1="363.05" y1="349.52" x2="363.05" y2="365.60" stroke="#666" stroke-width="0.6" />
<line x1="363.05" y1="411.52" x2="363.05" y2="429.89" stroke="#666" stroke-width="0.6" />
<line x1="358.37" y1="349.52" x2="367.73" y2="349.52" stroke="#666" stroke-width="0.6" />
<line x1="358.37" y1="429.89" x2="367.73" y2="429.89" stroke="#666" stroke-width="0.6" />
<rect x="353.10" y="365.60" width="19.90" height="45.92" fill="#e2636b" stroke="#5a3a3e" stroke-width="0.55" />
<line x1="353.10" y1="390.86" x2="373.00" y2="390.86" stroke="#2a2a2a" stroke-width="0.5" />
<line x1="393.70" y1="387.79" x2="393.70" y2="399.28" stroke="#666" stroke-width="0.6" />
<line x1="393.70" y1="425.30" x2="393.70" y2="437.55" stroke="#666" stroke-width="0.6" />
<line x1="389.05" y1="387.79" x2="398.35" y2="387.79" stroke="#666" stroke-width="0.6" />
<line x1="389.05" y1="437.55" x2="398.35" y2="437.55" stroke="#666" stroke-width="0.6" />
<rect x="383.80" y="399.28" width="19.80" height="26.02" fill="#4f8fcf" stroke="#2a3d5a" stroke-width="0.55" />
<line x1="383.80" y1="412.29" x2="403.60" y2="412.29" stroke="#2a2a2a" stroke-width="0.5" />
<line x1="362.90" y1="445.20" x2="362.90" y2="449.20" stroke="#6e6e6e" stroke-width="0.6" />
<text x="362.90" y="458.30" font-size="8.2" fill="#111" text-anchor="middle" font-weight="normal" >MGTH</text>
<line x1="393.80" y1="445.20" x2="393.80" y2="449.20" stroke="#6e6e6e" stroke-width="0.6" />
<text x="393.80" y="458.30" font-size="8.2" fill="#111" text-anchor="middle" font-weight="normal" >TH</text>
<path d="M362.9 342.7V336.3H393.8V381" fill="none" stroke="#5a5a5a" stroke-width="0.75" />
<text x="378.80" y="335.30" font-size="16.2" fill="#111" text-anchor="middle" font-weight="normal" >****</text>
<text x="423.10" y="335.00" font-size="16.2" fill="#231815" text-anchor="start" font-weight="bold" >F</text>
<line x1="480.30" y1="329.50" x2="480.30" y2="436.10" stroke="#6e6e6e" stroke-width="0.7" />
<line x1="480.00" y1="435.80" x2="547.30" y2="435.80" stroke="#6e6e6e" stroke-width="0.7" />
<line x1="476.80" y1="435.80" x2="480.30" y2="435.80" stroke="#6e6e6e" stroke-width="0.7" />
<text x="475.80" y="439.10" font-size="7.8" fill="#111" text-anchor="end" font-weight="normal" >0</text>
<line x1="476.80" y1="400.43" x2="480.30" y2="400.43" stroke="#6e6e6e" stroke-width="0.7" />
<text x="475.80" y="403.73" font-size="7.8" fill="#111" text-anchor="end" font-weight="normal" >100</text>
<line x1="476.80" y1="365.06" x2="480.30" y2="365.06" stroke="#6e6e6e" stroke-width="0.7" />
<text x="475.80" y="368.36" font-size="7.8" fill="#111" text-anchor="end" font-weight="normal" >200</text>
<line x1="476.80" y1="329.69" x2="480.30" y2="329.69" stroke="#6e6e6e" stroke-width="0.7" />
<text x="475.80" y="332.99" font-size="7.8" fill="#111" text-anchor="end" font-weight="normal" >300</text>
<text x="458.80" y="382.60" font-size="8.0" fill="#111" text-anchor="middle" font-weight="normal" transform="rotate(-90 458.80 382.60)" >Average cell count per HPF</text>
<line x1="490.50" y1="355.16" x2="490.50" y2="363.29" stroke="#666" stroke-width="0.6" />
<line x1="490.50" y1="405.74" x2="490.50" y2="414.58" stroke="#666" stroke-width="0.6" />
<line x1="487.50" y1="355.16" x2="493.50" y2="355.16" stroke="#666" stroke-width="0.6" />
<line x1="487.50" y1="414.58" x2="493.50" y2="414.58" stroke="#666" stroke-width="0.6" />
<rect x="485.30" y="363.29" width="10.40" height="42.44" fill="#e2636b" stroke="#5a3a3e" stroke-width="0.55" />
<line x1="485.30" y1="388.05" x2="495.70" y2="388.05" stroke="#2a2a2a" stroke-width="0.5" />
<line x1="506.35" y1="347.38" x2="506.35" y2="362.23" stroke="#666" stroke-width="0.6" />
<line x1="506.35" y1="404.67" x2="506.35" y2="420.59" stroke="#666" stroke-width="0.6" />
<line x1="503.35" y1="347.38" x2="509.35" y2="347.38" stroke="#666" stroke-width="0.6" />
<line x1="503.35" y1="420.59" x2="509.35" y2="420.59" stroke="#666" stroke-width="0.6" />
<rect x="501.10" y="362.23" width="10.50" height="42.44" fill="#4f8fcf" stroke="#2a3d5a" stroke-width="0.55" />
<line x1="501.10" y1="383.45" x2="511.60" y2="383.45" stroke="#2a2a2a" stroke-width="0.5" />
<line x1="522.15" y1="347.38" x2="522.15" y2="364.35" stroke="#666" stroke-width="0.6" />
<line x1="522.15" y1="406.80" x2="522.15" y2="421.65" stroke="#666" stroke-width="0.6" />
<line x1="519.15" y1="347.38" x2="525.15" y2="347.38" stroke="#666" stroke-width="0.6" />
<line x1="519.15" y1="421.65" x2="525.15" y2="421.65" stroke="#666" stroke-width="0.6" />
<rect x="516.90" y="364.35" width="10.50" height="42.44" fill="#9d5fb0" stroke="#2a3d5a" stroke-width="0.55" />
<line x1="516.90" y1="391.94" x2="527.40" y2="391.94" stroke="#2a2a2a" stroke-width="0.5" />
<line x1="538.05" y1="381.68" x2="538.05" y2="383.45" stroke="#666" stroke-width="0.6" />
<line x1="538.05" y1="399.72" x2="538.05" y2="401.14" stroke="#666" stroke-width="0.6" />
<line x1="535.05" y1="381.68" x2="541.05" y2="381.68" stroke="#666" stroke-width="0.6" />
<line x1="535.05" y1="401.14" x2="541.05" y2="401.14" stroke="#666" stroke-width="0.6" />
<rect x="532.90" y="383.45" width="10.30" height="16.27" fill="#6cbcb6" stroke="#2a3d5a" stroke-width="0.55" />
<line x1="532.90" y1="392.65" x2="543.20" y2="392.65" stroke="#2a2a2a" stroke-width="0.5" />
<line x1="490.70" y1="435.80" x2="490.70" y2="439.40" stroke="#6e6e6e" stroke-width="0.6" />
<text x="490.70" y="447.60" font-size="8.2" fill="#111" text-anchor="middle" font-weight="normal" >I</text>
<line x1="506.30" y1="435.80" x2="506.30" y2="439.40" stroke="#6e6e6e" stroke-width="0.6" />
<text x="506.30" y="447.60" font-size="8.2" fill="#111" text-anchor="middle" font-weight="normal" >II</text>
<line x1="522.30" y1="435.80" x2="522.30" y2="439.40" stroke="#6e6e6e" stroke-width="0.6" />
<text x="522.30" y="447.60" font-size="8.2" fill="#111" text-anchor="middle" font-weight="normal" >III</text>
<line x1="538.20" y1="435.80" x2="538.20" y2="439.40" stroke="#6e6e6e" stroke-width="0.6" />
<text x="538.20" y="447.60" font-size="8.2" fill="#111" text-anchor="middle" font-weight="normal" >IV</text>
<line x1="490.30" y1="336.10" x2="538.70" y2="336.10" stroke="#777" stroke-width="0.6" />
<text x="514.90" y="332.20" font-size="8.3" fill="#111" text-anchor="middle" font-weight="normal" >ns</text>
<line x1="480.30" y1="450.40" x2="547.30" y2="450.40" stroke="#777" stroke-width="1.0" />
<text x="513.80" y="460.70" font-size="8.2" fill="#111" text-anchor="middle" font-weight="normal" >MGFA Subtype</text>
<line x1="599.40" y1="329.50" x2="599.40" y2="433.90" stroke="#6e6e6e" stroke-width="0.7" />
<line x1="599.10" y1="433.60" x2="659.00" y2="433.60" stroke="#6e6e6e" stroke-width="0.7" />
<line x1="595.90" y1="433.60" x2="599.40" y2="433.60" stroke="#6e6e6e" stroke-width="0.7" />
<text x="594.90" y="436.80" font-size="7.5" fill="#111" text-anchor="end" font-weight="normal" >0</text>
<line x1="595.90" y1="412.82" x2="599.40" y2="412.82" stroke="#6e6e6e" stroke-width="0.7" />
<text x="594.90" y="416.02" font-size="7.5" fill="#111" text-anchor="end" font-weight="normal" >50</text>
<line x1="595.90" y1="392.04" x2="599.40" y2="392.04" stroke="#6e6e6e" stroke-width="0.7" />
<text x="594.90" y="395.24" font-size="7.5" fill="#111" text-anchor="end" font-weight="normal" >100</text>
<line x1="595.90" y1="371.26" x2="599.40" y2="371.26" stroke="#6e6e6e" stroke-width="0.7" />
<text x="594.90" y="374.46" font-size="7.5" fill="#111" text-anchor="end" font-weight="normal" >150</text>
<line x1="595.90" y1="350.48" x2="599.40" y2="350.48" stroke="#6e6e6e" stroke-width="0.7" />
<text x="594.90" y="353.68" font-size="7.5" fill="#111" text-anchor="end" font-weight="normal" >200</text>
<line x1="595.90" y1="329.70" x2="599.40" y2="329.70" stroke="#6e6e6e" stroke-width="0.7" />
<text x="594.90" y="332.90" font-size="7.5" fill="#111" text-anchor="end" font-weight="normal" >250</text>
<text x="579.80" y="382.00" font-size="8.4" fill="#111" text-anchor="middle" font-weight="normal" transform="rotate(-90 579.80 382.00)" >Average cell count per HPF</text>
<line x1="616.15" y1="352.14" x2="616.15" y2="371.68" stroke="#666" stroke-width="0.6" />
<line x1="616.15" y1="395.78" x2="616.15" y2="409.08" stroke="#666" stroke-width="0.6" />
<line x1="612.15" y1="352.14" x2="620.15" y2="352.14" stroke="#666" stroke-width="0.6" />
<line x1="612.15" y1="409.08" x2="620.15" y2="409.08" stroke="#666" stroke-width="0.6" />
<rect x="608.00" y="371.68" width="16.30" height="24.10" fill="#e2636b" stroke="#5a3a3e" stroke-width="0.55" />
<line x1="608.00" y1="376.25" x2="624.30" y2="376.25" stroke="#2a2a2a" stroke-width="0.5" />
<line x1="641.30" y1="371.26" x2="641.30" y2="383.31" stroke="#666" stroke-width="0.6" />
<line x1="641.30" y1="410.33" x2="641.30" y2="425.29" stroke="#666" stroke-width="0.6" />
<line x1="637.30" y1="371.26" x2="645.30" y2="371.26" stroke="#666" stroke-width="0.6" />
<line x1="637.30" y1="425.29" x2="645.30" y2="425.29" stroke="#666" stroke-width="0.6" />
<rect x="632.90" y="383.31" width="16.80" height="27.01" fill="#4f8fcf" stroke="#2a3d5a" stroke-width="0.55" />
<line x1="632.90" y1="397.03" x2="649.70" y2="397.03" stroke="#2a2a2a" stroke-width="0.5" />
<line x1="616.20" y1="433.60" x2="616.20" y2="437.20" stroke="#6e6e6e" stroke-width="0.6" />
<text x="616.20" y="446.20" font-size="8.2" fill="#111" text-anchor="middle" font-weight="normal" >Yes</text>
<line x1="641.40" y1="433.60" x2="641.40" y2="437.20" stroke="#6e6e6e" stroke-width="0.6" />
<text x="641.40" y="446.20" font-size="8.2" fill="#111" text-anchor="middle" font-weight="normal" >No</text>
<path d="M616.2 346.1V339.8H641.4V365.8" fill="none" stroke="#5a5a5a" stroke-width="0.75" />
<text x="628.50" y="340.80" font-size="16.2" fill="#111" text-anchor="middle" font-weight="normal" >*</text>
<line x1="599.40" y1="450.40" x2="659.00" y2="450.40" stroke="#777" stroke-width="1.0" />
<text x="622.90" y="460.70" font-size="8.2" fill="#111" text-anchor="middle" font-weight="normal" >Postoperative MG in TH</text>
<defs><filter id="blf" x="-10%" y="-10%" width="120%" height="120%"><feGaussianBlur stdDeviation="0.55"/></filter></defs>
<text x="0.20" y="493.80" font-size="16.2" fill="#231815" text-anchor="start" font-weight="bold" >G</text>
<rect x="41.60" y="488.40" width="118.40" height="119.20" fill="#fff" stroke="#4a4a4a" stroke-width="1.0" />
<text x="37.20" y="597.80" font-size="7.4" fill="#111" text-anchor="end" font-weight="normal" >0</text>
<text x="37.20" y="577.45" font-size="7.4" fill="#111" text-anchor="end" font-weight="normal" >50K</text>
<text x="37.20" y="557.10" font-size="7.4" fill="#111" text-anchor="end" font-weight="normal" >100K</text>
<text x="37.20" y="536.75" font-size="7.4" fill="#111" text-anchor="end" font-weight="normal" >150K</text>
<text x="37.20" y="516.40" font-size="7.4" fill="#111" text-anchor="end" font-weight="normal" >200K</text>
<text x="37.20" y="496.05" font-size="7.4" fill="#111" text-anchor="end" font-weight="normal" >250K</text>
<text x="62.00" y="618.00" font-size="7.4" fill="#111" text-anchor="middle" font-weight="normal" >0</text>
<text x="93.8" y="618.6" font-size="7.4" fill="#111" text-anchor="middle">10<tspan dy="-2.6" font-size="6.4">3</tspan></text>
<text x="122.4" y="618.6" font-size="7.4" fill="#111" text-anchor="middle">10<tspan dy="-2.6" font-size="6.4">4</tspan></text>
<text x="152.2" y="618.6" font-size="7.4" fill="#111" text-anchor="middle">10<tspan dy="-2.6" font-size="6.4">5</tspan></text>
<path d="M38.0 595.3H41.6M38.0 574.9H41.6M38.0 554.6H41.6M38.0 534.2H41.6M38.0 513.9H41.6M38.0 493.5H41.6M62.0 607.6v3.2M93.0 607.6v3.2M121.6 607.6v3.2M151.4 607.6v3.2" fill="none" stroke="#222" stroke-width="0.85" />
<path d="M39.9 591.2H41.6M39.9 587.2H41.6M39.9 583.1H41.6M39.9 579.0H41.6M39.9 570.9H41.6M39.9 566.8H41.6M39.9 562.7H41.6M39.9 558.7H41.6M39.9 550.5H41.6M39.9 546.5H41.6M39.9 542.4H41.6M39.9 538.3H41.6M39.9 530.2H41.6M39.9 526.1H41.6M39.9 522.0H41.6M39.9 518.0H41.6M39.9 509.8H41.6M39.9 505.8H41.6M39.9 501.7H41.6M39.9 497.6H41.6M39.9 599.4H41.6M39.9 603.4H41.6M101.6 607.6v1.7M106.6 607.6v1.7M110.2 607.6v1.7M113.0 607.6v1.7M115.3 607.6v1.7M117.2 607.6v1.7M118.8 607.6v1.7M120.3 607.6v1.7M130.6 607.6v1.7M135.8 607.6v1.7M139.5 607.6v1.7M142.4 607.6v1.7M144.8 607.6v1.7M146.8 607.6v1.7M148.5 607.6v1.7M150.0 607.6v1.7M74.0 607.6v1.7M78.8 607.6v1.7M82.2 607.6v1.7M84.8 607.6v1.7M87.0 607.6v1.7M88.8 607.6v1.7M90.4 607.6v1.7M91.8 607.6v1.7M53.0 607.6v1.7M55.5 607.6v1.7" fill="none" stroke="#222" stroke-width="0.5" />
<path d="M57.6 608.7h8.8" fill="none" stroke="#111" stroke-width="2.2" stroke-dasharray="0.7 0.45"/>
<text x="100.50" y="628.20" font-size="7.3" fill="#111" text-anchor="middle" font-weight="normal" >Comp-PE-A</text>
<text x="16.90" y="545.20" font-size="7.2" fill="#111" text-anchor="middle" font-weight="normal" transform="rotate(-90 16.90 545.20)" >FSC-A</text>
<path transform="translate(70 566) scale(.1)" d="M300 181h0M431 106h0M372 145h0M108 120h0M144 181h0M419 140h0M3 148h0M394 34h0M383 94h0M225 340h0M145 109h0M134 68h0M122 216h0M214 330h0M242 26h0M266 158h0M478 113h0M380 0h0M299 258h0M475 178h0M103 188h0M77 100h0M294 228h0M21 123h0M17 165h0M247 62h0M224 51h0M440 322h0M302 126h0M247 211h0M238 176h0M119 133h0M6 126h0M92 247h0M332 148h0M96 164h0M177 182h0M2 305h0M398 252h0M74 221h0M128 120h0M423 33h0M245 281h0M407 283h0M307 165h0M356 238h0M44 263h0M260 268h0M244 278h0M418 132h0M173 340h0M287 48h0M28 272h0M186 232h0M155 273h0M72 340h0M392 338h0M182 58h0M470 1h0M283 267h0M290 72h0M306 179h0M325 269h0M72 5h0M211 0h0M115 208h0M193 185h0M46 154h0M465 184h0M103 89h0M322 19h0M144 162h0M420 77h0M318 5h0M63 234h0M406 173h0M454 223h0M434 75h0M273 110h0M70 74h0M92 86h0M445 201h0M265 97h0M87 218h0M424 216h0M308 340h0M273 32h0M181 274h0M197 170h0M115 179h0M18 26h0M421 131h0M225 259h0M263 171h0M155 189h0M361 149h0M12 303h0M179 178h0M15 0h0M59 106h0M464 0h0M316 0h0M206 124h0M251 322h0M419 185h0M165 55h0M283 80h0M328 300h0M171 197h0M249 185h0M367 174h0M436 184h0M73 266h0M448 239h0M2 203h0M361 69h0M389 234h0M66 107h0M201 296h0M391 45h0M7 165h0M302 179h0M381 39h0M246 340h0M348 335h0M109 131h0M95 262h0M174 220h0M86 0h0M166 207h0M455 173h0M275 189h0M163 66h0M130 151h0M457 161h0M213 306h0M471 216h0M247 179h0M250 340h0M430 121h0M357 139h0M279 0h0M205 340h0M422 282h0M198 277h0M443 251h0M33 192h0M206 203h0M249 153h0M456 158h0" stroke="#777" stroke-width="5.5" stroke-linecap="round" fill="none"/>
<path transform="translate(100 570) scale(.1)" d="M227 137h0M216 17h0M133 299h0M113 267h0M126 275h0M10 74h0M253 118h0M163 68h0M116 37h0M164 10h0M216 151h0M114 37h0M249 53h0M276 258h0M116 145h0M41 55h0M228 201h0M298 80h0M44 158h0M214 85h0M248 155h0M276 189h0M37 161h0M28 119h0M296 237h0M35 262h0M53 54h0M172 41h0M134 34h0M225 294h0M57 282h0M274 69h0M65 291h0M231 62h0M20 152h0M142 149h0M10 274h0M94 12h0M94 95h0M216 180h0" stroke="#777" stroke-width="5.5" stroke-linecap="round" fill="none"/>
<g filter="url(#blf)">
<path d="M53.6 590.0C53.5 587.0 53.5 581.3 54.0 578.0C54.5 574.7 55.3 571.8 56.5 570.0C57.7 568.2 59.4 567.4 61.0 567.3C62.6 567.2 64.7 568.0 66.0 569.5C67.3 571.0 67.8 574.1 69.0 576.0C70.2 577.9 71.2 580.0 73.0 581.0C74.8 582.0 77.2 582.1 80.0 582.0C82.8 581.9 87.0 580.5 90.0 580.3C93.0 580.1 95.5 580.2 98.0 581.0C100.5 581.8 102.9 583.5 105.0 585.0C107.1 586.5 110.3 588.2 110.5 590.0C110.7 591.8 108.4 594.1 106.0 595.5C103.6 596.9 100.0 597.8 96.0 598.5C92.0 599.2 86.7 599.6 82.0 600.0C77.3 600.4 72.0 600.9 68.0 600.8C64.0 600.7 60.2 600.3 58.0 599.5C55.8 598.7 55.2 597.6 54.5 596.0C53.8 594.4 53.7 593.0 53.6 590.0Z" fill="#2353a6" stroke="none" stroke-width="0" />
<path d="M54.8 590.2C54.7 587.6 54.7 582.8 55.1 579.9C55.5 577.0 56.3 574.6 57.3 573.0C58.3 571.5 59.8 570.8 61.1 570.7C62.5 570.6 64.3 571.3 65.4 572.6C66.6 573.8 67.0 576.5 68.0 578.2C69.0 579.8 69.9 581.6 71.5 582.5C73.0 583.3 75.0 583.4 77.5 583.3C79.9 583.2 83.5 582.0 86.1 581.9C88.7 581.7 90.8 581.8 93.0 582.5C95.1 583.2 97.2 584.6 99.0 585.9C100.8 587.2 103.6 588.7 103.7 590.2C103.9 591.7 101.9 593.7 99.8 595.0C97.8 596.2 94.7 596.9 91.2 597.5C87.8 598.2 83.2 598.5 79.2 598.8C75.2 599.2 70.6 599.6 67.2 599.5C63.7 599.4 60.5 599.1 58.6 598.4C56.6 597.7 56.2 596.7 55.5 595.4C54.9 594.0 54.8 592.8 54.8 590.2Z" fill="#2868bc" stroke="none" stroke-width="0" />
<path d="M56.1 590.5C56.1 588.4 56.1 584.4 56.4 582.1C56.7 579.7 57.3 577.7 58.1 576.5C59.0 575.2 60.2 574.6 61.3 574.6C62.4 574.5 63.9 575.1 64.8 576.1C65.7 577.1 66.1 579.3 66.9 580.7C67.7 582.0 68.4 583.5 69.7 584.2C71.0 584.9 72.6 585.0 74.6 584.9C76.6 584.8 79.5 583.8 81.6 583.7C83.7 583.6 85.5 583.6 87.2 584.2C89.0 584.7 90.6 585.9 92.1 587.0C93.6 588.0 95.8 589.3 95.9 590.5C96.1 591.7 94.5 593.3 92.8 594.3C91.1 595.3 88.6 595.9 85.8 596.4C83.0 597.0 79.3 597.2 76.0 597.5C72.7 597.7 69.0 598.1 66.2 598.0C63.4 598.0 60.8 597.7 59.2 597.1C57.6 596.6 57.3 595.8 56.8 594.7C56.2 593.6 56.2 592.6 56.1 590.5Z" fill="#2b80ce" stroke="none" stroke-width="0" />
<path d="M57.5 590.7C57.4 589.1 57.4 586.1 57.7 584.3C57.9 582.5 58.4 580.9 59.0 579.9C59.7 579.0 60.6 578.5 61.5 578.5C62.3 578.4 63.4 578.9 64.2 579.7C64.9 580.4 65.2 582.1 65.8 583.2C66.4 584.2 67.0 585.3 67.9 585.9C68.9 586.4 70.2 586.5 71.7 586.4C73.2 586.4 75.5 585.6 77.1 585.5C78.7 585.4 80.1 585.5 81.4 585.9C82.8 586.3 84.1 587.2 85.2 588.0C86.3 588.8 88.1 589.8 88.2 590.7C88.3 591.7 87.1 592.9 85.8 593.7C84.5 594.5 82.5 594.9 80.4 595.3C78.2 595.7 75.3 595.9 72.8 596.1C70.3 596.3 67.4 596.6 65.2 596.6C63.1 596.5 61.1 596.3 59.8 595.9C58.6 595.4 58.3 594.8 58.0 594.0C57.6 593.1 57.5 592.4 57.5 590.7Z" fill="#339ade" stroke="none" stroke-width="0" />
<path d="M58.6 591.0C58.6 589.8 58.6 587.5 58.8 586.2C59.0 584.8 59.3 583.7 59.8 583.0C60.3 582.2 61.0 581.9 61.6 581.9C62.2 581.8 63.1 582.2 63.6 582.8C64.1 583.3 64.3 584.6 64.8 585.4C65.3 586.1 65.7 587.0 66.4 587.4C67.1 587.8 68.1 587.8 69.2 587.8C70.3 587.7 72.0 587.1 73.2 587.1C74.4 587.0 75.4 587.0 76.4 587.4C77.4 587.7 78.4 588.4 79.2 589.0C80.0 589.6 81.3 590.3 81.4 591.0C81.5 591.7 80.6 592.6 79.6 593.2C78.6 593.7 77.2 594.1 75.6 594.4C74.0 594.7 71.9 594.8 70.0 595.0C68.1 595.1 66.0 595.3 64.4 595.3C62.8 595.2 61.3 595.1 60.4 594.8C59.5 594.4 59.3 594.0 59.0 593.4C58.7 592.7 58.7 592.2 58.6 591.0Z" fill="#3cb2e6" stroke="none" stroke-width="0" />
<defs><radialGradient id="rg1"><stop offset="0" stop-color="#e8281c" stop-opacity="1"/><stop offset="0.11" stop-color="#e8281c" stop-opacity="1"/><stop offset="0.19" stop-color="#f89a24" stop-opacity="1"/><stop offset="0.28" stop-color="#e4e432" stop-opacity="1"/><stop offset="0.41" stop-color="#84e058" stop-opacity="1"/><stop offset="0.55" stop-color="#50d4b4" stop-opacity="1"/><stop offset="0.72" stop-color="#3cb8e6" stop-opacity="0.9"/><stop offset="1" stop-color="#2f92d8" stop-opacity="0"/></radialGradient><clipPath id="crg1"><path d="M54.3 590.1C54.2 587.4 54.2 582.2 54.6 579.1C55.1 576.0 55.9 573.4 56.9 571.7C58.0 570.1 59.6 569.3 61.1 569.2C62.5 569.2 64.5 569.9 65.7 571.3C66.9 572.6 67.4 575.5 68.4 577.2C69.5 579.0 70.4 580.9 72.1 581.8C73.8 582.8 76.0 582.9 78.6 582.8C81.2 582.7 85.0 581.4 87.8 581.2C90.5 581.1 92.8 581.1 95.1 581.8C97.4 582.6 99.6 584.1 101.6 585.5C103.5 586.9 106.5 588.5 106.6 590.1C106.8 591.7 104.7 593.9 102.5 595.2C100.3 596.5 97.0 597.3 93.3 597.9C89.6 598.6 84.7 599.0 80.4 599.3C76.1 599.7 71.2 600.1 67.5 600.1C63.8 600.0 60.4 599.6 58.3 598.9C56.2 598.1 55.8 597.1 55.1 595.6C54.4 594.2 54.3 592.9 54.3 590.1Z"/></clipPath></defs>
<ellipse clip-path="url(#crg1)" cx="62.0" cy="591.6" rx="13.2" ry="13.2" fill="url(#rg1)"/>
</g>
<rect x="68.20" y="561.40" width="70.00" height="41.10" fill="none" stroke="#111" stroke-width="0.7" />
<text x="68.80" y="513.20" font-size="6.8" fill="#e8505a" text-anchor="start" font-weight="bold" >MGTH</text>
<text x="92.3" y="551.8" font-size="7.1" fill="#111">LGR5<tspan dy="-2.4" font-size="5">+</tspan><tspan dy="2.4"> TEC</tspan></text>
<text x="116.20" y="571.30" font-size="7.1" fill="#111" text-anchor="start" font-weight="normal" >10.4</text>
<rect x="167.40" y="488.40" width="120.20" height="119.20" fill="#fff" stroke="#4a4a4a" stroke-width="1.0" />
<text x="187.90" y="618.00" font-size="7.4" fill="#111" text-anchor="middle" font-weight="normal" >0</text>
<text x="219.6" y="618.6" font-size="7.4" fill="#111" text-anchor="middle">10<tspan dy="-2.6" font-size="6.4">3</tspan></text>
<text x="249.8" y="618.6" font-size="7.4" fill="#111" text-anchor="middle">10<tspan dy="-2.6" font-size="6.4">4</tspan></text>
<text x="279.0" y="618.6" font-size="7.4" fill="#111" text-anchor="middle">10<tspan dy="-2.6" font-size="6.4">5</tspan></text>
<path d="M163.8 595.3H167.4M163.8 574.9H167.4M163.8 554.6H167.4M163.8 534.2H167.4M163.8 513.9H167.4M163.8 493.5H167.4M187.9 607.6v3.2M218.8 607.6v3.2M249.0 607.6v3.2M278.2 607.6v3.2" fill="none" stroke="#222" stroke-width="0.85" />
<path d="M165.7 591.2H167.4M165.7 587.2H167.4M165.7 583.1H167.4M165.7 579.0H167.4M165.7 570.9H167.4M165.7 566.8H167.4M165.7 562.7H167.4M165.7 558.7H167.4M165.7 550.5H167.4M165.7 546.5H167.4M165.7 542.4H167.4M165.7 538.3H167.4M165.7 530.2H167.4M165.7 526.1H167.4M165.7 522.0H167.4M165.7 518.0H167.4M165.7 509.8H167.4M165.7 505.8H167.4M165.7 501.7H167.4M165.7 497.6H167.4M165.7 599.4H167.4M165.7 603.4H167.4M227.9 607.6v1.7M233.2 607.6v1.7M237.0 607.6v1.7M239.9 607.6v1.7M242.3 607.6v1.7M244.3 607.6v1.7M246.1 607.6v1.7M247.6 607.6v1.7M257.8 607.6v1.7M262.9 607.6v1.7M266.6 607.6v1.7M269.4 607.6v1.7M271.7 607.6v1.7M273.7 607.6v1.7M275.4 607.6v1.7M276.9 607.6v1.7M198.7 607.6v1.7M203.8 607.6v1.7M207.4 607.6v1.7M210.2 607.6v1.7M212.4 607.6v1.7M214.4 607.6v1.7M216.0 607.6v1.7M217.5 607.6v1.7M178.9 607.6v1.7M181.4 607.6v1.7" fill="none" stroke="#222" stroke-width="0.5" />
<path d="M183.5 608.7h8.8" fill="none" stroke="#111" stroke-width="2.2" stroke-dasharray="0.7 0.45"/>
<text x="227.20" y="628.20" font-size="7.3" fill="#111" text-anchor="middle" font-weight="normal" >Comp-PE-A</text>
<path transform="translate(207 569) scale(.1)" d="M6 17h0M21 112h0M42 208h0M79 229h0M68 152h0M75 293h0M68 211h0M64 69h0M76 97h0M61 271h0M66 236h0M27 0h0M15 310h0M68 250h0M15 310h0M83 152h0M54 160h0M30 77h0M84 310h0M14 172h0M46 310h0M8 125h0" stroke="#777" stroke-width="5.5" stroke-linecap="round" fill="none"/>
<path transform="translate(213 575) scale(.1)" d="M105 145h0M192 233h0M137 7h0M195 150h0M14 89h0M148 58h0M146 230h0M251 101h0M1 250h0M117 77h0M167 186h0M144 129h0M11 79h0M156 205h0M52 135h0M45 207h0" stroke="#777" stroke-width="5.5" stroke-linecap="round" fill="none"/>
<path transform="translate(240 579) scale(.1)" d="M107 106h0M131 65h0M212 6h0M141 33h0M95 33h0M232 68h0M107 210h0M237 48h0M220 72h0M125 53h0M200 105h0M10 197h0M109 182h0M241 54h0M162 27h0M156 181h0M186 83h0M190 131h0" stroke="#777" stroke-width="5.5" stroke-linecap="round" fill="none"/>
<g filter="url(#blf)">
<path d="M192.0 590.0C191.6 587.2 192.2 583.1 192.8 580.0C193.4 576.9 194.6 573.4 195.5 571.5C196.4 569.6 197.5 568.8 198.5 568.8C199.5 568.8 200.5 569.6 201.5 571.5C202.5 573.4 203.7 577.1 204.5 580.0C205.3 582.9 206.2 586.5 206.3 589.0C206.4 591.5 206.1 593.5 205.0 595.0C203.9 596.5 201.7 597.5 200.0 597.8C198.3 598.1 196.3 597.9 195.0 596.6C193.7 595.3 192.4 592.8 192.0 590.0Z" fill="#2353a6" stroke="none" stroke-width="0" />
<path d="M192.9 590.3C192.6 587.9 193.1 584.3 193.6 581.7C194.1 579.0 195.1 576.0 195.9 574.4C196.8 572.8 197.7 572.0 198.5 572.0C199.4 572.0 200.2 572.8 201.1 574.4C202.0 576.0 203.0 579.2 203.7 581.7C204.4 584.2 205.2 587.3 205.2 589.4C205.3 591.6 205.0 593.3 204.1 594.6C203.2 595.8 201.2 596.7 199.8 597.0C198.4 597.2 196.7 597.1 195.5 595.9C194.4 594.8 193.2 592.6 192.9 590.3Z" fill="#2868bc" stroke="none" stroke-width="0" />
<path d="M194.0 590.6C193.7 588.6 194.1 585.7 194.5 583.6C194.9 581.4 195.8 578.9 196.4 577.6C197.1 576.3 197.8 575.7 198.5 575.7C199.2 575.7 199.9 576.3 200.6 577.6C201.3 578.9 202.2 581.5 202.7 583.6C203.3 585.6 203.9 588.1 204.0 589.9C204.0 591.6 203.8 593.0 203.1 594.1C202.3 595.1 200.7 595.8 199.6 596.0C198.4 596.2 197.0 596.1 196.1 595.2C195.1 594.3 194.2 592.5 194.0 590.6Z" fill="#2b80ce" stroke="none" stroke-width="0" />
<path d="M195.0 590.9C194.8 589.4 195.2 587.1 195.5 585.5C195.8 583.8 196.4 581.9 196.9 580.9C197.4 579.9 198.0 579.4 198.5 579.4C199.1 579.4 199.6 579.9 200.2 580.9C200.7 581.9 201.4 583.9 201.8 585.5C202.2 587.0 202.7 589.0 202.8 590.3C202.8 591.7 202.6 592.8 202.1 593.6C201.5 594.4 200.3 594.9 199.4 595.1C198.5 595.2 197.4 595.1 196.7 594.4C195.9 593.7 195.2 592.4 195.0 590.9Z" fill="#339ade" stroke="none" stroke-width="0" />
<path d="M196.0 591.1C195.8 590.0 196.0 588.4 196.3 587.1C196.5 585.9 197.0 584.5 197.4 583.7C197.7 583.0 198.2 582.7 198.6 582.7C199.0 582.7 199.4 583.0 199.8 583.7C200.2 584.5 200.6 586.0 201.0 587.1C201.3 588.3 201.6 589.7 201.7 590.7C201.7 591.7 201.6 592.6 201.2 593.1C200.7 593.7 199.8 594.2 199.2 594.3C198.5 594.4 197.7 594.3 197.2 593.8C196.6 593.3 196.1 592.2 196.0 591.1Z" fill="#3cb2e6" stroke="none" stroke-width="0" />
<defs><radialGradient id="rg2"><stop offset="0" stop-color="#e8281c" stop-opacity="1"/><stop offset="0.11" stop-color="#e8281c" stop-opacity="1"/><stop offset="0.19" stop-color="#f89a24" stop-opacity="1"/><stop offset="0.28" stop-color="#e4e432" stop-opacity="1"/><stop offset="0.41" stop-color="#84e058" stop-opacity="1"/><stop offset="0.55" stop-color="#50d4b4" stop-opacity="1"/><stop offset="0.72" stop-color="#3cb8e6" stop-opacity="0.9"/><stop offset="1" stop-color="#2f92d8" stop-opacity="0"/></radialGradient><clipPath id="crg2"><path d="M192.5 590.2C192.2 587.6 192.7 583.8 193.3 581.0C193.8 578.1 194.9 574.8 195.7 573.1C196.6 571.4 197.6 570.6 198.5 570.6C199.4 570.6 200.3 571.4 201.3 573.1C202.2 574.8 203.3 578.3 204.0 581.0C204.8 583.6 205.6 586.9 205.7 589.2C205.8 591.5 205.5 593.4 204.5 594.8C203.5 596.1 201.4 597.1 199.9 597.3C198.4 597.6 196.5 597.4 195.3 596.2C194.1 595.0 192.9 592.7 192.5 590.2Z"/></clipPath></defs>
<ellipse clip-path="url(#crg2)" cx="198.6" cy="591.9" rx="6.4" ry="6.4" fill="url(#rg2)"/>
</g>
<rect x="207.00" y="563.30" width="61.50" height="38.70" fill="none" stroke="#111" stroke-width="0.7" />
<text x="195.80" y="513.20" font-size="6.8" fill="#3f86cc" text-anchor="start" font-weight="bold" >TH</text>
<text x="222.8" y="553" font-size="7.1" fill="#111">LGR5<tspan dy="-2.4" font-size="5">+</tspan><tspan dy="2.4"> TEC</tspan></text>
<text x="243.00" y="580.60" font-size="7.1" fill="#111" text-anchor="start" font-weight="normal" >0.83</text>
<line x1="322.70" y1="496.40" x2="322.70" y2="616.20" stroke="#555" stroke-width="0.7" />
<line x1="322.40" y1="615.90" x2="403.00" y2="615.90" stroke="#555" stroke-width="0.7" />
<line x1="318.60" y1="615.90" x2="322.70" y2="615.90" stroke="#555" stroke-width="0.7" />
<text x="317.60" y="619.00" font-size="7.4" fill="#111" text-anchor="end" font-weight="normal" >0</text>
<line x1="318.60" y1="586.07" x2="322.70" y2="586.07" stroke="#555" stroke-width="0.7" />
<text x="317.60" y="589.17" font-size="7.4" fill="#111" text-anchor="end" font-weight="normal" >5</text>
<line x1="318.60" y1="556.25" x2="322.70" y2="556.25" stroke="#555" stroke-width="0.7" />
<text x="317.60" y="559.35" font-size="7.4" fill="#111" text-anchor="end" font-weight="normal" >10</text>
<line x1="318.60" y1="526.42" x2="322.70" y2="526.42" stroke="#555" stroke-width="0.7" />
<text x="317.60" y="529.52" font-size="7.4" fill="#111" text-anchor="end" font-weight="normal" >15</text>
<line x1="318.60" y1="496.60" x2="322.70" y2="496.60" stroke="#555" stroke-width="0.7" />
<text x="317.60" y="499.70" font-size="7.4" fill="#111" text-anchor="end" font-weight="normal" >20</text>
<text x="303.60" y="555.80" font-size="7.2" fill="#111" text-anchor="middle" font-weight="normal" transform="rotate(-90 303.60 555.80)" >LGR5+ TEC in PanCK+ cells(%)</text>
<rect x="368.30" y="547.90" width="22.90" height="68.00" fill="#e2636b" stroke="#333" stroke-width="0.6" />
<rect x="336.50" y="614.71" width="19.00" height="1.19" fill="#4f8fcf" stroke="#2a5a9a" stroke-width="0.5" />
<line x1="379.90" y1="523.44" x2="379.90" y2="572.36" stroke="#333" stroke-width="0.6" />
<line x1="374.40" y1="523.44" x2="385.60" y2="523.44" stroke="#333" stroke-width="0.6" />
<line x1="374.40" y1="572.36" x2="385.60" y2="572.36" stroke="#333" stroke-width="0.6" />
<circle cx="379.90" cy="511.70" r="3.30" fill="#fff" stroke="#222" stroke-width="0.75" />
<circle cx="379.90" cy="539.90" r="3.30" fill="#fff" stroke="#222" stroke-width="0.75" />
<circle cx="372.20" cy="553.80" r="3.30" fill="#fff" stroke="#222" stroke-width="0.75" />
<circle cx="387.70" cy="557.50" r="3.30" fill="#fff" stroke="#222" stroke-width="0.75" />
<circle cx="379.90" cy="577.30" r="3.30" fill="#fff" stroke="#222" stroke-width="0.75" />
<circle cx="336.60" cy="611.20" r="3.30" fill="#fff" stroke="#222" stroke-width="0.75" />
<circle cx="340.00" cy="606.50" r="3.30" fill="#fff" stroke="#222" stroke-width="0.75" />
<circle cx="344.20" cy="606.00" r="3.30" fill="#fff" stroke="#222" stroke-width="0.75" />
<circle cx="348.40" cy="607.20" r="3.30" fill="#fff" stroke="#222" stroke-width="0.75" />
<circle cx="352.60" cy="609.40" r="3.30" fill="#fff" stroke="#222" stroke-width="0.75" />
<circle cx="354.40" cy="611.80" r="3.30" fill="#fff" stroke="#222" stroke-width="0.75" />
<circle cx="338.00" cy="611.80" r="3.30" fill="#fff" stroke="#222" stroke-width="0.75" />
<circle cx="341.80" cy="610.60" r="3.30" fill="#fff" stroke="#222" stroke-width="0.75" />
<circle cx="346.40" cy="612.60" r="3.30" fill="#fff" stroke="#222" stroke-width="0.75" />
<circle cx="350.80" cy="611.80" r="3.30" fill="#fff" stroke="#222" stroke-width="0.75" />
<path d="M345.6 602.8V496.6H379.9V503.7" fill="none" stroke="#222" stroke-width="0.8" />
<text x="362.20" y="497.80" font-size="16.2" fill="#111" text-anchor="middle" font-weight="normal" >****</text>
<line x1="345.60" y1="615.90" x2="345.60" y2="619.50" stroke="#555" stroke-width="0.6" />
<text x="345.60" y="630.00" font-size="7.4" fill="#111" text-anchor="middle" font-weight="normal" >TH</text>
<line x1="379.90" y1="615.90" x2="379.90" y2="619.50" stroke="#555" stroke-width="0.6" />
<text x="379.90" y="630.00" font-size="7.4" fill="#111" text-anchor="middle" font-weight="normal" >MGTH</text>
<text x="405.10" y="494.80" font-size="16.2" fill="#231815" text-anchor="start" font-weight="bold" >H</text>
<path d="M434.6 498.6 q0.4-2.6 2-3 q1.6-0.8 3.2 0.2 q1.8 0.8 1.6 2.8 q0.2 2.8-2.4 3.4 q-2 0.6-3.4-0.8 q-1-1-1-2.6Z" fill="#b43c4a" stroke="#8c2c38" stroke-width="0.4" />
<line x1="442.40" y1="499.50" x2="453.00" y2="499.50" stroke="#777" stroke-width="0.6" />
<path d="M454.8 499.5l-2.6-1.5v3Z" fill="#777" stroke="none" stroke-width="0" />
<rect x="457.60" y="488.30" width="6.60" height="3.20" fill="#3c8cc4" stroke="#2a6a9a" stroke-width="0.3" />
<rect x="458.60" y="486.90" width="4.60" height="1.60" fill="#3c8cc4" stroke="none" stroke-width="0" />
<path d="M457.8 491.6H464V503L461.6 509.6Q460.9 510.4 460.2 509.6L457.8 503Z" fill="#fbeef1" stroke="#b08890" stroke-width="0.4" />
<path d="M458 498.6H463.8V503L461.5 509.4Q460.9 510 460.3 509.4L458 503Z" fill="#f0b0bd" stroke="none" stroke-width="0" />
<line x1="464.00" y1="493.50" x2="472.60" y2="489.80" stroke="#666" stroke-width="0.4" />
<line x1="464.00" y1="507.00" x2="474.50" y2="505.40" stroke="#333" stroke-width="0.5" stroke-dasharray="1 0.9"/>
<circle cx="481.30" cy="496.90" r="10.50" fill="#fadbe3" stroke="#999" stroke-width="0.5" />
<path d="M480.1 493.5L478.5 494.2L478.9 495.9L477.4 495.2L476.3 496.5L475.9 494.8L474.2 494.8L475.3 493.5L474.2 492.2L475.9 492.2L476.3 490.5L477.4 491.8L478.9 491.1L478.5 492.8Z" fill="#b9a0e0" stroke="#b9a0e0" stroke-width="0.5" opacity="0.85" stroke-linejoin="round"/>
<circle cx="477.00" cy="493.50" r="0.99" fill="#7a5cc0" stroke="none" stroke-width="0.6" />
<path d="M486.8 491.2L485.2 492.0L485.6 493.7L484.0 492.9L482.9 494.3L482.5 492.6L480.7 492.6L481.8 491.2L480.7 489.8L482.5 489.8L482.9 488.1L484.0 489.5L485.6 488.7L485.2 490.4Z" fill="#46c8f0" stroke="#46c8f0" stroke-width="0.5" opacity="0.85" stroke-linejoin="round"/>
<circle cx="483.60" cy="491.20" r="1.02" fill="#2a90c8" stroke="none" stroke-width="0.6" />
<path d="M490.5 496.0L488.9 496.7L489.3 498.4L487.8 497.7L486.7 499.0L486.3 497.3L484.6 497.3L485.7 496.0L484.6 494.7L486.3 494.7L486.7 493.0L487.8 494.3L489.3 493.6L488.9 495.3Z" fill="#f0605c" stroke="#f0605c" stroke-width="0.5" opacity="0.85" stroke-linejoin="round"/>
<circle cx="487.40" cy="496.00" r="0.99" fill="#c83030" stroke="none" stroke-width="0.6" />
<path d="M486.4 502.0L484.7 502.8L485.1 504.7L483.4 503.8L482.2 505.3L481.8 503.5L479.9 503.5L481.1 502.0L479.9 500.5L481.8 500.5L482.2 498.7L483.4 500.2L485.1 499.3L484.7 501.2Z" fill="#66e052" stroke="#66e052" stroke-width="0.5" opacity="0.85" stroke-linejoin="round"/>
<circle cx="483.00" cy="502.00" r="1.09" fill="#2ea02a" stroke="none" stroke-width="0.6" />
<path d="M479.2 500.0L477.9 500.6L478.2 502.0L476.9 501.4L476.0 502.5L475.7 501.1L474.3 501.1L475.2 500.0L474.3 498.9L475.7 498.9L476.0 497.5L476.9 498.6L478.2 498.0L477.9 499.4Z" fill="#b9a0e0" stroke="#b9a0e0" stroke-width="0.5" opacity="0.85" stroke-linejoin="round"/>
<circle cx="476.60" cy="500.00" r="0.83" fill="#7a5cc0" stroke="none" stroke-width="0.6" />
<path d="M481.7 497.4L480.7 497.9L481.0 498.9L480.0 498.4L479.4 499.3L479.1 498.2L478.1 498.2L478.8 497.4L478.1 496.6L479.1 496.6L479.4 495.5L480.0 496.4L481.0 495.9L480.7 496.9Z" fill="#5a7ad8" stroke="#5a7ad8" stroke-width="0.5" opacity="0.85" stroke-linejoin="round"/>
<path d="M504.9 504.4V498.4A7.0 7.0 0 0 1 518.9 498.4V504.4H514.6V498.4A2.7 2.7 0 0 0 509.2 498.4V504.4Z" fill="#b8323a" stroke="#7a1c22" stroke-width="0.3" />
<rect x="504.90" y="501.40" width="4.30" height="3.00" fill="#d4d4d4" stroke="#666" stroke-width="0.4" />
<rect x="514.60" y="501.40" width="4.30" height="3.00" fill="#d4d4d4" stroke="#666" stroke-width="0.4" />
<path d="M521.2 504.4V498.4A7.0 7.0 0 0 1 535.2 498.4V504.4H530.9V498.4A2.7 2.7 0 0 0 525.5 498.4V504.4Z" fill="#b8323a" stroke="#7a1c22" stroke-width="0.3" />
<rect x="521.20" y="501.40" width="4.30" height="3.00" fill="#d4d4d4" stroke="#666" stroke-width="0.4" />
<rect x="530.90" y="501.40" width="4.30" height="3.00" fill="#d4d4d4" stroke="#666" stroke-width="0.4" />
<text x="461.90" y="519.40" font-size="7.0" fill="#111" text-anchor="middle" font-weight="normal" >MGTH tissue</text>
<text x="461.90" y="527.70" font-size="7.0" fill="#111" text-anchor="middle" font-weight="normal" >suspension</text>
<text x="518.70" y="516.30" font-size="7.0" fill="#111" text-anchor="middle" font-weight="normal" >EpCAM &amp;</text>
<text x="518.70" y="524.90" font-size="7.0" fill="#111" text-anchor="middle" font-weight="normal" >LGR5 beads</text>
<text x="520.10" y="539.80" font-size="7.0" fill="#111" text-anchor="middle" font-weight="normal" >Other TECs</text>
<line x1="460.90" y1="531.20" x2="460.90" y2="544.20" stroke="#111" stroke-width="0.7" />
<path d="M460.9 547l-2-4.2h4Z" fill="#111" stroke="none" stroke-width="0" />
<path d="M439.5 563H450V566.6H440.6Q438 568.8 440.6 571H450V574.6H439.5Q433.6 574 433.6 568.8Q433.6 563.6 439.5 563Z" fill="#b8323a" stroke="#7a1c22" stroke-width="0.3" />
<rect x="446.20" y="563.00" width="2.60" height="3.60" fill="#e8a04a" stroke="#555" stroke-width="0.3" />
<rect x="446.20" y="571.00" width="2.60" height="3.60" fill="#e8a04a" stroke="#555" stroke-width="0.3" />
<rect x="448.80" y="563.00" width="1.60" height="3.60" fill="#222" stroke="none" stroke-width="0.6" />
<rect x="448.80" y="571.00" width="1.60" height="3.60" fill="#222" stroke="none" stroke-width="0.6" />
<rect x="451.20" y="562.40" width="1.70" height="13.00" fill="#222" stroke="none" stroke-width="0.6" />
<path d="M447.6 547H453.6V557L451.8 562.6H449.4L447.6 557Z" fill="#dfeefa" stroke="#9ab" stroke-width="0.4" />
<ellipse cx="450.6" cy="547" rx="3.4" ry="1.1" fill="#f4f4f4" stroke="#999" stroke-width="0.4"/>
<circle cx="450.00" cy="551.00" r="0.90" fill="#46c8f0" stroke="none" stroke-width="0.6" />
<circle cx="451.60" cy="553.60" r="0.90" fill="#f0605c" stroke="none" stroke-width="0.6" />
<circle cx="449.60" cy="555.60" r="0.90" fill="#66e052" stroke="none" stroke-width="0.6" />
<circle cx="451.00" cy="557.60" r="0.90" fill="#b9a0e0" stroke="none" stroke-width="0.6" />
<path d="M466.6 543.2V572.1A4.1 4.1 0 0 0 474.8 572.1V543.2" fill="#e3eff8" stroke="#9ab" stroke-width="0.5" />
<path d="M467.0 567.1V572.1A3.7 3.7 0 0 0 474.4 572.1V567.1Z" fill="#c4dcee" stroke="none" stroke-width="0" />
<ellipse cx="470.7" cy="543.2" rx="4.7" ry="1.3" fill="#f2f7fb" stroke="#9ab" stroke-width="0.5"/>
<line x1="474.80" y1="553.00" x2="481.00" y2="552.40" stroke="#666" stroke-width="0.4" />
<line x1="474.80" y1="568.40" x2="483.00" y2="566.80" stroke="#666" stroke-width="0.4" />
<circle cx="489.50" cy="559.20" r="9.80" fill="#fadbe3" stroke="#999" stroke-width="0.5" />
<path d="M492.3 554.6L490.6 555.4L491.1 557.2L489.4 556.4L488.3 557.8L487.9 556.0L486.0 556.0L487.2 554.6L486.0 553.2L487.9 553.2L488.3 551.4L489.4 552.8L491.1 552.0L490.6 553.8Z" fill="#f0605c" stroke="#f0605c" stroke-width="0.5" opacity="0.85" stroke-linejoin="round"/>
<circle cx="489.00" cy="554.60" r="1.06" fill="#c83030" stroke="none" stroke-width="0.6" />
<path d="M488.3 563.2L486.6 563.3L486.3 565.1L485.1 563.7L483.5 564.6L483.9 562.8L482.2 562.2L483.8 561.3L483.3 559.6L484.9 560.3L486.0 558.8L486.4 560.6L488.2 560.5L487.2 561.9Z" fill="#f0605c" stroke="#f0605c" stroke-width="0.5" opacity="0.85" stroke-linejoin="round"/>
<circle cx="485.40" cy="562.00" r="1.02" fill="#c83030" stroke="none" stroke-width="0.6" />
<path d="M495.7 564.0L494.0 563.3L493.0 564.9L492.4 563.1L490.6 563.3L491.6 561.8L490.3 560.5L492.1 560.3L492.4 558.5L493.6 559.8L495.2 558.8L495.0 560.7L496.7 561.3L495.1 562.2Z" fill="#f0605c" stroke="#f0605c" stroke-width="0.5" opacity="0.85" stroke-linejoin="round"/>
<circle cx="493.40" cy="561.60" r="1.06" fill="#c83030" stroke="none" stroke-width="0.6" />
<path d="M504.8 543.2V572.3A3.9 3.9 0 0 0 512.6 572.3V543.2" fill="#e3eff8" stroke="#9ab" stroke-width="0.5" />
<path d="M505.2 567.3V572.3A3.5 3.5 0 0 0 512.2 572.3V567.3Z" fill="#c4dcee" stroke="none" stroke-width="0" />
<ellipse cx="508.7" cy="543.2" rx="4.5" ry="1.3" fill="#f2f7fb" stroke="#9ab" stroke-width="0.5"/>
<line x1="512.60" y1="553.00" x2="519.80" y2="552.40" stroke="#666" stroke-width="0.4" />
<line x1="512.60" y1="568.40" x2="521.80" y2="566.80" stroke="#666" stroke-width="0.4" />
<circle cx="528.30" cy="559.20" r="9.80" fill="#fadbe3" stroke="#999" stroke-width="0.5" />
<path d="M531.1 553.8L529.4 554.6L529.9 556.4L528.2 555.6L527.1 557.0L526.7 555.2L524.8 555.2L526.0 553.8L524.8 552.4L526.7 552.4L527.1 550.6L528.2 552.0L529.9 551.2L529.4 553.0Z" fill="#46c8f0" stroke="#46c8f0" stroke-width="0.5" opacity="0.85" stroke-linejoin="round"/>
<circle cx="527.80" cy="553.80" r="1.06" fill="#2a90c8" stroke="none" stroke-width="0.6" />
<path d="M526.9 559.6L525.4 560.3L525.8 561.9L524.4 561.2L523.4 562.4L523.0 560.8L521.4 560.9L522.4 559.6L521.4 558.3L523.0 558.4L523.4 556.8L524.4 558.0L525.8 557.3L525.4 558.9Z" fill="#b9a0e0" stroke="#b9a0e0" stroke-width="0.5" opacity="0.85" stroke-linejoin="round"/>
<circle cx="524.00" cy="559.60" r="0.93" fill="#7a5cc0" stroke="none" stroke-width="0.6" />
<path d="M535.1 560.8L533.5 560.7L533.1 562.3L532.2 560.9L530.7 561.6L531.1 560.0L529.7 559.3L531.2 558.6L530.9 557.0L532.3 557.8L533.4 556.6L533.7 558.2L535.3 558.3L534.2 559.5Z" fill="#b9a0e0" stroke="#b9a0e0" stroke-width="0.5" opacity="0.85" stroke-linejoin="round"/>
<circle cx="532.60" cy="559.40" r="0.93" fill="#7a5cc0" stroke="none" stroke-width="0.6" />
<path d="M531.8 565.2L530.1 566.0L530.5 567.9L528.8 567.0L527.6 568.5L527.2 566.7L525.3 566.7L526.5 565.2L525.3 563.7L527.2 563.7L527.6 561.9L528.8 563.4L530.5 562.5L530.1 564.4Z" fill="#66e052" stroke="#66e052" stroke-width="0.5" opacity="0.85" stroke-linejoin="round"/>
<circle cx="528.40" cy="565.20" r="1.09" fill="#2ea02a" stroke="none" stroke-width="0.6" />
<text x="484" y="583.8" font-size="7.0" fill="#111" text-anchor="middle">LGR5<tspan dy="-2.3" font-size="4.6">+</tspan><tspan dy="2.3"> TECs(nsTECs)</tspan></text>
<path d="M440.7 600.8A20.2 9.8 0 0 1 481.1 600.8V604.8A20.2 9.8 0 0 1 440.7 604.8Z" fill="#fbe4eb" stroke="#8c8c8c" stroke-width="0.6" />
<ellipse cx="460.9" cy="603.8" rx="19.0" ry="9.2" fill="#f9d0dc" stroke="none"/>
<ellipse cx="460.9" cy="600.8" rx="20.2" ry="9.8" fill="none" stroke="#8c8c8c" stroke-width="0.6"/>
<ellipse cx="460.9" cy="601.4" rx="18.6" ry="8.5" fill="none" stroke="#b9a6ae" stroke-width="0.4"/>
<path d="M449.8 596.7l0.9 0.6M460.9 606.8l0.9 0.6M463.9 602.2l0.9 0.6M446.8 598.0l0.9 0.6M450.3 605.6l0.9 0.6M473.7 598.8l0.9 0.6M448.0 597.2l0.9 0.6M449.8 603.8l0.9 0.6M474.3 607.5l0.9 0.6M464.6 596.7l0.9 0.6M457.0 606.4l0.9 0.6M461.2 598.8l0.9 0.6M465.8 597.6l0.9 0.6M454.2 596.6l0.9 0.6M450.0 600.0l0.9 0.6M469.5 605.4l0.9 0.6M466.0 602.5l0.9 0.6M461.3 607.0l0.9 0.6M470.4 599.1l0.9 0.6M462.4 600.3l0.9 0.6M475.3 599.6l0.9 0.6M452.0 608.5l0.9 0.6M462.5 608.1l0.9 0.6M460.4 600.6l0.9 0.6M456.5 601.8l0.9 0.6M463.6 600.3l0.9 0.6M453.0 605.7l0.9 0.6M470.0 596.9l0.9 0.6M471.9 597.2l0.9 0.6M449.8 601.4l0.9 0.6M459.9 599.4l0.9 0.6M454.2 606.9l0.9 0.6M448.4 605.6l0.9 0.6M472.8 603.2l0.9 0.6M458.8 604.6l0.9 0.6M450.3 605.0l0.9 0.6M466.1 606.1l0.9 0.6M452.0 607.9l0.9 0.6M472.9 598.3l0.9 0.6M452.4 604.2l0.9 0.6M446.9 598.2l0.9 0.6M451.9 601.9l0.9 0.6M456.3 606.1l0.9 0.6M460.0 607.5l0.9 0.6M473.1 605.8l0.9 0.6M466.8 596.8l0.9 0.6M456.1 600.9l0.9 0.6M446.4 598.4l0.9 0.6M450.7 608.8l0.9 0.6M475.8 598.2l0.9 0.6M459.7 599.4l0.9 0.6M466.6 600.8l0.9 0.6M447.5 597.2l0.9 0.6M446.9 607.2l0.9 0.6M471.3 604.3l0.9 0.6M463.5 598.4l0.9 0.6M455.2 602.6l0.9 0.6M455.4 597.4l0.9 0.6M448.6 604.0l0.9 0.6M451.1 599.3l0.9 0.6" fill="none" stroke="#3a6ab8" stroke-width="0.7" stroke-linecap="round"/>
<path d="M455.9 603.6L454.1 604.4L454.6 606.3L452.8 605.5L451.6 607.0L451.2 605.1L449.2 605.1L450.5 603.6L449.2 602.1L451.2 602.1L451.6 600.2L452.8 601.7L454.6 600.9L454.1 602.8Z" fill="#66e052" stroke="#66e052" stroke-width="0.5" opacity="0.85" stroke-linejoin="round"/>
<circle cx="452.40" cy="603.60" r="1.12" fill="#2ea02a" stroke="none" stroke-width="0.6" />
<path d="M462.7 598.2L461.0 599.0L461.5 600.8L459.8 600.0L458.7 601.4L458.3 599.6L456.4 599.6L457.6 598.2L456.4 596.8L458.3 596.8L458.7 595.0L459.8 596.4L461.5 595.6L461.0 597.4Z" fill="#46c8f0" stroke="#46c8f0" stroke-width="0.5" opacity="0.85" stroke-linejoin="round"/>
<circle cx="459.40" cy="598.20" r="1.06" fill="#2a90c8" stroke="none" stroke-width="0.6" />
<path d="M470.1 607.2L468.3 608.0L468.8 609.9L467.0 609.1L465.8 610.6L465.4 608.7L463.4 608.7L464.7 607.2L463.4 605.7L465.4 605.7L465.8 603.8L467.0 605.3L468.8 604.5L468.3 606.4Z" fill="#66e052" stroke="#66e052" stroke-width="0.5" opacity="0.85" stroke-linejoin="round"/>
<circle cx="466.60" cy="607.20" r="1.12" fill="#2ea02a" stroke="none" stroke-width="0.6" />
<path d="M475.5 602.4L473.9 603.1L474.3 604.8L472.8 604.1L471.7 605.4L471.3 603.7L469.6 603.7L470.7 602.4L469.6 601.1L471.3 601.1L471.7 599.4L472.8 600.7L474.3 600.0L473.9 601.7Z" fill="#46c8f0" stroke="#46c8f0" stroke-width="0.5" opacity="0.85" stroke-linejoin="round"/>
<circle cx="472.40" cy="602.40" r="0.99" fill="#2a90c8" stroke="none" stroke-width="0.6" />
<path d="M465.0 604.2L463.7 604.8L464.0 606.2L462.7 605.6L461.8 606.7L461.5 605.3L460.1 605.3L461.0 604.2L460.1 603.1L461.5 603.1L461.8 601.7L462.7 602.8L464.0 602.2L463.7 603.6Z" fill="#b9a0e0" stroke="#b9a0e0" stroke-width="0.5" opacity="0.85" stroke-linejoin="round"/>
<circle cx="462.40" cy="604.20" r="0.83" fill="#7a5cc0" stroke="none" stroke-width="0.6" />
<path d="M498.9 600.8A20.2 9.8 0 0 1 539.3 600.8V604.8A20.2 9.8 0 0 1 498.9 604.8Z" fill="#fbe4eb" stroke="#8c8c8c" stroke-width="0.6" />
<ellipse cx="519.1" cy="603.8" rx="19.0" ry="9.2" fill="#f9d0dc" stroke="none"/>
<ellipse cx="519.1" cy="600.8" rx="20.2" ry="9.8" fill="none" stroke="#8c8c8c" stroke-width="0.6"/>
<ellipse cx="519.1" cy="601.4" rx="18.6" ry="8.5" fill="none" stroke="#b9a6ae" stroke-width="0.4"/>
<path d="M505.3 600.6l0.9 0.6M507.6 605.7l0.9 0.6M520.8 601.2l0.9 0.6M523.2 598.3l0.9 0.6M513.8 607.3l0.9 0.6M523.4 605.0l0.9 0.6M514.7 605.6l0.9 0.6M508.0 603.3l0.9 0.6M513.6 606.1l0.9 0.6M516.0 602.0l0.9 0.6M531.5 603.4l0.9 0.6M507.6 597.2l0.9 0.6M506.7 603.3l0.9 0.6M520.9 606.5l0.9 0.6M533.0 605.1l0.9 0.6M531.3 606.4l0.9 0.6M525.1 602.6l0.9 0.6M506.1 607.3l0.9 0.6M528.3 597.7l0.9 0.6M524.6 607.3l0.9 0.6M508.4 601.0l0.9 0.6M518.0 597.5l0.9 0.6M505.6 604.1l0.9 0.6M528.2 602.0l0.9 0.6M525.7 601.7l0.9 0.6M528.2 607.0l0.9 0.6M526.9 598.1l0.9 0.6M512.1 604.0l0.9 0.6M527.8 601.5l0.9 0.6M511.6 603.0l0.9 0.6M508.2 602.6l0.9 0.6M515.8 598.1l0.9 0.6M519.0 602.7l0.9 0.6M512.7 607.1l0.9 0.6M522.3 598.5l0.9 0.6M522.2 596.5l0.9 0.6M511.3 597.2l0.9 0.6M522.8 602.1l0.9 0.6M514.8 608.5l0.9 0.6M526.1 596.9l0.9 0.6M512.8 608.7l0.9 0.6M528.1 603.0l0.9 0.6M516.6 597.9l0.9 0.6M520.7 601.6l0.9 0.6M524.3 599.0l0.9 0.6M519.7 605.3l0.9 0.6M511.8 603.1l0.9 0.6M533.5 600.0l0.9 0.6M507.0 599.6l0.9 0.6M513.8 607.2l0.9 0.6M520.6 605.9l0.9 0.6M505.0 601.8l0.9 0.6M508.7 601.4l0.9 0.6M528.1 605.5l0.9 0.6M527.6 608.4l0.9 0.6M523.2 597.4l0.9 0.6M531.2 598.4l0.9 0.6M526.8 600.9l0.9 0.6M513.1 602.7l0.9 0.6M523.4 597.3l0.9 0.6" fill="none" stroke="#3a6ab8" stroke-width="0.7" stroke-linecap="round"/>
<path d="M511.9 605.0L510.3 604.6L509.6 606.1L508.9 604.6L507.4 605.0L508.0 603.6L506.8 602.6L508.3 602.2L508.3 600.6L509.6 601.6L510.8 600.6L510.8 602.2L512.4 602.5L511.2 603.5Z" fill="#f0605c" stroke="#f0605c" stroke-width="0.5" opacity="0.85" stroke-linejoin="round"/>
<circle cx="509.60" cy="603.20" r="0.93" fill="#c83030" stroke="none" stroke-width="0.6" />
<path d="M518.1 600.8L516.5 600.3L515.7 601.7L515.2 600.2L513.6 600.4L514.4 599.0L513.3 597.9L514.9 597.7L515.0 596.1L516.2 597.2L517.5 596.3L517.3 597.9L518.9 598.5L517.5 599.3Z" fill="#f0605c" stroke="#f0605c" stroke-width="0.5" opacity="0.85" stroke-linejoin="round"/>
<circle cx="516.00" cy="598.80" r="0.93" fill="#c83030" stroke="none" stroke-width="0.6" />
<path d="M524.5 605.5L523.0 606.0L523.2 607.6L521.8 606.8L520.7 608.0L520.5 606.3L518.9 606.2L520.0 605.0L519.1 603.7L520.7 603.9L521.2 602.3L522.1 603.7L523.6 603.1L523.1 604.6Z" fill="#f0605c" stroke="#f0605c" stroke-width="0.5" opacity="0.85" stroke-linejoin="round"/>
<circle cx="521.60" cy="605.20" r="0.93" fill="#c83030" stroke="none" stroke-width="0.6" />
<path d="M530.8 601.2L529.3 601.6L529.3 603.2L528.0 602.2L526.8 603.2L526.8 601.6L525.2 601.3L526.4 600.3L525.7 598.8L527.3 599.2L528.0 597.7L528.7 599.2L530.2 598.8L529.6 600.2Z" fill="#f0605c" stroke="#f0605c" stroke-width="0.5" opacity="0.85" stroke-linejoin="round"/>
<circle cx="528.00" cy="600.60" r="0.93" fill="#c83030" stroke="none" stroke-width="0.6" />
<path d="M517.0 605.9L516.2 607.3L517.4 608.4L515.8 608.7L515.7 610.3L514.5 609.2L513.2 610.1L513.3 608.5L511.7 608.1L513.1 607.2L512.4 605.7L514.0 606.1L514.8 604.7L515.4 606.2Z" fill="#f0605c" stroke="#f0605c" stroke-width="0.5" opacity="0.85" stroke-linejoin="round"/>
<circle cx="514.60" cy="607.60" r="0.93" fill="#c83030" stroke="none" stroke-width="0.6" />
<path d="M521.6 598.9L522.8 597.9L522.1 596.4L523.7 596.8L524.3 595.3L525.1 596.7L526.6 596.3L525.9 597.8L527.2 598.8L525.7 599.2L525.7 600.8L524.4 599.8L523.2 600.8L523.2 599.2Z" fill="#f0605c" stroke="#f0605c" stroke-width="0.5" opacity="0.85" stroke-linejoin="round"/>
<circle cx="524.40" cy="598.20" r="0.93" fill="#c83030" stroke="none" stroke-width="0.6" />
<text x="460.30" y="620.60" font-size="7.0" fill="#111" text-anchor="middle" font-weight="normal" >Other TECs with</text>
<text x="460.30" y="629.10" font-size="7.0" fill="#111" text-anchor="middle" font-weight="normal" >OVA peptide</text>
<text x="519.10" y="620.60" font-size="7.0" fill="#111" text-anchor="middle" font-weight="normal" >nsTECs with</text>
<text x="519.10" y="629.10" font-size="7.0" fill="#111" text-anchor="middle" font-weight="normal" >OVA peptide</text>
<path d="M565.0 493.2A20.2 9.4 0 0 1 605.4 493.2V497.0A20.2 9.4 0 0 1 565.0 497.0Z" fill="#fbe4eb" stroke="#8c8c8c" stroke-width="0.6" />
<ellipse cx="585.2" cy="496.1" rx="19.0" ry="8.8" fill="#f9d0dc" stroke="none"/>
<ellipse cx="585.2" cy="493.2" rx="20.2" ry="9.4" fill="none" stroke="#8c8c8c" stroke-width="0.6"/>
<ellipse cx="585.2" cy="493.8" rx="18.6" ry="8.1" fill="none" stroke="#b9a6ae" stroke-width="0.4"/>
<path d="M632.4 493.2A20.2 9.4 0 0 1 672.8 493.2V497.0A20.2 9.4 0 0 1 632.4 497.0Z" fill="#fbe4eb" stroke="#8c8c8c" stroke-width="0.6" />
<ellipse cx="652.6" cy="496.1" rx="19.0" ry="8.8" fill="#f9d0dc" stroke="none"/>
<ellipse cx="652.6" cy="493.2" rx="20.2" ry="9.4" fill="none" stroke="#8c8c8c" stroke-width="0.6"/>
<ellipse cx="652.6" cy="493.8" rx="18.6" ry="8.1" fill="none" stroke="#b9a6ae" stroke-width="0.4"/>
<path d="M576.9 496.0L575.2 496.8L575.7 498.6L574.0 497.8L572.9 499.2L572.5 497.4L570.6 497.4L571.8 496.0L570.6 494.6L572.5 494.6L572.9 492.8L574.0 494.2L575.7 493.4L575.2 495.2Z" fill="#66e052" stroke="#66e052" stroke-width="0.5" opacity="0.85" stroke-linejoin="round"/>
<circle cx="573.60" cy="496.00" r="1.06" fill="#2ea02a" stroke="none" stroke-width="0.6" />
<path d="M585.6 490.6L584.0 491.4L584.4 493.1L582.8 492.3L581.7 493.7L581.3 492.0L579.5 492.0L580.6 490.6L579.5 489.2L581.3 489.2L581.7 487.5L582.8 488.9L584.4 488.1L584.0 489.8Z" fill="#46c8f0" stroke="#46c8f0" stroke-width="0.5" opacity="0.85" stroke-linejoin="round"/>
<circle cx="582.40" cy="490.60" r="1.02" fill="#2a90c8" stroke="none" stroke-width="0.6" />
<path d="M592.2 493.4L590.8 494.1L591.1 495.6L589.7 494.9L588.8 496.1L588.4 494.6L586.9 494.6L587.9 493.4L586.9 492.2L588.4 492.2L588.8 490.7L589.7 491.9L591.1 491.2L590.8 492.7Z" fill="#b9a0e0" stroke="#b9a0e0" stroke-width="0.5" opacity="0.85" stroke-linejoin="round"/>
<circle cx="589.40" cy="493.40" r="0.90" fill="#7a5cc0" stroke="none" stroke-width="0.6" />
<path d="M584.8 497.8L583.4 498.5L583.7 500.0L582.3 499.3L581.4 500.5L581.0 499.0L579.5 499.0L580.5 497.8L579.5 496.6L581.0 496.6L581.4 495.1L582.3 496.3L583.7 495.6L583.4 497.1Z" fill="#b9a0e0" stroke="#b9a0e0" stroke-width="0.5" opacity="0.85" stroke-linejoin="round"/>
<circle cx="582.00" cy="497.80" r="0.90" fill="#7a5cc0" stroke="none" stroke-width="0.6" />
<path d="M592.0 501.4L590.3 502.2L590.7 504.1L589.0 503.2L587.8 504.7L587.4 502.9L585.5 502.9L586.7 501.4L585.5 499.9L587.4 499.9L587.8 498.1L589.0 499.6L590.7 498.7L590.3 500.6Z" fill="#66e052" stroke="#66e052" stroke-width="0.5" opacity="0.85" stroke-linejoin="round"/>
<circle cx="588.60" cy="501.40" r="1.09" fill="#2ea02a" stroke="none" stroke-width="0.6" />
<path d="M599.6 496.4L598.0 497.2L598.4 498.9L596.8 498.1L595.7 499.5L595.3 497.8L593.5 497.8L594.6 496.4L593.5 495.0L595.3 495.0L595.7 493.3L596.8 494.7L598.4 493.9L598.0 495.6Z" fill="#46c8f0" stroke="#46c8f0" stroke-width="0.5" opacity="0.85" stroke-linejoin="round"/>
<circle cx="596.40" cy="496.40" r="1.02" fill="#2a90c8" stroke="none" stroke-width="0.6" />
<path d="M640.5 492.0L640.7 493.7L642.5 493.8L641.3 495.1L642.3 496.5L640.6 496.4L640.1 498.1L639.1 496.6L637.5 497.3L638.0 495.6L636.5 494.8L638.1 494.2L637.8 492.5L639.3 493.3Z" fill="#f0605c" stroke="#f0605c" stroke-width="0.5" opacity="0.85" stroke-linejoin="round"/>
<circle cx="639.60" cy="495.00" r="0.99" fill="#c83030" stroke="none" stroke-width="0.6" />
<path d="M650.1 490.9L648.6 491.9L649.3 493.5L647.7 493.0L646.8 494.5L646.2 492.9L644.5 493.2L645.3 491.7L644.0 490.5L645.7 490.3L645.8 488.5L647.1 489.7L648.5 488.7L648.4 490.4Z" fill="#f0605c" stroke="#f0605c" stroke-width="0.5" opacity="0.85" stroke-linejoin="round"/>
<circle cx="647.00" cy="491.40" r="0.99" fill="#c83030" stroke="none" stroke-width="0.6" />
<path d="M656.6 492.0L654.9 491.8L654.4 493.5L653.5 492.0L651.8 492.6L652.4 491.0L650.9 490.1L652.5 489.5L652.3 487.8L653.8 488.7L655.0 487.5L655.2 489.2L656.9 489.3L655.7 490.6Z" fill="#f0605c" stroke="#f0605c" stroke-width="0.5" opacity="0.85" stroke-linejoin="round"/>
<circle cx="654.00" cy="490.40" r="0.99" fill="#c83030" stroke="none" stroke-width="0.6" />
<path d="M648.6 497.2L648.0 498.9L649.5 499.8L647.8 500.3L648.0 502.1L646.6 501.1L645.3 502.3L645.2 500.6L643.5 500.4L644.7 499.2L643.8 497.7L645.5 497.9L646.1 496.3L647.0 497.8Z" fill="#f0605c" stroke="#f0605c" stroke-width="0.5" opacity="0.85" stroke-linejoin="round"/>
<circle cx="646.40" cy="499.40" r="0.99" fill="#c83030" stroke="none" stroke-width="0.6" />
<path d="M655.1 500.5L654.3 499.0L652.6 499.4L653.3 497.8L652.0 496.8L653.6 496.4L653.6 494.6L655.0 495.7L656.3 494.6L656.3 496.3L658.0 496.6L656.7 497.7L657.5 499.3L655.8 498.9Z" fill="#f0605c" stroke="#f0605c" stroke-width="0.5" opacity="0.85" stroke-linejoin="round"/>
<circle cx="655.00" cy="497.40" r="0.99" fill="#c83030" stroke="none" stroke-width="0.6" />
<path d="M659.9 493.2L661.6 492.7L661.4 491.0L662.8 491.9L664.1 490.7L664.2 492.4L665.9 492.6L664.7 493.8L665.6 495.3L663.9 495.1L663.3 496.7L662.4 495.2L660.8 495.8L661.4 494.1Z" fill="#f0605c" stroke="#f0605c" stroke-width="0.5" opacity="0.85" stroke-linejoin="round"/>
<circle cx="663.00" cy="493.60" r="0.99" fill="#c83030" stroke="none" stroke-width="0.6" />
<path d="M614.6 495.6h7M618.1 492.1v7" fill="none" stroke="#111" stroke-width="0.9" />
<text x="585.00" y="511.40" font-size="7.0" fill="#111" text-anchor="middle" font-weight="normal" >All TECs</text>
<text x="651.60" y="511.40" font-size="7.0" fill="#111" text-anchor="middle" font-weight="normal" >nsTECs</text>
<path d="M564.8 528.2A20.2 9.4 0 0 1 605.2 528.2V532.0A20.2 9.4 0 0 1 564.8 532.0Z" fill="#fbe4eb" stroke="#8c8c8c" stroke-width="0.6" />
<ellipse cx="585.0" cy="531.1" rx="19.0" ry="8.8" fill="#f9d0dc" stroke="none"/>
<ellipse cx="585.0" cy="528.2" rx="20.2" ry="9.4" fill="none" stroke="#8c8c8c" stroke-width="0.6"/>
<ellipse cx="585.0" cy="528.8" rx="18.6" ry="8.1" fill="none" stroke="#b9a6ae" stroke-width="0.4"/>
<circle cx="575.70" cy="525.30" r="2.15" fill="#5fae74" stroke="none" stroke-width="0" opacity="0.9"/>
<circle cx="581.90" cy="525.30" r="2.15" fill="#5fae74" stroke="none" stroke-width="0" opacity="0.9"/>
<circle cx="588.10" cy="525.30" r="2.15" fill="#5fae74" stroke="none" stroke-width="0" opacity="0.9"/>
<circle cx="594.30" cy="525.30" r="2.15" fill="#5fae74" stroke="none" stroke-width="0" opacity="0.9"/>
<circle cx="572.10" cy="530.20" r="2.15" fill="#5fae74" stroke="none" stroke-width="0" opacity="0.9"/>
<circle cx="578.55" cy="530.20" r="2.15" fill="#5fae74" stroke="none" stroke-width="0" opacity="0.9"/>
<circle cx="585.00" cy="530.20" r="2.15" fill="#5fae74" stroke="none" stroke-width="0" opacity="0.9"/>
<circle cx="591.45" cy="530.20" r="2.15" fill="#5fae74" stroke="none" stroke-width="0" opacity="0.9"/>
<circle cx="597.90" cy="530.20" r="2.15" fill="#5fae74" stroke="none" stroke-width="0" opacity="0.9"/>
<circle cx="575.70" cy="535.10" r="2.15" fill="#5fae74" stroke="none" stroke-width="0" opacity="0.9"/>
<circle cx="581.90" cy="535.10" r="2.15" fill="#5fae74" stroke="none" stroke-width="0" opacity="0.9"/>
<circle cx="588.10" cy="535.10" r="2.15" fill="#5fae74" stroke="none" stroke-width="0" opacity="0.9"/>
<circle cx="594.30" cy="535.10" r="2.15" fill="#5fae74" stroke="none" stroke-width="0" opacity="0.9"/>
<path d="M632.4 528.2A20.2 9.4 0 0 1 672.8 528.2V532.0A20.2 9.4 0 0 1 632.4 532.0Z" fill="#fbe4eb" stroke="#8c8c8c" stroke-width="0.6" />
<ellipse cx="652.6" cy="531.1" rx="19.0" ry="8.8" fill="#f9d0dc" stroke="none"/>
<ellipse cx="652.6" cy="528.2" rx="20.2" ry="9.4" fill="none" stroke="#8c8c8c" stroke-width="0.6"/>
<ellipse cx="652.6" cy="528.8" rx="18.6" ry="8.1" fill="none" stroke="#b9a6ae" stroke-width="0.4"/>
<circle cx="643.30" cy="525.30" r="2.15" fill="#cdb9e4" stroke="none" stroke-width="0" opacity="0.9"/>
<circle cx="649.50" cy="525.30" r="2.15" fill="#cdb9e4" stroke="none" stroke-width="0" opacity="0.9"/>
<circle cx="655.70" cy="525.30" r="2.15" fill="#cdb9e4" stroke="none" stroke-width="0" opacity="0.9"/>
<circle cx="661.90" cy="525.30" r="2.15" fill="#cdb9e4" stroke="none" stroke-width="0" opacity="0.9"/>
<circle cx="639.70" cy="530.20" r="2.15" fill="#cdb9e4" stroke="none" stroke-width="0" opacity="0.9"/>
<circle cx="646.15" cy="530.20" r="2.15" fill="#cdb9e4" stroke="none" stroke-width="0" opacity="0.9"/>
<circle cx="652.60" cy="530.20" r="2.15" fill="#cdb9e4" stroke="none" stroke-width="0" opacity="0.9"/>
<circle cx="659.05" cy="530.20" r="2.15" fill="#cdb9e4" stroke="none" stroke-width="0" opacity="0.9"/>
<circle cx="665.50" cy="530.20" r="2.15" fill="#cdb9e4" stroke="none" stroke-width="0" opacity="0.9"/>
<circle cx="643.30" cy="535.10" r="2.15" fill="#cdb9e4" stroke="none" stroke-width="0" opacity="0.9"/>
<circle cx="649.50" cy="535.10" r="2.15" fill="#cdb9e4" stroke="none" stroke-width="0" opacity="0.9"/>
<circle cx="655.70" cy="535.10" r="2.15" fill="#cdb9e4" stroke="none" stroke-width="0" opacity="0.9"/>
<circle cx="661.90" cy="535.10" r="2.15" fill="#cdb9e4" stroke="none" stroke-width="0" opacity="0.9"/>
<text x="587.4" y="546.9" font-size="7.0" fill="#111" text-anchor="middle">OT-II CD4<tspan dy="-2.3" font-size="4.6">+</tspan><tspan dy="2.3"> T cells</tspan></text>
<text x="654.1" y="546.9" font-size="7.0" fill="#111" text-anchor="middle">OT-I CD8<tspan dy="-2.3" font-size="4.6">+</tspan><tspan dy="2.3"> T cells</tspan></text>
<path d="M566.8 560.2A20.2 9.4 0 0 1 607.2 560.2V564.0A20.2 9.4 0 0 1 566.8 564.0Z" fill="#fbe4eb" stroke="#8c8c8c" stroke-width="0.6" />
<ellipse cx="587.0" cy="563.1" rx="19.0" ry="8.8" fill="#f9d0dc" stroke="none"/>
<ellipse cx="587.0" cy="560.2" rx="20.2" ry="9.4" fill="none" stroke="#8c8c8c" stroke-width="0.6"/>
<ellipse cx="587.0" cy="560.8" rx="18.6" ry="8.1" fill="none" stroke="#b9a6ae" stroke-width="0.4"/>
<circle cx="577.70" cy="557.30" r="2.15" fill="#5fae74" stroke="none" stroke-width="0" opacity="0.9"/>
<circle cx="583.90" cy="557.30" r="2.15" fill="#5fae74" stroke="none" stroke-width="0" opacity="0.9"/>
<circle cx="590.10" cy="557.30" r="2.15" fill="#5fae74" stroke="none" stroke-width="0" opacity="0.9"/>
<circle cx="596.30" cy="557.30" r="2.15" fill="#5fae74" stroke="none" stroke-width="0" opacity="0.9"/>
<circle cx="574.10" cy="562.20" r="2.15" fill="#5fae74" stroke="none" stroke-width="0" opacity="0.9"/>
<circle cx="580.55" cy="562.20" r="2.15" fill="#5fae74" stroke="none" stroke-width="0" opacity="0.9"/>
<circle cx="587.00" cy="562.20" r="2.15" fill="#5fae74" stroke="none" stroke-width="0" opacity="0.9"/>
<circle cx="593.45" cy="562.20" r="2.15" fill="#5fae74" stroke="none" stroke-width="0" opacity="0.9"/>
<circle cx="599.90" cy="562.20" r="2.15" fill="#5fae74" stroke="none" stroke-width="0" opacity="0.9"/>
<circle cx="577.70" cy="567.10" r="2.15" fill="#5fae74" stroke="none" stroke-width="0" opacity="0.9"/>
<circle cx="583.90" cy="567.10" r="2.15" fill="#5fae74" stroke="none" stroke-width="0" opacity="0.9"/>
<circle cx="590.10" cy="567.10" r="2.15" fill="#5fae74" stroke="none" stroke-width="0" opacity="0.9"/>
<circle cx="596.30" cy="567.10" r="2.15" fill="#5fae74" stroke="none" stroke-width="0" opacity="0.9"/>
<path d="M577.7 562.4L576.1 563.1L576.5 564.8L575.0 564.1L573.9 565.4L573.5 563.7L571.8 563.7L572.9 562.4L571.8 561.1L573.5 561.1L573.9 559.4L575.0 560.7L576.5 560.0L576.1 561.7Z" fill="#46c8f0" stroke="#46c8f0" stroke-width="0.5" opacity="0.85" stroke-linejoin="round"/>
<circle cx="574.60" cy="562.40" r="0.99" fill="#2a90c8" stroke="none" stroke-width="0.6" />
<path d="M586.7 565.2L585.1 565.9L585.5 567.6L584.0 566.9L582.9 568.2L582.5 566.5L580.8 566.5L581.9 565.2L580.8 563.9L582.5 563.9L582.9 562.2L584.0 563.5L585.5 562.8L585.1 564.5Z" fill="#46c8f0" stroke="#46c8f0" stroke-width="0.5" opacity="0.85" stroke-linejoin="round"/>
<circle cx="583.60" cy="565.20" r="0.99" fill="#2a90c8" stroke="none" stroke-width="0.6" />
<path d="M592.3 558.6L590.9 559.2L591.3 560.7L589.9 560.0L589.0 561.2L588.7 559.8L587.2 559.8L588.1 558.6L587.2 557.4L588.7 557.4L589.0 556.0L589.9 557.2L591.3 556.5L590.9 558.0Z" fill="#b9a0e0" stroke="#b9a0e0" stroke-width="0.5" opacity="0.85" stroke-linejoin="round"/>
<circle cx="589.60" cy="558.60" r="0.86" fill="#7a5cc0" stroke="none" stroke-width="0.6" />
<path d="M595.4 567.0L593.7 567.8L594.1 569.7L592.4 568.8L591.2 570.3L590.8 568.5L588.9 568.5L590.1 567.0L588.9 565.5L590.8 565.5L591.2 563.7L592.4 565.2L594.1 564.3L593.7 566.2Z" fill="#66e052" stroke="#66e052" stroke-width="0.5" opacity="0.85" stroke-linejoin="round"/>
<circle cx="592.00" cy="567.00" r="1.09" fill="#2ea02a" stroke="none" stroke-width="0.6" />
<path d="M602.2 560.6L600.9 561.2L601.2 562.6L599.9 562.0L599.0 563.1L598.7 561.7L597.3 561.7L598.2 560.6L597.3 559.5L598.7 559.5L599.0 558.1L599.9 559.2L601.2 558.6L600.9 560.0Z" fill="#b9a0e0" stroke="#b9a0e0" stroke-width="0.5" opacity="0.85" stroke-linejoin="round"/>
<circle cx="599.60" cy="560.60" r="0.83" fill="#7a5cc0" stroke="none" stroke-width="0.6" />
<path d="M634.4 560.2A20.2 9.4 0 0 1 674.8 560.2V564.0A20.2 9.4 0 0 1 634.4 564.0Z" fill="#fbe4eb" stroke="#8c8c8c" stroke-width="0.6" />
<ellipse cx="654.6" cy="563.1" rx="19.0" ry="8.8" fill="#f9d0dc" stroke="none"/>
<ellipse cx="654.6" cy="560.2" rx="20.2" ry="9.4" fill="none" stroke="#8c8c8c" stroke-width="0.6"/>
<ellipse cx="654.6" cy="560.8" rx="18.6" ry="8.1" fill="none" stroke="#b9a6ae" stroke-width="0.4"/>
<circle cx="645.30" cy="557.30" r="2.15" fill="#cdb9e4" stroke="none" stroke-width="0" opacity="0.9"/>
<circle cx="651.50" cy="557.30" r="2.15" fill="#cdb9e4" stroke="none" stroke-width="0" opacity="0.9"/>
<circle cx="657.70" cy="557.30" r="2.15" fill="#cdb9e4" stroke="none" stroke-width="0" opacity="0.9"/>
<circle cx="663.90" cy="557.30" r="2.15" fill="#cdb9e4" stroke="none" stroke-width="0" opacity="0.9"/>
<circle cx="641.70" cy="562.20" r="2.15" fill="#cdb9e4" stroke="none" stroke-width="0" opacity="0.9"/>
<circle cx="648.15" cy="562.20" r="2.15" fill="#cdb9e4" stroke="none" stroke-width="0" opacity="0.9"/>
<circle cx="654.60" cy="562.20" r="2.15" fill="#cdb9e4" stroke="none" stroke-width="0" opacity="0.9"/>
<circle cx="661.05" cy="562.20" r="2.15" fill="#cdb9e4" stroke="none" stroke-width="0" opacity="0.9"/>
<circle cx="667.50" cy="562.20" r="2.15" fill="#cdb9e4" stroke="none" stroke-width="0" opacity="0.9"/>
<circle cx="645.30" cy="567.10" r="2.15" fill="#cdb9e4" stroke="none" stroke-width="0" opacity="0.9"/>
<circle cx="651.50" cy="567.10" r="2.15" fill="#cdb9e4" stroke="none" stroke-width="0" opacity="0.9"/>
<circle cx="657.70" cy="567.10" r="2.15" fill="#cdb9e4" stroke="none" stroke-width="0" opacity="0.9"/>
<circle cx="663.90" cy="567.10" r="2.15" fill="#cdb9e4" stroke="none" stroke-width="0" opacity="0.9"/>
<path d="M644.7 562.0L643.1 562.7L643.5 564.4L642.0 563.7L640.9 565.0L640.5 563.3L638.8 563.3L639.9 562.0L638.8 560.7L640.5 560.7L640.9 559.0L642.0 560.3L643.5 559.6L643.1 561.3Z" fill="#46c8f0" stroke="#46c8f0" stroke-width="0.5" opacity="0.85" stroke-linejoin="round"/>
<circle cx="641.60" cy="562.00" r="0.99" fill="#2a90c8" stroke="none" stroke-width="0.6" />
<path d="M653.7 564.6L652.1 565.3L652.5 567.0L651.0 566.3L649.9 567.6L649.5 565.9L647.8 565.9L648.9 564.6L647.8 563.3L649.5 563.3L649.9 561.6L651.0 562.9L652.5 562.2L652.1 563.9Z" fill="#46c8f0" stroke="#46c8f0" stroke-width="0.5" opacity="0.85" stroke-linejoin="round"/>
<circle cx="650.60" cy="564.60" r="0.99" fill="#2a90c8" stroke="none" stroke-width="0.6" />
<path d="M659.7 558.6L658.3 559.2L658.7 560.7L657.3 560.0L656.4 561.2L656.1 559.8L654.6 559.8L655.5 558.6L654.6 557.4L656.1 557.4L656.4 556.0L657.3 557.2L658.7 556.5L658.3 558.0Z" fill="#b9a0e0" stroke="#b9a0e0" stroke-width="0.5" opacity="0.85" stroke-linejoin="round"/>
<circle cx="657.00" cy="558.60" r="0.86" fill="#7a5cc0" stroke="none" stroke-width="0.6" />
<path d="M663.0 567.0L661.3 567.8L661.7 569.7L660.0 568.8L658.8 570.3L658.4 568.5L656.5 568.5L657.7 567.0L656.5 565.5L658.4 565.5L658.8 563.7L660.0 565.2L661.7 564.3L661.3 566.2Z" fill="#66e052" stroke="#66e052" stroke-width="0.5" opacity="0.85" stroke-linejoin="round"/>
<circle cx="659.60" cy="567.00" r="1.09" fill="#2ea02a" stroke="none" stroke-width="0.6" />
<path d="M669.6 560.6L668.3 561.2L668.6 562.6L667.3 562.0L666.4 563.1L666.1 561.7L664.7 561.7L665.6 560.6L664.7 559.5L666.1 559.5L666.4 558.1L667.3 559.2L668.6 558.6L668.3 560.0Z" fill="#b9a0e0" stroke="#b9a0e0" stroke-width="0.5" opacity="0.85" stroke-linejoin="round"/>
<circle cx="667.00" cy="560.60" r="0.83" fill="#7a5cc0" stroke="none" stroke-width="0.6" />
<text x="587" y="578.4" font-size="7.0" fill="#111" text-anchor="middle">OT-II CD4<tspan dy="-2.3" font-size="4.6">+</tspan><tspan dy="2.3"> T cells</tspan></text>
<text x="654.6" y="578.4" font-size="7.0" fill="#111" text-anchor="middle">OT-I CD8<tspan dy="-2.3" font-size="4.6">+</tspan><tspan dy="2.3"> T cells</tspan></text>
<text x="586" y="586.6" font-size="7.0" fill="#111" text-anchor="middle">&amp; other TECs<tspan dy="-2.3" font-size="3.6">OVA</tspan><tspan dy="1.6" font-size="2.4">323-339</tspan></text>
<text x="655" y="586.6" font-size="7.0" fill="#111" text-anchor="middle">&amp; other TECs<tspan dy="-2.3" font-size="3.6">OVA</tspan><tspan dy="1.6" font-size="2.4">257-264</tspan></text>
<path d="M566.8 602.8A20.2 9.4 0 0 1 607.2 602.8V606.6A20.2 9.4 0 0 1 566.8 606.6Z" fill="#fbe4eb" stroke="#8c8c8c" stroke-width="0.6" />
<ellipse cx="587.0" cy="605.6" rx="19.0" ry="8.8" fill="#f9d0dc" stroke="none"/>
<ellipse cx="587.0" cy="602.8" rx="20.2" ry="9.4" fill="none" stroke="#8c8c8c" stroke-width="0.6"/>
<ellipse cx="587.0" cy="603.4" rx="18.6" ry="8.1" fill="none" stroke="#b9a6ae" stroke-width="0.4"/>
<circle cx="577.70" cy="599.90" r="2.15" fill="#5fae74" stroke="none" stroke-width="0" opacity="0.9"/>
<circle cx="583.90" cy="599.90" r="2.15" fill="#5fae74" stroke="none" stroke-width="0" opacity="0.9"/>
<circle cx="590.10" cy="599.90" r="2.15" fill="#5fae74" stroke="none" stroke-width="0" opacity="0.9"/>
<circle cx="596.30" cy="599.90" r="2.15" fill="#5fae74" stroke="none" stroke-width="0" opacity="0.9"/>
<circle cx="574.10" cy="604.80" r="2.15" fill="#5fae74" stroke="none" stroke-width="0" opacity="0.9"/>
<circle cx="580.55" cy="604.80" r="2.15" fill="#5fae74" stroke="none" stroke-width="0" opacity="0.9"/>
<circle cx="587.00" cy="604.80" r="2.15" fill="#5fae74" stroke="none" stroke-width="0" opacity="0.9"/>
<circle cx="593.45" cy="604.80" r="2.15" fill="#5fae74" stroke="none" stroke-width="0" opacity="0.9"/>
<circle cx="599.90" cy="604.80" r="2.15" fill="#5fae74" stroke="none" stroke-width="0" opacity="0.9"/>
<circle cx="577.70" cy="609.70" r="2.15" fill="#5fae74" stroke="none" stroke-width="0" opacity="0.9"/>
<circle cx="583.90" cy="609.70" r="2.15" fill="#5fae74" stroke="none" stroke-width="0" opacity="0.9"/>
<circle cx="590.10" cy="609.70" r="2.15" fill="#5fae74" stroke="none" stroke-width="0" opacity="0.9"/>
<circle cx="596.30" cy="609.70" r="2.15" fill="#5fae74" stroke="none" stroke-width="0" opacity="0.9"/>
<path d="M573.4 602.6L574.9 603.0L575.6 601.5L576.3 603.0L577.9 602.6L577.2 604.1L578.4 605.1L576.8 605.4L576.8 607.0L575.6 606.0L574.3 607.0L574.3 605.4L572.8 605.0L574.1 604.0Z" fill="#f0605c" stroke="#f0605c" stroke-width="0.5" opacity="0.85" stroke-linejoin="round"/>
<circle cx="575.60" cy="604.40" r="0.93" fill="#c83030" stroke="none" stroke-width="0.6" />
<path d="M586.7 607.6L585.6 608.8L586.5 610.1L584.8 610.0L584.3 611.5L583.5 610.1L581.9 610.6L582.5 609.1L581.1 608.3L582.6 607.8L582.5 606.1L583.8 607.0L585.0 605.9L585.1 607.5Z" fill="#f0605c" stroke="#f0605c" stroke-width="0.5" opacity="0.85" stroke-linejoin="round"/>
<circle cx="584.00" cy="608.60" r="0.93" fill="#c83030" stroke="none" stroke-width="0.6" />
<path d="M593.5 601.5L592.1 602.3L592.5 603.8L591.0 603.1L590.0 604.4L589.6 602.9L588.0 602.9L589.0 601.6L588.0 600.4L589.6 600.4L589.9 598.8L590.9 600.0L592.4 599.3L592.0 600.9Z" fill="#f0605c" stroke="#f0605c" stroke-width="0.5" opacity="0.85" stroke-linejoin="round"/>
<circle cx="590.60" cy="601.60" r="0.93" fill="#c83030" stroke="none" stroke-width="0.6" />
<path d="M599.8 608.9L598.3 608.5L597.5 609.9L596.9 608.4L595.3 608.8L596.0 607.3L594.8 606.3L596.4 606.0L596.4 604.4L597.6 605.4L598.9 604.4L598.9 606.0L600.4 606.4L599.1 607.4Z" fill="#f0605c" stroke="#f0605c" stroke-width="0.5" opacity="0.85" stroke-linejoin="round"/>
<circle cx="597.60" cy="607.00" r="0.93" fill="#c83030" stroke="none" stroke-width="0.6" />
<path d="M578.6 599.4L580.1 599.0L580.1 597.4L581.4 598.4L582.6 597.4L582.6 599.0L584.2 599.3L583.0 600.3L583.7 601.8L582.1 601.4L581.5 602.9L580.7 601.4L579.2 601.9L579.9 600.4Z" fill="#f0605c" stroke="#f0605c" stroke-width="0.5" opacity="0.85" stroke-linejoin="round"/>
<circle cx="581.40" cy="600.00" r="0.93" fill="#c83030" stroke="none" stroke-width="0.6" />
<path d="M591.8 613.8L591.4 612.3L589.8 612.3L590.8 611.0L589.8 609.8L591.4 609.8L591.7 608.2L592.7 609.4L594.2 608.7L593.8 610.3L595.3 611.0L593.8 611.7L594.2 613.2L592.8 612.5Z" fill="#f0605c" stroke="#f0605c" stroke-width="0.5" opacity="0.85" stroke-linejoin="round"/>
<circle cx="592.40" cy="611.00" r="0.93" fill="#c83030" stroke="none" stroke-width="0.6" />
<path d="M634.4 602.8A20.2 9.4 0 0 1 674.8 602.8V606.6A20.2 9.4 0 0 1 634.4 606.6Z" fill="#fbe4eb" stroke="#8c8c8c" stroke-width="0.6" />
<ellipse cx="654.6" cy="605.6" rx="19.0" ry="8.8" fill="#f9d0dc" stroke="none"/>
<ellipse cx="654.6" cy="602.8" rx="20.2" ry="9.4" fill="none" stroke="#8c8c8c" stroke-width="0.6"/>
<ellipse cx="654.6" cy="603.4" rx="18.6" ry="8.1" fill="none" stroke="#b9a6ae" stroke-width="0.4"/>
<circle cx="645.30" cy="599.90" r="2.15" fill="#cdb9e4" stroke="none" stroke-width="0" opacity="0.9"/>
<circle cx="651.50" cy="599.90" r="2.15" fill="#cdb9e4" stroke="none" stroke-width="0" opacity="0.9"/>
<circle cx="657.70" cy="599.90" r="2.15" fill="#cdb9e4" stroke="none" stroke-width="0" opacity="0.9"/>
<circle cx="663.90" cy="599.90" r="2.15" fill="#cdb9e4" stroke="none" stroke-width="0" opacity="0.9"/>
<circle cx="641.70" cy="604.80" r="2.15" fill="#cdb9e4" stroke="none" stroke-width="0" opacity="0.9"/>
<circle cx="648.15" cy="604.80" r="2.15" fill="#cdb9e4" stroke="none" stroke-width="0" opacity="0.9"/>
<circle cx="654.60" cy="604.80" r="2.15" fill="#cdb9e4" stroke="none" stroke-width="0" opacity="0.9"/>
<circle cx="661.05" cy="604.80" r="2.15" fill="#cdb9e4" stroke="none" stroke-width="0" opacity="0.9"/>
<circle cx="667.50" cy="604.80" r="2.15" fill="#cdb9e4" stroke="none" stroke-width="0" opacity="0.9"/>
<circle cx="645.30" cy="609.70" r="2.15" fill="#cdb9e4" stroke="none" stroke-width="0" opacity="0.9"/>
<circle cx="651.50" cy="609.70" r="2.15" fill="#cdb9e4" stroke="none" stroke-width="0" opacity="0.9"/>
<circle cx="657.70" cy="609.70" r="2.15" fill="#cdb9e4" stroke="none" stroke-width="0" opacity="0.9"/>
<circle cx="663.90" cy="609.70" r="2.15" fill="#cdb9e4" stroke="none" stroke-width="0" opacity="0.9"/>
<path d="M641.2 606.5L641.7 605.0L640.3 604.2L641.8 603.6L641.6 602.0L643.0 602.8L644.0 601.6L644.3 603.2L645.9 603.3L644.8 604.5L645.7 605.8L644.1 605.7L643.6 607.3L642.7 605.9Z" fill="#f0605c" stroke="#f0605c" stroke-width="0.5" opacity="0.85" stroke-linejoin="round"/>
<circle cx="643.20" cy="604.40" r="0.93" fill="#c83030" stroke="none" stroke-width="0.6" />
<path d="M650.8 605.8L651.9 607.0L653.3 606.2L653.0 607.8L654.5 608.4L653.1 609.2L653.5 610.8L652.0 610.1L651.1 611.5L650.7 609.9L649.1 610.0L650.0 608.7L648.9 607.5L650.5 607.4Z" fill="#f0605c" stroke="#f0605c" stroke-width="0.5" opacity="0.85" stroke-linejoin="round"/>
<circle cx="651.60" cy="608.60" r="0.93" fill="#c83030" stroke="none" stroke-width="0.6" />
<path d="M658.3 598.7L658.9 600.2L660.5 599.9L659.8 601.3L661.0 602.3L659.4 602.6L659.4 604.3L658.1 603.2L656.8 604.2L656.9 602.5L655.4 602.1L656.7 601.2L656.0 599.7L657.6 600.1Z" fill="#f0605c" stroke="#f0605c" stroke-width="0.5" opacity="0.85" stroke-linejoin="round"/>
<circle cx="658.20" cy="601.60" r="0.93" fill="#c83030" stroke="none" stroke-width="0.6" />
<path d="M667.2 604.9L666.7 606.4L668.1 607.2L666.6 607.8L666.8 609.4L665.4 608.6L664.3 609.8L664.1 608.2L662.5 608.0L663.6 606.9L662.7 605.5L664.3 605.7L664.8 604.1L665.7 605.5Z" fill="#f0605c" stroke="#f0605c" stroke-width="0.5" opacity="0.85" stroke-linejoin="round"/>
<circle cx="665.20" cy="607.00" r="0.93" fill="#c83030" stroke="none" stroke-width="0.6" />
<path d="M648.3 602.8L648.0 601.2L646.3 601.2L647.4 599.9L646.4 598.6L648.1 598.7L648.5 597.2L649.4 598.5L650.9 597.8L650.5 599.4L651.9 600.1L650.4 600.7L650.7 602.3L649.3 601.6Z" fill="#f0605c" stroke="#f0605c" stroke-width="0.5" opacity="0.85" stroke-linejoin="round"/>
<circle cx="649.00" cy="600.00" r="0.93" fill="#c83030" stroke="none" stroke-width="0.6" />
<path d="M662.8 611.8L661.2 612.0L661.1 613.7L659.9 612.6L658.6 613.6L658.7 611.9L657.1 611.5L658.5 610.6L657.8 609.1L659.4 609.5L660.1 608.1L660.8 609.6L662.3 609.3L661.6 610.7Z" fill="#f0605c" stroke="#f0605c" stroke-width="0.5" opacity="0.85" stroke-linejoin="round"/>
<circle cx="660.00" cy="611.00" r="0.93" fill="#c83030" stroke="none" stroke-width="0.6" />
<text x="587" y="621.8" font-size="7.0" fill="#111" text-anchor="middle">OT-II CD4<tspan dy="-2.3" font-size="4.6">+</tspan><tspan dy="2.3"> T cells</tspan></text>
<text x="654.6" y="621.8" font-size="7.0" fill="#111" text-anchor="middle">OT-I CD8<tspan dy="-2.3" font-size="4.6">+</tspan><tspan dy="2.3"> T cells</tspan></text>
<text x="584.6" y="630.2" font-size="7.0" fill="#111" text-anchor="middle">&amp; nsTECs<tspan dy="-2.3" font-size="3.6">OVA</tspan></text>
<text x="652.2" y="630.2" font-size="7.0" fill="#111" text-anchor="middle">&amp; nsTECs<tspan dy="-2.3" font-size="3.6">OVA</tspan></text>
<text x="4.60" y="654.30" font-size="16.2" fill="#231815" text-anchor="start" font-weight="bold" >I</text>
<rect x="39.70" y="649.40" width="120.30" height="121.50" fill="#fff" stroke="#4a4a4a" stroke-width="1.0" />
<text x="35.30" y="761.10" font-size="7.4" fill="#111" text-anchor="end" font-weight="normal" >0</text>
<text x="35.30" y="740.25" font-size="7.4" fill="#111" text-anchor="end" font-weight="normal" >50K</text>
<text x="35.30" y="719.40" font-size="7.4" fill="#111" text-anchor="end" font-weight="normal" >100K</text>
<text x="35.30" y="698.55" font-size="7.4" fill="#111" text-anchor="end" font-weight="normal" >150K</text>
<text x="35.30" y="677.70" font-size="7.4" fill="#111" text-anchor="end" font-weight="normal" >200K</text>
<text x="35.30" y="656.85" font-size="7.4" fill="#111" text-anchor="end" font-weight="normal" >250K</text>
<text x="60.80" y="781.30" font-size="7.4" fill="#111" text-anchor="middle" font-weight="normal" >0</text>
<text x="93.1" y="781.9" font-size="7.4" fill="#111" text-anchor="middle">10<tspan dy="-2.6" font-size="6.4">3</tspan></text>
<text x="122.9" y="781.9" font-size="7.4" fill="#111" text-anchor="middle">10<tspan dy="-2.6" font-size="6.4">4</tspan></text>
<text x="152.2" y="781.9" font-size="7.4" fill="#111" text-anchor="middle">10<tspan dy="-2.6" font-size="6.4">5</tspan></text>
<path d="M36.1 758.6H39.7M36.1 737.8H39.7M36.1 716.9H39.7M36.1 696.1H39.7M36.1 675.2H39.7M36.1 654.4H39.7M60.8 770.9v3.2M92.3 770.9v3.2M122.1 770.9v3.2M151.4 770.9v3.2" fill="none" stroke="#222" stroke-width="0.85" />
<path d="M38.0 754.4H39.7M38.0 750.3H39.7M38.0 746.1H39.7M38.0 741.9H39.7M38.0 733.6H39.7M38.0 729.4H39.7M38.0 725.2H39.7M38.0 721.1H39.7M38.0 712.7H39.7M38.0 708.6H39.7M38.0 704.4H39.7M38.0 700.2H39.7M38.0 691.9H39.7M38.0 687.7H39.7M38.0 683.5H39.7M38.0 679.4H39.7M38.0 671.0H39.7M38.0 666.9H39.7M38.0 662.7H39.7M38.0 658.5H39.7M38.0 762.8H39.7M38.0 766.9H39.7M101.3 770.9v1.7M106.5 770.9v1.7M110.2 770.9v1.7M113.1 770.9v1.7M115.5 770.9v1.7M117.5 770.9v1.7M119.2 770.9v1.7M120.7 770.9v1.7M130.9 770.9v1.7M136.1 770.9v1.7M139.7 770.9v1.7M142.6 770.9v1.7M144.9 770.9v1.7M146.9 770.9v1.7M148.6 770.9v1.7M150.1 770.9v1.7M72.5 770.9v1.7M77.5 770.9v1.7M81.0 770.9v1.7M83.8 770.9v1.7M86.0 770.9v1.7M87.9 770.9v1.7M89.6 770.9v1.7M91.0 770.9v1.7M51.8 770.9v1.7M54.3 770.9v1.7" fill="none" stroke="#222" stroke-width="0.5" />
<path d="M56.4 772.0h8.8" fill="none" stroke="#111" stroke-width="2.2" stroke-dasharray="0.7 0.45"/>
<text x="100.50" y="791.50" font-size="7.3" fill="#111" text-anchor="middle" font-weight="normal" >Comp-PE-A</text>
<text x="14.20" y="707.00" font-size="7.2" fill="#111" text-anchor="middle" font-weight="normal" transform="rotate(-90 14.20 707.00)" >FSC-A</text>
<path transform="translate(78 727) scale(.1)" d="M435 0h0M143 175h0M302 179h0M389 101h0M358 155h0M458 0h0M430 294h0M459 199h0M13 87h0M219 177h0M242 165h0M33 50h0M3 0h0M415 0h0M492 370h0M392 21h0M158 116h0M353 216h0M150 108h0M370 288h0M140 40h0M391 215h0M494 0h0M493 233h0M441 230h0M456 192h0M354 185h0M277 181h0M462 250h0M45 261h0M185 41h0M303 272h0M239 40h0M396 169h0M98 121h0M31 206h0M63 112h0M481 197h0M66 95h0M113 39h0M189 273h0M312 216h0M391 209h0M39 261h0M466 27h0M381 256h0M160 28h0M95 194h0M298 129h0M297 181h0M134 231h0M85 152h0M383 44h0M336 257h0M400 286h0M110 229h0M362 270h0M37 0h0M4 158h0M90 137h0M391 0h0M270 163h0M308 150h0M296 0h0M318 53h0M161 160h0M360 220h0M7 232h0M189 22h0M27 25h0M63 92h0M452 144h0M301 84h0M395 128h0M303 232h0M286 229h0M397 166h0M312 18h0M255 93h0M278 215h0M284 251h0M171 273h0M334 27h0M203 96h0M327 10h0M242 0h0M374 24h0M347 0h0M20 311h0M391 205h0M448 76h0M166 158h0M366 198h0M423 353h0M249 240h0M65 327h0M366 206h0M419 301h0M156 317h0M109 258h0M383 154h0M258 277h0M8 105h0M98 316h0M109 119h0M291 72h0M280 369h0M259 103h0M171 170h0M196 28h0M250 70h0M284 112h0M283 37h0M358 292h0M497 67h0M374 6h0M245 280h0M489 233h0M63 0h0M476 85h0M250 266h0M242 62h0M425 119h0M304 123h0M411 0h0M184 48h0M277 240h0M324 319h0M118 143h0M382 139h0M78 216h0M67 171h0M135 211h0M405 51h0M238 155h0M18 211h0M99 221h0M282 0h0M30 247h0M158 166h0M106 170h0M345 0h0M73 157h0M185 0h0M225 0h0M451 163h0M202 152h0M68 159h0M211 173h0M186 153h0M284 280h0M62 247h0M211 342h0M327 370h0M205 244h0M473 247h0M182 370h0M436 54h0M167 117h0M200 185h0M352 0h0M269 267h0M466 338h0M443 10h0M142 61h0M162 259h0M323 311h0M396 0h0M56 217h0M453 130h0" stroke="#777" stroke-width="5.5" stroke-linecap="round" fill="none"/>
<path transform="translate(118 731) scale(.1)" d="M109 104h0M60 76h0M170 101h0M284 134h0M162 172h0M50 209h0M46 121h0M242 227h0M106 223h0M23 151h0M268 70h0M306 262h0M190 144h0M20 136h0M76 141h0M224 279h0M238 241h0M26 303h0M311 21h0M41 89h0M319 133h0M200 97h0M151 284h0M259 4h0M258 51h0M33 294h0M58 26h0M301 325h0M297 150h0M269 301h0M0 235h0M174 208h0M90 87h0M182 244h0M36 71h0M243 6h0M35 93h0M88 130h0M73 11h0M284 140h0" stroke="#777" stroke-width="5.5" stroke-linecap="round" fill="none"/>
<g filter="url(#blf)">
<path d="M46.0 752.0C45.6 748.6 45.7 743.6 46.3 740.0C46.9 736.4 47.9 732.8 49.5 730.5C51.1 728.2 53.9 727.2 56.0 726.5C58.1 725.8 59.8 725.6 62.0 726.0C64.2 726.4 67.1 727.5 69.0 729.0C70.9 730.5 72.5 733.0 73.5 735.0C74.5 737.0 73.9 739.8 75.0 741.0C76.1 742.2 77.5 742.6 80.0 742.5C82.5 742.4 87.0 741.4 90.0 740.5C93.0 739.6 95.7 738.2 98.0 737.0C100.3 735.8 102.5 734.0 104.0 733.0C105.5 732.0 106.0 731.0 106.8 731.2C107.6 731.5 108.0 733.2 109.0 734.5C110.0 735.8 111.5 737.1 113.0 739.0C114.5 740.9 116.9 743.7 118.0 746.0C119.1 748.3 119.9 750.8 119.6 753.0C119.3 755.2 118.6 757.4 116.0 759.0C113.4 760.6 108.7 761.7 104.0 762.5C99.3 763.3 93.7 763.5 88.0 763.8C82.3 764.1 75.3 764.2 70.0 764.2C64.7 764.2 59.6 764.2 56.0 763.6C52.4 763.0 50.2 762.4 48.5 760.5C46.8 758.6 46.4 755.4 46.0 752.0Z" fill="#2353a6" stroke="none" stroke-width="0" />
<path d="M48.1 752.4C47.8 749.4 47.8 745.1 48.3 742.0C48.8 739.0 49.7 735.8 51.1 733.9C52.5 731.9 54.9 731.1 56.7 730.4C58.5 729.8 60.0 729.6 61.8 730.0C63.7 730.4 66.2 731.3 67.9 732.6C69.5 733.9 70.9 736.0 71.7 737.7C72.6 739.5 72.1 741.8 73.0 742.9C73.9 744.0 75.2 744.3 77.3 744.2C79.5 744.1 83.3 743.3 85.9 742.5C88.5 741.7 90.8 740.5 92.8 739.5C94.8 738.4 96.7 736.9 98.0 736.0C99.2 735.2 99.6 734.3 100.4 734.5C101.1 734.7 101.4 736.2 102.3 737.3C103.1 738.4 104.4 739.5 105.7 741.2C107.0 742.8 109.0 745.2 110.0 747.2C110.9 749.2 111.7 751.4 111.4 753.2C111.1 755.1 110.5 757.0 108.3 758.4C106.0 759.7 102.0 760.7 98.0 761.4C93.9 762.1 89.1 762.3 84.2 762.5C79.3 762.8 73.3 762.9 68.7 762.9C64.1 762.8 59.8 762.9 56.7 762.3C53.6 761.8 51.7 761.3 50.2 759.7C48.8 758.0 48.4 755.3 48.1 752.4Z" fill="#2868bc" stroke="none" stroke-width="0" />
<path d="M50.4 752.8C50.2 750.4 50.2 746.9 50.6 744.4C51.1 741.9 51.8 739.3 52.9 737.7C54.0 736.2 56.0 735.5 57.4 734.9C58.9 734.4 60.1 734.3 61.6 734.6C63.2 734.9 65.2 735.6 66.5 736.7C67.9 737.7 69.0 739.5 69.7 740.9C70.4 742.3 70.0 744.2 70.7 745.1C71.5 746.0 72.5 746.2 74.2 746.1C76.0 746.1 79.1 745.4 81.2 744.7C83.3 744.1 85.2 743.2 86.8 742.3C88.5 741.4 90.0 740.2 91.0 739.5C92.1 738.8 92.4 738.0 93.0 738.2C93.6 738.4 93.8 739.6 94.5 740.5C95.3 741.4 96.3 742.3 97.3 743.7C98.4 745.0 100.1 746.9 100.8 748.6C101.6 750.2 102.2 752.0 102.0 753.5C101.7 755.0 101.3 756.6 99.4 757.7C97.6 758.8 94.3 759.6 91.0 760.1C87.8 760.7 83.8 760.8 79.8 761.0C75.9 761.2 71.0 761.3 67.2 761.3C63.5 761.3 59.9 761.3 57.4 760.9C54.9 760.5 53.4 760.1 52.2 758.7C51.0 757.4 50.7 755.2 50.4 752.8Z" fill="#2b80ce" stroke="none" stroke-width="0" />
<path d="M52.8 753.2C52.6 751.4 52.7 748.7 53.0 746.7C53.3 744.8 53.8 742.8 54.7 741.6C55.6 740.4 57.1 739.8 58.2 739.4C59.3 739.0 60.3 738.9 61.4 739.2C62.6 739.4 64.2 740.0 65.2 740.8C66.3 741.6 67.1 742.9 67.7 744.0C68.2 745.1 67.9 746.6 68.5 747.3C69.1 747.9 69.8 748.1 71.2 748.1C72.5 748.0 74.9 747.5 76.6 747.0C78.2 746.5 79.6 745.8 80.9 745.1C82.1 744.4 83.3 743.5 84.1 742.9C84.9 742.4 85.2 741.8 85.6 742.0C86.1 742.1 86.3 743.0 86.8 743.7C87.4 744.4 88.2 745.1 89.0 746.2C89.8 747.2 91.1 748.7 91.7 750.0C92.3 751.2 92.7 752.6 92.6 753.7C92.4 754.9 92.0 756.1 90.6 757.0C89.2 757.8 86.6 758.4 84.1 758.9C81.6 759.3 78.5 759.4 75.5 759.6C72.4 759.7 68.6 759.8 65.8 759.8C62.9 759.8 60.1 759.8 58.2 759.5C56.3 759.1 55.1 758.8 54.2 757.8C53.3 756.7 53.0 755.0 52.8 753.2Z" fill="#339ade" stroke="none" stroke-width="0" />
<path d="M54.9 753.6C54.7 752.2 54.8 750.2 55.0 748.8C55.2 747.3 55.6 745.9 56.3 745.0C56.9 744.1 58.0 743.7 58.9 743.4C59.7 743.1 60.4 743.0 61.3 743.2C62.1 743.3 63.3 743.8 64.1 744.4C64.8 745.0 65.5 746.0 65.9 746.8C66.3 747.6 66.0 748.7 66.5 749.2C66.9 749.7 67.5 749.8 68.5 749.8C69.5 749.7 71.3 749.3 72.5 749.0C73.7 748.6 74.7 748.1 75.7 747.6C76.6 747.1 77.5 746.3 78.1 746.0C78.7 745.6 78.9 745.1 79.2 745.2C79.5 745.3 79.7 746.0 80.1 746.6C80.5 747.1 81.1 747.6 81.7 748.4C82.3 749.1 83.2 750.2 83.7 751.2C84.1 752.1 84.5 753.1 84.3 754.0C84.2 754.8 83.9 755.7 82.9 756.4C81.8 757.0 79.9 757.4 78.1 757.8C76.2 758.1 73.9 758.2 71.7 758.3C69.4 758.4 66.6 758.5 64.5 758.4C62.3 758.4 60.3 758.4 58.9 758.2C57.4 758.0 56.5 757.7 55.9 757.0C55.2 756.2 55.0 754.9 54.9 753.6Z" fill="#3cb2e6" stroke="none" stroke-width="0" />
<defs><radialGradient id="rg3"><stop offset="0" stop-color="#e8281c" stop-opacity="1"/><stop offset="0.11" stop-color="#e8281c" stop-opacity="1"/><stop offset="0.19" stop-color="#f89a24" stop-opacity="1"/><stop offset="0.28" stop-color="#e4e432" stop-opacity="1"/><stop offset="0.41" stop-color="#84e058" stop-opacity="1"/><stop offset="0.55" stop-color="#50d4b4" stop-opacity="1"/><stop offset="0.72" stop-color="#3cb8e6" stop-opacity="0.9"/><stop offset="1" stop-color="#2f92d8" stop-opacity="0"/></radialGradient><clipPath id="crg3"><path d="M47.2 752.2C46.8 749.1 46.9 744.5 47.5 741.2C48.0 737.9 48.9 734.5 50.4 732.4C51.9 730.4 54.5 729.4 56.4 728.7C58.3 728.1 59.9 727.9 61.9 728.3C63.9 728.7 66.6 729.7 68.3 731.0C70.1 732.4 71.6 734.7 72.5 736.6C73.4 738.4 72.9 740.9 73.9 742.1C74.9 743.2 76.2 743.5 78.5 743.5C80.8 743.4 84.9 742.5 87.7 741.6C90.4 740.8 92.9 739.6 95.0 738.4C97.2 737.3 99.2 735.6 100.5 734.7C101.9 733.8 102.4 732.8 103.1 733.1C103.9 733.3 104.2 734.9 105.1 736.1C106.1 737.3 107.4 738.5 108.8 740.2C110.2 742.0 112.4 744.5 113.4 746.7C114.4 748.8 115.2 751.1 114.9 753.1C114.6 755.1 114.0 757.2 111.6 758.6C109.2 760.1 104.8 761.1 100.5 761.9C96.3 762.6 91.0 762.8 85.8 763.1C80.6 763.3 74.2 763.5 69.3 763.4C64.4 763.4 59.7 763.4 56.4 762.9C53.1 762.3 51.0 761.8 49.5 760.0C48.0 758.2 47.5 755.4 47.2 752.2Z"/></clipPath></defs>
<ellipse clip-path="url(#crg3)" cx="60.8" cy="754.6" rx="15.3" ry="7.6" fill="url(#rg3)"/>
</g>
<rect x="45.40" y="724.90" width="29.00" height="40.90" fill="none" stroke="#e0636b" stroke-width="0.7" />
<rect x="77.90" y="724.90" width="72.70" height="40.90" fill="none" stroke="#5b9bd5" stroke-width="0.7" />
<text x="47.8" y="709.9" font-size="7.1" fill="#e2555e">LGR5<tspan dy="-2.4" font-size="5">-</tspan><tspan dy="2.4"> TEC</tspan></text>
<text x="108.3" y="709.9" font-size="7.1" fill="#4a8ad0">LGR5<tspan dy="-2.4" font-size="5">+</tspan><tspan dy="2.4"> TEC</tspan></text>
<text x="56.40" y="722.30" font-size="7.1" fill="#111" text-anchor="start" font-weight="normal" >78.1</text>
<text x="125.60" y="733.70" font-size="7.1" fill="#111" text-anchor="start" font-weight="normal" >nsTEC</text>
<text x="128.20" y="743.60" font-size="7.1" fill="#111" text-anchor="start" font-weight="normal" >17.5</text>
<rect x="167.10" y="649.40" width="124.90" height="121.50" fill="#fff" stroke="#4a4a4a" stroke-width="1.0" />
<text x="190.70" y="781.30" font-size="7.4" fill="#111" text-anchor="middle" font-weight="normal" >0</text>
<text x="223.1" y="781.9" font-size="7.4" fill="#111" text-anchor="middle">10<tspan dy="-2.6" font-size="6.4">3</tspan></text>
<text x="255.4" y="781.9" font-size="7.4" fill="#111" text-anchor="middle">10<tspan dy="-2.6" font-size="6.4">4</tspan></text>
<text x="284.2" y="781.9" font-size="7.4" fill="#111" text-anchor="middle">10<tspan dy="-2.6" font-size="6.4">5</tspan></text>
<path d="M163.5 758.6H167.1M163.5 737.8H167.1M163.5 716.9H167.1M163.5 696.1H167.1M163.5 675.2H167.1M163.5 654.4H167.1M190.7 770.9v3.2M222.3 770.9v3.2M254.6 770.9v3.2M283.4 770.9v3.2" fill="none" stroke="#222" stroke-width="0.85" />
<path d="M165.4 754.4H167.1M165.4 750.3H167.1M165.4 746.1H167.1M165.4 741.9H167.1M165.4 733.6H167.1M165.4 729.4H167.1M165.4 725.2H167.1M165.4 721.1H167.1M165.4 712.7H167.1M165.4 708.6H167.1M165.4 704.4H167.1M165.4 700.2H167.1M165.4 691.9H167.1M165.4 687.7H167.1M165.4 683.5H167.1M165.4 679.4H167.1M165.4 671.0H167.1M165.4 666.9H167.1M165.4 662.7H167.1M165.4 658.5H167.1M165.4 762.8H167.1M165.4 766.9H167.1M232.0 770.9v1.7M237.7 770.9v1.7M241.7 770.9v1.7M244.9 770.9v1.7M247.4 770.9v1.7M249.6 770.9v1.7M251.5 770.9v1.7M253.1 770.9v1.7M263.3 770.9v1.7M268.3 770.9v1.7M271.9 770.9v1.7M274.7 770.9v1.7M277.0 770.9v1.7M278.9 770.9v1.7M280.6 770.9v1.7M282.1 770.9v1.7M200.9 770.9v1.7M206.3 770.9v1.7M210.1 770.9v1.7M213.1 770.9v1.7M215.5 770.9v1.7M217.5 770.9v1.7M219.3 770.9v1.7M220.9 770.9v1.7M181.7 770.9v1.7M184.2 770.9v1.7" fill="none" stroke="#222" stroke-width="0.5" />
<path d="M186.3 772.0h8.8" fill="none" stroke="#111" stroke-width="2.2" stroke-dasharray="0.7 0.45"/>
<text x="228.20" y="791.50" font-size="7.3" fill="#111" text-anchor="middle" font-weight="normal" >Comp-APC-A</text>
<path transform="translate(205 729) scale(.1)" d="M211 216h0M280 99h0M250 131h0M6 145h0M322 290h0M7 110h0M197 290h0M17 114h0M172 0h0M48 57h0M357 18h0M367 97h0M93 0h0M30 48h0M239 290h0M246 153h0M267 161h0M105 290h0M352 0h0M21 182h0M112 88h0M390 128h0M71 69h0M87 142h0M296 243h0M101 240h0M299 153h0M15 205h0M118 22h0M330 0h0M258 225h0M214 290h0M326 173h0M37 75h0M76 135h0M88 242h0M53 25h0M95 137h0M280 186h0M145 37h0M339 290h0M82 205h0M175 282h0M323 33h0M148 150h0M270 270h0M281 172h0M318 245h0M20 0h0M321 123h0M91 0h0M12 85h0M48 157h0M281 120h0M63 16h0M276 157h0M243 190h0M112 122h0M396 204h0M36 234h0M326 243h0M199 100h0M222 177h0M332 72h0M189 122h0M321 227h0M41 120h0M145 89h0M359 76h0M78 177h0M350 276h0M277 214h0M156 110h0M300 203h0M145 216h0M124 263h0M259 69h0M195 188h0M76 94h0M142 81h0" stroke="#777" stroke-width="5.5" stroke-linecap="round" fill="none"/>
<path transform="translate(252 739) scale(.1)" d="M8 44h0M74 2h0M86 120h0M99 75h0" stroke="#777" stroke-width="5.5" stroke-linecap="round" fill="none"/>
<g filter="url(#blf)">
<path d="M191.6 752.0C191.5 749.2 191.6 743.6 192.0 740.0C192.4 736.4 193.2 732.8 194.0 730.5C194.8 728.2 195.9 726.5 197.0 726.2C198.1 725.9 199.5 727.0 200.5 728.5C201.5 730.0 202.1 733.1 202.8 735.0C203.5 736.9 203.3 739.0 204.5 740.0C205.7 741.0 207.4 740.4 210.0 741.0C212.6 741.6 216.7 742.3 220.0 743.5C223.3 744.7 227.0 746.6 230.0 748.0C233.0 749.4 236.2 750.8 238.0 752.0C239.8 753.2 241.0 753.9 241.0 755.0C241.0 756.1 240.2 757.7 238.0 758.5C235.8 759.3 232.0 759.6 228.0 760.0C224.0 760.4 218.3 760.6 214.0 760.8C209.7 761.0 205.2 761.3 202.0 761.2C198.8 761.1 196.6 760.9 195.0 760.2C193.4 759.5 193.0 758.4 192.4 757.0C191.8 755.6 191.7 754.8 191.6 752.0Z" fill="#2353a6" stroke="none" stroke-width="0" />
<path d="M192.4 752.3C192.4 749.9 192.4 745.1 192.8 742.0C193.1 738.9 193.8 735.8 194.5 733.8C195.2 731.9 196.1 730.4 197.1 730.1C198.0 729.8 199.2 730.9 200.1 732.1C200.9 733.4 201.5 736.1 202.0 737.7C202.6 739.4 202.5 741.1 203.5 742.0C204.5 742.9 206.0 742.4 208.2 742.9C210.5 743.4 214.0 744.0 216.8 745.0C219.7 746.0 222.9 747.7 225.4 748.9C228.0 750.1 230.7 751.3 232.3 752.3C233.9 753.3 234.9 754.0 234.9 754.9C234.9 755.8 234.2 757.2 232.3 757.9C230.5 758.6 227.2 758.9 223.7 759.2C220.3 759.5 215.4 759.7 211.7 759.9C207.9 760.1 204.1 760.3 201.4 760.2C198.6 760.1 196.7 760.0 195.3 759.4C194.0 758.8 193.6 757.8 193.1 756.6C192.6 755.4 192.5 754.8 192.4 752.3Z" fill="#2868bc" stroke="none" stroke-width="0" />
<path d="M193.3 752.7C193.3 750.7 193.3 746.8 193.6 744.3C193.9 741.8 194.4 739.2 195.0 737.6C195.6 736.0 196.4 734.9 197.1 734.6C197.9 734.4 198.9 735.2 199.6 736.2C200.2 737.3 200.7 739.4 201.2 740.8C201.6 742.1 201.5 743.6 202.4 744.3C203.2 745.0 204.4 744.6 206.2 745.0C208.0 745.4 210.9 745.9 213.2 746.7C215.6 747.6 218.1 748.9 220.2 749.9C222.3 750.9 224.5 751.9 225.8 752.7C227.1 753.5 227.9 754.0 227.9 754.8C227.9 755.5 227.3 756.7 225.8 757.2C224.3 757.8 221.6 758.0 218.8 758.3C216.0 758.6 212.1 758.7 209.0 758.8C206.0 759.0 202.8 759.2 200.6 759.1C198.4 759.1 196.8 758.9 195.7 758.4C194.6 757.9 194.3 757.1 193.9 756.2C193.5 755.2 193.4 754.7 193.3 752.7Z" fill="#2b80ce" stroke="none" stroke-width="0" />
<path d="M194.3 753.1C194.2 751.5 194.3 748.5 194.5 746.6C194.7 744.6 195.1 742.7 195.6 741.4C196.0 740.2 196.6 739.3 197.2 739.1C197.8 738.9 198.6 739.6 199.1 740.4C199.6 741.2 200.0 742.8 200.3 743.9C200.7 744.9 200.6 746.0 201.2 746.6C201.9 747.1 202.8 746.8 204.2 747.1C205.6 747.4 207.8 747.8 209.6 748.5C211.4 749.1 213.4 750.1 215.0 750.9C216.6 751.7 218.3 752.4 219.3 753.1C220.3 753.7 220.9 754.1 220.9 754.7C220.9 755.3 220.5 756.1 219.3 756.6C218.2 757.0 216.1 757.2 213.9 757.4C211.8 757.6 208.7 757.7 206.4 757.8C204.0 757.9 201.6 758.1 199.9 758.0C198.2 758.0 197.0 757.9 196.1 757.5C195.2 757.1 195.0 756.5 194.7 755.8C194.4 755.0 194.3 754.6 194.3 753.1Z" fill="#339ade" stroke="none" stroke-width="0" />
<path d="M195.1 753.4C195.1 752.2 195.1 750.0 195.2 748.6C195.4 747.1 195.7 745.7 196.0 744.8C196.4 743.9 196.8 743.2 197.2 743.1C197.7 742.9 198.3 743.4 198.6 744.0C199.0 744.6 199.3 745.8 199.6 746.6C199.8 747.3 199.8 748.2 200.2 748.6C200.7 749.0 201.4 748.7 202.4 749.0C203.5 749.2 205.1 749.5 206.4 750.0C207.8 750.4 209.2 751.2 210.4 751.8C211.6 752.3 212.9 752.9 213.6 753.4C214.4 753.8 214.8 754.1 214.8 754.6C214.8 755.0 214.5 755.6 213.6 756.0C212.8 756.3 211.2 756.4 209.6 756.6C208.0 756.7 205.8 756.8 204.0 756.9C202.3 757.0 200.5 757.1 199.2 757.1C198.0 757.0 197.1 756.9 196.4 756.7C195.8 756.4 195.6 755.9 195.4 755.4C195.2 754.8 195.1 754.5 195.1 753.4Z" fill="#3cb2e6" stroke="none" stroke-width="0" />
<defs><radialGradient id="rg4"><stop offset="0" stop-color="#e8281c" stop-opacity="1"/><stop offset="0.11" stop-color="#e8281c" stop-opacity="1"/><stop offset="0.19" stop-color="#f89a24" stop-opacity="1"/><stop offset="0.28" stop-color="#e4e432" stop-opacity="1"/><stop offset="0.41" stop-color="#84e058" stop-opacity="1"/><stop offset="0.55" stop-color="#50d4b4" stop-opacity="1"/><stop offset="0.72" stop-color="#3cb8e6" stop-opacity="0.9"/><stop offset="1" stop-color="#2f92d8" stop-opacity="0"/></radialGradient><clipPath id="crg4"><path d="M192.1 752.2C192.0 749.6 192.1 744.4 192.4 741.1C192.8 737.8 193.5 734.5 194.3 732.4C195.0 730.3 196.0 728.8 197.0 728.4C198.0 728.1 199.4 729.2 200.3 730.6C201.1 731.9 201.8 734.8 202.4 736.5C203.0 738.3 202.8 740.2 203.9 741.1C205.0 742.1 206.6 741.5 209.0 742.1C211.4 742.6 215.1 743.3 218.2 744.4C221.3 745.4 224.6 747.2 227.4 748.5C230.2 749.8 233.1 751.1 234.8 752.2C236.4 753.3 237.5 753.9 237.5 754.9C237.5 755.9 236.7 757.4 234.8 758.2C232.8 758.9 229.2 759.2 225.6 759.5C221.9 759.9 216.7 760.1 212.7 760.3C208.7 760.5 204.5 760.7 201.6 760.6C198.7 760.6 196.7 760.4 195.2 759.7C193.7 759.1 193.3 758.0 192.8 756.8C192.3 755.5 192.1 754.8 192.1 752.2Z"/></clipPath></defs>
<ellipse clip-path="url(#crg4)" cx="197.4" cy="754.3" rx="5.4" ry="10.1" fill="url(#rg4)"/>
</g>
<rect x="201.40" y="727.50" width="49.30" height="35.90" fill="none" stroke="#111" stroke-width="0.7" />
<text x="177.6" y="664.2" font-size="7.1" fill="#e2555e">LGR5<tspan dy="-2.4" font-size="5">-</tspan><tspan dy="2.4"> TEC</tspan></text>
<text x="206.4" y="722.4" font-size="7.1" fill="#111">MHC-II<tspan dy="-2.4" font-size="5">+</tspan><tspan dy="2.4"> TEC</tspan></text>
<text x="231.00" y="735.80" font-size="7.1" fill="#111" text-anchor="start" font-weight="normal" >22.5</text>
<rect x="298.00" y="649.40" width="125.30" height="121.50" fill="#fff" stroke="#4a4a4a" stroke-width="1.0" />
<text x="320.40" y="781.30" font-size="7.4" fill="#111" text-anchor="middle" font-weight="normal" >0</text>
<text x="353.2" y="781.9" font-size="7.4" fill="#111" text-anchor="middle">10<tspan dy="-2.6" font-size="6.4">3</tspan></text>
<text x="385.5" y="781.9" font-size="7.4" fill="#111" text-anchor="middle">10<tspan dy="-2.6" font-size="6.4">4</tspan></text>
<text x="415.0" y="781.9" font-size="7.4" fill="#111" text-anchor="middle">10<tspan dy="-2.6" font-size="6.4">5</tspan></text>
<path d="M294.4 758.6H298.0M294.4 737.8H298.0M294.4 716.9H298.0M294.4 696.1H298.0M294.4 675.2H298.0M294.4 654.4H298.0M320.4 770.9v3.2M352.4 770.9v3.2M384.7 770.9v3.2M414.2 770.9v3.2" fill="none" stroke="#222" stroke-width="0.85" />
<path d="M296.3 754.4H298.0M296.3 750.3H298.0M296.3 746.1H298.0M296.3 741.9H298.0M296.3 733.6H298.0M296.3 729.4H298.0M296.3 725.2H298.0M296.3 721.1H298.0M296.3 712.7H298.0M296.3 708.6H298.0M296.3 704.4H298.0M296.3 700.2H298.0M296.3 691.9H298.0M296.3 687.7H298.0M296.3 683.5H298.0M296.3 679.4H298.0M296.3 671.0H298.0M296.3 666.9H298.0M296.3 662.7H298.0M296.3 658.5H298.0M296.3 762.8H298.0M296.3 766.9H298.0M362.1 770.9v1.7M367.8 770.9v1.7M371.8 770.9v1.7M375.0 770.9v1.7M377.5 770.9v1.7M379.7 770.9v1.7M381.6 770.9v1.7M383.2 770.9v1.7M393.6 770.9v1.7M398.8 770.9v1.7M402.5 770.9v1.7M405.3 770.9v1.7M407.7 770.9v1.7M409.6 770.9v1.7M411.3 770.9v1.7M412.9 770.9v1.7M331.0 770.9v1.7M336.4 770.9v1.7M340.2 770.9v1.7M343.2 770.9v1.7M345.6 770.9v1.7M347.6 770.9v1.7M349.4 770.9v1.7M351.0 770.9v1.7M311.4 770.9v1.7M313.9 770.9v1.7" fill="none" stroke="#222" stroke-width="0.5" />
<path d="M316.0 772.0h8.8" fill="none" stroke="#111" stroke-width="2.2" stroke-dasharray="0.7 0.45"/>
<text x="354.30" y="791.50" font-size="7.3" fill="#111" text-anchor="middle" font-weight="normal" >Comp-APC-A</text>
<path transform="translate(336 736) scale(.1)" d="M52 214h0M6 98h0M3 200h0M14 167h0M106 0h0M95 45h0M56 245h0M124 21h0M122 142h0M1 163h0" stroke="#777" stroke-width="5.5" stroke-linecap="round" fill="none"/>
<path transform="translate(396 748) scale(.1)" d="M56 25h0M7 9h0" stroke="#777" stroke-width="5.5" stroke-linecap="round" fill="none"/>
<g filter="url(#blf)">
<path d="M324.9 750.0C324.9 747.0 324.9 741.3 325.2 738.0C325.5 734.7 326.2 731.8 326.8 730.0C327.4 728.2 328.1 727.3 328.8 727.3C329.5 727.3 330.2 728.2 330.8 730.0C331.4 731.8 332.0 734.7 332.4 738.0C332.8 741.3 333.4 746.8 333.4 750.0C333.4 753.2 333.2 755.2 332.6 757.0C332.0 758.8 330.9 760.4 330.0 761.0C329.1 761.6 327.8 761.2 327.0 760.4C326.2 759.6 325.7 757.7 325.3 756.0C324.9 754.3 324.9 753.0 324.9 750.0Z" fill="#2353a6" stroke="none" stroke-width="0" />
<path d="M325.4 750.7C325.4 748.1 325.4 743.3 325.7 740.4C326.0 737.5 326.6 735.0 327.1 733.5C327.6 732.0 328.2 731.2 328.8 731.2C329.4 731.2 330.0 732.0 330.5 733.5C331.0 735.0 331.5 737.5 331.9 740.4C332.3 743.3 332.7 748.0 332.7 750.7C332.8 753.4 332.5 755.2 332.1 756.7C331.6 758.3 330.6 759.7 329.8 760.2C329.0 760.7 327.9 760.4 327.2 759.7C326.6 758.9 326.1 757.4 325.8 755.9C325.5 754.4 325.4 753.3 325.4 750.7Z" fill="#2868bc" stroke="none" stroke-width="0" />
<path d="M326.0 751.5C326.0 749.4 326.0 745.5 326.2 743.1C326.5 740.8 326.9 738.8 327.4 737.5C327.8 736.3 328.3 735.6 328.8 735.6C329.2 735.6 329.8 736.3 330.2 737.5C330.6 738.8 331.0 740.8 331.3 743.1C331.6 745.5 332.0 749.3 332.0 751.5C332.0 753.7 331.8 755.1 331.4 756.4C331.0 757.7 330.3 758.8 329.6 759.2C329.0 759.6 328.1 759.4 327.5 758.8C327.0 758.2 326.6 756.9 326.3 755.7C326.1 754.5 326.1 753.6 326.0 751.5Z" fill="#2b80ce" stroke="none" stroke-width="0" />
<path d="M326.6 752.3C326.6 750.7 326.6 747.7 326.8 745.9C327.0 744.1 327.3 742.5 327.7 741.5C328.0 740.6 328.4 740.1 328.8 740.1C329.1 740.1 329.5 740.6 329.8 741.5C330.2 742.5 330.5 744.1 330.7 745.9C330.9 747.7 331.2 750.6 331.2 752.3C331.3 754.1 331.1 755.1 330.8 756.1C330.5 757.1 329.9 758.0 329.4 758.3C328.9 758.6 328.2 758.4 327.8 758.0C327.4 757.5 327.1 756.5 326.9 755.6C326.7 754.6 326.7 754.0 326.6 752.3Z" fill="#339ade" stroke="none" stroke-width="0" />
<path d="M327.2 753.1C327.2 751.9 327.2 749.6 327.3 748.3C327.4 746.9 327.7 745.8 327.9 745.1C328.2 744.3 328.5 744.0 328.7 744.0C329.0 744.0 329.3 744.3 329.5 745.1C329.8 745.8 330.0 746.9 330.2 748.3C330.4 749.6 330.6 751.8 330.6 753.1C330.6 754.3 330.5 755.1 330.3 755.9C330.0 756.6 329.6 757.2 329.2 757.5C328.8 757.7 328.3 757.6 328.0 757.2C327.7 756.9 327.5 756.2 327.3 755.5C327.2 754.8 327.2 754.3 327.2 753.1Z" fill="#3cb2e6" stroke="none" stroke-width="0" />
<defs><radialGradient id="rg5"><stop offset="0" stop-color="#e8281c" stop-opacity="1"/><stop offset="0.11" stop-color="#e8281c" stop-opacity="1"/><stop offset="0.19" stop-color="#f89a24" stop-opacity="1"/><stop offset="0.28" stop-color="#e4e432" stop-opacity="1"/><stop offset="0.41" stop-color="#84e058" stop-opacity="1"/><stop offset="0.55" stop-color="#50d4b4" stop-opacity="1"/><stop offset="0.72" stop-color="#3cb8e6" stop-opacity="0.9"/><stop offset="1" stop-color="#2f92d8" stop-opacity="0"/></radialGradient><clipPath id="crg5"><path d="M325.2 750.4C325.2 747.6 325.2 742.4 325.5 739.4C325.8 736.3 326.4 733.6 327.0 732.0C327.5 730.4 328.2 729.5 328.8 729.5C329.4 729.5 330.1 730.4 330.6 732.0C331.2 733.6 331.7 736.3 332.1 739.4C332.5 742.4 333.0 747.5 333.0 750.4C333.1 753.3 332.8 755.2 332.3 756.8C331.8 758.5 330.8 760.0 329.9 760.5C329.0 761.0 327.9 760.7 327.1 760.0C326.4 759.2 325.9 757.5 325.6 755.9C325.2 754.3 325.2 753.2 325.2 750.4Z"/></clipPath></defs>
<ellipse clip-path="url(#crg5)" cx="328.7" cy="755.1" rx="3.8" ry="8.1" fill="url(#rg5)"/>
</g>
<rect x="332.60" y="726.70" width="48.90" height="37.50" fill="none" stroke="#111" stroke-width="0.7" />
<text x="308.5" y="664.2" font-size="7.1" fill="#4a8ad0">LGR5<tspan dy="-2.4" font-size="5">+</tspan><tspan dy="2.4"> TEC</tspan></text>
<text x="336.1" y="722.4" font-size="7.1" fill="#111">MHC-II<tspan dy="-2.4" font-size="5">+</tspan><tspan dy="2.4"> TEC</tspan></text>
<text x="363.70" y="740.20" font-size="7.1" fill="#111" text-anchor="start" font-weight="normal" >0.48</text>
<rect x="429.60" y="649.40" width="121.80" height="121.50" fill="#fff" stroke="#4a4a4a" stroke-width="1.0" />
<text x="450.50" y="781.30" font-size="7.4" fill="#111" text-anchor="middle" font-weight="normal" >0</text>
<text x="483.6" y="781.9" font-size="7.4" fill="#111" text-anchor="middle">10<tspan dy="-2.6" font-size="6.4">3</tspan></text>
<text x="515.1" y="781.9" font-size="7.4" fill="#111" text-anchor="middle">10<tspan dy="-2.6" font-size="6.4">4</tspan></text>
<text x="543.9" y="781.9" font-size="7.4" fill="#111" text-anchor="middle">10<tspan dy="-2.6" font-size="6.4">5</tspan></text>
<path d="M426.0 758.6H429.6M426.0 737.8H429.6M426.0 716.9H429.6M426.0 696.1H429.6M426.0 675.2H429.6M426.0 654.4H429.6M450.5 770.9v3.2M482.8 770.9v3.2M514.3 770.9v3.2M543.1 770.9v3.2" fill="none" stroke="#222" stroke-width="0.85" />
<path d="M427.9 754.4H429.6M427.9 750.3H429.6M427.9 746.1H429.6M427.9 741.9H429.6M427.9 733.6H429.6M427.9 729.4H429.6M427.9 725.2H429.6M427.9 721.1H429.6M427.9 712.7H429.6M427.9 708.6H429.6M427.9 704.4H429.6M427.9 700.2H429.6M427.9 691.9H429.6M427.9 687.7H429.6M427.9 683.5H429.6M427.9 679.4H429.6M427.9 671.0H429.6M427.9 666.9H429.6M427.9 662.7H429.6M427.9 658.5H429.6M427.9 762.8H429.6M427.9 766.9H429.6M492.3 770.9v1.7M497.8 770.9v1.7M501.8 770.9v1.7M504.8 770.9v1.7M507.3 770.9v1.7M509.4 770.9v1.7M511.2 770.9v1.7M512.9 770.9v1.7M523.0 770.9v1.7M528.0 770.9v1.7M531.6 770.9v1.7M534.4 770.9v1.7M536.7 770.9v1.7M538.6 770.9v1.7M540.3 770.9v1.7M541.8 770.9v1.7M461.9 770.9v1.7M467.2 770.9v1.7M470.9 770.9v1.7M473.8 770.9v1.7M476.2 770.9v1.7M478.2 770.9v1.7M479.9 770.9v1.7M481.4 770.9v1.7M441.5 770.9v1.7M444.0 770.9v1.7" fill="none" stroke="#222" stroke-width="0.5" />
<path d="M446.1 772.0h8.8" fill="none" stroke="#111" stroke-width="2.2" stroke-dasharray="0.7 0.45"/>
<text x="489.90" y="791.50" font-size="7.3" fill="#111" text-anchor="middle" font-weight="normal" >Comp-BV510-A</text>
<g filter="url(#blf)">
<path d="M469.5 742.0C469.9 738.8 470.8 737.6 471.6 736.6C472.4 735.6 473.8 735.1 474.4 735.8C475.0 736.5 474.8 739.5 475.2 741.0C475.6 742.5 476.0 743.7 477.0 744.6C478.0 745.5 479.7 746.5 481.0 746.6C482.3 746.7 483.8 745.1 485.0 745.0C486.2 744.9 487.0 745.2 488.0 746.0C489.0 746.8 490.0 748.6 491.0 749.6C492.0 750.6 493.0 751.9 494.0 752.0C495.0 752.1 496.1 751.0 497.0 750.0C497.9 749.0 498.6 746.9 499.4 746.0C500.2 745.1 501.1 744.2 502.0 744.4C502.9 744.6 503.9 745.7 504.6 747.0C505.3 748.3 505.9 750.3 506.0 752.0C506.1 753.7 505.8 755.9 505.0 757.0C504.2 758.1 502.5 758.6 501.0 758.6C499.5 758.6 497.7 757.1 496.0 757.0C494.3 756.9 492.7 758.4 491.0 758.2C489.3 758.0 487.5 755.9 486.0 756.0C484.5 756.1 483.5 757.8 482.0 758.6C480.5 759.4 478.7 760.2 477.0 760.6C475.3 761.0 473.2 761.8 472.0 761.0C470.8 760.2 469.9 759.2 469.5 756.0C469.1 752.8 469.1 745.2 469.5 742.0Z" fill="#2455a8" stroke="none" stroke-width="0" />
<path d="M451.0 752.0C450.9 749.3 451.0 744.9 451.6 742.0C452.2 739.1 453.2 736.2 454.6 734.4C456.0 732.6 458.1 731.5 460.0 731.2C461.9 730.9 464.3 731.3 466.0 732.4C467.7 733.5 469.1 735.7 470.0 738.0C470.9 740.3 471.4 743.2 471.6 746.0C471.8 748.8 471.9 752.6 471.4 755.0C470.9 757.4 470.0 759.2 468.6 760.6C467.2 762.0 465.0 763.1 463.0 763.4C461.0 763.7 458.4 763.3 456.6 762.4C454.8 761.5 453.3 759.7 452.4 758.0C451.5 756.3 451.1 754.7 451.0 752.0Z" fill="#2353a6" stroke="none" stroke-width="0" />
<path d="M452.1 752.3C451.9 750.0 452.1 746.2 452.6 743.7C453.1 741.2 453.9 738.7 455.1 737.1C456.4 735.6 458.2 734.7 459.8 734.4C461.4 734.1 463.5 734.4 464.9 735.4C466.4 736.4 467.6 738.3 468.4 740.2C469.2 742.2 469.6 744.7 469.8 747.1C470.0 749.6 470.0 752.8 469.6 754.9C469.2 757.0 468.4 758.5 467.2 759.7C466.0 760.9 464.1 761.8 462.4 762.1C460.6 762.3 458.4 762.0 456.9 761.2C455.3 760.4 454.1 758.9 453.3 757.4C452.5 755.9 452.2 754.6 452.1 752.3Z" fill="#2868bc" stroke="none" stroke-width="0" />
<path d="M453.2 752.6C453.2 750.7 453.2 747.7 453.7 745.6C454.1 743.5 454.8 741.5 455.8 740.3C456.8 739.0 458.2 738.3 459.6 738.0C460.9 737.8 462.6 738.1 463.8 738.9C464.9 739.7 465.9 741.2 466.6 742.8C467.2 744.4 467.5 746.4 467.7 748.4C467.8 750.4 467.9 753.0 467.5 754.7C467.2 756.4 466.6 757.6 465.6 758.6C464.6 759.6 463.0 760.4 461.6 760.6C460.2 760.8 458.4 760.5 457.2 759.9C455.9 759.2 454.9 758.0 454.2 756.8C453.6 755.6 453.3 754.5 453.2 752.6Z" fill="#2b80ce" stroke="none" stroke-width="0" />
<path d="M454.4 752.9C454.4 751.5 454.4 749.1 454.8 747.5C455.1 745.9 455.6 744.4 456.4 743.4C457.1 742.4 458.3 741.9 459.3 741.7C460.3 741.5 461.7 741.7 462.6 742.3C463.4 742.9 464.2 744.1 464.7 745.4C465.2 746.6 465.4 748.1 465.6 749.7C465.7 751.2 465.7 753.2 465.5 754.5C465.2 755.9 464.7 756.8 464.0 757.6C463.2 758.3 462.0 758.9 460.9 759.1C459.9 759.2 458.4 759.0 457.5 758.5C456.5 758.0 455.7 757.1 455.2 756.2C454.7 755.2 454.5 754.4 454.4 752.9Z" fill="#339ade" stroke="none" stroke-width="0" />
<path d="M455.5 753.2C455.4 752.1 455.5 750.4 455.7 749.2C456.0 748.0 456.4 746.9 456.9 746.2C457.5 745.4 458.3 745.0 459.1 744.9C459.9 744.7 460.8 744.9 461.5 745.4C462.2 745.8 462.7 746.7 463.1 747.6C463.5 748.5 463.6 749.7 463.7 750.8C463.8 751.9 463.9 753.4 463.7 754.4C463.5 755.4 463.1 756.1 462.5 756.6C462.0 757.2 461.1 757.6 460.3 757.8C459.5 757.9 458.4 757.7 457.7 757.4C457.0 757.0 456.4 756.3 456.1 755.6C455.7 754.9 455.6 754.3 455.5 753.2Z" fill="#3cb2e6" stroke="none" stroke-width="0" />
<defs><radialGradient id="rg6"><stop offset="0" stop-color="#e8281c" stop-opacity="1"/><stop offset="0.11" stop-color="#e8281c" stop-opacity="1"/><stop offset="0.19" stop-color="#f89a24" stop-opacity="1"/><stop offset="0.28" stop-color="#e4e432" stop-opacity="1"/><stop offset="0.41" stop-color="#84e058" stop-opacity="1"/><stop offset="0.55" stop-color="#50d4b4" stop-opacity="1"/><stop offset="0.72" stop-color="#3cb8e6" stop-opacity="0.9"/><stop offset="1" stop-color="#2f92d8" stop-opacity="0"/></radialGradient><clipPath id="crg6"><path d="M451.6 752.2C451.5 749.7 451.6 745.7 452.2 743.0C452.7 740.3 453.6 737.6 454.9 736.0C456.2 734.3 458.1 733.3 459.9 733.0C461.6 732.7 463.9 733.1 465.4 734.1C466.9 735.2 468.2 737.2 469.1 739.3C469.9 741.4 470.3 744.0 470.6 746.6C470.8 749.2 470.8 752.7 470.4 754.9C469.9 757.2 469.1 758.8 467.8 760.1C466.5 761.4 464.5 762.4 462.6 762.6C460.8 762.9 458.4 762.6 456.8 761.7C455.1 760.9 453.7 759.3 452.9 757.7C452.0 756.1 451.7 754.6 451.6 752.2Z"/></clipPath></defs>
<ellipse clip-path="url(#crg6)" cx="458.5" cy="754.0" rx="8.4" ry="13.0" fill="url(#rg6)"/>
</g>
<ellipse cx="480.6" cy="750.4" rx="2.3" ry="0.9" fill="#fff" filter="url(#blf)"/>
<path d="M478 748Q484 746.4 490 751Q496 755 503 751" fill="none" stroke="#3096dc" stroke-width="2.2" stroke-linecap="round" opacity="0.55" filter="url(#blf)"/>
<rect x="469.40" y="724.70" width="78.40" height="43.40" fill="none" stroke="#111" stroke-width="0.7" />
<text x="437.4" y="664.2" font-size="7.1" fill="#e2555e">LGR5<tspan dy="-2.4" font-size="5">-</tspan><tspan dy="2.4"> TEC</tspan></text>
<text x="492.6" y="716.1" font-size="7.1" fill="#111">MHC-I<tspan dy="-2.4" font-size="5">+</tspan><tspan dy="2.4"> TEC</tspan></text>
<text x="524.50" y="737.00" font-size="7.1" fill="#111" text-anchor="start" font-weight="normal" >19.6</text>
<rect x="560.00" y="649.40" width="122.60" height="121.50" fill="#fff" stroke="#4a4a4a" stroke-width="1.0" />
<text x="581.30" y="781.30" font-size="7.4" fill="#111" text-anchor="middle" font-weight="normal" >0</text>
<text x="615.6" y="781.9" font-size="7.4" fill="#111" text-anchor="middle">10<tspan dy="-2.6" font-size="6.4">3</tspan></text>
<text x="645.6" y="781.9" font-size="7.4" fill="#111" text-anchor="middle">10<tspan dy="-2.6" font-size="6.4">4</tspan></text>
<text x="674.0" y="781.9" font-size="7.4" fill="#111" text-anchor="middle">10<tspan dy="-2.6" font-size="6.4">5</tspan></text>
<path d="M556.4 758.6H560.0M556.4 737.8H560.0M556.4 716.9H560.0M556.4 696.1H560.0M556.4 675.2H560.0M556.4 654.4H560.0M581.3 770.9v3.2M614.8 770.9v3.2M644.8 770.9v3.2M673.2 770.9v3.2" fill="none" stroke="#222" stroke-width="0.85" />
<path d="M558.3 754.4H560.0M558.3 750.3H560.0M558.3 746.1H560.0M558.3 741.9H560.0M558.3 733.6H560.0M558.3 729.4H560.0M558.3 725.2H560.0M558.3 721.1H560.0M558.3 712.7H560.0M558.3 708.6H560.0M558.3 704.4H560.0M558.3 700.2H560.0M558.3 691.9H560.0M558.3 687.7H560.0M558.3 683.5H560.0M558.3 679.4H560.0M558.3 671.0H560.0M558.3 666.9H560.0M558.3 662.7H560.0M558.3 658.5H560.0M558.3 762.8H560.0M558.3 766.9H560.0M623.8 770.9v1.7M629.1 770.9v1.7M632.9 770.9v1.7M635.8 770.9v1.7M638.1 770.9v1.7M640.2 770.9v1.7M641.9 770.9v1.7M643.4 770.9v1.7M653.3 770.9v1.7M658.4 770.9v1.7M661.9 770.9v1.7M664.7 770.9v1.7M666.9 770.9v1.7M668.8 770.9v1.7M670.4 770.9v1.7M671.9 770.9v1.7M594.9 770.9v1.7M599.9 770.9v1.7M603.5 770.9v1.7M606.2 770.9v1.7M608.5 770.9v1.7M610.4 770.9v1.7M612.0 770.9v1.7M613.5 770.9v1.7M572.3 770.9v1.7M574.8 770.9v1.7" fill="none" stroke="#222" stroke-width="0.5" />
<path d="M576.9 772.0h8.8" fill="none" stroke="#111" stroke-width="2.2" stroke-dasharray="0.7 0.45"/>
<text x="618.00" y="791.50" font-size="7.3" fill="#111" text-anchor="middle" font-weight="normal" >Comp-BV510-A</text>
<path transform="translate(603 727) scale(.1)" d="M249 146h0M606 199h0M182 362h0M559 200h0M619 93h0M340 141h0M283 250h0M626 118h0M281 92h0M693 229h0M154 95h0M371 390h0M364 129h0M242 294h0M130 32h0M232 170h0M161 310h0M201 276h0M37 289h0M431 140h0M241 234h0M661 186h0M195 38h0M176 350h0M335 127h0M9 182h0M243 315h0M113 291h0M57 390h0M44 202h0M212 386h0M54 198h0M245 214h0M584 342h0M133 292h0M100 150h0M286 201h0M359 233h0M583 390h0M354 118h0M638 239h0M80 285h0M25 228h0M618 150h0M423 313h0M199 98h0M556 390h0M33 0h0M289 0h0M339 231h0M123 290h0M349 268h0M255 140h0M539 193h0M359 214h0M565 104h0M100 166h0M2 96h0M229 353h0M404 263h0M293 159h0M44 166h0M141 156h0M62 173h0M684 245h0M340 168h0M473 150h0M501 258h0M17 192h0M75 212h0" stroke="#777" stroke-width="5.5" stroke-linecap="round" fill="none"/>
<path transform="translate(604 733) scale(.1)" d="M13 198h0M2 182h0M46 11h0M14 126h0M65 243h0M23 148h0M78 122h0M26 179h0M18 23h0M32 99h0M74 49h0M7 251h0M29 263h0M30 256h0M39 71h0M51 262h0M51 4h0M31 1h0M35 17h0M72 128h0" stroke="#777" stroke-width="5.5" stroke-linecap="round" fill="none"/>
<g filter="url(#blf)">
<path d="M578.8 752.0C578.8 749.3 578.9 744.5 579.6 741.0C580.3 737.5 581.4 733.5 583.0 731.0C584.6 728.5 586.8 726.8 589.0 726.2C591.2 725.6 594.0 726.4 596.0 727.5C598.0 728.6 599.6 730.6 601.0 733.0C602.4 735.4 603.8 738.8 604.5 742.0C605.2 745.2 605.6 749.2 605.4 752.0C605.1 754.8 604.4 757.2 603.0 759.0C601.6 760.8 599.3 761.8 597.0 762.5C594.7 763.2 591.4 763.3 589.0 763.0C586.6 762.7 584.1 761.5 582.5 760.5C580.9 759.5 580.2 758.4 579.6 757.0C579.0 755.6 578.8 754.7 578.8 752.0Z" fill="#2353a6" stroke="none" stroke-width="0" />
<path d="M580.1 752.3C580.1 750.0 580.2 745.9 580.8 742.9C581.4 739.9 582.4 736.4 583.8 734.3C585.1 732.1 587.1 730.6 588.9 730.1C590.8 729.6 593.2 730.3 594.9 731.3C596.7 732.2 598.0 733.9 599.2 736.0C600.5 738.1 601.6 741.0 602.2 743.7C602.9 746.4 603.2 749.9 603.0 752.3C602.8 754.8 602.2 756.8 601.0 758.3C599.8 759.8 597.8 760.8 595.8 761.4C593.8 761.9 591.0 762.1 588.9 761.8C586.8 761.5 584.7 760.5 583.3 759.6C582.0 758.8 581.4 757.8 580.8 756.6C580.3 755.4 580.1 754.6 580.1 752.3Z" fill="#2868bc" stroke="none" stroke-width="0" />
<path d="M581.7 752.7C581.7 750.8 581.8 747.4 582.2 745.0C582.7 742.5 583.5 739.7 584.6 738.0C585.7 736.3 587.3 735.0 588.8 734.6C590.3 734.2 592.3 734.7 593.7 735.5C595.1 736.3 596.2 737.7 597.2 739.4C598.2 741.1 599.2 743.5 599.7 745.7C600.2 747.9 600.5 750.7 600.3 752.7C600.1 754.7 599.6 756.4 598.6 757.6C597.6 758.8 596.1 759.6 594.4 760.0C592.8 760.5 590.5 760.6 588.8 760.4C587.1 760.2 585.4 759.3 584.3 758.6C583.2 757.9 582.7 757.2 582.2 756.2C581.8 755.2 581.7 754.6 581.7 752.7Z" fill="#2b80ce" stroke="none" stroke-width="0" />
<path d="M583.2 753.1C583.2 751.6 583.3 749.0 583.6 747.1C584.0 745.2 584.6 743.0 585.5 741.7C586.3 740.4 587.6 739.4 588.7 739.1C589.9 738.8 591.4 739.2 592.5 739.8C593.6 740.4 594.4 741.5 595.2 742.8C596.0 744.1 596.7 745.9 597.1 747.7C597.5 749.4 597.7 751.5 597.6 753.1C597.4 754.6 597.0 755.9 596.3 756.8C595.5 757.8 594.3 758.4 593.0 758.7C591.8 759.1 590.0 759.2 588.7 759.0C587.4 758.8 586.1 758.2 585.2 757.6C584.4 757.1 584.0 756.5 583.6 755.8C583.3 755.0 583.2 754.5 583.2 753.1Z" fill="#339ade" stroke="none" stroke-width="0" />
<path d="M584.6 753.4C584.6 752.3 584.6 750.4 584.9 749.0C585.2 747.6 585.6 746.0 586.2 745.0C586.9 744.0 587.8 743.3 588.6 743.1C589.5 742.8 590.6 743.1 591.4 743.6C592.2 744.0 592.9 744.8 593.4 745.8C594.0 746.7 594.5 748.1 594.8 749.4C595.1 750.6 595.3 752.2 595.2 753.4C595.1 754.5 594.8 755.5 594.2 756.2C593.7 756.9 592.8 757.3 591.8 757.6C590.9 757.8 589.6 757.9 588.6 757.8C587.7 757.6 586.7 757.2 586.0 756.8C585.4 756.4 585.1 755.9 584.9 755.4C584.6 754.8 584.6 754.4 584.6 753.4Z" fill="#3cb2e6" stroke="none" stroke-width="0" />
<defs><radialGradient id="rg7"><stop offset="0" stop-color="#e8281c" stop-opacity="1"/><stop offset="0.11" stop-color="#e8281c" stop-opacity="1"/><stop offset="0.19" stop-color="#f89a24" stop-opacity="1"/><stop offset="0.28" stop-color="#e4e432" stop-opacity="1"/><stop offset="0.41" stop-color="#84e058" stop-opacity="1"/><stop offset="0.55" stop-color="#50d4b4" stop-opacity="1"/><stop offset="0.72" stop-color="#3cb8e6" stop-opacity="0.9"/><stop offset="1" stop-color="#2f92d8" stop-opacity="0"/></radialGradient><clipPath id="crg7"><path d="M579.6 752.2C579.6 749.7 579.7 745.3 580.3 742.1C580.9 738.8 582.0 735.1 583.4 732.9C584.9 730.6 587.0 729.0 589.0 728.4C590.9 727.9 593.6 728.6 595.4 729.6C597.2 730.7 598.7 732.5 600.0 734.7C601.3 736.9 602.5 740.1 603.2 743.0C603.9 745.9 604.3 749.6 604.0 752.2C603.8 754.8 603.1 757.0 601.8 758.6C600.5 760.2 598.5 761.2 596.3 761.8C594.2 762.5 591.2 762.6 589.0 762.3C586.7 762.0 584.4 760.9 583.0 760.0C581.5 759.1 580.9 758.1 580.3 756.8C579.7 755.5 579.6 754.6 579.6 752.2Z"/></clipPath></defs>
<ellipse clip-path="url(#crg7)" cx="588.4" cy="754.3" rx="7.0" ry="8.6" fill="url(#rg7)"/>
</g>
<rect x="602.20" y="724.70" width="72.20" height="43.40" fill="none" stroke="#111" stroke-width="0.7" />
<text x="568.6" y="664.2" font-size="7.1" fill="#4a8ad0">LGR5<tspan dy="-2.4" font-size="5">+</tspan><tspan dy="2.4"> TEC</tspan></text>
<text x="630.9" y="716.1" font-size="7.1" fill="#111">MHC-I<tspan dy="-2.4" font-size="5">+</tspan><tspan dy="2.4"> TEC</tspan></text>
<text x="658.10" y="737.00" font-size="7.1" fill="#111" text-anchor="start" font-weight="normal" >1.87</text>
<text x="2.60" y="830.30" font-size="16.2" fill="#231815" text-anchor="start" font-weight="bold" >J</text>
<line x1="48.30" y1="832.20" x2="48.30" y2="881.90" stroke="#444" stroke-width="0.7" />
<line x1="48.30" y1="888.50" x2="48.30" y2="938.10" stroke="#444" stroke-width="0.7" />
<line x1="48.00" y1="937.80" x2="118.60" y2="937.80" stroke="#444" stroke-width="0.7" />
<line x1="46.10" y1="883.60" x2="50.50" y2="880.20" stroke="#444" stroke-width="0.7" />
<line x1="46.10" y1="890.20" x2="50.50" y2="886.80" stroke="#444" stroke-width="0.7" />
<line x1="44.70" y1="832.50" x2="48.30" y2="832.50" stroke="#444" stroke-width="0.7" />
<text x="43.50" y="836.00" font-size="8.3" fill="#111" text-anchor="end" font-weight="normal" >40</text>
<line x1="44.70" y1="848.80" x2="48.30" y2="848.80" stroke="#444" stroke-width="0.7" />
<text x="43.50" y="852.30" font-size="8.3" fill="#111" text-anchor="end" font-weight="normal" >30</text>
<line x1="44.70" y1="865.30" x2="48.30" y2="865.30" stroke="#444" stroke-width="0.7" />
<text x="43.50" y="868.80" font-size="8.3" fill="#111" text-anchor="end" font-weight="normal" >20</text>
<text x="43.50" y="885.00" font-size="8.3" fill="#111" text-anchor="end" font-weight="normal" >10</text>
<text x="43.50" y="892.20" font-size="8.3" fill="#111" text-anchor="end" font-weight="normal" >10</text>
<line x1="44.70" y1="898.40" x2="48.30" y2="898.40" stroke="#444" stroke-width="0.7" />
<text x="43.50" y="901.90" font-size="8.3" fill="#111" text-anchor="end" font-weight="normal" >8</text>
<line x1="44.70" y1="908.20" x2="48.30" y2="908.20" stroke="#444" stroke-width="0.7" />
<text x="43.50" y="911.70" font-size="8.3" fill="#111" text-anchor="end" font-weight="normal" >6</text>
<line x1="44.70" y1="918.10" x2="48.30" y2="918.10" stroke="#444" stroke-width="0.7" />
<text x="43.50" y="921.60" font-size="8.3" fill="#111" text-anchor="end" font-weight="normal" >4</text>
<line x1="44.70" y1="927.90" x2="48.30" y2="927.90" stroke="#444" stroke-width="0.7" />
<text x="43.50" y="931.40" font-size="8.3" fill="#111" text-anchor="end" font-weight="normal" >2</text>
<line x1="44.70" y1="937.80" x2="48.30" y2="937.80" stroke="#444" stroke-width="0.7" />
<text x="43.50" y="941.30" font-size="8.3" fill="#111" text-anchor="end" font-weight="normal" >0</text>
<text x="29.40" y="876.20" font-size="8.2" fill="#111" text-anchor="middle" font-weight="normal" transform="rotate(-90 29.40 876.20)" >MHC-II+ TEC (%)</text>
<rect x="58.40" y="858.10" width="20.30" height="79.70" fill="#4f8fcf" stroke="#24466e" stroke-width="0.6" />
<line x1="68.70" y1="845.20" x2="68.70" y2="870.50" stroke="#333" stroke-width="0.6" />
<line x1="63.60" y1="845.20" x2="73.80" y2="845.20" stroke="#333" stroke-width="0.6" />
<line x1="63.60" y1="870.50" x2="73.80" y2="870.50" stroke="#333" stroke-width="0.6" />
<circle cx="68.70" cy="839.20" r="3.20" fill="#fff" stroke="#1a1a1a" stroke-width="0.85" />
<circle cx="68.70" cy="851.10" r="3.20" fill="#fff" stroke="#1a1a1a" stroke-width="0.85" />
<circle cx="61.30" cy="861.00" r="3.20" fill="#fff" stroke="#1a1a1a" stroke-width="0.85" />
<circle cx="75.30" cy="866.70" r="3.20" fill="#fff" stroke="#1a1a1a" stroke-width="0.85" />
<circle cx="61.30" cy="870.50" r="3.20" fill="#fff" stroke="#1a1a1a" stroke-width="0.85" />
<rect x="89.20" y="936.00" width="13.30" height="1.80" fill="#e2636b" stroke="#7a2a30" stroke-width="0.5" />
<circle cx="91.10" cy="934.00" r="3.20" fill="#fff" stroke="#1a1a1a" stroke-width="0.85" />
<circle cx="95.40" cy="930.20" r="3.20" fill="#fff" stroke="#1a1a1a" stroke-width="0.85" />
<circle cx="98.70" cy="933.10" r="3.20" fill="#fff" stroke="#1a1a1a" stroke-width="0.85" />
<circle cx="102.10" cy="931.80" r="3.20" fill="#fff" stroke="#1a1a1a" stroke-width="0.85" />
<circle cx="105.70" cy="935.40" r="3.20" fill="#fff" stroke="#1a1a1a" stroke-width="0.85" />
<path d="M68.7 831.6V826.8H98.7V928.3" fill="none" stroke="#333" stroke-width="0.6" />
<text x="83.50" y="827.00" font-size="16.2" fill="#111" text-anchor="middle" font-weight="normal" >***</text>
<line x1="68.70" y1="937.80" x2="68.70" y2="941.40" stroke="#444" stroke-width="0.6" />
<line x1="98.70" y1="937.80" x2="98.70" y2="941.40" stroke="#444" stroke-width="0.6" />
<text x="84.5" y="949.0" font-size="8.1" fill="#111" text-anchor="end" transform="rotate(-15.5 84.5 949.0)">LGR5<tspan dy="-2.4" font-size="5">-</tspan><tspan dy="2.4"> TEC</tspan></text>
<text x="121.0" y="947.8" font-size="8.1" fill="#111" text-anchor="end" transform="rotate(-15.5 121.0 947.8)">LGR5<tspan dy="-2.4" font-size="5">+</tspan><tspan dy="2.4">&#160; TEC</tspan></text>
<line x1="164.60" y1="831.60" x2="164.60" y2="880.90" stroke="#444" stroke-width="0.7" />
<line x1="164.60" y1="888.50" x2="164.60" y2="938.70" stroke="#444" stroke-width="0.7" />
<line x1="164.30" y1="938.40" x2="235.40" y2="938.40" stroke="#444" stroke-width="0.7" />
<line x1="162.40" y1="882.60" x2="166.80" y2="879.20" stroke="#444" stroke-width="0.7" />
<line x1="162.40" y1="890.20" x2="166.80" y2="886.80" stroke="#444" stroke-width="0.7" />
<line x1="161.00" y1="831.90" x2="164.60" y2="831.90" stroke="#444" stroke-width="0.7" />
<text x="159.80" y="835.40" font-size="8.3" fill="#111" text-anchor="end" font-weight="normal" >50</text>
<line x1="161.00" y1="844.20" x2="164.60" y2="844.20" stroke="#444" stroke-width="0.7" />
<text x="159.80" y="847.70" font-size="8.3" fill="#111" text-anchor="end" font-weight="normal" >40</text>
<line x1="161.00" y1="856.40" x2="164.60" y2="856.40" stroke="#444" stroke-width="0.7" />
<text x="159.80" y="859.90" font-size="8.3" fill="#111" text-anchor="end" font-weight="normal" >30</text>
<line x1="161.00" y1="868.70" x2="164.60" y2="868.70" stroke="#444" stroke-width="0.7" />
<text x="159.80" y="872.20" font-size="8.3" fill="#111" text-anchor="end" font-weight="normal" >20</text>
<text x="159.80" y="884.00" font-size="8.3" fill="#111" text-anchor="end" font-weight="normal" >10</text>
<text x="159.80" y="892.20" font-size="8.3" fill="#111" text-anchor="end" font-weight="normal" >10</text>
<line x1="161.00" y1="898.50" x2="164.60" y2="898.50" stroke="#444" stroke-width="0.7" />
<text x="159.80" y="902.00" font-size="8.3" fill="#111" text-anchor="end" font-weight="normal" >8</text>
<line x1="161.00" y1="908.50" x2="164.60" y2="908.50" stroke="#444" stroke-width="0.7" />
<text x="159.80" y="912.00" font-size="8.3" fill="#111" text-anchor="end" font-weight="normal" >6</text>
<line x1="161.00" y1="918.40" x2="164.60" y2="918.40" stroke="#444" stroke-width="0.7" />
<text x="159.80" y="921.90" font-size="8.3" fill="#111" text-anchor="end" font-weight="normal" >4</text>
<line x1="161.00" y1="928.40" x2="164.60" y2="928.40" stroke="#444" stroke-width="0.7" />
<text x="159.80" y="931.90" font-size="8.3" fill="#111" text-anchor="end" font-weight="normal" >2</text>
<line x1="161.00" y1="938.40" x2="164.60" y2="938.40" stroke="#444" stroke-width="0.7" />
<text x="159.80" y="941.90" font-size="8.3" fill="#111" text-anchor="end" font-weight="normal" >0</text>
<text x="145.20" y="876.70" font-size="8.2" fill="#111" text-anchor="middle" font-weight="normal" transform="rotate(-90 145.20 876.70)" >MHC-I+ TEC (%)</text>
<rect x="174.60" y="862.90" width="19.80" height="75.50" fill="#4f8fcf" stroke="#24466e" stroke-width="0.6" />
<rect x="173.60" y="881.60" width="21.80" height="7.40" fill="#fff" stroke="none" stroke-width="0.6" />
<line x1="184.50" y1="850.20" x2="184.50" y2="874.80" stroke="#333" stroke-width="0.6" />
<line x1="179.60" y1="850.20" x2="189.60" y2="850.20" stroke="#333" stroke-width="0.6" />
<line x1="179.60" y1="874.80" x2="189.60" y2="874.80" stroke="#333" stroke-width="0.6" />
<circle cx="184.50" cy="841.10" r="3.20" fill="#fff" stroke="#1a1a1a" stroke-width="0.85" />
<circle cx="191.50" cy="861.90" r="3.20" fill="#fff" stroke="#1a1a1a" stroke-width="0.85" />
<circle cx="177.50" cy="871.40" r="3.20" fill="#fff" stroke="#1a1a1a" stroke-width="0.85" />
<circle cx="184.50" cy="868.60" r="3.20" fill="#fff" stroke="#1a1a1a" stroke-width="0.85" />
<circle cx="191.50" cy="869.50" r="3.20" fill="#fff" stroke="#1a1a1a" stroke-width="0.85" />
<rect x="205.40" y="931.80" width="19.50" height="6.60" fill="#e2636b" stroke="#7a2a30" stroke-width="0.6" />
<circle cx="207.70" cy="926.40" r="3.20" fill="#fff" stroke="#1a1a1a" stroke-width="0.85" />
<circle cx="212.60" cy="928.00" r="3.20" fill="#fff" stroke="#1a1a1a" stroke-width="0.85" />
<circle cx="221.90" cy="929.30" r="3.20" fill="#fff" stroke="#1a1a1a" stroke-width="0.85" />
<circle cx="207.70" cy="934.00" r="3.20" fill="#fff" stroke="#1a1a1a" stroke-width="0.85" />
<circle cx="217.20" cy="933.50" r="3.20" fill="#fff" stroke="#1a1a1a" stroke-width="0.85" />
<path d="M184.5 834.4V828.1H214.9V920.7" fill="none" stroke="#333" stroke-width="0.6" />
<text x="199.70" y="829.50" font-size="16.2" fill="#111" text-anchor="middle" font-weight="normal" >***</text>
<line x1="184.50" y1="938.40" x2="184.50" y2="942.00" stroke="#444" stroke-width="0.6" />
<line x1="214.90" y1="938.40" x2="214.90" y2="942.00" stroke="#444" stroke-width="0.6" />
<text x="192.0" y="948.6" font-size="8.1" fill="#111" text-anchor="end" transform="rotate(-15.5 192.0 948.6)">LGR5<tspan dy="-2.4" font-size="5">-</tspan><tspan dy="2.4"> TEC</tspan></text>
<text x="228.0" y="947.6" font-size="8.1" fill="#111" text-anchor="end" transform="rotate(-15.5 228.0 947.6)">LGR5<tspan dy="-2.4" font-size="5">+</tspan><tspan dy="2.4">&#160; TEC</tspan></text>
<text x="248.80" y="823.40" font-size="16.2" fill="#231815" text-anchor="start" font-weight="bold" >K</text>
<line x1="298.50" y1="822.22" x2="298.50" y2="943.00" stroke="#444" stroke-width="0.7" />
<line x1="298.20" y1="942.70" x2="467.00" y2="942.70" stroke="#444" stroke-width="0.7" />
<line x1="293.70" y1="942.70" x2="298.50" y2="942.70" stroke="#444" stroke-width="0.7" />
<text x="292.70" y="946.50" font-size="8.3" fill="#111" text-anchor="end" font-weight="normal" >0</text>
<line x1="293.70" y1="902.64" x2="298.50" y2="902.64" stroke="#444" stroke-width="0.7" />
<text x="292.70" y="906.44" font-size="8.3" fill="#111" text-anchor="end" font-weight="normal" >200</text>
<line x1="293.70" y1="862.58" x2="298.50" y2="862.58" stroke="#444" stroke-width="0.7" />
<text x="292.70" y="866.38" font-size="8.3" fill="#111" text-anchor="end" font-weight="normal" >400</text>
<line x1="293.70" y1="822.52" x2="298.50" y2="822.52" stroke="#444" stroke-width="0.7" />
<text x="292.70" y="826.32" font-size="8.3" fill="#111" text-anchor="end" font-weight="normal" >600</text>
<text x="272.40" y="884.90" font-size="8.2" fill="#111" text-anchor="middle" font-weight="normal" transform="rotate(-90 272.40 884.90)" >IL2 pg/ml</text>
<rect x="372.90" y="939.70" width="18.00" height="3.00" fill="#74c8c0" stroke="#2a6a66" stroke-width="0.5" />
<rect x="404.40" y="938.10" width="18.00" height="4.60" fill="#4f8fcf" stroke="#24466e" stroke-width="0.5" />
<rect x="434.50" y="866.39" width="21.00" height="76.31" fill="#e2636b" stroke="#333" stroke-width="0.6" />
<line x1="445.00" y1="843.55" x2="445.00" y2="887.42" stroke="#333" stroke-width="0.6" />
<line x1="440.00" y1="843.55" x2="450.00" y2="843.55" stroke="#333" stroke-width="0.6" />
<line x1="440.00" y1="887.42" x2="450.00" y2="887.42" stroke="#333" stroke-width="0.6" />
<circle cx="438.00" cy="841.10" r="3.50" fill="#fff" stroke="#1a1a1a" stroke-width="0.85" />
<circle cx="452.00" cy="846.00" r="3.50" fill="#fff" stroke="#1a1a1a" stroke-width="0.85" />
<circle cx="445.00" cy="869.80" r="3.50" fill="#fff" stroke="#1a1a1a" stroke-width="0.85" />
<circle cx="445.00" cy="878.60" r="3.50" fill="#fff" stroke="#1a1a1a" stroke-width="0.85" />
<circle cx="445.00" cy="890.80" r="3.50" fill="#fff" stroke="#1a1a1a" stroke-width="0.85" />
<circle cx="311.80" cy="939.20" r="3.50" fill="#fff" stroke="#1a1a1a" stroke-width="0.85" />
<circle cx="317.80" cy="939.40" r="3.50" fill="#fff" stroke="#1a1a1a" stroke-width="0.85" />
<circle cx="321.60" cy="939.00" r="3.50" fill="#fff" stroke="#1a1a1a" stroke-width="0.85" />
<circle cx="326.20" cy="939.40" r="3.50" fill="#fff" stroke="#1a1a1a" stroke-width="0.85" />
<circle cx="343.40" cy="939.40" r="3.50" fill="#fff" stroke="#1a1a1a" stroke-width="0.85" />
<circle cx="348.60" cy="938.40" r="3.50" fill="#fff" stroke="#1a1a1a" stroke-width="0.85" />
<circle cx="353.90" cy="939.20" r="3.50" fill="#fff" stroke="#1a1a1a" stroke-width="0.85" />
<circle cx="358.60" cy="939.40" r="3.50" fill="#fff" stroke="#1a1a1a" stroke-width="0.85" />
<circle cx="374.90" cy="938.00" r="3.50" fill="#fff" stroke="#1a1a1a" stroke-width="0.85" />
<circle cx="379.50" cy="935.60" r="3.50" fill="#fff" stroke="#1a1a1a" stroke-width="0.85" />
<circle cx="385.00" cy="937.40" r="3.50" fill="#fff" stroke="#1a1a1a" stroke-width="0.85" />
<circle cx="389.60" cy="938.00" r="3.50" fill="#fff" stroke="#1a1a1a" stroke-width="0.85" />
<circle cx="406.40" cy="937.60" r="3.50" fill="#fff" stroke="#1a1a1a" stroke-width="0.85" />
<circle cx="410.40" cy="932.00" r="3.50" fill="#fff" stroke="#1a1a1a" stroke-width="0.85" />
<circle cx="414.60" cy="937.00" r="3.50" fill="#fff" stroke="#1a1a1a" stroke-width="0.85" />
<circle cx="417.60" cy="934.60" r="3.50" fill="#fff" stroke="#1a1a1a" stroke-width="0.85" />
<circle cx="421.40" cy="938.00" r="3.50" fill="#fff" stroke="#1a1a1a" stroke-width="0.85" />
<line x1="318.80" y1="942.70" x2="318.80" y2="946.30" stroke="#444" stroke-width="0.6" />
<line x1="350.40" y1="942.70" x2="350.40" y2="946.30" stroke="#444" stroke-width="0.6" />
<line x1="381.90" y1="942.70" x2="381.90" y2="946.30" stroke="#444" stroke-width="0.6" />
<line x1="413.40" y1="942.70" x2="413.40" y2="946.30" stroke="#444" stroke-width="0.6" />
<line x1="445.00" y1="942.70" x2="445.00" y2="946.30" stroke="#444" stroke-width="0.6" />
<path d="M317.8 930.4H350.4V900.3H413.4" fill="none" stroke="#333" stroke-width="0.6" />
<path d="M381.9 929.4V916.1H413.4" fill="none" stroke="#333" stroke-width="0.6" />
<path d="M413.4 927.6V827.1H445.7V831.3" fill="none" stroke="#333" stroke-width="0.6" />
<text x="333.90" y="926.80" font-size="8.3" fill="#111" text-anchor="middle" font-weight="normal" >ns</text>
<text x="381.20" y="902.50" font-size="13.8" fill="#111" text-anchor="middle" font-weight="normal" >*</text>
<text x="397.70" y="914.60" font-size="8.3" fill="#111" text-anchor="middle" font-weight="normal" >ns</text>
<text x="430.00" y="829.50" font-size="13.8" fill="#111" text-anchor="middle" font-weight="normal" >****</text>
<text x="330.0" y="949.6" font-size="8.2" fill="#111" text-anchor="end" transform="rotate(-15.5 330.0 949.6)">Other TECs</text>
<text x="356.0" y="950.6" font-size="8.2" fill="#111" text-anchor="end" transform="rotate(-15.5 356.0 950.6)">nsTEC</text>
<text x="385.4" y="950.4" font-size="8.2" fill="#111" text-anchor="end" transform="rotate(-15.5 385.4 950.4)">T cell</text>
<text x="424.6" y="949.0" font-size="8.2" fill="#111" text-anchor="end" transform="rotate(-15.5 424.6 949.0)">T cell +nsTEC</text>
<text x="459.6" y="949.0" font-size="8.2" fill="#111" text-anchor="end" transform="rotate(-15.5 459.6 949.0)">T cell + other TECs</text>
<line x1="513.20" y1="822.80" x2="513.20" y2="943.90" stroke="#444" stroke-width="0.7" />
<line x1="512.90" y1="943.60" x2="681.70" y2="943.60" stroke="#444" stroke-width="0.7" />
<line x1="508.40" y1="943.60" x2="513.20" y2="943.60" stroke="#444" stroke-width="0.7" />
<text x="507.40" y="947.40" font-size="8.3" fill="#111" text-anchor="end" font-weight="normal" >0</text>
<line x1="508.40" y1="919.50" x2="513.20" y2="919.50" stroke="#444" stroke-width="0.7" />
<text x="507.40" y="923.30" font-size="8.3" fill="#111" text-anchor="end" font-weight="normal" >100</text>
<line x1="508.40" y1="895.40" x2="513.20" y2="895.40" stroke="#444" stroke-width="0.7" />
<text x="507.40" y="899.20" font-size="8.3" fill="#111" text-anchor="end" font-weight="normal" >200</text>
<line x1="508.40" y1="871.30" x2="513.20" y2="871.30" stroke="#444" stroke-width="0.7" />
<text x="507.40" y="875.10" font-size="8.3" fill="#111" text-anchor="end" font-weight="normal" >300</text>
<line x1="508.40" y1="847.20" x2="513.20" y2="847.20" stroke="#444" stroke-width="0.7" />
<text x="507.40" y="851.00" font-size="8.3" fill="#111" text-anchor="end" font-weight="normal" >400</text>
<line x1="508.40" y1="823.10" x2="513.20" y2="823.10" stroke="#444" stroke-width="0.7" />
<text x="507.40" y="826.90" font-size="8.3" fill="#111" text-anchor="end" font-weight="normal" >500</text>
<text x="489.60" y="887.10" font-size="8.2" fill="#111" text-anchor="middle" font-weight="normal" transform="rotate(-90 489.60 887.10)" >IFN γ pg/ml</text>
<rect x="587.30" y="940.60" width="18.00" height="3.00" fill="#74c8c0" stroke="#2a6a66" stroke-width="0.5" />
<rect x="618.50" y="939.00" width="18.00" height="4.60" fill="#4f8fcf" stroke="#24466e" stroke-width="0.5" />
<rect x="649.90" y="865.76" width="20.30" height="77.84" fill="#e2636b" stroke="#333" stroke-width="0.6" />
<line x1="659.70" y1="836.11" x2="659.70" y2="894.44" stroke="#333" stroke-width="0.6" />
<line x1="654.70" y1="836.11" x2="664.70" y2="836.11" stroke="#333" stroke-width="0.6" />
<line x1="654.70" y1="894.44" x2="664.70" y2="894.44" stroke="#333" stroke-width="0.6" />
<circle cx="659.70" cy="830.60" r="3.50" fill="#fff" stroke="#1a1a1a" stroke-width="0.85" />
<circle cx="659.70" cy="851.00" r="3.50" fill="#fff" stroke="#1a1a1a" stroke-width="0.85" />
<circle cx="659.70" cy="860.80" r="3.50" fill="#fff" stroke="#1a1a1a" stroke-width="0.85" />
<circle cx="659.70" cy="878.90" r="3.50" fill="#fff" stroke="#1a1a1a" stroke-width="0.85" />
<circle cx="659.70" cy="907.50" r="3.50" fill="#fff" stroke="#1a1a1a" stroke-width="0.85" />
<circle cx="527.30" cy="939.90" r="3.50" fill="#fff" stroke="#1a1a1a" stroke-width="0.85" />
<circle cx="532.90" cy="939.90" r="3.50" fill="#fff" stroke="#1a1a1a" stroke-width="0.85" />
<circle cx="537.20" cy="939.70" r="3.50" fill="#fff" stroke="#1a1a1a" stroke-width="0.85" />
<circle cx="541.40" cy="939.90" r="3.50" fill="#fff" stroke="#1a1a1a" stroke-width="0.85" />
<circle cx="558.60" cy="939.90" r="3.50" fill="#fff" stroke="#1a1a1a" stroke-width="0.85" />
<circle cx="563.50" cy="939.90" r="3.50" fill="#fff" stroke="#1a1a1a" stroke-width="0.85" />
<circle cx="568.40" cy="939.70" r="3.50" fill="#fff" stroke="#1a1a1a" stroke-width="0.85" />
<circle cx="573.30" cy="939.90" r="3.50" fill="#fff" stroke="#1a1a1a" stroke-width="0.85" />
<circle cx="589.80" cy="938.40" r="3.50" fill="#fff" stroke="#1a1a1a" stroke-width="0.85" />
<circle cx="593.60" cy="935.00" r="3.50" fill="#fff" stroke="#1a1a1a" stroke-width="0.85" />
<circle cx="597.40" cy="937.00" r="3.50" fill="#fff" stroke="#1a1a1a" stroke-width="0.85" />
<circle cx="600.60" cy="938.60" r="3.50" fill="#fff" stroke="#1a1a1a" stroke-width="0.85" />
<circle cx="604.50" cy="939.20" r="3.50" fill="#fff" stroke="#1a1a1a" stroke-width="0.85" />
<circle cx="621.00" cy="939.00" r="3.50" fill="#fff" stroke="#1a1a1a" stroke-width="0.85" />
<circle cx="625.20" cy="936.40" r="3.50" fill="#fff" stroke="#1a1a1a" stroke-width="0.85" />
<circle cx="629.20" cy="938.20" r="3.50" fill="#fff" stroke="#1a1a1a" stroke-width="0.85" />
<circle cx="632.60" cy="937.40" r="3.50" fill="#fff" stroke="#1a1a1a" stroke-width="0.85" />
<circle cx="636.40" cy="939.40" r="3.50" fill="#fff" stroke="#1a1a1a" stroke-width="0.85" />
<line x1="533.90" y1="943.60" x2="533.90" y2="947.20" stroke="#444" stroke-width="0.6" />
<line x1="565.10" y1="943.60" x2="565.10" y2="947.20" stroke="#444" stroke-width="0.6" />
<line x1="596.30" y1="943.60" x2="596.30" y2="947.20" stroke="#444" stroke-width="0.6" />
<line x1="627.50" y1="943.60" x2="627.50" y2="947.20" stroke="#444" stroke-width="0.6" />
<line x1="659.70" y1="943.60" x2="659.70" y2="947.20" stroke="#444" stroke-width="0.6" />
<path d="M528 929.8H560.2" fill="none" stroke="#333" stroke-width="0.6" />
<path d="M564.1 929.8V892.1H626.9" fill="none" stroke="#333" stroke-width="0.6" />
<path d="M597 929.2V907.8H626.9" fill="none" stroke="#333" stroke-width="0.6" />
<path d="M626.9 922.6V817.2H659.7V823.1" fill="none" stroke="#333" stroke-width="0.6" />
<text x="543.10" y="926.60" font-size="8.3" fill="#111" text-anchor="middle" font-weight="normal" >ns</text>
<text x="592.40" y="892.90" font-size="13.8" fill="#111" text-anchor="middle" font-weight="normal" >*</text>
<text x="612.10" y="905.60" font-size="8.3" fill="#111" text-anchor="middle" font-weight="normal" >ns</text>
<text x="644.00" y="821.00" font-size="13.8" fill="#111" text-anchor="middle" font-weight="normal" >****</text>
<text x="543.0" y="949.8" font-size="8.2" fill="#111" text-anchor="end" transform="rotate(-15.5 543.0 949.8)">Other TECs</text>
<text x="570.6" y="951.0" font-size="8.2" fill="#111" text-anchor="end" transform="rotate(-15.5 570.6 951.0)">nsTEC</text>
<text x="601.0" y="950.0" font-size="8.2" fill="#111" text-anchor="end" transform="rotate(-15.5 601.0 950.0)">T cell</text>
<text x="639.6" y="948.4" font-size="8.2" fill="#111" text-anchor="end" transform="rotate(-15.5 639.6 948.4)">T cell +nsTEC</text>
<text x="674.0" y="948.4" font-size="8.2" fill="#111" text-anchor="end" transform="rotate(-15.5 674.0 948.4)">T cell + other TECs</text>
</svg></body></html>
